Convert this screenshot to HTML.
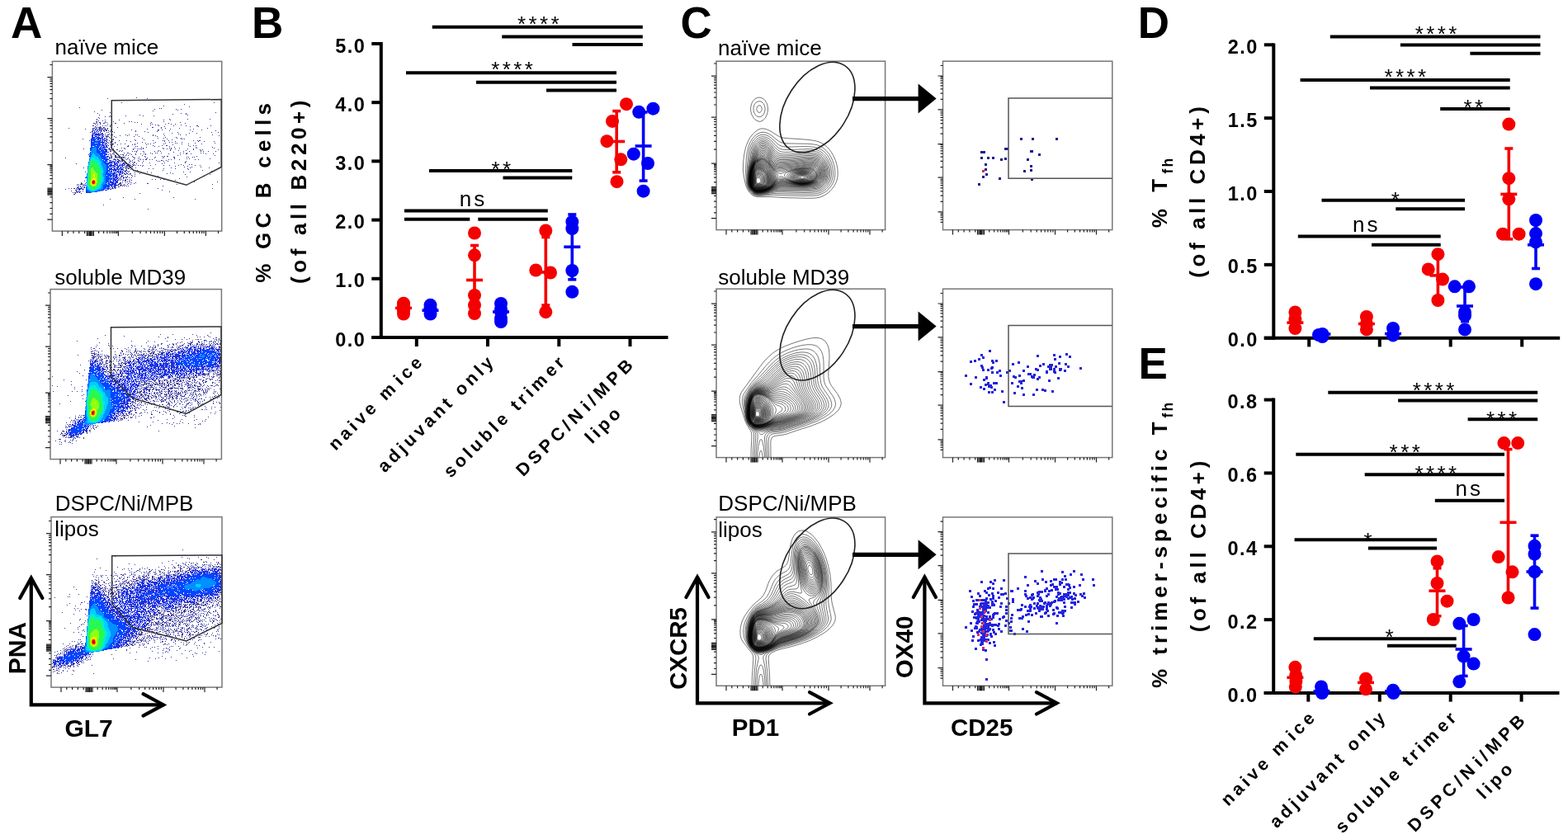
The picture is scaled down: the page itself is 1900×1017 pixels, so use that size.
<!DOCTYPE html>
<html><head><meta charset="utf-8"><title>Figure</title>
<style>
html,body{margin:0;padding:0;background:#fff;}
svg{display:block;font-family:'Liberation Sans', Arial, sans-serif;}
</style></head><body>
<svg width="1900" height="1017" viewBox="0 0 1900 1017">
<rect width="1900" height="1017" fill="#fff"/>
<text x="13.00" y="46.00" font-size="53" font-weight="bold" text-anchor="start" fill="#000">A</text>
<text x="305.00" y="46.00" font-size="53" font-weight="bold" text-anchor="start" fill="#000">B</text>
<text x="824.50" y="46.00" font-size="53" font-weight="bold" text-anchor="start" fill="#000">C</text>
<text x="1378.70" y="46.00" font-size="53" font-weight="bold" text-anchor="start" fill="#000">D</text>
<text x="1379.60" y="459.40" font-size="53" font-weight="bold" text-anchor="start" fill="#000">E</text>
<path fill="#38389c" d="M165 118h1v1h-1zm-35 1h1v1h-1zm48 0h1v1h-1zm-31 5h1v1h-1zm112 0h1v1h-1zm-36 2h1v1h-1zm-25 2h1v1h-1zm31 1h1v1h-1zm-133 1h1v1h-1zm97 1h1v1h-1zm2 0h1v1h-1zm-8 1h1v1h-1zm26 0h1v1h-1zm6 0h1v1h-1zm-96 1h1v1h-1zm92 0h1v1h-1zm-30 1h1v1h-1zm-71 1h1v1h-1zm19 1h1v1h-1zm128 0h1v1h-1zm-143 1h1v1h-1zm101 0h1v1h-1zm6 0h1v1h-1zm-16 1h1v1h-1zm16 0h1v1h-1zm-105 1h1v1h-1zm49 0h1v1h-1zm58 0h1v1h-1zm-94 1h1v1h-1zm19 0h1v1h-1zm21 0h1v1h-1zm13 0h1v1h-1zm-59 1h1v1h-1zm5 0h1v1h-1zm2 0h1v1h-1zm-15 1h1v1h-1zm1 1h1v1h-1zm-3 1h1v1h-1zm88 0h1v1h-1zm22 0h1v1h-1zm27 0h1v1h-1zm-137 1h1v1h-1zm10 0h1v1h-1zm17 0h1v1h-1zm54 0h1v1h-1zm8 0h1v1h-1zm-87 1h1v1h-1zm5 0h1v1h-1zm-8 1h2v1h-2zm11 0h1v1h-1zm10 0h1v1h-1zm19 0h1v1h-1zm3 0h1v1h-1zm39 0h1v1h-1zm-81 1h1v1h-1zm3 0h2v1h-2zm7 0h1v1h-1zm2 0h1v1h-1zm34 0h1v1h-1zm3 0h1v1h-1zm17 0h1v1h-1zm35 0h1v1h-1zm-105 1h2v1h-2zm3 0h1v1h-1zm5 0h1v1h-1zm4 0h2v1h-2zm14 0h2v1h-2zm11 0h1v1h-1zm32 0h1v1h-1zm22 0h1v1h-1zm20 0h1v1h-1zm-109 1h1v1h-1zm3 0h1v1h-1zm3 0h1v1h-1zm9 0h1v1h-1zm41 0h1v1h-1zm13 0h1v1h-1zm16 0h1v1h-1zm7 0h1v1h-1zm5 0h1v1h-1zm-78 1h1v1h-1zm48 0h1v1h-1zm6 0h1v1h-1zm3 0h1v1h-1zm28 0h1v1h-1zm-107 1h2v1h-2zm5 0h1v1h-1zm7 0h1v1h-1zm3 0h1v1h-1zm2 0h1v1h-1zm4 0h1v1h-1zm59 0h1v1h-1zm18 0h1v1h-1zm15 0h1v1h-1zm13 0h2v1h-2zm17 0h1v1h-1zm-140 1h1v1h-1zm6 0h1v1h-1zm12 0h1v1h-1zm66 0h1v1h-1zm31 0h1v1h-1zm10 0h1v1h-1zm-125 1h1v1h-1zm2 0h1v1h-1zm2 0h4v1h-4zm6 0h2v1h-2zm17 0h1v1h-1zm42 0h2v1h-2zm11 0h1v1h-1zm-112 1h1v1h-1zm29 0h3v1h-3zm4 0h2v1h-2zm4 0h2v1h-2zm3 0h1v1h-1zm2 0h1v1h-1zm2 0h1v1h-1zm3 0h1v1h-1zm5 0h1v1h-1zm60 0h1v1h-1zm5 0h1v1h-1zm17 0h1v1h-1zm34 0h1v1h-1zm-148 1h1v1h-1zm9 0h1v1h-1zm7 0h2v1h-2zm3 0h3v1h-3zm4 0h2v1h-2zm4 0h1v1h-1zm48 0h1v1h-1zm28 0h1v1h-1zm28 0h1v1h-1zm-122 1h2v1h-2zm6 0h1v1h-1zm2 0h1v1h-1zm2 0h1v1h-1zm3 0h1v1h-1zm2 0h3v1h-3zm7 0h1v1h-1zm25 0h1v1h-1zm32 0h2v1h-2zm5 0h1v1h-1zm34 0h1v1h-1zm14 0h1v1h-1zm-132 1h1v1h-1zm6 0h1v1h-1zm2 0h1v1h-1zm2 0h2v1h-2zm3 0h2v1h-2zm3 0h2v1h-2zm3 0h1v1h-1zm3 0h1v1h-1zm30 0h1v1h-1zm27 0h1v1h-1zm14 0h1v1h-1zm56 0h1v1h-1zm-150 1h1v1h-1zm15 0h1v1h-1zm7 0h1v1h-1zm2 0h2v1h-2zm29 0h1v1h-1zm11 0h1v1h-1zm15 0h1v1h-1zm43 0h1v1h-1zm-124 1h1v1h-1zm2 0h1v1h-1zm18 0h1v1h-1zm2 0h1v1h-1zm7 0h1v1h-1zm41 0h1v1h-1zm36 0h1v1h-1zm41 0h1v1h-1zm8 0h1v1h-1zm-140 1h1v1h-1zm84 0h1v1h-1zm21 0h1v1h-1zm9 0h1v1h-1zm-111 1h1v1h-1zm5 0h1v1h-1zm66 0h1v1h-1zm18 0h1v1h-1zm-91 1h1v1h-1zm5 0h2v1h-2zm4 0h1v1h-1zm2 0h1v1h-1zm16 0h1v1h-1zm4 0h1v1h-1zm8 0h1v1h-1zm2 0h1v1h-1zm19 0h1v1h-1zm33 0h1v1h-1zm7 0h1v1h-1zm32 0h1v1h-1zm-130 1h1v1h-1zm2 0h1v1h-1zm6 0h1v1h-1zm10 0h1v1h-1zm9 0h1v1h-1zm31 0h1v1h-1zm3 0h1v1h-1zm11 0h1v1h-1zm66 0h1v1h-1zm-137 1h4v1h-4zm10 0h1v1h-1zm24 0h1v1h-1zm6 0h1v1h-1zm22 0h1v1h-1zm-61 1h1v1h-1zm3 0h1v1h-1zm8 0h1v1h-1zm60 0h1v1h-1zm13 0h1v1h-1zm29 0h1v1h-1zm-113 1h1v1h-1zm4 0h1v1h-1zm39 0h1v1h-1zm19 0h1v1h-1zm7 0h1v1h-1zm16 0h1v1h-1zm5 0h1v1h-1zm-119 1h1v1h-1zm37 0h1v1h-1zm65 0h1v1h-1zm17 0h1v1h-1zm2 0h1v1h-1zm2 0h1v1h-1zm-94 1h2v1h-2zm7 0h2v1h-2zm27 0h1v1h-1zm11 0h1v1h-1zm34 0h1v1h-1zm-100 1h1v1h-1zm24 0h1v1h-1zm12 0h1v1h-1zm9 0h1v1h-1zm11 0h1v1h-1zm21 0h1v1h-1zm12 0h1v1h-1zm2 0h1v1h-1zm5 0h1v1h-1zm30 0h1v1h-1zm5 0h1v1h-1zm2 0h2v1h-2zm-107 1h3v1h-3zm24 0h1v1h-1zm41 0h1v1h-1zm13 0h1v1h-1zm28 0h1v1h-1zm7 0h1v1h-1zm12 0h1v1h-1zm-129 1h1v1h-1zm3 0h2v1h-2zm6 0h1v1h-1zm33 0h1v1h-1zm16 0h1v1h-1zm17 0h1v1h-1zm3 0h1v1h-1zm12 0h1v1h-1zm-89 1h1v1h-1zm8 0h1v1h-1zm27 0h1v1h-1zm10 0h1v1h-1zm10 0h1v1h-1zm14 0h1v1h-1zm12 0h1v1h-1zm2 0h1v1h-1zm22 0h1v1h-1zm24 0h1v1h-1zm-127 1h1v1h-1zm3 0h2v1h-2zm10 0h1v1h-1zm5 0h1v1h-1zm12 0h1v1h-1zm16 0h1v1h-1zm3 0h1v1h-1zm16 0h1v1h-1zm22 0h1v1h-1zm8 0h1v1h-1zm16 0h1v1h-1zm-114 1h1v1h-1zm4 0h1v1h-1zm2 0h1v1h-1zm6 0h1v1h-1zm18 0h1v1h-1zm3 0h1v1h-1zm14 0h1v1h-1zm32 0h1v1h-1zm-78 1h1v1h-1zm3 0h1v1h-1zm21 0h1v1h-1zm30 0h1v1h-1zm11 0h1v1h-1zm5 0h2v1h-2zm27 0h1v1h-1zm6 0h1v1h-1zm3 0h1v1h-1zm-99 1h1v1h-1zm16 0h2v1h-2zm10 0h1v1h-1zm2 0h1v1h-1zm21 0h1v1h-1zm5 0h1v1h-1zm13 0h1v1h-1zm25 0h1v1h-1zm-96 1h1v1h-1zm37 0h1v1h-1zm6 0h1v1h-1zm34 0h1v1h-1zm26 0h1v1h-1zm20 0h1v1h-1zm-125 1h1v1h-1zm15 0h1v1h-1zm3 0h1v1h-1zm13 0h1v1h-1zm10 0h1v1h-1zm24 0h1v1h-1zm8 0h1v1h-1zm2 0h1v1h-1zm10 0h1v1h-1zm21 0h1v1h-1zm21 0h1v1h-1zm-158 1h1v1h-1zm30 0h2v1h-2zm4 0h1v1h-1zm2 0h1v1h-1zm14 0h1v1h-1zm10 0h1v1h-1zm5 0h1v1h-1zm2 0h1v1h-1zm2 0h2v1h-2zm3 0h1v1h-1zm25 0h1v1h-1zm4 0h1v1h-1zm5 0h1v1h-1zm5 0h1v1h-1zm15 0h1v1h-1zm7 0h1v1h-1zm-102 1h3v1h-3zm4 0h1v1h-1zm5 0h2v1h-2zm20 0h1v1h-1zm45 0h1v1h-1zm28 0h1v1h-1zm8 0h1v1h-1zm3 0h1v1h-1zm19 0h1v1h-1zm-130 1h1v1h-1zm2 0h1v1h-1zm2 0h1v1h-1zm7 0h1v1h-1zm3 0h1v1h-1zm18 0h1v1h-1zm26 0h1v1h-1zm14 0h1v1h-1zm10 0h1v1h-1zm9 0h1v1h-1zm18 0h1v1h-1zm-110 1h2v1h-2zm11 0h1v1h-1zm3 0h1v1h-1zm13 0h1v1h-1zm3 0h1v1h-1zm2 0h1v1h-1zm8 0h1v1h-1zm14 0h1v1h-1zm4 0h1v1h-1zm3 0h1v1h-1zm28 0h1v1h-1zm7 0h1v1h-1zm14 0h1v1h-1zm3 0h1v1h-1zm6 0h1v1h-1zm9 0h1v1h-1zm-130 1h1v1h-1zm6 0h1v1h-1zm28 0h1v1h-1zm9 0h1v1h-1zm36 0h1v1h-1zm-72 1h1v1h-1zm12 0h1v1h-1zm4 0h2v1h-2zm28 0h1v1h-1zm6 0h1v1h-1zm2 0h1v1h-1zm5 0h1v1h-1zm23 0h1v1h-1zm4 0h1v1h-1zm4 0h1v1h-1zm17 0h1v1h-1zm3 0h1v1h-1zm-113 1h1v1h-1zm3 0h2v1h-2zm5 0h1v1h-1zm16 0h1v1h-1zm7 0h1v1h-1zm6 0h1v1h-1zm4 0h1v1h-1zm2 0h1v1h-1zm8 0h1v1h-1zm20 0h1v1h-1zm21 0h2v1h-2zm6 0h1v1h-1zm18 0h1v1h-1zm9 0h1v1h-1zm-124 1h1v1h-1zm4 0h1v1h-1zm4 0h1v1h-1zm4 0h1v1h-1zm2 0h2v1h-2zm5 0h1v1h-1zm6 0h1v1h-1zm5 0h1v1h-1zm12 0h1v1h-1zm42 0h1v1h-1zm-84 1h1v1h-1zm5 0h2v1h-2zm10 0h1v1h-1zm3 0h1v1h-1zm3 0h1v1h-1zm17 0h1v1h-1zm43 0h1v1h-1zm45 0h1v1h-1zm-126 1h2v1h-2zm5 0h2v1h-2zm21 0h1v1h-1zm15 0h1v1h-1zm21 0h1v1h-1zm3 0h1v1h-1zm3 0h2v1h-2zm36 0h1v1h-1zm-103 1h1v1h-1zm4 0h6v1h-6zm8 0h5v1h-5zm14 0h1v1h-1zm7 0h1v1h-1zm8 0h1v1h-1zm12 0h1v1h-1zm10 0h1v1h-1zm12 0h2v1h-2zm16 0h1v1h-1zm2 0h1v1h-1zm5 0h1v1h-1zm2 0h1v1h-1zm-156 1h1v1h-1zm54 0h3v1h-3zm7 0h1v1h-1zm4 0h1v1h-1zm5 0h1v1h-1zm6 0h1v1h-1zm7 0h2v1h-2zm16 0h1v1h-1zm9 0h1v1h-1zm10 0h1v1h-1zm14 0h1v1h-1zm-73 1h1v1h-1zm4 0h1v1h-1zm4 0h1v1h-1zm2 0h1v1h-1zm3 0h1v1h-1zm3 0h1v1h-1zm13 0h1v1h-1zm2 0h1v1h-1zm8 0h1v1h-1zm34 0h1v1h-1zm15 0h1v1h-1zm3 0h1v1h-1zm25 0h1v1h-1zm-117 1h4v1h-4zm5 0h2v1h-2zm5 0h2v1h-2zm6 0h1v1h-1zm3 0h1v1h-1zm6 0h1v1h-1zm8 0h1v1h-1zm3 0h1v1h-1zm3 0h2v1h-2zm5 0h1v1h-1zm3 0h1v1h-1zm20 0h1v1h-1zm3 0h1v1h-1zm10 0h1v1h-1zm19 0h1v1h-1zm4 0h1v1h-1zm-106 1h1v1h-1zm6 0h1v1h-1zm4 0h2v1h-2zm3 0h2v1h-2zm10 0h1v1h-1zm3 0h1v1h-1zm7 0h1v1h-1zm22 0h1v1h-1zm6 0h2v1h-2zm6 0h1v1h-1zm-56 1h1v1h-1zm2 0h2v1h-2zm3 0h2v1h-2zm8 0h1v1h-1zm10 0h1v1h-1zm5 0h1v1h-1zm18 0h1v1h-1zm2 0h1v1h-1zm5 0h1v1h-1zm5 0h1v1h-1zm22 0h1v1h-1zm-81 1h1v1h-1zm2 0h1v1h-1zm6 0h1v1h-1zm4 0h2v1h-2zm4 0h1v1h-1zm2 0h2v1h-2zm62 0h1v1h-1zm-74 1h2v1h-2zm12 0h1v1h-1zm10 0h1v1h-1zm9 0h1v1h-1zm18 0h1v1h-1zm12 0h1v1h-1zm13 0h1v1h-1zm41 0h1v1h-1zm-173 1h1v1h-1zm53 0h1v1h-1zm7 0h2v1h-2zm3 0h1v1h-1zm2 0h1v1h-1zm4 0h1v1h-1zm4 0h1v1h-1zm31 0h1v1h-1zm-45 1h1v1h-1zm4 0h2v1h-2zm5 0h1v1h-1zm2 0h1v1h-1zm26 0h1v1h-1zm31 0h1v1h-1zm10 0h1v1h-1zm3 0h1v1h-1zm-79 1h3v1h-3zm4 0h2v1h-2zm4 0h2v1h-2zm3 0h1v1h-1zm3 0h1v1h-1zm3 0h1v1h-1zm3 0h1v1h-1zm9 0h1v1h-1zm16 0h1v1h-1zm7 0h1v1h-1zm11 0h1v1h-1zm6 0h1v1h-1zm14 0h1v1h-1zm6 0h1v1h-1zm-90 1h4v1h-4zm7 0h2v1h-2zm13 0h1v1h-1zm40 0h1v1h-1zm15 0h1v1h-1zm-77 1h1v1h-1zm2 0h1v1h-1zm4 0h1v1h-1zm4 0h1v1h-1zm63 0h1v1h-1zm9 0h1v1h-1zm11 0h1v1h-1zm-142 1h1v1h-1zm48 0h1v1h-1zm3 0h4v1h-4zm5 0h1v1h-1zm7 0h1v1h-1zm43 0h1v1h-1zm23 0h1v1h-1zm23 0h1v1h-1zm-101 1h1v1h-1zm3 0h2v1h-2zm25 0h1v1h-1zm5 0h1v1h-1zm13 0h1v1h-1zm14 0h1v1h-1zm15 0h1v1h-1zm-78 1h1v1h-1zm4 0h1v1h-1zm5 0h1v1h-1zm2 0h1v1h-1zm68 0h1v1h-1zm-76 1h2v1h-2zm14 0h1v1h-1zm31 0h1v1h-1zm48 0h1v1h-1zm-94 1h2v1h-2zm3 0h1v1h-1zm2 0h1v1h-1zm100 0h1v1h-1zm-153 1h1v1h-1zm49 0h1v1h-1zm3 0h1v1h-1zm23 0h1v1h-1zm44 0h1v1h-1zm8 0h1v1h-1zm-77 1h1v1h-1zm10 0h1v1h-1zm20 0h1v1h-1zm23 0h1v1h-1zm-56 1h2v1h-2zm3 0h2v1h-2zm4 0h2v1h-2zm12 0h1v1h-1zm8 0h1v1h-1zm25 0h1v1h-1zm7 0h1v1h-1zm-58 1h2v1h-2zm4 0h1v1h-1zm2 0h1v1h-1zm6 0h1v1h-1zm61 0h1v1h-1zm30 0h1v1h-1zm-107 1h1v1h-1zm2 0h1v1h-1zm10 0h1v1h-1zm-15 1h1v1h-1zm3 0h2v1h-2zm7 0h1v1h-1zm6 0h1v1h-1zm3 0h1v1h-1zm28 0h1v1h-1zm56 0h1v1h-1zm-101 1h2v1h-2zm3 0h1v1h-1zm3 0h1v1h-1zm2 0h1v1h-1zm72 0h1v1h-1zm-81 1h1v1h-1zm4 0h2v1h-2zm3 0h2v1h-2zm4 0h1v1h-1zm3 0h1v1h-1zm34 0h1v1h-1zm-49 1h1v1h-1zm2 0h1v1h-1zm3 0h1v1h-1zm68 0h1v1h-1zm-72 1h1v1h-1zm2 0h1v1h-1zm5 0h1v1h-1zm2 0h1v1h-1zm3 0h1v1h-1zm27 0h1v1h-1zm4 0h1v1h-1zm6 0h1v1h-1zm4 0h1v1h-1zm-53 1h1v1h-1zm4 0h1v1h-1zm2 0h2v1h-2zm8 0h1v1h-1zm53 0h1v1h-1zm-110 1h1v1h-1zm46 0h1v1h-1zm3 0h2v1h-2zm5 0h2v1h-2zm-2 1h1v1h-1zm81 0h1v1h-1zm28 0h1v1h-1zm-165 1h1v1h-1zm47 0h2v1h-2zm3 0h1v1h-1zm4 0h1v1h-1zm5 0h1v1h-1zm2 0h1v1h-1zm5 0h1v1h-1zm-66 1h2v1h-2zm46 0h3v1h-3zm11 0h1v1h-1zm7 0h1v1h-1zm16 0h2v1h-2zm-84 1h1v1h-1zm3 0h3v1h-3zm4 0h1v1h-1zm42 0h2v1h-2zm3 0h1v1h-1zm4 0h1v1h-1zm4 0h1v1h-1zm4 0h1v1h-1zm56 0h1v1h-1zm43 0h1v1h-1zm-164 1h1v1h-1zm2 0h1v1h-1zm5 0h1v1h-1zm42 0h2v1h-2zm3 0h3v1h-3zm4 0h1v1h-1zm2 0h1v1h-1zm-54 1h1v1h-1zm49 0h1v1h-1zm2 0h1v1h-1zm2 0h1v1h-1zm3 0h1v1h-1zm2 0h1v1h-1zm42 0h1v1h-1zm-103 1h2v1h-2zm3 0h1v1h-1zm2 0h1v1h-1zm44 0h2v1h-2zm-50 1h1v1h-1zm5 0h1v1h-1zm40 0h3v1h-3zm-55 1h1v1h-1zm3 0h1v1h-1zm3 0h2v1h-2zm3 0h1v1h-1zm6 0h2v1h-2zm37 0h3v1h-3zm4 0h1v1h-1zm52 0h1v1h-1zm66 0h1v1h-1zm-178 1h1v1h-1zm14 0h1v1h-1zm6 0h3v1h-3zm34 0h2v1h-2zm-42 1h2v1h-2zm5 0h1v1h-1zm100 0h1v1h-1zm-110 1h1v1h-1zm6 0h1v1h-1zm8 0h1v1h-1zm-8 1h6v1h-6zm113 0h1v1h-1zm-117 1h1v1h-1zm2 0h2v1h-2zm3 0h1v1h-1zm3 0h1v1h-1zm-5 1h1v1h-1zm7 0h1v1h-1zm71 0h1v1h-1zm-80 1h2v1h-2zm60 4h1v1h-1zm61 0h1v1h-1zm-77 2h1v1h-1zm30 0h1v1h-1zm73 0h1v1h-1zm-111 7h1v1h-1zm54 5h1v1h-1z"/>
<path fill="#1e32e0" d="M115 156h1v1h-1zm6 0h1v1h-1zm-6 1h3v1h-3zm-1 1h1v1h-1zm7 0h1v1h-1zm-9 1h1v1h-1zm2 0h1v1h-1zm2 0h2v1h-2zm3 0h1v1h-1zm3 0h1v1h-1zm-8 1h2v1h-2zm4 0h1v1h-1zm3 0h1v1h-1zm-9 1h3v1h-3zm4 0h1v1h-1zm3 0h1v1h-1zm2 0h1v1h-1zm2 0h1v1h-1zm-11 1h1v1h-1zm2 0h7v1h-7zm8 0h3v1h-3zm-11 1h3v1h-3zm4 0h8v1h-8zm9 0h1v1h-1zm-13 1h2v1h-2zm3 0h2v1h-2zm3 0h1v1h-1zm2 0h2v1h-2zm4 0h2v1h-2zm-12 1h2v1h-2zm4 0h3v1h-3zm4 0h1v1h-1zm3 0h1v1h-1zm2 0h2v1h-2zm-13 1h3v1h-3zm4 0h1v1h-1zm2 0h4v1h-4zm6 0h2v1h-2zm-12 1h1v1h-1zm5 0h9v1h-9zm10 0h2v1h-2zm-16 1h2v1h-2zm8 0h5v1h-5zm6 0h1v1h-1zm2 0h1v1h-1zm2 0h1v1h-1zm-18 1h2v1h-2zm11 0h1v1h-1zm2 0h4v1h-4zm5 0h1v1h-1zm-18 1h1v1h-1zm11 0h2v1h-2zm3 0h1v1h-1zm2 0h3v1h-3zm-16 1h1v1h-1zm11 0h1v1h-1zm2 0h2v1h-2zm3 0h1v1h-1zm2 0h2v1h-2zm-18 1h1v1h-1zm11 0h6v1h-6zm-11 1h1v1h-1zm13 0h3v1h-3zm4 0h3v1h-3zm-17 1h1v1h-1zm14 0h1v1h-1zm2 0h1v1h-1zm2 0h1v1h-1zm-18 1h1v1h-1zm12 0h4v1h-4zm5 0h2v1h-2zm-17 1h1v1h-1zm13 0h4v1h-4zm5 0h2v1h-2zm-5 1h1v1h-1zm2 0h2v1h-2zm3 0h2v1h-2zm-4 1h7v1h-7zm-15 1h1v1h-1zm16 0h2v1h-2zm1 1h3v1h-3zm0 1h4v1h-4zm1 1h3v1h-3zm0 1h3v1h-3zm0 1h4v1h-4zm0 1h1v1h-1zm-19 1h1v1h-1zm19 0h3v1h-3zm-20 1h1v1h-1zm20 0h3v1h-3zm4 0h1v1h-1zm-4 1h1v1h-1zm2 1h3v1h-3zm-1 1h3v1h-3zm4 0h1v1h-1zm0 1h1v1h-1zm-3 1h2v1h-2zm3 0h1v1h-1zm-3 1h3v1h-3zm0 1h1v1h-1zm3 0h2v1h-2zm11 0h1v1h-1zm-13 1h1v1h-1zm3 0h1v1h-1zm2 0h3v1h-3zm4 0h1v1h-1zm3 0h2v1h-2zm-10 1h4v1h-4zm5 0h3v1h-3zm4 0h3v1h-3zm-10 1h6v1h-6zm7 0h2v1h-2zm3 0h1v1h-1zm2 0h1v1h-1zm6 0h1v1h-1zm-17 1h1v1h-1zm2 0h1v1h-1zm4 0h5v1h-5zm10 0h3v1h-3zm-15 1h3v1h-3zm5 0h3v1h-3zm4 0h1v1h-1zm3 0h1v1h-1zm2 0h2v1h-2zm3 0h1v1h-1zm-17 1h6v1h-6zm7 0h3v1h-3zm4 0h7v1h-7zm-11 1h3v1h-3zm4 0h3v1h-3zm5 0h3v1h-3zm6 0h1v1h-1zm-15 1h1v1h-1zm3 0h1v1h-1zm2 0h1v1h-1zm2 0h1v1h-1zm2 0h2v1h-2zm3 0h4v1h-4zm-11 1h2v1h-2zm3 0h2v1h-2zm4 0h3v1h-3zm5 0h1v1h-1zm-13 1h3v1h-3zm5 0h2v1h-2zm3 0h2v1h-2zm3 0h5v1h-5zm-11 1h12v1h-12zm13 0h3v1h-3zm-11 1h1v1h-1zm2 0h4v1h-4zm6 0h1v1h-1zm2 0h1v1h-1zm2 0h1v1h-1zm2 0h1v1h-1zm-15 1h2v1h-2zm3 0h1v1h-1zm2 0h5v1h-5zm6 0h2v1h-2zm3 0h1v1h-1zm2 0h1v1h-1zm-15 1h1v1h-1zm3 0h1v1h-1zm4 0h7v1h-7zm-5 1h5v1h-5zm6 0h1v1h-1zm2 0h2v1h-2zm3 0h2v1h-2zm-12 1h4v1h-4zm8 0h2v1h-2zm3 0h2v1h-2zm-10 1h2v1h-2zm3 0h3v1h-3zm4 0h3v1h-3zm-7 1h5v1h-5zm7 0h1v1h-1zm-7 1h2v1h-2zm3 0h3v1h-3zm-3 1h5v1h-5zm-34 1h1v1h-1zm34 0h1v1h-1zm2 0h5v1h-5zm-3 1h4v1h-4zm5 0h2v1h-2zm-7 1h2v1h-2zm3 0h5v1h-5zm6 0h1v1h-1zm-10 1h1v1h-1zm3 0h5v1h-5zm6 0h2v1h-2zm-9 1h2v1h-2zm4 0h1v1h-1zm2 0h4v1h-4zm-6 1h6v1h-6zm7 0h3v1h-3zm-7 1h5v1h-5zm6 0h4v1h-4zm-36 1h1v1h-1zm32 0h6v1h-6zm-1 1h7v1h-7zm-32 1h2v1h-2zm31 0h4v1h-4zm5 0h4v1h-4zm-37 1h1v1h-1zm31 0h1v1h-1zm2 0h2v1h-2zm3 0h4v1h-4zm-35 1h1v1h-1zm30 0h1v1h-1zm3 0h2v1h-2zm3 0h2v1h-2zm-44 1h1v1h-1zm7 0h2v1h-2zm30 0h1v1h-1zm2 0h1v1h-1zm3 0h1v1h-1zm-42 1h4v1h-4zm35 0h4v1h-4zm-34 1h3v1h-3zm35 0h2v1h-2zm-35 1h1v1h-1zm30 0h1v1h-1zm2 0h3v1h-3zm-4 1h1v1h-1zm-19 1h1v1h-1zm0 1h3v1h-3z"/>
<path fill="#0046ff" d="M114 166h1v1h-1zm-2 1h3v1h-3zm0 1h5v1h-5zm0 1h4v1h-4zm5 0h3v1h-3zm-6 1h5v1h-5zm6 0h1v1h-1zm2 0h2v1h-2zm-8 1h1v1h-1zm2 0h8v1h-8zm-2 1h10v1h-10zm0 1h4v1h-4zm5 0h1v1h-1zm2 0h4v1h-4zm-7 1h11v1h-11zm0 1h11v1h-11zm0 1h5v1h-5zm6 0h5v1h-5zm-7 1h2v1h-2zm4 0h7v1h-7zm8 0h1v1h-1zm-12 1h4v1h-4zm6 0h4v1h-4zm5 0h2v1h-2zm-11 1h2v1h-2zm7 0h8v1h-8zm-8 1h2v1h-2zm8 0h2v1h-2zm3 0h3v1h-3zm4 0h1v1h-1zm-15 1h2v1h-2zm8 0h9v1h-9zm-8 1h1v1h-1zm8 0h4v1h-4zm5 0h4v1h-4zm-5 1h10v1h-10zm-8 1h1v1h-1zm8 0h5v1h-5zm6 0h4v1h-4zm-14 1h1v1h-1zm9 0h9v1h-9zm-9 1h1v1h-1zm11 0h7v1h-7zm-11 1h1v1h-1zm12 0h4v1h-4zm5 0h1v1h-1zm-18 1h2v1h-2zm13 0h6v1h-6zm-13 1h2v1h-2zm14 0h6v1h-6zm-14 1h1v1h-1zm14 0h6v1h-6zm1 1h6v1h-6zm-15 1h1v1h-1zm15 0h6v1h-6zm2 1h4v1h-4zm-1 1h2v1h-2zm3 0h2v1h-2zm-2 1h5v1h-5zm-18 1h1v1h-1zm18 0h4v1h-4zm1 1h5v1h-5zm1 1h5v1h-5zm1 1h4v1h-4zm1 1h2v1h-2zm3 0h1v1h-1zm-3 1h4v1h-4zm0 1h3v1h-3zm0 1h4v1h-4zm0 1h2v1h-2zm3 0h1v1h-1zm-3 1h2v1h-2zm3 0h1v1h-1zm-3 1h5v1h-5zm0 1h4v1h-4zm-1 1h3v1h-3zm4 0h3v1h-3zm-4 1h4v1h-4zm5 0h1v1h-1zm2 0h1v1h-1zm-7 1h8v1h-8zm-1 1h8v1h-8zm9 0h1v1h-1zm-8 1h1v1h-1zm2 0h7v1h-7zm-2 1h8v1h-8zm-24 1h1v1h-1zm24 0h4v1h-4zm5 0h2v1h-2zm3 0h1v1h-1zm-32 1h1v1h-1zm24 0h6v1h-6zm7 0h1v1h-1zm-7 1h8v1h-8zm0 1h6v1h-6zm0 1h4v1h-4zm0 1h5v1h-5zm0 1h4v1h-4zm-24 1h1v1h-1zm24 0h2v1h-2zm3 0h2v1h-2zm-3 1h1v1h-1zm2 0h3v1h-3zm-3 1h3v1h-3zm4 0h3v1h-3zm-27 1h1v1h-1zm21 0h8v1h-8zm0 1h7v1h-7zm-21 1h1v1h-1zm21 0h7v1h-7zm-21 1h1v1h-1zm21 0h4v1h-4zm5 0h1v1h-1zm-26 1h1v1h-1zm21 0h4v1h-4zm-21 1h1v1h-1zm20 0h3v1h-3zm-20 1h2v1h-2zm17 0h4v1h-4zm-17 1h3v1h-3zm14 0h4v1h-4zm-13 1h4v1h-4zm10 0h3v1h-3zm-8 1h4v1h-4z"/>
<path fill="#0090ff" d="M114 178h2v1h-2zm-2 1h5v1h-5zm-1 1h6v1h-6zm0 1h6v1h-6zm-1 1h7v1h-7zm0 1h7v1h-7zm0 1h7v1h-7zm0 1h8v1h-8zm0 1h2v1h-2zm4 0h6v1h-6zm-4 1h2v1h-2zm5 0h6v1h-6zm-5 1h1v1h-1zm6 0h5v1h-5zm-6 1h1v1h-1zm7 0h5v1h-5zm-8 1h1v1h-1zm10 0h3v1h-3zm-10 1h1v1h-1zm10 0h4v1h-4zm1 1h3v1h-3zm-12 1h1v1h-1zm13 0h3v1h-3zm-13 1h1v1h-1zm14 0h2v1h-2zm0 1h3v1h-3zm1 1h2v1h-2zm-16 1h1v1h-1zm16 0h3v1h-3zm-16 1h1v1h-1zm16 0h4v1h-4zm-16 1h1v1h-1zm16 0h5v1h-5zm1 1h5v1h-5zm-18 1h1v1h-1zm18 0h5v1h-5zm-18 1h1v1h-1zm18 0h5v1h-5zm-18 1h1v1h-1zm19 0h4v1h-4zm-19 1h1v1h-1zm19 0h4v1h-4zm-19 1h1v1h-1zm19 0h4v1h-4zm0 1h4v1h-4zm1 1h3v1h-3zm0 1h2v1h-2zm-1 1h3v1h-3zm-20 1h1v1h-1zm20 0h3v1h-3zm-20 1h1v1h-1zm20 0h2v1h-2zm-20 1h1v1h-1zm20 0h3v1h-3zm-20 1h1v1h-1zm20 0h3v1h-3zm-20 1h1v1h-1zm21 0h2v1h-2zm-21 1h1v1h-1zm21 0h2v1h-2zm-21 1h1v1h-1zm21 0h2v1h-2zm-21 1h1v1h-1zm21 0h2v1h-2zm-21 1h1v1h-1zm21 0h2v1h-2zm-21 1h1v1h-1zm21 0h2v1h-2zm-1 1h3v1h-3zm0 1h3v1h-3zm-1 1h4v1h-4zm-1 1h4v1h-4zm0 1h2v1h-2zm0 1h2v1h-2zm-18 1h1v1h-1zm18 0h2v1h-2zm-18 1h1v1h-1zm17 0h3v1h-3zm-17 1h1v1h-1zm17 0h3v1h-3zm-17 1h2v1h-2zm14 0h5v1h-5zm-13 1h2v1h-2zm11 0h4v1h-4zm-10 1h3v1h-3zm8 0h3v1h-3zm-6 1h6v1h-6z"/>
<path fill="#00d0ff" d="M112 186h2v1h-2zm0 1h3v1h-3zm-1 1h5v1h-5zm0 1h6v1h-6zm-1 1h9v1h-9zm0 1h1v1h-1zm5 0h4v1h-4zm-6 1h2v1h-2zm6 0h5v1h-5zm-6 1h1v1h-1zm8 0h4v1h-4zm-8 1h1v1h-1zm10 0h3v1h-3zm-11 1h1v1h-1zm12 0h2v1h-2zm-12 1h1v1h-1zm13 0h2v1h-2zm-13 1h1v1h-1zm13 0h2v1h-2zm0 1h2v1h-2zm0 1h2v1h-2zm-14 1h1v1h-1zm14 0h3v1h-3zm-14 1h1v1h-1zm15 0h2v1h-2zm0 1h2v1h-2zm0 1h3v1h-3zm1 1h2v1h-2zm0 1h2v1h-2zm-17 1h1v1h-1zm18 0h1v1h-1zm-18 1h1v1h-1zm18 0h2v1h-2zm-18 1h1v1h-1zm18 0h2v1h-2zm-18 1h1v1h-1zm18 0h1v1h-1zm-18 1h1v1h-1zm17 0h2v1h-2zm-17 1h1v1h-1zm17 0h2v1h-2zm0 1h2v1h-2zm1 1h1v1h-1zm0 1h2v1h-2zm-18 1h1v1h-1zm18 0h2v1h-2zm-18 1h1v1h-1zm18 0h2v1h-2zm0 1h2v1h-2zm0 1h2v1h-2zm0 1h2v1h-2zm-19 1h1v1h-1zm18 0h2v1h-2zm-18 1h1v1h-1zm18 0h2v1h-2zm-18 1h1v1h-1zm17 0h2v1h-2zm-17 1h1v1h-1zm17 0h1v1h-1zm-17 1h1v1h-1zm16 0h2v1h-2zm-16 1h1v1h-1zm16 0h2v1h-2zm-15 1h1v1h-1zm14 0h3v1h-3zm-14 1h1v1h-1zm14 0h2v1h-2zm-14 1h2v1h-2zm12 0h4v1h-4zm-11 1h2v1h-2zm10 0h2v1h-2zm-9 1h2v1h-2zm7 0h2v1h-2zm-5 1h5v1h-5z"/>
<path fill="#00f0d0" d="M111 191h4v1h-4zm0 1h4v1h-4zm-1 1h7v1h-7zm0 1h1v1h-1zm3 0h6v1h-6zm-4 1h1v1h-1zm5 0h6v1h-6zm-5 1h1v1h-1zm7 0h5v1h-5zm1 1h4v1h-4zm-9 1h1v1h-1zm10 0h3v1h-3zm-10 1h1v1h-1zm11 0h2v1h-2zm-11 1h1v1h-1zm11 0h2v1h-2zm1 1h2v1h-2zm-13 1h1v1h-1zm13 0h2v1h-2zm-13 1h1v1h-1zm14 0h1v1h-1zm-14 1h1v1h-1zm14 0h2v1h-2zm-14 1h1v1h-1zm14 0h2v1h-2zm-14 1h1v1h-1zm15 0h2v1h-2zm0 1h2v1h-2zm0 1h2v1h-2zm0 1h2v1h-2zm0 1h1v1h-1zm0 1h1v1h-1zm-16 1h1v1h-1zm16 0h1v1h-1zm-16 1h1v1h-1zm16 0h2v1h-2zm-16 1h1v1h-1zm16 0h2v1h-2zm1 1h1v1h-1zm0 1h1v1h-1zm-17 1h1v1h-1zm16 0h2v1h-2zm-16 1h1v1h-1zm16 0h2v1h-2zm-16 1h1v1h-1zm16 0h2v1h-2zm-16 1h1v1h-1zm15 0h2v1h-2zm-15 1h1v1h-1zm15 0h2v1h-2zm-15 1h1v1h-1zm15 0h1v1h-1zm-15 1h1v1h-1zm14 0h2v1h-2zm-14 1h1v1h-1zm14 0h1v1h-1zm-14 1h1v1h-1zm13 0h2v1h-2zm-12 1h1v1h-1zm11 0h2v1h-2zm-11 1h2v1h-2zm10 0h3v1h-3zm-9 1h2v1h-2zm8 0h2v1h-2zm-7 1h2v1h-2zm6 0h2v1h-2zm-5 1h5v1h-5z"/>
<path fill="#28f850" d="M111 194h2v1h-2zm-1 1h4v1h-4zm0 1h6v1h-6zm-1 1h8v1h-8zm0 1h9v1h-9zm0 1h10v1h-10zm0 1h10v1h-10zm-1 1h12v1h-12zm0 1h12v1h-12zm0 1h3v1h-3zm5 0h8v1h-8zm-5 1h2v1h-2zm5 0h8v1h-8zm-5 1h2v1h-2zm5 0h8v1h-8zm-5 1h2v1h-2zm6 0h8v1h-8zm-7 1h3v1h-3zm8 0h7v1h-7zm-8 1h3v1h-3zm9 0h6v1h-6zm-9 1h3v1h-3zm10 0h5v1h-5zm-10 1h3v1h-3zm11 0h4v1h-4zm-11 1h3v1h-3zm11 0h4v1h-4zm-11 1h3v1h-3zm11 0h4v1h-4zm-11 1h3v1h-3zm11 0h4v1h-4zm-11 1h3v1h-3zm11 0h4v1h-4zm-11 1h3v1h-3zm11 0h5v1h-5zm-11 1h3v1h-3zm11 0h5v1h-5zm-11 1h3v1h-3zm11 0h4v1h-4zm-11 1h3v1h-3zm11 0h4v1h-4zm-11 1h2v1h-2zm11 0h4v1h-4zm-11 1h2v1h-2zm11 0h3v1h-3zm-11 1h2v1h-2zm11 0h3v1h-3zm-11 1h2v1h-2zm10 0h4v1h-4zm-10 1h2v1h-2zm10 0h3v1h-3zm-10 1h3v1h-3zm10 0h3v1h-3zm-10 1h4v1h-4zm9 0h3v1h-3zm-8 1h10v1h-10zm1 1h8v1h-8zm1 1h6v1h-6zm1 1h4v1h-4z"/>
<path fill="#90ff10" d="M111 203h2v1h-2zm-1 1h3v1h-3zm0 1h3v1h-3zm0 1h4v1h-4zm0 1h5v1h-5zm0 1h6v1h-6zm0 1h7v1h-7zm0 1h8v1h-8zm0 1h3v1h-3zm5 0h3v1h-3zm-5 1h3v1h-3zm5 0h3v1h-3zm-5 1h3v1h-3zm5 0h3v1h-3zm-5 1h4v1h-4zm5 0h3v1h-3zm-5 1h3v1h-3zm5 0h3v1h-3zm-5 1h2v1h-2zm6 0h2v1h-2zm-6 1h2v1h-2zm6 0h2v1h-2zm-6 1h1v1h-1zm6 0h2v1h-2zm-7 1h1v1h-1zm8 0h1v1h-1zm-8 1h1v1h-1zm8 0h1v1h-1zm-8 1h1v1h-1zm8 0h1v1h-1zm-8 1h1v1h-1zm7 0h1v1h-1zm-7 1h2v1h-2zm7 0h1v1h-1zm-6 1h2v1h-2zm5 0h2v1h-2zm-4 1h5v1h-5z"/>
<path fill="#e8ff00" d="M113 211h2v1h-2zm0 1h2v1h-2zm0 1h2v1h-2zm1 1h1v1h-1zm-1 1h2v1h-2zm-1 1h4v1h-4zm0 1h4v1h-4zm-1 1h1v1h-1zm4 0h1v1h-1zm-5 1h1v1h-1zm6 0h1v1h-1zm-6 1h1v1h-1zm6 0h1v1h-1zm-6 1h1v1h-1zm6 0h1v1h-1zm-6 1h1v1h-1zm1 1h1v1h-1zm4 0h1v1h-1zm-3 1h3v1h-3z"/>
<path fill="#ffb000" d="M112 218h1v1h-1zm2 0h1v1h-1zm-3 1h1v1h-1zm4 0h1v1h-1zm0 1h1v1h-1zm0 1h1v1h-1zm-4 1h1v1h-1zm4 0h1v1h-1zm-3 1h3v1h-3z"/>
<path fill="#ff5000" d="M113 218h1v1h-1zm-2 2h1v1h-1zm0 1h1v1h-1zm3 1h1v1h-1z"/>
<path fill="#e00000" d="M112 219h3v1h-3zm0 1h3v1h-3zm0 1h3v1h-3zm0 1h2v1h-2z"/>
<rect x="63.40" y="74.40" width="205.30" height="205.70" fill="none" stroke="#777" stroke-width="1.5"/>
<path d="M57.4 266.1H63.4M57.4 232.1H63.4M57.4 199.6H63.4M57.4 143.6H63.4M57.4 93.6H63.4M60.4 259.3H63.4M60.4 252.5H63.4M60.4 245.7H63.4M60.4 238.9H63.4M60.4 222.3H63.4M60.4 216.6H63.4M60.4 212.5H63.4M60.4 209.4H63.4M60.4 206.8H63.4M60.4 204.6H63.4M60.4 202.7H63.4M60.4 201.1H63.4M60.4 182.7H63.4M60.4 172.9H63.4M60.4 165.9H63.4M60.4 160.5H63.4M60.4 156.0H63.4M60.4 152.3H63.4M60.4 149.0H63.4M60.4 146.2H63.4M60.4 128.5H63.4M60.4 119.7H63.4M60.4 113.5H63.4M60.4 108.7H63.4M60.4 104.7H63.4M60.4 101.3H63.4M60.4 98.4H63.4M60.4 95.9H63.4M57.4 236.1H63.4M57.4 234.6H63.4M57.4 233.1H63.4M57.4 231.1H63.4M57.4 229.6H63.4M57.4 228.1H63.4M60.4 78.5H63.4M75.4 280.1V286.1M109.4 280.1V286.1M143.4 280.1V286.1M199.4 280.1V286.1M249.4 280.1V286.1M82.2 280.1V283.1M89.0 280.1V283.1M95.8 280.1V283.1M102.6 280.1V283.1M119.6 280.1V283.1M125.6 280.1V283.1M129.9 280.1V283.1M133.2 280.1V283.1M135.9 280.1V283.1M138.1 280.1V283.1M140.1 280.1V283.1M141.8 280.1V283.1M160.3 280.1V283.1M170.1 280.1V283.1M177.1 280.1V283.1M182.5 280.1V283.1M187.0 280.1V283.1M190.7 280.1V283.1M194.0 280.1V283.1M196.8 280.1V283.1M214.5 280.1V283.1M223.3 280.1V283.1M229.5 280.1V283.1M234.3 280.1V283.1M238.3 280.1V283.1M241.7 280.1V283.1M244.6 280.1V283.1M247.1 280.1V283.1M105.4 280.1V286.1M106.9 280.1V286.1M108.4 280.1V286.1M110.4 280.1V286.1M111.9 280.1V286.1M113.4 280.1V286.1M264.5 280.1V283.1" stroke="#222" stroke-width="1.2" fill="none"/>
<polyline points="135.3,180 135.3,121.7 268.2,120.5 268.2,202.5 225.8,224.3 162,206.5 135.3,180" fill="none" stroke="#333" stroke-width="1.5"/>
<path fill="#38389c" d="M255 403h1v1h-1zm-61 2h1v1h-1zm15 0h1v1h-1zm24 0h1v1h-1zm-106 1h1v1h-1zm111 0h1v1h-1zm13 0h1v1h-1zm-101 1h1v1h-1zm102 0h1v1h-1zm-60 1h1v1h-1zm11 0h1v1h-1zm36 0h1v1h-1zm3 0h1v1h-1zm5 0h1v1h-1zm7 0h1v1h-1zm-51 1h1v1h-1zm20 0h1v1h-1zm38 0h2v1h-2zm-143 1h1v1h-1zm82 0h1v1h-1zm29 0h1v1h-1zm29 0h1v1h-1zm7 0h1v1h-1zm-53 1h1v1h-1zm8 0h1v1h-1zm6 0h1v1h-1zm11 0h1v1h-1zm2 0h2v1h-2zm4 0h1v1h-1zm17 0h1v1h-1zm2 0h1v1h-1zm3 0h1v1h-1zm-32 1h1v1h-1zm14 0h3v1h-3zm15 0h1v1h-1zm2 0h1v1h-1zm2 0h1v1h-1zm-173 1h1v1h-1zm66 0h1v1h-1zm20 0h1v1h-1zm23 0h1v1h-1zm38 0h1v1h-1zm7 0h1v1h-1zm3 0h1v1h-1zm5 0h2v1h-2zm4 0h1v1h-1zm-72 1h1v1h-1zm33 0h1v1h-1zm10 0h1v1h-1zm2 0h2v1h-2zm8 0h2v1h-2zm4 0h1v1h-1zm9 0h2v1h-2zm5 0h1v1h-1zm2 0h2v1h-2zm4 0h1v1h-1zm3 0h1v1h-1zm-147 1h1v1h-1zm57 0h1v1h-1zm38 0h1v1h-1zm3 0h1v1h-1zm9 0h1v1h-1zm4 0h2v1h-2zm10 0h1v1h-1zm6 0h1v1h-1zm11 0h1v1h-1zm-127 1h1v1h-1zm64 0h2v1h-2zm14 0h1v1h-1zm4 0h1v1h-1zm10 0h1v1h-1zm5 0h4v1h-4zm10 0h2v1h-2zm6 0h2v1h-2zm9 0h1v1h-1zm3 0h1v1h-1zm3 0h1v1h-1zm3 0h2v1h-2zm4 0h2v1h-2zm-75 1h1v1h-1zm4 0h1v1h-1zm10 0h1v1h-1zm4 0h2v1h-2zm4 0h1v1h-1zm9 0h1v1h-1zm8 0h2v1h-2zm3 0h1v1h-1zm5 0h2v1h-2zm3 0h1v1h-1zm2 0h2v1h-2zm3 0h2v1h-2zm4 0h1v1h-1zm4 0h1v1h-1zm4 0h1v1h-1zm2 0h2v1h-2zm3 0h2v1h-2zm3 0h1v1h-1zm-149 1h1v1h-1zm14 0h1v1h-1zm28 0h1v1h-1zm27 0h1v1h-1zm5 0h1v1h-1zm12 0h1v1h-1zm7 0h1v1h-1zm10 0h2v1h-2zm7 0h2v1h-2zm3 0h1v1h-1zm5 0h1v1h-1zm3 0h1v1h-1zm4 0h1v1h-1zm2 0h2v1h-2zm5 0h1v1h-1zm5 0h2v1h-2zm3 0h1v1h-1zm-125 1h1v1h-1zm4 0h1v1h-1zm24 0h1v1h-1zm3 0h1v1h-1zm8 0h1v1h-1zm8 0h1v1h-1zm9 0h1v1h-1zm3 0h1v1h-1zm12 0h1v1h-1zm11 0h1v1h-1zm3 0h3v1h-3zm4 0h1v1h-1zm7 0h1v1h-1zm3 0h1v1h-1zm9 0h1v1h-1zm3 0h1v1h-1zm8 0h1v1h-1zm2 0h2v1h-2zm5 0h3v1h-3zm7 0h1v1h-1zm-149 1h1v1h-1zm66 0h1v1h-1zm3 0h1v1h-1zm3 0h1v1h-1zm16 0h1v1h-1zm4 0h2v1h-2zm8 0h1v1h-1zm8 0h2v1h-2zm3 0h1v1h-1zm38 0h2v1h-2zm-155 1h1v1h-1zm45 0h1v1h-1zm4 0h1v1h-1zm22 0h1v1h-1zm3 0h1v1h-1zm3 0h2v1h-2zm8 0h1v1h-1zm8 0h1v1h-1zm4 0h1v1h-1zm2 0h1v1h-1zm5 0h1v1h-1zm2 0h2v1h-2zm5 0h1v1h-1zm2 0h1v1h-1zm2 0h1v1h-1zm37 0h1v1h-1zm3 0h2v1h-2zm-152 1h2v1h-2zm7 0h1v1h-1zm13 0h1v1h-1zm4 0h1v1h-1zm5 0h1v1h-1zm9 0h1v1h-1zm13 0h1v1h-1zm10 0h1v1h-1zm11 0h1v1h-1zm8 0h1v1h-1zm2 0h1v1h-1zm2 0h2v1h-2zm18 0h1v1h-1zm3 0h2v1h-2zm3 0h1v1h-1zm-111 1h1v1h-1zm43 0h1v1h-1zm11 0h1v1h-1zm11 0h1v1h-1zm5 0h2v1h-2zm4 0h3v1h-3zm5 0h1v1h-1zm10 0h3v1h-3zm4 0h1v1h-1zm4 0h2v1h-2zm4 0h2v1h-2zm4 0h3v1h-3zm-100 1h1v1h-1zm32 0h1v1h-1zm8 0h1v1h-1zm2 0h1v1h-1zm7 0h1v1h-1zm15 0h1v1h-1zm4 0h1v1h-1zm5 0h1v1h-1zm7 0h1v1h-1zm2 0h1v1h-1zm6 0h1v1h-1zm2 0h2v1h-2zm4 0h2v1h-2zm3 0h3v1h-3zm-100 1h1v1h-1zm2 0h1v1h-1zm3 0h1v1h-1zm6 0h1v1h-1zm24 0h2v1h-2zm16 0h2v1h-2zm3 0h1v1h-1zm2 0h1v1h-1zm3 0h1v1h-1zm3 0h1v1h-1zm5 0h1v1h-1zm2 0h1v1h-1zm3 0h2v1h-2zm6 0h1v1h-1zm2 0h1v1h-1zm4 0h1v1h-1zm4 0h1v1h-1zm3 0h1v1h-1zm3 0h3v1h-3zm5 0h2v1h-2zm-101 1h2v1h-2zm9 0h1v1h-1zm20 0h1v1h-1zm9 0h1v1h-1zm5 0h1v1h-1zm2 0h1v1h-1zm2 0h1v1h-1zm6 0h1v1h-1zm2 0h1v1h-1zm4 0h2v1h-2zm5 0h1v1h-1zm2 0h1v1h-1zm3 0h3v1h-3zm7 0h2v1h-2zm7 0h2v1h-2zm4 0h1v1h-1zm11 0h2v1h-2zm-94 1h1v1h-1zm5 0h1v1h-1zm27 0h1v1h-1zm12 0h1v1h-1zm4 0h1v1h-1zm3 0h1v1h-1zm6 0h1v1h-1zm12 0h4v1h-4zm10 0h1v1h-1zm2 0h5v1h-5zm-85 1h5v1h-5zm6 0h1v1h-1zm30 0h1v1h-1zm3 0h1v1h-1zm10 0h1v1h-1zm6 0h1v1h-1zm2 0h1v1h-1zm7 0h1v1h-1zm3 0h1v1h-1zm4 0h3v1h-3zm4 0h2v1h-2zm6 0h1v1h-1zm-77 1h2v1h-2zm4 0h2v1h-2zm3 0h1v1h-1zm2 0h1v1h-1zm11 0h1v1h-1zm5 0h1v1h-1zm10 0h1v1h-1zm3 0h1v1h-1zm3 0h1v1h-1zm3 0h1v1h-1zm2 0h1v1h-1zm3 0h1v1h-1zm6 0h1v1h-1zm2 0h1v1h-1zm2 0h2v1h-2zm6 0h1v1h-1zm3 0h1v1h-1zm3 0h1v1h-1zm2 0h3v1h-3zm4 0h4v1h-4zm-97 1h1v1h-1zm17 0h1v1h-1zm3 0h1v1h-1zm3 0h1v1h-1zm2 0h1v1h-1zm7 0h1v1h-1zm3 0h1v1h-1zm11 0h1v1h-1zm4 0h2v1h-2zm3 0h1v1h-1zm7 0h1v1h-1zm5 0h1v1h-1zm4 0h1v1h-1zm3 0h3v1h-3zm4 0h3v1h-3zm4 0h1v1h-1zm2 0h2v1h-2zm4 0h1v1h-1zm4 0h1v1h-1zm5 0h1v1h-1zm3 0h1v1h-1zm-81 1h3v1h-3zm7 0h1v1h-1zm2 0h1v1h-1zm3 0h1v1h-1zm4 0h1v1h-1zm3 0h2v1h-2zm14 0h2v1h-2zm15 0h1v1h-1zm2 0h1v1h-1zm3 0h1v1h-1zm5 0h1v1h-1zm6 0h2v1h-2zm4 0h7v1h-7zm8 0h1v1h-1zm2 0h3v1h-3zm-76 1h4v1h-4zm6 0h1v1h-1zm2 0h2v1h-2zm6 0h1v1h-1zm2 0h1v1h-1zm2 0h2v1h-2zm6 0h1v1h-1zm2 0h1v1h-1zm2 0h1v1h-1zm10 0h1v1h-1zm5 0h1v1h-1zm3 0h1v1h-1zm6 0h1v1h-1zm10 0h1v1h-1zm4 0h1v1h-1zm6 0h1v1h-1zm2 0h1v1h-1zm-76 1h4v1h-4zm8 0h1v1h-1zm2 0h1v1h-1zm7 0h1v1h-1zm3 0h1v1h-1zm6 0h1v1h-1zm3 0h1v1h-1zm4 0h1v1h-1zm4 0h4v1h-4zm7 0h1v1h-1zm2 0h1v1h-1zm3 0h2v1h-2zm7 0h1v1h-1zm8 0h1v1h-1zm3 0h2v1h-2zm-66 1h2v1h-2zm5 0h1v1h-1zm2 0h1v1h-1zm3 0h1v1h-1zm4 0h1v1h-1zm2 0h1v1h-1zm3 0h1v1h-1zm7 0h1v1h-1zm12 0h2v1h-2zm7 0h1v1h-1zm7 0h2v1h-2zm12 0h2v1h-2zm-67 1h1v1h-1zm2 0h1v1h-1zm6 0h1v1h-1zm6 0h2v1h-2zm15 0h1v1h-1zm3 0h1v1h-1zm4 0h1v1h-1zm4 0h1v1h-1zm2 0h1v1h-1zm7 0h1v1h-1zm4 0h1v1h-1zm3 0h1v1h-1zm-55 1h1v1h-1zm7 0h1v1h-1zm3 0h4v1h-4zm9 0h1v1h-1zm3 0h1v1h-1zm2 0h1v1h-1zm10 0h1v1h-1zm5 0h1v1h-1zm2 0h2v1h-2zm3 0h1v1h-1zm2 0h1v1h-1zm5 0h2v1h-2zm-54 1h1v1h-1zm2 0h1v1h-1zm9 0h1v1h-1zm5 0h1v1h-1zm5 0h3v1h-3zm5 0h1v1h-1zm4 0h1v1h-1zm4 0h1v1h-1zm3 0h1v1h-1zm2 0h1v1h-1zm4 0h1v1h-1zm4 0h1v1h-1zm3 0h2v1h-2zm4 0h2v1h-2zm3 0h1v1h-1zm-55 1h1v1h-1zm9 0h1v1h-1zm2 0h1v1h-1zm2 0h1v1h-1zm2 0h1v1h-1zm4 0h1v1h-1zm4 0h2v1h-2zm3 0h1v1h-1zm8 0h1v1h-1zm8 0h2v1h-2zm9 0h2v1h-2zm3 0h1v1h-1zm2 0h1v1h-1zm-44 1h1v1h-1zm3 0h1v1h-1zm4 0h1v1h-1zm4 0h1v1h-1zm2 0h1v1h-1zm13 0h2v1h-2zm4 0h1v1h-1zm14 0h1v1h-1zm-43 1h1v1h-1zm2 0h1v1h-1zm4 0h3v1h-3zm6 0h1v1h-1zm3 0h1v1h-1zm6 0h2v1h-2zm3 0h2v1h-2zm3 0h4v1h-4zm15 0h1v1h-1zm-41 1h1v1h-1zm4 0h1v1h-1zm7 0h1v1h-1zm3 0h1v1h-1zm7 0h1v1h-1zm7 0h2v1h-2zm14 0h1v1h-1zm-68 1h1v1h-1zm28 0h2v1h-2zm4 0h1v1h-1zm3 0h2v1h-2zm6 0h2v1h-2zm5 0h1v1h-1zm2 0h4v1h-4zm7 0h1v1h-1zm-23 1h1v1h-1zm4 0h2v1h-2zm6 0h1v1h-1zm2 0h1v1h-1zm4 0h2v1h-2zm-20 1h2v1h-2zm3 0h2v1h-2zm4 0h1v1h-1zm2 0h1v1h-1zm4 0h2v1h-2zm8 0h2v1h-2zm3 0h3v1h-3zm-22 1h1v1h-1zm2 0h2v1h-2zm4 0h1v1h-1zm2 0h1v1h-1zm3 0h1v1h-1zm2 0h1v1h-1zm2 0h5v1h-5zm8 0h1v1h-1zm-20 1h1v1h-1zm3 0h1v1h-1zm15 0h1v1h-1zm2 0h1v1h-1zm116 0h1v1h-1zm-139 1h1v1h-1zm3 0h1v1h-1zm7 0h2v1h-2zm6 0h1v1h-1zm5 0h1v1h-1zm-46 1h1v1h-1zm26 0h1v1h-1zm4 0h2v1h-2zm3 0h1v1h-1zm2 0h3v1h-3zm5 0h2v1h-2zm3 0h2v1h-2zm118 0h3v1h-3zm-134 1h1v1h-1zm7 0h1v1h-1zm3 0h1v1h-1zm3 0h1v1h-1zm3 0h1v1h-1zm110 0h1v1h-1zm5 0h2v1h-2zm6 0h1v1h-1zm-173 1h1v1h-1zm34 0h2v1h-2zm3 0h3v1h-3zm10 0h1v1h-1zm5 0h1v1h-1zm101 0h1v1h-1zm7 0h1v1h-1zm3 0h1v1h-1zm2 0h1v1h-1zm5 0h1v1h-1zm3 0h1v1h-1zm-138 1h1v1h-1zm4 0h2v1h-2zm3 0h1v1h-1zm2 0h1v1h-1zm4 0h1v1h-1zm4 0h1v1h-1zm109 0h1v1h-1zm6 0h1v1h-1zm3 0h2v1h-2zm-167 1h1v1h-1zm34 0h1v1h-1zm8 0h1v1h-1zm3 0h1v1h-1zm4 0h1v1h-1zm4 0h1v1h-1zm98 0h1v1h-1zm5 0h2v1h-2zm6 0h1v1h-1zm3 0h1v1h-1zm5 0h1v1h-1zm-135 1h1v1h-1zm11 0h3v1h-3zm6 0h1v1h-1zm80 0h2v1h-2zm10 0h1v1h-1zm10 0h5v1h-5zm11 0h1v1h-1zm3 0h3v1h-3zm4 0h1v1h-1zm-126 1h2v1h-2zm3 0h2v1h-2zm83 0h1v1h-1zm2 0h1v1h-1zm2 0h1v1h-1zm7 0h1v1h-1zm3 0h3v1h-3zm4 0h5v1h-5zm8 0h2v1h-2zm6 0h1v1h-1zm6 0h3v1h-3zm-164 1h1v1h-1zm43 0h1v1h-1zm5 0h1v1h-1zm3 0h1v1h-1zm57 0h1v1h-1zm4 0h1v1h-1zm14 0h1v1h-1zm3 0h1v1h-1zm7 0h3v1h-3zm4 0h1v1h-1zm2 0h1v1h-1zm6 0h1v1h-1zm3 0h1v1h-1zm11 0h2v1h-2zm-199 1h1v1h-1zm78 0h3v1h-3zm4 0h1v1h-1zm2 0h1v1h-1zm2 0h2v1h-2zm59 0h2v1h-2zm4 0h1v1h-1zm2 0h1v1h-1zm13 0h1v1h-1zm2 0h1v1h-1zm2 0h1v1h-1zm2 0h1v1h-1zm2 0h1v1h-1zm3 0h1v1h-1zm7 0h1v1h-1zm8 0h1v1h-1zm3 0h1v1h-1zm2 0h2v1h-2zm8 0h1v1h-1zm-123 1h1v1h-1zm6 0h2v1h-2zm45 0h5v1h-5zm14 0h1v1h-1zm6 0h3v1h-3zm11 0h1v1h-1zm2 0h2v1h-2zm4 0h1v1h-1zm2 0h3v1h-3zm4 0h2v1h-2zm9 0h2v1h-2zm11 0h2v1h-2zm8 0h1v1h-1zm-72 1h1v1h-1zm2 0h1v1h-1zm8 0h3v1h-3zm7 0h1v1h-1zm2 0h1v1h-1zm2 0h1v1h-1zm3 0h2v1h-2zm3 0h1v1h-1zm2 0h2v1h-2zm3 0h1v1h-1zm2 0h4v1h-4zm7 0h1v1h-1zm17 0h1v1h-1zm2 0h1v1h-1zm12 0h1v1h-1zm-76 1h2v1h-2zm3 0h1v1h-1zm6 0h1v1h-1zm10 0h1v1h-1zm3 0h3v1h-3zm6 0h1v1h-1zm3 0h1v1h-1zm9 0h2v1h-2zm6 0h1v1h-1zm6 0h1v1h-1zm2 0h1v1h-1zm6 0h2v1h-2zm5 0h1v1h-1zm2 0h2v1h-2zm-179 1h1v1h-1zm27 0h1v1h-1zm84 0h1v1h-1zm4 0h1v1h-1zm7 0h4v1h-4zm7 0h1v1h-1zm4 0h1v1h-1zm2 0h1v1h-1zm2 0h3v1h-3zm4 0h1v1h-1zm4 0h1v1h-1zm3 0h1v1h-1zm4 0h1v1h-1zm4 0h1v1h-1zm2 0h2v1h-2zm7 0h1v1h-1zm4 0h1v1h-1zm8 0h2v1h-2zm9 0h1v1h-1zm-93 1h1v1h-1zm7 0h3v1h-3zm9 0h3v1h-3zm6 0h3v1h-3zm4 0h1v1h-1zm2 0h2v1h-2zm4 0h1v1h-1zm4 0h2v1h-2zm3 0h3v1h-3zm6 0h2v1h-2zm3 0h2v1h-2zm3 0h2v1h-2zm6 0h1v1h-1zm6 0h1v1h-1zm3 0h1v1h-1zm9 0h2v1h-2zm3 0h1v1h-1zm13 0h1v1h-1zm4 0h2v1h-2zm-179 1h1v1h-1zm83 0h1v1h-1zm2 0h1v1h-1zm6 0h1v1h-1zm3 0h4v1h-4zm7 0h1v1h-1zm5 0h2v1h-2zm4 0h1v1h-1zm6 0h1v1h-1zm2 0h1v1h-1zm2 0h1v1h-1zm4 0h1v1h-1zm3 0h3v1h-3zm4 0h3v1h-3zm8 0h1v1h-1zm3 0h3v1h-3zm7 0h1v1h-1zm4 0h1v1h-1zm6 0h1v1h-1zm4 0h2v1h-2zm-78 1h2v1h-2zm3 0h3v1h-3zm10 0h1v1h-1zm4 0h2v1h-2zm5 0h1v1h-1zm4 0h1v1h-1zm5 0h2v1h-2zm4 0h2v1h-2zm5 0h1v1h-1zm10 0h1v1h-1zm2 0h1v1h-1zm3 0h1v1h-1zm6 0h1v1h-1zm3 0h1v1h-1zm2 0h1v1h-1zm4 0h1v1h-1zm5 0h1v1h-1zm2 0h2v1h-2zm9 0h2v1h-2zm8 0h1v1h-1zm-90 1h1v1h-1zm2 0h5v1h-5zm8 0h2v1h-2zm5 0h1v1h-1zm2 0h3v1h-3zm4 0h2v1h-2zm3 0h1v1h-1zm3 0h2v1h-2zm3 0h1v1h-1zm5 0h1v1h-1zm3 0h4v1h-4zm7 0h1v1h-1zm6 0h3v1h-3zm7 0h1v1h-1zm3 0h1v1h-1zm2 0h1v1h-1zm3 0h1v1h-1zm5 0h1v1h-1zm11 0h1v1h-1zm3 0h1v1h-1zm-90 1h1v1h-1zm4 0h4v1h-4zm6 0h1v1h-1zm3 0h1v1h-1zm4 0h4v1h-4zm6 0h1v1h-1zm2 0h2v1h-2zm3 0h2v1h-2zm6 0h1v1h-1zm2 0h1v1h-1zm2 0h1v1h-1zm3 0h1v1h-1zm3 0h2v1h-2zm3 0h1v1h-1zm2 0h1v1h-1zm5 0h1v1h-1zm2 0h1v1h-1zm2 0h1v1h-1zm3 0h1v1h-1zm10 0h3v1h-3zm-155 1h1v1h-1zm85 0h4v1h-4zm6 0h1v1h-1zm2 0h1v1h-1zm2 0h2v1h-2zm3 0h2v1h-2zm3 0h2v1h-2zm3 0h3v1h-3zm4 0h1v1h-1zm3 0h1v1h-1zm2 0h1v1h-1zm2 0h1v1h-1zm2 0h2v1h-2zm3 0h2v1h-2zm5 0h2v1h-2zm5 0h2v1h-2zm4 0h1v1h-1zm4 0h1v1h-1zm2 0h1v1h-1zm2 0h2v1h-2zm3 0h1v1h-1zm4 0h2v1h-2zm8 0h1v1h-1zm4 0h1v1h-1zm15 0h2v1h-2zm-199 1h1v1h-1zm107 0h1v1h-1zm3 0h1v1h-1zm6 0h1v1h-1zm2 0h4v1h-4zm12 0h1v1h-1zm2 0h2v1h-2zm4 0h1v1h-1zm3 0h3v1h-3zm7 0h1v1h-1zm2 0h2v1h-2zm9 0h1v1h-1zm7 0h2v1h-2zm3 0h1v1h-1zm3 0h1v1h-1zm2 0h2v1h-2zm3 0h1v1h-1zm5 0h1v1h-1zm3 0h1v1h-1zm5 0h1v1h-1zm4 0h3v1h-3zm6 0h1v1h-1zm3 0h1v1h-1zm-195 1h1v1h-1zm30 0h1v1h-1zm70 0h1v1h-1zm2 0h1v1h-1zm6 0h1v1h-1zm2 0h1v1h-1zm4 0h1v1h-1zm4 0h1v1h-1zm8 0h2v1h-2zm6 0h1v1h-1zm3 0h1v1h-1zm5 0h1v1h-1zm7 0h2v1h-2zm4 0h1v1h-1zm3 0h1v1h-1zm4 0h1v1h-1zm3 0h1v1h-1zm2 0h1v1h-1zm4 0h1v1h-1zm3 0h4v1h-4zm6 0h1v1h-1zm7 0h1v1h-1zm7 0h1v1h-1zm-169 1h1v1h-1zm82 0h1v1h-1zm2 0h1v1h-1zm2 0h4v1h-4zm5 0h5v1h-5zm8 0h1v1h-1zm4 0h1v1h-1zm4 0h5v1h-5zm10 0h1v1h-1zm2 0h1v1h-1zm2 0h1v1h-1zm17 0h3v1h-3zm5 0h2v1h-2zm6 0h1v1h-1zm11 0h1v1h-1zm-82 1h1v1h-1zm3 0h1v1h-1zm3 0h1v1h-1zm12 0h1v1h-1zm2 0h1v1h-1zm6 0h1v1h-1zm6 0h1v1h-1zm5 0h5v1h-5zm6 0h6v1h-6zm7 0h4v1h-4zm9 0h3v1h-3zm4 0h1v1h-1zm4 0h1v1h-1zm5 0h1v1h-1zm3 0h1v1h-1zm10 0h1v1h-1zm2 0h1v1h-1zm-165 1h1v1h-1zm76 0h2v1h-2zm4 0h1v1h-1zm3 0h1v1h-1zm5 0h1v1h-1zm3 0h2v1h-2zm4 0h2v1h-2zm4 0h1v1h-1zm7 0h1v1h-1zm2 0h2v1h-2zm3 0h1v1h-1zm2 0h2v1h-2zm3 0h3v1h-3zm13 0h1v1h-1zm2 0h1v1h-1zm15 0h1v1h-1zm3 0h4v1h-4zm6 0h1v1h-1zm3 0h1v1h-1zm3 0h2v1h-2zm15 0h2v1h-2zm-167 1h1v1h-1zm66 0h1v1h-1zm4 0h1v1h-1zm4 0h1v1h-1zm5 0h4v1h-4zm6 0h2v1h-2zm4 0h6v1h-6zm9 0h1v1h-1zm2 0h1v1h-1zm4 0h2v1h-2zm13 0h1v1h-1zm5 0h1v1h-1zm6 0h1v1h-1zm2 0h1v1h-1zm4 0h1v1h-1zm7 0h3v1h-3zm5 0h1v1h-1zm4 0h1v1h-1zm4 0h1v1h-1zm6 0h1v1h-1zm-93 1h1v1h-1zm5 0h1v1h-1zm6 0h1v1h-1zm3 0h2v1h-2zm9 0h1v1h-1zm3 0h1v1h-1zm3 0h1v1h-1zm9 0h2v1h-2zm4 0h1v1h-1zm3 0h1v1h-1zm2 0h1v1h-1zm6 0h1v1h-1zm5 0h2v1h-2zm4 0h2v1h-2zm3 0h1v1h-1zm4 0h3v1h-3zm5 0h1v1h-1zm4 0h1v1h-1zm2 0h1v1h-1zm3 0h1v1h-1zm2 0h1v1h-1zm-187 1h1v1h-1zm23 0h1v1h-1zm6 0h1v1h-1zm6 0h1v1h-1zm67 0h1v1h-1zm3 0h3v1h-3zm11 0h2v1h-2zm4 0h1v1h-1zm9 0h1v1h-1zm2 0h2v1h-2zm4 0h1v1h-1zm2 0h1v1h-1zm2 0h3v1h-3zm4 0h2v1h-2zm5 0h2v1h-2zm8 0h1v1h-1zm3 0h1v1h-1zm3 0h1v1h-1zm9 0h1v1h-1zm2 0h1v1h-1zm2 0h1v1h-1zm2 0h1v1h-1zm5 0h1v1h-1zm3 0h1v1h-1zm2 0h1v1h-1zm8 0h1v1h-1zm2 0h1v1h-1zm-95 1h5v1h-5zm7 0h1v1h-1zm4 0h1v1h-1zm10 0h1v1h-1zm3 0h1v1h-1zm3 0h2v1h-2zm7 0h1v1h-1zm4 0h1v1h-1zm2 0h2v1h-2zm5 0h1v1h-1zm2 0h1v1h-1zm2 0h2v1h-2zm3 0h1v1h-1zm3 0h1v1h-1zm2 0h3v1h-3zm9 0h1v1h-1zm2 0h1v1h-1zm2 0h1v1h-1zm10 0h1v1h-1zm2 0h1v1h-1zm2 0h1v1h-1zm10 0h1v1h-1zm-94 1h1v1h-1zm3 0h1v1h-1zm4 0h1v1h-1zm4 0h2v1h-2zm4 0h1v1h-1zm2 0h1v1h-1zm3 0h2v1h-2zm3 0h2v1h-2zm3 0h1v1h-1zm3 0h2v1h-2zm8 0h2v1h-2zm6 0h1v1h-1zm4 0h1v1h-1zm3 0h1v1h-1zm2 0h1v1h-1zm3 0h1v1h-1zm6 0h1v1h-1zm3 0h1v1h-1zm4 0h1v1h-1zm12 0h3v1h-3zm4 0h1v1h-1zm8 0h1v1h-1zm5 0h1v1h-1zm-95 1h1v1h-1zm2 0h2v1h-2zm5 0h1v1h-1zm5 0h2v1h-2zm7 0h1v1h-1zm3 0h1v1h-1zm4 0h2v1h-2zm5 0h1v1h-1zm2 0h1v1h-1zm3 0h1v1h-1zm2 0h3v1h-3zm5 0h2v1h-2zm3 0h5v1h-5zm10 0h2v1h-2zm7 0h1v1h-1zm2 0h1v1h-1zm3 0h2v1h-2zm5 0h2v1h-2zm18 0h1v1h-1zm-158 1h1v1h-1zm69 0h3v1h-3zm5 0h3v1h-3zm8 0h1v1h-1zm5 0h1v1h-1zm3 0h1v1h-1zm2 0h1v1h-1zm6 0h4v1h-4zm6 0h1v1h-1zm2 0h1v1h-1zm7 0h1v1h-1zm2 0h1v1h-1zm3 0h1v1h-1zm5 0h1v1h-1zm6 0h1v1h-1zm2 0h1v1h-1zm2 0h1v1h-1zm3 0h1v1h-1zm3 0h1v1h-1zm3 0h1v1h-1zm3 0h1v1h-1zm2 0h1v1h-1zm16 0h1v1h-1zm-182 1h1v1h-1zm17 0h1v1h-1zm68 0h1v1h-1zm3 0h2v1h-2zm3 0h1v1h-1zm3 0h1v1h-1zm2 0h3v1h-3zm6 0h2v1h-2zm3 0h1v1h-1zm5 0h1v1h-1zm2 0h1v1h-1zm7 0h1v1h-1zm4 0h2v1h-2zm4 0h1v1h-1zm3 0h3v1h-3zm6 0h2v1h-2zm5 0h1v1h-1zm6 0h1v1h-1zm4 0h1v1h-1zm5 0h1v1h-1zm5 0h1v1h-1zm18 0h1v1h-1zm5 0h1v1h-1zm-100 1h1v1h-1zm2 0h2v1h-2zm4 0h2v1h-2zm3 0h1v1h-1zm4 0h2v1h-2zm3 0h1v1h-1zm4 0h1v1h-1zm2 0h2v1h-2zm4 0h1v1h-1zm2 0h1v1h-1zm5 0h3v1h-3zm4 0h1v1h-1zm2 0h1v1h-1zm2 0h1v1h-1zm2 0h1v1h-1zm2 0h1v1h-1zm3 0h2v1h-2zm6 0h4v1h-4zm12 0h1v1h-1zm3 0h1v1h-1zm3 0h1v1h-1zm3 0h1v1h-1zm18 0h2v1h-2zm-93 1h1v1h-1zm3 0h1v1h-1zm2 0h1v1h-1zm2 0h1v1h-1zm6 0h1v1h-1zm4 0h1v1h-1zm3 0h1v1h-1zm2 0h2v1h-2zm7 0h2v1h-2zm10 0h2v1h-2zm3 0h2v1h-2zm5 0h2v1h-2zm6 0h1v1h-1zm9 0h1v1h-1zm6 0h1v1h-1zm15 0h1v1h-1zm5 0h1v1h-1zm3 0h1v1h-1zm8 0h1v1h-1zm-96 1h1v1h-1zm2 0h1v1h-1zm3 0h2v1h-2zm3 0h4v1h-4zm6 0h2v1h-2zm6 0h1v1h-1zm3 0h1v1h-1zm5 0h2v1h-2zm4 0h2v1h-2zm3 0h1v1h-1zm4 0h2v1h-2zm4 0h1v1h-1zm2 0h1v1h-1zm10 0h1v1h-1zm2 0h1v1h-1zm6 0h1v1h-1zm2 0h1v1h-1zm4 0h1v1h-1zm20 0h1v1h-1zm2 0h1v1h-1zm3 0h1v1h-1zm-163 1h1v1h-1zm65 0h4v1h-4zm5 0h1v1h-1zm5 0h3v1h-3zm5 0h1v1h-1zm8 0h1v1h-1zm8 0h1v1h-1zm8 0h2v1h-2zm5 0h2v1h-2zm4 0h2v1h-2zm4 0h1v1h-1zm2 0h2v1h-2zm4 0h1v1h-1zm2 0h1v1h-1zm5 0h1v1h-1zm3 0h1v1h-1zm3 0h1v1h-1zm5 0h1v1h-1zm2 0h2v1h-2zm12 0h1v1h-1zm3 0h1v1h-1zm-93 1h1v1h-1zm2 0h1v1h-1zm5 0h1v1h-1zm3 0h3v1h-3zm6 0h1v1h-1zm9 0h1v1h-1zm3 0h1v1h-1zm2 0h2v1h-2zm4 0h3v1h-3zm9 0h1v1h-1zm14 0h1v1h-1zm5 0h1v1h-1zm7 0h1v1h-1zm2 0h2v1h-2zm4 0h1v1h-1zm7 0h1v1h-1zm8 0h1v1h-1zm-92 1h2v1h-2zm6 0h1v1h-1zm4 0h1v1h-1zm4 0h2v1h-2zm8 0h2v1h-2zm9 0h1v1h-1zm2 0h1v1h-1zm2 0h1v1h-1zm2 0h1v1h-1zm5 0h1v1h-1zm6 0h1v1h-1zm4 0h1v1h-1zm3 0h1v1h-1zm7 0h1v1h-1zm2 0h1v1h-1zm4 0h1v1h-1zm5 0h1v1h-1zm2 0h1v1h-1zm9 0h1v1h-1zm7 0h1v1h-1zm-169 1h1v1h-1zm75 0h2v1h-2zm4 0h1v1h-1zm2 0h2v1h-2zm9 0h1v1h-1zm7 0h1v1h-1zm4 0h2v1h-2zm3 0h1v1h-1zm2 0h1v1h-1zm4 0h4v1h-4zm11 0h1v1h-1zm5 0h1v1h-1zm8 0h1v1h-1zm6 0h1v1h-1zm11 0h1v1h-1zm3 0h1v1h-1zm3 0h1v1h-1zm3 0h1v1h-1zm13 0h1v1h-1zm-99 1h3v1h-3zm4 0h1v1h-1zm6 0h1v1h-1zm2 0h1v1h-1zm5 0h1v1h-1zm3 0h2v1h-2zm16 0h1v1h-1zm6 0h2v1h-2zm3 0h1v1h-1zm3 0h1v1h-1zm4 0h1v1h-1zm4 0h1v1h-1zm5 0h1v1h-1zm3 0h1v1h-1zm6 0h1v1h-1zm10 0h2v1h-2zm23 0h1v1h-1zm3 0h1v1h-1zm-107 1h1v1h-1zm3 0h1v1h-1zm2 0h1v1h-1zm8 0h1v1h-1zm15 0h1v1h-1zm18 0h1v1h-1zm4 0h1v1h-1zm20 0h1v1h-1zm2 0h1v1h-1zm2 0h1v1h-1zm8 0h1v1h-1zm2 0h1v1h-1zm16 0h1v1h-1zm8 0h1v1h-1zm-194 1h1v1h-1zm85 0h2v1h-2zm3 0h1v1h-1zm4 0h1v1h-1zm3 0h1v1h-1zm2 0h1v1h-1zm6 0h2v1h-2zm6 0h1v1h-1zm2 0h1v1h-1zm2 0h1v1h-1zm2 0h1v1h-1zm16 0h3v1h-3zm10 0h1v1h-1zm4 0h2v1h-2zm9 0h3v1h-3zm13 0h1v1h-1zm2 0h1v1h-1zm4 0h1v1h-1zm13 0h1v1h-1zm8 0h1v1h-1zm-106 1h1v1h-1zm6 0h1v1h-1zm4 0h1v1h-1zm8 0h1v1h-1zm5 0h1v1h-1zm5 0h1v1h-1zm5 0h1v1h-1zm3 0h2v1h-2zm7 0h1v1h-1zm2 0h1v1h-1zm7 0h1v1h-1zm9 0h1v1h-1zm5 0h1v1h-1zm6 0h1v1h-1zm8 0h1v1h-1zm3 0h1v1h-1zm3 0h1v1h-1zm-88 1h2v1h-2zm3 0h2v1h-2zm5 0h1v1h-1zm2 0h1v1h-1zm3 0h1v1h-1zm2 0h1v1h-1zm28 0h1v1h-1zm4 0h1v1h-1zm2 0h1v1h-1zm4 0h1v1h-1zm14 0h1v1h-1zm5 0h1v1h-1zm10 0h1v1h-1zm-82 1h1v1h-1zm4 0h2v1h-2zm32 0h1v1h-1zm4 0h1v1h-1zm4 0h1v1h-1zm8 0h1v1h-1zm4 0h1v1h-1zm11 0h1v1h-1zm23 0h1v1h-1zm-91 1h1v1h-1zm2 0h1v1h-1zm4 0h1v1h-1zm3 0h1v1h-1zm4 0h1v1h-1zm7 0h1v1h-1zm10 0h1v1h-1zm2 0h1v1h-1zm4 0h1v1h-1zm7 0h1v1h-1zm3 0h3v1h-3zm7 0h1v1h-1zm10 0h1v1h-1zm3 0h2v1h-2zm11 0h1v1h-1zm2 0h1v1h-1zm20 0h1v1h-1zm4 0h1v1h-1zm7 0h1v1h-1zm-110 1h1v1h-1zm3 0h1v1h-1zm4 0h2v1h-2zm3 0h1v1h-1zm25 0h1v1h-1zm32 0h1v1h-1zm4 0h1v1h-1zm2 0h1v1h-1zm3 0h1v1h-1zm16 0h1v1h-1zm-92 1h2v1h-2zm3 0h1v1h-1zm2 0h2v1h-2zm6 0h1v1h-1zm32 0h1v1h-1zm21 0h1v1h-1zm11 0h1v1h-1zm2 0h1v1h-1zm22 0h1v1h-1zm-102 1h1v1h-1zm10 0h1v1h-1zm9 0h1v1h-1zm4 0h1v1h-1zm28 0h2v1h-2zm13 0h1v1h-1zm12 0h2v1h-2zm14 0h2v1h-2zm4 0h1v1h-1zm2 0h1v1h-1zm-92 1h1v1h-1zm2 0h1v1h-1zm3 0h2v1h-2zm12 0h1v1h-1zm10 0h1v1h-1zm3 0h1v1h-1zm15 0h1v1h-1zm7 0h1v1h-1zm15 0h1v1h-1zm3 0h1v1h-1zm38 0h1v1h-1zm-115 1h2v1h-2zm3 0h2v1h-2zm3 0h3v1h-3zm33 0h1v1h-1zm8 0h1v1h-1zm7 0h1v1h-1zm16 0h2v1h-2zm4 0h1v1h-1zm-73 1h1v1h-1zm4 0h2v1h-2zm8 0h1v1h-1zm11 0h1v1h-1zm8 0h1v1h-1zm10 0h1v1h-1zm7 0h1v1h-1zm14 0h2v1h-2zm4 0h1v1h-1zm6 0h1v1h-1zm37 0h1v1h-1zm-111 1h1v1h-1zm5 0h3v1h-3zm9 0h2v1h-2zm6 0h2v1h-2zm8 0h1v1h-1zm15 0h1v1h-1zm8 0h1v1h-1zm17 0h2v1h-2zm9 0h1v1h-1zm2 0h1v1h-1zm26 0h1v1h-1zm-106 1h1v1h-1zm3 0h2v1h-2zm4 0h1v1h-1zm3 0h1v1h-1zm10 0h1v1h-1zm14 0h1v1h-1zm23 0h1v1h-1zm11 0h1v1h-1zm43 0h1v1h-1zm-114 1h1v1h-1zm3 0h1v1h-1zm4 0h1v1h-1zm4 0h1v1h-1zm2 0h1v1h-1zm3 0h1v1h-1zm21 0h2v1h-2zm14 0h1v1h-1zm9 0h1v1h-1zm18 0h1v1h-1zm-128 1h1v1h-1zm2 0h1v1h-1zm2 0h1v1h-1zm44 0h2v1h-2zm4 0h4v1h-4zm5 0h3v1h-3zm8 0h1v1h-1zm10 0h1v1h-1zm39 0h1v1h-1zm11 0h1v1h-1zm2 0h1v1h-1zm12 0h1v1h-1zm-144 1h1v1h-1zm52 0h1v1h-1zm4 0h1v1h-1zm4 0h1v1h-1zm13 0h1v1h-1zm4 0h1v1h-1zm56 0h2v1h-2zm-129 1h1v1h-1zm2 0h2v1h-2zm52 0h2v1h-2zm6 0h1v1h-1zm3 0h1v1h-1zm2 0h1v1h-1zm26 0h1v1h-1zm25 0h1v1h-1zm24 0h1v1h-1zm17 0h1v1h-1zm-168 1h1v1h-1zm7 0h1v1h-1zm4 0h1v1h-1zm50 0h1v1h-1zm5 0h2v1h-2zm8 0h2v1h-2zm6 0h1v1h-1zm18 0h2v1h-2zm-91 1h1v1h-1zm51 0h1v1h-1zm4 0h3v1h-3zm4 0h1v1h-1zm3 0h1v1h-1zm56 0h1v1h-1zm-117 1h1v1h-1zm2 0h1v1h-1zm49 0h1v1h-1zm3 0h1v1h-1zm2 0h1v1h-1zm54 0h1v1h-1zm18 0h1v1h-1zm18 0h1v1h-1zm11 0h1v1h-1zm-163 1h1v1h-1zm3 0h2v1h-2zm4 0h1v1h-1zm48 0h1v1h-1zm4 0h1v1h-1zm2 0h1v1h-1zm8 0h1v1h-1zm36 0h1v1h-1zm44 0h1v1h-1zm-147 1h1v1h-1zm3 0h1v1h-1zm47 0h1v1h-1zm5 0h1v1h-1zm75 0h1v1h-1zm27 0h1v1h-1zm3 0h1v1h-1zm-163 1h1v1h-1zm5 0h2v1h-2zm78 0h1v1h-1zm17 0h1v1h-1zm-105 1h1v1h-1zm8 0h1v1h-1zm114 0h1v1h-1zm8 0h1v1h-1zm11 0h1v1h-1zm-25 1h1v1h-1zm9 0h1v1h-1zm9 0h1v1h-1zm3 0h1v1h-1zm11 0h1v1h-1zm14 0h1v1h-1zm-161 1h1v1h-1zm3 0h2v1h-2zm3 0h1v1h-1zm121 0h1v1h-1zm28 0h1v1h-1zm4 0h1v1h-1zm2 0h1v1h-1zm-159 1h1v1h-1zm99 0h1v1h-1zm-103 1h1v1h-1zm4 0h1v1h-1zm2 0h1v1h-1zm33 0h1v1h-1zm93 0h1v1h-1zm-131 1h1v1h-1zm3 0h2v1h-2zm29 0h1v1h-1zm4 0h1v1h-1zm62 0h1v1h-1zm-99 1h1v1h-1zm2 0h1v1h-1zm32 0h1v1h-1zm3 0h1v1h-1zm120 0h1v1h-1zm-126 1h1v1h-1zm3 0h1v1h-1zm-33 1h1v1h-1zm34 0h1v1h-1zm-6 1h2v1h-2zm-39 1h1v1h-1zm6 0h3v1h-3zm5 0h1v1h-1zm25 0h1v1h-1zm3 0h1v1h-1zm84 0h1v1h-1zm-115 1h1v1h-1zm3 0h1v1h-1zm24 0h2v1h-2zm5 0h1v1h-1zm-35 1h1v1h-1zm6 0h1v1h-1zm21 0h1v1h-1zm4 0h1v1h-1zm-31 1h2v1h-2zm4 0h2v1h-2zm27 0h1v1h-1zm-32 1h1v1h-1zm7 0h1v1h-1zm-5 1h6v1h-6zm2 1h2v1h-2zm17 0h1v1h-1zm-18 1h1v1h-1zm4 0h1v1h-1zm12 0h3v1h-3zm-13 1h1v1h-1zm3 0h5v1h-5zm6 0h1v1h-1zm2 0h1v1h-1zm4 0h1v1h-1zm2 0h1v1h-1zm5 0h1v1h-1zm-12 1h1v1h-1zm2 0h1v1h-1zm10 0h1v1h-1zm-30 1h3v1h-3zm17 0h1v1h-1zm-9 1h1v1h-1zm6 0h1v1h-1zm3 0h1v1h-1zm-21 1h1v1h-1zm11 0h1v1h-1zm9 0h1v1h-1zm5 0h1v1h-1zm-20 1h1v1h-1zm7 0h1v1h-1zm5 0h1v1h-1zm-10 1h1v1h-1zm9 0h1v1h-1zm2 0h1v1h-1zm2 1h1v1h-1zm-15 1h1v1h-1zm2 0h1v1h-1z"/>
<path fill="#1e32e0" d="M233 419h2v1h-2zm4 0h1v1h-1zm9 0h2v1h-2zm10 0h1v1h-1zm-25 1h1v1h-1zm2 0h1v1h-1zm2 0h2v1h-2zm3 0h1v1h-1zm2 0h1v1h-1zm3 0h1v1h-1zm2 0h1v1h-1zm3 0h6v1h-6zm8 0h2v1h-2zm-30 1h2v1h-2zm4 0h3v1h-3zm4 0h4v1h-4zm6 0h1v1h-1zm2 0h2v1h-2zm4 0h2v1h-2zm4 0h1v1h-1zm3 0h1v1h-1zm2 0h6v1h-6zm-30 1h1v1h-1zm2 0h1v1h-1zm2 0h3v1h-3zm6 0h1v1h-1zm2 0h1v1h-1zm2 0h5v1h-5zm7 0h2v1h-2zm3 0h1v1h-1zm4 0h6v1h-6zm8 0h1v1h-1zm4 0h1v1h-1zm-46 1h1v1h-1zm2 0h2v1h-2zm4 0h1v1h-1zm2 0h7v1h-7zm8 0h3v1h-3zm4 0h1v1h-1zm3 0h6v1h-6zm8 0h5v1h-5zm6 0h4v1h-4zm5 0h7v1h-7zm-41 1h1v1h-1zm2 0h2v1h-2zm5 0h1v1h-1zm2 0h2v1h-2zm3 0h1v1h-1zm3 0h6v1h-6zm7 0h2v1h-2zm3 0h4v1h-4zm10 0h1v1h-1zm2 0h1v1h-1zm2 0h2v1h-2zm3 0h4v1h-4zm5 0h1v1h-1zm-51 1h1v1h-1zm2 0h4v1h-4zm5 0h8v1h-8zm9 0h2v1h-2zm3 0h2v1h-2zm3 0h4v1h-4zm7 0h1v1h-1zm11 0h4v1h-4zm7 0h2v1h-2zm3 0h2v1h-2zm-64 1h1v1h-1zm2 0h2v1h-2zm3 0h1v1h-1zm9 0h2v1h-2zm3 0h5v1h-5zm6 0h1v1h-1zm3 0h2v1h-2zm3 0h2v1h-2zm3 0h3v1h-3zm4 0h3v1h-3zm22 0h3v1h-3zm4 0h2v1h-2zm-63 1h1v1h-1zm2 0h3v1h-3zm8 0h2v1h-2zm4 0h5v1h-5zm6 0h5v1h-5zm6 0h3v1h-3zm5 0h5v1h-5zm7 0h1v1h-1zm24 0h1v1h-1zm2 0h1v1h-1zm-70 1h3v1h-3zm6 0h4v1h-4zm5 0h1v1h-1zm2 0h3v1h-3zm5 0h1v1h-1zm3 0h3v1h-3zm4 0h3v1h-3zm6 0h4v1h-4zm6 0h1v1h-1zm3 0h4v1h-4zm28 0h4v1h-4zm-68 1h3v1h-3zm4 0h1v1h-1zm2 0h3v1h-3zm4 0h5v1h-5zm6 0h6v1h-6zm9 0h2v1h-2zm3 0h2v1h-2zm3 0h1v1h-1zm3 0h1v1h-1zm35 0h3v1h-3zm-69 1h1v1h-1zm2 0h1v1h-1zm2 0h1v1h-1zm2 0h4v1h-4zm5 0h1v1h-1zm3 0h1v1h-1zm3 0h7v1h-7zm8 0h5v1h-5zm6 0h2v1h-2zm38 0h4v1h-4zm-92 1h2v1h-2zm22 0h1v1h-1zm2 0h1v1h-1zm2 0h2v1h-2zm3 0h1v1h-1zm2 0h2v1h-2zm3 0h2v1h-2zm3 0h13v1h-13zm56 0h1v1h-1zm-94 1h1v1h-1zm2 0h1v1h-1zm16 0h1v1h-1zm2 0h1v1h-1zm3 0h2v1h-2zm5 0h5v1h-5zm6 0h2v1h-2zm3 0h10v1h-10zm12 0h1v1h-1zm43 0h2v1h-2zm3 0h2v1h-2zm-98 1h3v1h-3zm4 0h3v1h-3zm12 0h2v1h-2zm3 0h1v1h-1zm2 0h3v1h-3zm4 0h9v1h-9zm10 0h3v1h-3zm5 0h2v1h-2zm4 0h3v1h-3zm4 0h3v1h-3zm4 0h1v1h-1zm43 0h5v1h-5zm-95 1h2v1h-2zm3 0h2v1h-2zm4 0h1v1h-1zm4 0h1v1h-1zm2 0h3v1h-3zm6 0h1v1h-1zm3 0h2v1h-2zm5 0h5v1h-5zm6 0h1v1h-1zm2 0h1v1h-1zm3 0h1v1h-1zm2 0h3v1h-3zm4 0h4v1h-4zm5 0h4v1h-4zm46 0h5v1h-5zm-150 1h1v1h-1zm53 0h3v1h-3zm4 0h1v1h-1zm2 0h1v1h-1zm2 0h1v1h-1zm4 0h2v1h-2zm4 0h2v1h-2zm3 0h4v1h-4zm5 0h1v1h-1zm2 0h3v1h-3zm4 0h1v1h-1zm2 0h6v1h-6zm7 0h1v1h-1zm3 0h1v1h-1zm3 0h1v1h-1zm2 0h2v1h-2zm3 0h4v1h-4zm45 0h3v1h-3zm4 0h3v1h-3zm-153 1h1v1h-1zm3 0h2v1h-2zm51 0h3v1h-3zm4 0h3v1h-3zm5 0h1v1h-1zm2 0h9v1h-9zm10 0h1v1h-1zm3 0h1v1h-1zm2 0h1v1h-1zm3 0h2v1h-2zm3 0h4v1h-4zm5 0h8v1h-8zm9 0h2v1h-2zm3 0h1v1h-1zm2 0h1v1h-1zm43 0h4v1h-4zm5 0h3v1h-3zm-155 1h1v1h-1zm2 0h1v1h-1zm2 0h3v1h-3zm53 0h2v1h-2zm6 0h8v1h-8zm10 0h3v1h-3zm8 0h3v1h-3zm4 0h11v1h-11zm12 0h3v1h-3zm4 0h2v1h-2zm3 0h2v1h-2zm46 0h3v1h-3zm4 0h4v1h-4zm-153 1h2v1h-2zm3 0h4v1h-4zm39 0h1v1h-1zm2 0h4v1h-4zm11 0h5v1h-5zm6 0h6v1h-6zm7 0h4v1h-4zm5 0h5v1h-5zm6 0h2v1h-2zm4 0h1v1h-1zm2 0h2v1h-2zm3 0h1v1h-1zm2 0h2v1h-2zm5 0h5v1h-5zm6 0h2v1h-2zm47 0h1v1h-1zm2 0h1v1h-1zm2 0h5v1h-5zm-154 1h1v1h-1zm3 0h4v1h-4zm42 0h4v1h-4zm5 0h1v1h-1zm4 0h1v1h-1zm4 0h3v1h-3zm4 0h2v1h-2zm3 0h1v1h-1zm3 0h2v1h-2zm3 0h1v1h-1zm2 0h3v1h-3zm5 0h2v1h-2zm3 0h1v1h-1zm2 0h1v1h-1zm6 0h1v1h-1zm2 0h2v1h-2zm4 0h1v1h-1zm2 0h8v1h-8zm54 0h2v1h-2zm3 0h1v1h-1zm2 0h2v1h-2zm-156 1h5v1h-5zm8 0h2v1h-2zm3 0h2v1h-2zm33 0h1v1h-1zm2 0h3v1h-3zm4 0h1v1h-1zm2 0h3v1h-3zm7 0h4v1h-4zm5 0h1v1h-1zm4 0h1v1h-1zm2 0h3v1h-3zm4 0h2v1h-2zm3 0h5v1h-5zm7 0h3v1h-3zm4 0h9v1h-9zm10 0h5v1h-5zm6 0h2v1h-2zm46 0h4v1h-4zm6 0h2v1h-2zm-156 1h4v1h-4zm5 0h2v1h-2zm4 0h1v1h-1zm2 0h1v1h-1zm2 0h1v1h-1zm35 0h2v1h-2zm3 0h3v1h-3zm7 0h1v1h-1zm3 0h2v1h-2zm3 0h2v1h-2zm3 0h2v1h-2zm5 0h5v1h-5zm6 0h5v1h-5zm6 0h3v1h-3zm4 0h7v1h-7zm10 0h5v1h-5zm6 0h3v1h-3zm46 0h5v1h-5zm6 0h1v1h-1zm-156 1h4v1h-4zm6 0h2v1h-2zm3 0h4v1h-4zm38 0h3v1h-3zm5 0h2v1h-2zm8 0h4v1h-4zm5 0h2v1h-2zm4 0h2v1h-2zm3 0h5v1h-5zm9 0h2v1h-2zm3 0h6v1h-6zm7 0h6v1h-6zm7 0h4v1h-4zm5 0h5v1h-5zm31 0h2v1h-2zm15 0h4v1h-4zm5 0h2v1h-2zm4 0h1v1h-1zm-157 1h6v1h-6zm7 0h3v1h-3zm36 0h7v1h-7zm8 0h1v1h-1zm3 0h2v1h-2zm3 0h1v1h-1zm2 0h1v1h-1zm3 0h2v1h-2zm3 0h2v1h-2zm4 0h7v1h-7zm11 0h2v1h-2zm3 0h10v1h-10zm12 0h7v1h-7zm9 0h2v1h-2zm27 0h1v1h-1zm2 0h3v1h-3zm4 0h2v1h-2zm6 0h6v1h-6zm8 0h7v1h-7zm-152 1h2v1h-2zm3 0h2v1h-2zm3 0h9v1h-9zm37 0h1v1h-1zm5 0h1v1h-1zm2 0h1v1h-1zm2 0h1v1h-1zm2 0h2v1h-2zm3 0h7v1h-7zm8 0h2v1h-2zm4 0h2v1h-2zm4 0h3v1h-3zm7 0h5v1h-5zm6 0h4v1h-4zm5 0h6v1h-6zm7 0h5v1h-5zm6 0h4v1h-4zm5 0h2v1h-2zm9 0h3v1h-3zm14 0h8v1h-8zm9 0h6v1h-6zm7 0h9v1h-9zm10 0h1v1h-1zm-159 1h3v1h-3zm11 0h3v1h-3zm5 0h1v1h-1zm29 0h2v1h-2zm3 0h5v1h-5zm9 0h5v1h-5zm6 0h3v1h-3zm4 0h4v1h-4zm6 0h1v1h-1zm2 0h1v1h-1zm2 0h4v1h-4zm6 0h2v1h-2zm3 0h9v1h-9zm10 0h2v1h-2zm3 0h9v1h-9zm11 0h2v1h-2zm3 0h3v1h-3zm4 0h1v1h-1zm2 0h3v1h-3zm4 0h2v1h-2zm9 0h1v1h-1zm4 0h4v1h-4zm5 0h1v1h-1zm2 0h1v1h-1zm2 0h1v1h-1zm2 0h4v1h-4zm5 0h1v1h-1zm3 0h1v1h-1zm2 0h1v1h-1zm-157 1h2v1h-2zm11 0h3v1h-3zm4 0h3v1h-3zm29 0h1v1h-1zm2 0h2v1h-2zm4 0h2v1h-2zm3 0h2v1h-2zm3 0h4v1h-4zm6 0h4v1h-4zm6 0h5v1h-5zm6 0h3v1h-3zm4 0h4v1h-4zm5 0h2v1h-2zm3 0h1v1h-1zm3 0h3v1h-3zm6 0h2v1h-2zm3 0h3v1h-3zm4 0h2v1h-2zm3 0h7v1h-7zm8 0h5v1h-5zm7 0h2v1h-2zm3 0h2v1h-2zm3 0h1v1h-1zm2 0h6v1h-6zm8 0h3v1h-3zm5 0h1v1h-1zm3 0h2v1h-2zm4 0h2v1h-2zm6 0h3v1h-3zm-153 1h1v1h-1zm10 0h3v1h-3zm4 0h4v1h-4zm29 0h1v1h-1zm3 0h2v1h-2zm3 0h2v1h-2zm3 0h2v1h-2zm5 0h11v1h-11zm12 0h9v1h-9zm10 0h1v1h-1zm2 0h10v1h-10zm11 0h1v1h-1zm2 0h3v1h-3zm4 0h2v1h-2zm3 0h1v1h-1zm2 0h3v1h-3zm4 0h1v1h-1zm3 0h3v1h-3zm4 0h2v1h-2zm4 0h1v1h-1zm2 0h3v1h-3zm4 0h3v1h-3zm4 0h17v1h-17zm18 0h1v1h-1zm5 0h1v1h-1zm2 0h1v1h-1zm-154 1h1v1h-1zm11 0h4v1h-4zm5 0h3v1h-3zm24 0h3v1h-3zm4 0h1v1h-1zm3 0h2v1h-2zm3 0h1v1h-1zm2 0h2v1h-2zm3 0h3v1h-3zm4 0h5v1h-5zm6 0h5v1h-5zm6 0h1v1h-1zm2 0h2v1h-2zm4 0h1v1h-1zm3 0h2v1h-2zm3 0h5v1h-5zm6 0h5v1h-5zm7 0h2v1h-2zm3 0h6v1h-6zm7 0h8v1h-8zm9 0h4v1h-4zm6 0h13v1h-13zm14 0h1v1h-1zm2 0h2v1h-2zm4 0h1v1h-1zm2 0h1v1h-1zm2 0h1v1h-1zm3 0h3v1h-3zm6 0h1v1h-1zm-154 1h1v1h-1zm11 0h3v1h-3zm4 0h2v1h-2zm24 0h1v1h-1zm3 0h6v1h-6zm7 0h6v1h-6zm7 0h1v1h-1zm4 0h2v1h-2zm4 0h6v1h-6zm7 0h9v1h-9zm10 0h4v1h-4zm5 0h1v1h-1zm2 0h1v1h-1zm3 0h4v1h-4zm5 0h2v1h-2zm4 0h4v1h-4zm5 0h2v1h-2zm3 0h1v1h-1zm2 0h6v1h-6zm7 0h1v1h-1zm2 0h2v1h-2zm3 0h3v1h-3zm4 0h2v1h-2zm3 0h2v1h-2zm5 0h1v1h-1zm2 0h1v1h-1zm2 0h1v1h-1zm4 0h2v1h-2zm3 0h2v1h-2zm4 0h3v1h-3zm-149 1h1v1h-1zm12 0h1v1h-1zm2 0h2v1h-2zm3 0h2v1h-2zm21 0h2v1h-2zm3 0h3v1h-3zm4 0h6v1h-6zm7 0h3v1h-3zm5 0h1v1h-1zm3 0h2v1h-2zm3 0h3v1h-3zm4 0h1v1h-1zm3 0h1v1h-1zm2 0h4v1h-4zm7 0h5v1h-5zm6 0h2v1h-2zm3 0h1v1h-1zm2 0h4v1h-4zm5 0h3v1h-3zm5 0h9v1h-9zm10 0h2v1h-2zm4 0h2v1h-2zm3 0h8v1h-8zm9 0h2v1h-2zm3 0h2v1h-2zm5 0h1v1h-1zm2 0h2v1h-2zm8 0h1v1h-1zm-131 1h1v1h-1zm3 0h2v1h-2zm22 0h1v1h-1zm2 0h1v1h-1zm3 0h1v1h-1zm2 0h1v1h-1zm2 0h1v1h-1zm3 0h6v1h-6zm7 0h1v1h-1zm3 0h2v1h-2zm4 0h1v1h-1zm4 0h2v1h-2zm3 0h1v1h-1zm2 0h2v1h-2zm3 0h5v1h-5zm7 0h2v1h-2zm5 0h2v1h-2zm3 0h2v1h-2zm3 0h10v1h-10zm12 0h2v1h-2zm3 0h1v1h-1zm2 0h1v1h-1zm2 0h1v1h-1zm3 0h2v1h-2zm6 0h3v1h-3zm6 0h3v1h-3zm6 0h2v1h-2zm3 0h1v1h-1zm-138 1h1v1h-1zm16 0h3v1h-3zm10 0h2v1h-2zm3 0h2v1h-2zm10 0h1v1h-1zm2 0h1v1h-1zm3 0h10v1h-10zm11 0h1v1h-1zm2 0h3v1h-3zm4 0h4v1h-4zm5 0h4v1h-4zm6 0h2v1h-2zm4 0h5v1h-5zm6 0h1v1h-1zm2 0h1v1h-1zm2 0h4v1h-4zm5 0h4v1h-4zm5 0h1v1h-1zm2 0h1v1h-1zm2 0h5v1h-5zm6 0h3v1h-3zm4 0h3v1h-3zm4 0h3v1h-3zm4 0h2v1h-2zm4 0h3v1h-3zm4 0h2v1h-2zm4 0h7v1h-7zm8 0h2v1h-2zm-138 1h1v1h-1zm18 0h2v1h-2zm9 0h2v1h-2zm12 0h2v1h-2zm7 0h4v1h-4zm5 0h1v1h-1zm2 0h1v1h-1zm2 0h3v1h-3zm4 0h4v1h-4zm5 0h3v1h-3zm4 0h3v1h-3zm6 0h1v1h-1zm3 0h1v1h-1zm3 0h8v1h-8zm9 0h1v1h-1zm2 0h7v1h-7zm8 0h1v1h-1zm3 0h1v1h-1zm2 0h1v1h-1zm2 0h4v1h-4zm5 0h4v1h-4zm5 0h1v1h-1zm2 0h2v1h-2zm7 0h1v1h-1zm2 0h1v1h-1zm6 0h2v1h-2zm3 0h1v1h-1zm2 0h3v1h-3zm-119 1h2v1h-2zm4 0h1v1h-1zm3 0h7v1h-7zm14 0h1v1h-1zm8 0h5v1h-5zm7 0h1v1h-1zm2 0h1v1h-1zm4 0h6v1h-6zm7 0h2v1h-2zm3 0h2v1h-2zm4 0h5v1h-5zm8 0h1v1h-1zm2 0h4v1h-4zm5 0h7v1h-7zm9 0h2v1h-2zm3 0h1v1h-1zm3 0h2v1h-2zm3 0h2v1h-2zm4 0h2v1h-2zm3 0h3v1h-3zm10 0h1v1h-1zm2 0h1v1h-1zm2 0h1v1h-1zm-129 1h1v1h-1zm20 0h3v1h-3zm4 0h8v1h-8zm15 0h2v1h-2zm8 0h2v1h-2zm3 0h1v1h-1zm2 0h1v1h-1zm2 0h2v1h-2zm5 0h3v1h-3zm4 0h4v1h-4zm5 0h3v1h-3zm5 0h1v1h-1zm3 0h2v1h-2zm4 0h3v1h-3zm8 0h5v1h-5zm6 0h1v1h-1zm3 0h2v1h-2zm3 0h1v1h-1zm8 0h1v1h-1zm2 0h3v1h-3zm4 0h1v1h-1zm2 0h2v1h-2zm11 0h1v1h-1zm-106 1h6v1h-6zm8 0h2v1h-2zm3 0h1v1h-1zm7 0h1v1h-1zm6 0h4v1h-4zm6 0h2v1h-2zm4 0h3v1h-3zm4 0h1v1h-1zm2 0h2v1h-2zm3 0h2v1h-2zm4 0h1v1h-1zm2 0h1v1h-1zm2 0h1v1h-1zm3 0h2v1h-2zm4 0h2v1h-2zm3 0h3v1h-3zm4 0h5v1h-5zm10 0h4v1h-4zm14 0h2v1h-2zm5 0h2v1h-2zm-95 1h2v1h-2zm3 0h1v1h-1zm2 0h4v1h-4zm8 0h1v1h-1zm13 0h3v1h-3zm4 0h1v1h-1zm2 0h2v1h-2zm3 0h3v1h-3zm4 0h3v1h-3zm4 0h3v1h-3zm4 0h3v1h-3zm4 0h2v1h-2zm3 0h2v1h-2zm3 0h1v1h-1zm2 0h1v1h-1zm2 0h1v1h-1zm2 0h1v1h-1zm2 0h1v1h-1zm12 0h3v1h-3zm13 0h1v1h-1zm2 0h5v1h-5zm-89 1h3v1h-3zm4 0h6v1h-6zm7 0h2v1h-2zm4 0h1v1h-1zm3 0h1v1h-1zm4 0h6v1h-6zm7 0h2v1h-2zm6 0h1v1h-1zm2 0h1v1h-1zm2 0h9v1h-9zm10 0h1v1h-1zm2 0h1v1h-1zm2 0h1v1h-1zm2 0h2v1h-2zm4 0h2v1h-2zm-59 1h3v1h-3zm4 0h1v1h-1zm2 0h3v1h-3zm4 0h2v1h-2zm5 0h3v1h-3zm4 0h3v1h-3zm5 0h5v1h-5zm6 0h1v1h-1zm3 0h2v1h-2zm3 0h1v1h-1zm2 0h1v1h-1zm2 0h1v1h-1zm2 0h1v1h-1zm2 0h2v1h-2zm4 0h3v1h-3zm4 0h4v1h-4zm5 0h1v1h-1zm-54 1h1v1h-1zm2 0h2v1h-2zm3 0h3v1h-3zm4 0h5v1h-5zm6 0h2v1h-2zm3 0h2v1h-2zm4 0h2v1h-2zm4 0h1v1h-1zm2 0h1v1h-1zm2 0h3v1h-3zm4 0h1v1h-1zm3 0h2v1h-2zm3 0h1v1h-1zm2 0h1v1h-1zm5 0h2v1h-2zm4 0h3v1h-3zm-54 1h2v1h-2zm3 0h4v1h-4zm5 0h1v1h-1zm3 0h2v1h-2zm3 0h2v1h-2zm3 0h2v1h-2zm3 0h3v1h-3zm4 0h2v1h-2zm3 0h1v1h-1zm2 0h1v1h-1zm2 0h2v1h-2zm3 0h1v1h-1zm8 0h3v1h-3zm4 0h1v1h-1zm-45 1h9v1h-9zm10 0h5v1h-5zm6 0h1v1h-1zm3 0h2v1h-2zm3 0h2v1h-2zm3 0h2v1h-2zm3 0h4v1h-4zm5 0h5v1h-5zm10 0h2v1h-2zm-42 1h2v1h-2zm3 0h1v1h-1zm2 0h1v1h-1zm2 0h2v1h-2zm4 0h3v1h-3zm5 0h1v1h-1zm2 0h1v1h-1zm2 0h1v1h-1zm2 0h3v1h-3zm5 0h2v1h-2zm3 0h1v1h-1zm3 0h1v1h-1zm4 0h1v1h-1zm-36 1h3v1h-3zm6 0h4v1h-4zm8 0h1v1h-1zm2 0h4v1h-4zm5 0h1v1h-1zm4 0h1v1h-1zm4 0h2v1h-2zm5 0h3v1h-3zm-34 1h3v1h-3zm4 0h4v1h-4zm6 0h8v1h-8zm10 0h3v1h-3zm4 0h9v1h-9zm11 0h1v1h-1zm-34 1h1v1h-1zm2 0h4v1h-4zm5 0h1v1h-1zm2 0h3v1h-3zm4 0h6v1h-6zm8 0h1v1h-1zm3 0h1v1h-1zm2 0h3v1h-3zm4 0h5v1h-5zm-29 1h1v1h-1zm3 0h1v1h-1zm2 0h1v1h-1zm2 0h4v1h-4zm5 0h2v1h-2zm3 0h2v1h-2zm3 0h3v1h-3zm5 0h4v1h-4zm5 0h6v1h-6zm-27 1h1v1h-1zm2 0h2v1h-2zm4 0h2v1h-2zm3 0h4v1h-4zm5 0h3v1h-3zm6 0h1v1h-1zm2 0h2v1h-2zm3 0h3v1h-3zm5 0h2v1h-2zm-29 1h2v1h-2zm3 0h6v1h-6zm7 0h7v1h-7zm8 0h1v1h-1zm2 0h4v1h-4zm6 0h4v1h-4zm-25 1h8v1h-8zm9 0h1v1h-1zm3 0h3v1h-3zm4 0h2v1h-2zm3 0h2v1h-2zm4 0h1v1h-1zm3 0h1v1h-1zm11 0h3v1h-3zm-36 1h1v1h-1zm2 0h3v1h-3zm6 0h2v1h-2zm3 0h6v1h-6zm7 0h5v1h-5zm7 0h2v1h-2zm11 0h3v1h-3zm-32 1h14v1h-14zm15 0h1v1h-1zm2 0h1v1h-1zm3 0h2v1h-2zm11 0h2v1h-2zm3 0h1v1h-1zm-32 1h10v1h-10zm11 0h4v1h-4zm6 0h2v1h-2zm12 0h1v1h-1zm-28 1h1v1h-1zm2 0h3v1h-3zm4 0h3v1h-3zm4 0h1v1h-1zm2 0h2v1h-2zm3 0h4v1h-4zm13 0h2v1h-2zm-26 1h1v1h-1zm4 0h2v1h-2zm4 0h3v1h-3zm5 0h3v1h-3zm13 0h2v1h-2zm-25 1h4v1h-4zm5 0h1v1h-1zm3 0h1v1h-1zm2 0h3v1h-3zm4 0h1v1h-1zm2 0h1v1h-1zm10 0h1v1h-1zm-25 1h5v1h-5zm6 0h3v1h-3zm4 0h3v1h-3zm4 0h1v1h-1zm-12 1h4v1h-4zm5 0h7v1h-7zm-4 1h5v1h-5zm9 0h1v1h-1zm2 0h2v1h-2zm-11 1h9v1h-9zm10 0h1v1h-1zm-10 1h4v1h-4zm5 0h1v1h-1zm2 0h4v1h-4zm5 0h1v1h-1zm-12 1h3v1h-3zm4 0h1v1h-1zm3 0h3v1h-3zm4 0h1v1h-1zm-11 1h1v1h-1zm2 0h3v1h-3zm5 0h3v1h-3zm-13 1h2v1h-2zm6 0h6v1h-6zm8 0h1v1h-1zm-14 1h1v1h-1zm2 0h3v1h-3zm4 0h5v1h-5zm-7 1h6v1h-6zm7 0h6v1h-6zm-6 1h1v1h-1zm2 0h6v1h-6zm-3 1h6v1h-6zm7 0h3v1h-3zm-7 1h10v1h-10zm1 1h1v1h-1zm2 0h1v1h-1zm2 0h4v1h-4zm-5 1h4v1h-4zm5 0h1v1h-1zm3 0h2v1h-2zm-8 1h4v1h-4zm5 0h2v1h-2zm3 0h3v1h-3zm-8 1h5v1h-5zm6 0h5v1h-5zm-7 1h2v1h-2zm3 0h7v1h-7zm-2 1h1v1h-1zm3 0h2v1h-2zm4 0h2v1h-2zm-9 1h1v1h-1zm2 0h1v1h-1zm2 0h2v1h-2zm4 0h1v1h-1zm-11 1h3v1h-3zm5 0h6v1h-6zm-6 1h11v1h-11zm-1 1h1v1h-1zm3 0h4v1h-4zm5 0h2v1h-2zm-9 1h2v1h-2zm3 0h1v1h-1zm2 0h1v1h-1zm3 0h3v1h-3zm-9 1h3v1h-3zm4 0h3v1h-3zm4 0h1v1h-1zm3 0h1v1h-1zm-10 1h2v1h-2zm5 0h1v1h-1zm-42 1h2v1h-2zm35 0h3v1h-3zm4 0h2v1h-2zm-5 1h1v1h-1zm2 0h1v1h-1zm3 0h3v1h-3zm-39 1h2v1h-2zm34 0h2v1h-2zm3 0h2v1h-2zm3 0h1v1h-1zm-39 1h1v1h-1zm32 0h3v1h-3zm4 0h3v1h-3zm4 0h1v1h-1zm-42 1h2v1h-2zm33 0h1v1h-1zm2 0h6v1h-6zm-38 1h3v1h-3zm4 0h1v1h-1zm31 0h3v1h-3zm5 0h3v1h-3zm4 0h1v1h-1zm-46 1h3v1h-3zm5 0h1v1h-1zm31 0h6v1h-6zm7 0h1v1h-1zm-43 1h2v1h-2zm3 0h3v1h-3zm31 0h2v1h-2zm3 0h2v1h-2zm3 0h1v1h-1zm2 0h1v1h-1zm-44 1h5v1h-5zm6 0h1v1h-1zm27 0h3v1h-3zm5 0h2v1h-2zm-40 1h1v1h-1zm3 0h2v1h-2zm3 0h2v1h-2zm27 0h1v1h-1zm-34 1h3v1h-3zm4 0h1v1h-1zm-6 1h1v1h-1zm3 0h1v1h-1zm-4 1h5v1h-5zm22 0h1v1h-1zm2 0h1v1h-1zm2 0h1v1h-1zm2 0h1v1h-1zm-29 1h1v1h-1zm3 0h3v1h-3zm17 0h2v1h-2zm7 0h1v1h-1zm-24 1h2v1h-2zm15 0h1v1h-1zm2 0h2v1h-2zm3 0h1v1h-1zm-23 1h4v1h-4zm17 0h1v1h-1zm2 0h2v1h-2zm-19 1h2v1h-2zm17 0h4v1h-4zm-20 1h4v1h-4zm18 0h2v1h-2zm3 0h2v1h-2zm-22 1h4v1h-4zm18 0h6v1h-6zm-17 1h2v1h-2zm17 0h2v1h-2zm3 0h2v1h-2zm-21 1h2v1h-2zm3 0h1v1h-1zm13 0h1v1h-1zm2 0h2v1h-2zm-19 1h1v1h-1zm2 0h3v1h-3zm14 0h1v1h-1zm2 0h2v1h-2zm-18 1h2v1h-2zm3 0h3v1h-3zm6 0h4v1h-4zm5 0h5v1h-5zm-14 1h1v1h-1zm2 0h4v1h-4zm5 0h2v1h-2zm3 0h5v1h-5zm6 0h2v1h-2zm-13 1h9v1h-9zm10 0h1v1h-1zm-11 1h1v1h-1zm2 0h5v1h-5zm7 0h1v1h-1zm-7 1h3v1h-3zm4 0h1v1h-1z"/>
<path fill="#0046ff" d="M249 424h5v1h-5zm-7 1h3v1h-3zm4 0h10v1h-10zm-5 1h3v1h-3zm5 0h14v1h-14zm-6 1h1v1h-1zm2 0h7v1h-7zm8 0h12v1h-12zm-17 1h2v1h-2zm6 0h9v1h-9zm10 0h3v1h-3zm4 0h4v1h-4zm5 0h1v1h-1zm2 0h3v1h-3zm-30 1h8v1h-8zm9 0h4v1h-4zm5 0h7v1h-7zm8 0h6v1h-6zm7 0h4v1h-4zm-31 1h5v1h-5zm6 0h2v1h-2zm3 0h8v1h-8zm11 0h6v1h-6zm7 0h1v1h-1zm2 0h4v1h-4zm5 0h2v1h-2zm-40 1h7v1h-7zm8 0h4v1h-4zm5 0h7v1h-7zm8 0h1v1h-1zm5 0h4v1h-4zm5 0h7v1h-7zm8 0h3v1h-3zm-40 1h4v1h-4zm6 0h4v1h-4zm5 0h3v1h-3zm4 0h8v1h-8zm12 0h7v1h-7zm8 0h5v1h-5zm6 0h1v1h-1zm-41 1h2v1h-2zm3 0h9v1h-9zm10 0h11v1h-11zm12 0h4v1h-4zm5 0h12v1h-12zm-29 1h9v1h-9zm10 0h6v1h-6zm7 0h2v1h-2zm3 0h1v1h-1zm2 0h10v1h-10zm11 0h7v1h-7zm-35 1h3v1h-3zm4 0h4v1h-4zm5 0h20v1h-20zm23 0h7v1h-7zm8 0h1v1h-1zm-42 1h1v1h-1zm2 0h1v1h-1zm2 0h3v1h-3zm4 0h3v1h-3zm4 0h9v1h-9zm10 0h6v1h-6zm7 0h4v1h-4zm5 0h1v1h-1zm2 0h6v1h-6zm-38 1h2v1h-2zm3 0h13v1h-13zm14 0h12v1h-12zm13 0h5v1h-5zm7 0h6v1h-6zm-37 1h2v1h-2zm3 0h7v1h-7zm9 0h2v1h-2zm3 0h1v1h-1zm2 0h24v1h-24zm-19 1h7v1h-7zm8 0h8v1h-8zm9 0h4v1h-4zm5 0h5v1h-5zm6 0h5v1h-5zm6 0h11v1h-11zm-33 1h26v1h-26zm27 0h3v1h-3zm4 0h5v1h-5zm6 0h5v1h-5zm-36 1h6v1h-6zm7 0h4v1h-4zm6 0h3v1h-3zm5 0h1v1h-1zm2 0h14v1h-14zm16 0h7v1h-7zm-66 1h4v1h-4zm31 0h1v1h-1zm2 0h3v1h-3zm4 0h11v1h-11zm12 0h5v1h-5zm6 0h2v1h-2zm4 0h2v1h-2zm5 0h8v1h-8zm-64 1h4v1h-4zm32 0h2v1h-2zm3 0h2v1h-2zm3 0h7v1h-7zm8 0h9v1h-9zm17 0h4v1h-4zm-63 1h3v1h-3zm35 0h3v1h-3zm4 0h2v1h-2zm6 0h10v1h-10zm-120 1h4v1h-4zm6 0h2v1h-2zm117 0h2v1h-2zm3 0h2v1h-2zm-127 1h4v1h-4zm5 0h4v1h-4zm-5 1h4v1h-4zm5 0h4v1h-4zm-6 1h10v1h-10zm0 1h7v1h-7zm9 0h1v1h-1zm-9 1h5v1h-5zm7 0h3v1h-3zm-7 1h1v1h-1zm2 0h7v1h-7zm8 0h2v1h-2zm-11 1h9v1h-9zm10 0h5v1h-5zm-10 1h2v1h-2zm6 0h7v1h-7zm8 0h3v1h-3zm-14 1h2v1h-2zm5 0h1v1h-1zm2 0h2v1h-2zm3 0h7v1h-7zm-10 1h1v1h-1zm6 0h4v1h-4zm5 0h7v1h-7zm-12 1h2v1h-2zm9 0h10v1h-10zm-9 1h2v1h-2zm10 0h5v1h-5zm6 0h3v1h-3zm-16 1h2v1h-2zm11 0h10v1h-10zm-11 1h2v1h-2zm11 0h3v1h-3zm4 0h2v1h-2zm4 0h2v1h-2zm3 0h1v1h-1zm-22 1h1v1h-1zm12 0h11v1h-11zm-12 1h2v1h-2zm14 0h7v1h-7zm8 0h1v1h-1zm-22 1h1v1h-1zm13 0h6v1h-6zm7 0h4v1h-4zm-20 1h1v1h-1zm14 0h2v1h-2zm3 0h1v1h-1zm2 0h3v1h-3zm4 0h1v1h-1zm-23 1h1v1h-1zm15 0h10v1h-10zm-16 1h1v1h-1zm17 0h9v1h-9zm-17 1h1v1h-1zm18 0h10v1h-10zm-18 1h1v1h-1zm19 0h10v1h-10zm-19 1h1v1h-1zm20 0h10v1h-10zm1 1h6v1h-6zm7 0h3v1h-3zm-7 1h8v1h-8zm9 0h2v1h-2zm-9 1h12v1h-12zm-22 1h1v1h-1zm23 0h2v1h-2zm5 0h7v1h-7zm8 0h2v1h-2zm-36 1h1v1h-1zm29 0h3v1h-3zm4 0h2v1h-2zm3 0h4v1h-4zm-36 1h1v1h-1zm29 0h2v1h-2zm4 0h2v1h-2zm3 0h5v1h-5zm-7 1h9v1h-9zm10 0h3v1h-3zm-10 1h11v1h-11zm12 0h3v1h-3zm-12 1h16v1h-16zm0 1h6v1h-6zm7 0h2v1h-2zm3 0h1v1h-1zm2 0h5v1h-5zm-12 1h9v1h-9zm10 0h2v1h-2zm3 0h4v1h-4zm-13 1h5v1h-5zm6 0h4v1h-4zm6 0h6v1h-6zm-12 1h14v1h-14zm15 0h4v1h-4zm-45 1h1v1h-1zm30 0h13v1h-13zm14 0h5v1h-5zm-13 1h8v1h-8zm9 0h8v1h-8zm-10 1h5v1h-5zm6 0h7v1h-7zm10 0h2v1h-2zm-16 1h2v1h-2zm3 0h10v1h-10zm-34 1h1v1h-1zm32 0h11v1h-11zm-1 1h11v1h-11zm1 1h9v1h-9zm10 0h1v1h-1zm-10 1h1v1h-1zm2 0h9v1h-9zm-2 1h3v1h-3zm4 0h1v1h-1zm2 0h5v1h-5zm-6 1h1v1h-1zm2 0h4v1h-4zm5 0h3v1h-3zm-6 1h10v1h-10zm-33 1h1v1h-1zm34 0h9v1h-9zm0 1h2v1h-2zm4 0h1v1h-1zm2 0h2v1h-2zm-40 1h1v1h-1zm33 0h9v1h-9zm-2 1h7v1h-7zm8 0h2v1h-2zm-39 1h1v1h-1zm30 0h6v1h-6zm-30 1h1v1h-1zm30 0h6v1h-6zm-30 1h1v1h-1zm30 0h5v1h-5zm-30 1h1v1h-1zm29 0h6v1h-6zm-29 1h1v1h-1zm29 0h3v1h-3zm4 0h1v1h-1zm-33 1h1v1h-1zm29 0h4v1h-4zm-29 1h1v1h-1zm28 0h1v1h-1zm2 0h3v1h-3zm-30 1h1v1h-1zm26 0h6v1h-6zm-26 1h1v1h-1zm26 0h6v1h-6zm-26 1h1v1h-1zm25 0h4v1h-4zm5 0h1v1h-1zm-30 1h2v1h-2zm25 0h5v1h-5zm-26 1h2v1h-2zm25 0h5v1h-5zm-26 1h3v1h-3zm25 0h5v1h-5zm-24 1h1v1h-1zm22 0h5v1h-5zm-24 1h3v1h-3zm22 0h4v1h-4zm-23 1h3v1h-3zm20 0h2v1h-2zm3 0h2v1h-2zm-27 1h6v1h-6zm-2 1h8v1h-8zm9 0h1v1h-1zm4 0h2v1h-2zm3 0h1v1h-1zm2 0h1v1h-1zm-18 1h12v1h-12zm13 0h1v1h-1zm2 0h1v1h-1zm-16 1h2v1h-2zm3 0h5v1h-5zm7 0h4v1h-4zm-11 1h13v1h-13zm-1 1h1v1h-1zm2 0h10v1h-10zm-4 1h7v1h-7zm8 0h4v1h-4zm5 0h1v1h-1zm-14 1h7v1h-7zm8 0h4v1h-4zm5 0h1v1h-1zm-14 1h14v1h-14zm0 1h13v1h-13zm0 1h12v1h-12zm0 1h9v1h-9zm10 0h1v1h-1zm-9 1h2v1h-2z"/>
<path fill="#0090ff" d="M245 430h3v1h-3zm-1 1h4v1h-4zm0 1h4v1h-4zm1 1h1v1h-1zm-135 20h3v1h-3zm0 1h3v1h-3zm-1 1h5v1h-5zm0 1h7v1h-7zm0 1h8v1h-8zm0 1h9v1h-9zm0 1h9v1h-9zm0 1h10v1h-10zm0 1h11v1h-11zm-1 1h12v1h-12zm0 1h2v1h-2zm9 0h4v1h-4zm-9 1h1v1h-1zm10 0h4v1h-4zm-11 1h2v1h-2zm12 0h4v1h-4zm-12 1h2v1h-2zm12 0h5v1h-5zm-12 1h1v1h-1zm13 0h5v1h-5zm-13 1h1v1h-1zm13 0h6v1h-6zm-14 1h2v1h-2zm16 0h4v1h-4zm-16 1h1v1h-1zm17 0h3v1h-3zm-17 1h1v1h-1zm18 0h3v1h-3zm-18 1h1v1h-1zm18 0h4v1h-4zm6 0h3v1h-3zm-24 1h1v1h-1zm18 0h10v1h-10zm1 1h9v1h-9zm-20 1h1v1h-1zm22 0h7v1h-7zm-22 1h1v1h-1zm22 0h7v1h-7zm-22 1h1v1h-1zm23 0h6v1h-6zm-23 1h1v1h-1zm23 0h6v1h-6zm-23 1h1v1h-1zm23 0h6v1h-6zm-23 1h1v1h-1zm24 0h5v1h-5zm1 1h4v1h-4zm1 1h3v1h-3zm0 1h3v1h-3zm-27 1h1v1h-1zm27 0h3v1h-3zm-27 1h1v1h-1zm27 0h3v1h-3zm-27 1h1v1h-1zm27 0h3v1h-3zm-27 1h1v1h-1zm27 0h3v1h-3zm-27 1h1v1h-1zm27 0h4v1h-4zm-27 1h1v1h-1zm27 0h4v1h-4zm-27 1h1v1h-1zm26 0h5v1h-5zm-26 1h1v1h-1zm26 0h5v1h-5zm-26 1h1v1h-1zm25 0h7v1h-7zm-25 1h1v1h-1zm25 0h8v1h-8zm-25 1h1v1h-1zm25 0h8v1h-8zm-25 1h1v1h-1zm25 0h7v1h-7zm-25 1h1v1h-1zm24 0h6v1h-6zm-24 1h1v1h-1zm24 0h5v1h-5zm-24 1h1v1h-1zm23 0h6v1h-6zm-23 1h1v1h-1zm23 0h6v1h-6zm-23 1h1v1h-1zm23 0h5v1h-5zm-23 1h1v1h-1zm22 0h6v1h-6zm-22 1h1v1h-1zm22 0h6v1h-6zm-22 1h1v1h-1zm21 0h6v1h-6zm-21 1h1v1h-1zm21 0h4v1h-4zm-21 1h2v1h-2zm21 0h4v1h-4zm-21 1h2v1h-2zm20 0h4v1h-4zm-19 1h1v1h-1zm18 0h5v1h-5zm-19 1h2v1h-2zm19 0h4v1h-4zm-19 1h2v1h-2zm18 0h3v1h-3zm-19 1h3v1h-3zm18 0h3v1h-3zm-18 1h2v1h-2zm16 0h3v1h-3zm-17 1h4v1h-4zm6 0h1v1h-1zm8 0h3v1h-3zm-14 1h14v1h-14zm1 1h3v1h-3zm-8 5h1v1h-1z"/>
<path fill="#00d0ff" d="M110 463h7v1h-7zm-1 1h9v1h-9zm0 1h10v1h-10zm0 1h10v1h-10zm-1 1h4v1h-4zm7 0h5v1h-5zm-7 1h2v1h-2zm8 0h4v1h-4zm-8 1h1v1h-1zm9 0h5v1h-5zm-10 1h2v1h-2zm11 0h5v1h-5zm-11 1h1v1h-1zm11 0h6v1h-6zm-11 1h1v1h-1zm12 0h5v1h-5zm-12 1h1v1h-1zm14 0h3v1h-3zm-15 1h1v1h-1zm16 0h3v1h-3zm-16 1h1v1h-1zm17 0h4v1h-4zm-17 1h1v1h-1zm18 0h3v1h-3zm-18 1h1v1h-1zm19 0h3v1h-3zm-19 1h1v1h-1zm19 0h3v1h-3zm1 1h2v1h-2zm0 1h3v1h-3zm-21 1h1v1h-1zm20 0h5v1h-5zm-20 1h1v1h-1zm20 0h6v1h-6zm-20 1h1v1h-1zm20 0h6v1h-6zm-20 1h1v1h-1zm20 0h6v1h-6zm-20 1h1v1h-1zm20 0h6v1h-6zm1 1h5v1h-5zm1 1h4v1h-4zm0 1h4v1h-4zm0 1h4v1h-4zm0 1h3v1h-3zm-1 1h4v1h-4zm-21 1h1v1h-1zm21 0h3v1h-3zm-21 1h1v1h-1zm21 0h3v1h-3zm-21 1h1v1h-1zm21 0h3v1h-3zm-21 1h1v1h-1zm21 0h3v1h-3zm-21 1h1v1h-1zm21 0h2v1h-2zm-21 1h1v1h-1zm21 0h2v1h-2zm-21 1h1v1h-1zm21 0h1v1h-1zm-21 1h1v1h-1zm20 0h2v1h-2zm-20 1h1v1h-1zm20 0h2v1h-2zm-20 1h1v1h-1zm19 0h2v1h-2zm-19 1h1v1h-1zm18 0h3v1h-3zm-18 1h1v1h-1zm17 0h3v1h-3zm-17 1h1v1h-1zm17 0h3v1h-3zm-16 1h1v1h-1zm15 0h4v1h-4zm-15 1h1v1h-1zm15 0h3v1h-3zm-15 1h2v1h-2zm14 0h3v1h-3zm-14 1h2v1h-2zm14 0h3v1h-3zm-14 1h2v1h-2zm13 0h3v1h-3zm-13 1h3v1h-3zm12 0h3v1h-3zm-13 1h6v1h-6zm11 0h3v1h-3zm-10 1h2v1h-2zm3 0h7v1h-7z"/>
<path fill="#00f0d0" d="M112 467h3v1h-3zm-2 1h6v1h-6zm-1 1h8v1h-8zm0 1h9v1h-9zm-1 1h4v1h-4zm5 0h5v1h-5zm-5 1h2v1h-2zm7 0h4v1h-4zm-7 1h2v1h-2zm9 0h4v1h-4zm-10 1h2v1h-2zm11 0h4v1h-4zm-11 1h2v1h-2zm12 0h4v1h-4zm-12 1h2v1h-2zm13 0h4v1h-4zm-13 1h1v1h-1zm14 0h4v1h-4zm-14 1h1v1h-1zm15 0h3v1h-3zm-16 1h2v1h-2zm16 0h4v1h-4zm-16 1h1v1h-1zm16 0h4v1h-4zm-16 1h1v1h-1zm17 0h2v1h-2zm-17 1h1v1h-1zm17 0h2v1h-2zm-17 1h1v1h-1zm17 0h2v1h-2zm-17 1h1v1h-1zm17 0h2v1h-2zm0 1h2v1h-2zm-18 1h1v1h-1zm19 0h2v1h-2zm-19 1h1v1h-1zm19 0h3v1h-3zm-19 1h1v1h-1zm19 0h3v1h-3zm-19 1h1v1h-1zm19 0h3v1h-3zm-19 1h1v1h-1zm19 0h3v1h-3zm-19 1h1v1h-1zm19 0h2v1h-2zm-18 1h1v1h-1zm18 0h2v1h-2zm-18 1h1v1h-1zm18 0h2v1h-2zm-18 1h1v1h-1zm18 0h2v1h-2zm-18 1h1v1h-1zm18 0h2v1h-2zm-18 1h1v1h-1zm18 0h2v1h-2zm-18 1h1v1h-1zm18 0h2v1h-2zm-18 1h1v1h-1zm18 0h2v1h-2zm-18 1h1v1h-1zm18 0h1v1h-1zm-18 1h1v1h-1zm17 0h2v1h-2zm-17 1h1v1h-1zm16 0h2v1h-2zm-16 1h1v1h-1zm15 0h2v1h-2zm-15 1h1v1h-1zm14 0h2v1h-2zm-14 1h1v1h-1zm14 0h2v1h-2zm-13 1h1v1h-1zm12 0h2v1h-2zm-12 1h1v1h-1zm12 0h2v1h-2zm-11 1h1v1h-1zm10 0h2v1h-2zm-10 1h2v1h-2zm10 0h2v1h-2zm-10 1h3v1h-3zm9 0h2v1h-2zm-8 1h3v1h-3zm6 0h3v1h-3zm-4 1h5v1h-5z"/>
<path fill="#28f850" d="M112 471h1v1h-1zm-2 1h5v1h-5zm0 1h7v1h-7zm-1 1h9v1h-9zm0 1h10v1h-10zm0 1h11v1h-11zm-1 1h13v1h-13zm0 1h14v1h-14zm0 1h14v1h-14zm-1 1h15v1h-15zm0 1h16v1h-16zm0 1h6v1h-6zm8 0h8v1h-8zm-8 1h5v1h-5zm9 0h7v1h-7zm-9 1h4v1h-4zm10 0h6v1h-6zm-11 1h5v1h-5zm12 0h5v1h-5zm-12 1h5v1h-5zm13 0h5v1h-5zm-13 1h4v1h-4zm13 0h5v1h-5zm-13 1h4v1h-4zm14 0h4v1h-4zm-14 1h4v1h-4zm14 0h4v1h-4zm-14 1h3v1h-3zm14 0h4v1h-4zm-14 1h4v1h-4zm14 0h4v1h-4zm-13 1h3v1h-3zm13 0h4v1h-4zm-13 1h4v1h-4zm13 0h4v1h-4zm-13 1h4v1h-4zm13 0h4v1h-4zm-13 1h4v1h-4zm12 0h5v1h-5zm-12 1h3v1h-3zm11 0h6v1h-6zm-11 1h2v1h-2zm11 0h6v1h-6zm-11 1h2v1h-2zm11 0h6v1h-6zm-11 1h2v1h-2zm11 0h6v1h-6zm-11 1h1v1h-1zm11 0h5v1h-5zm-11 1h2v1h-2zm11 0h4v1h-4zm-11 1h2v1h-2zm10 0h4v1h-4zm-10 1h2v1h-2zm10 0h3v1h-3zm-10 1h3v1h-3zm9 0h4v1h-4zm-8 1h3v1h-3zm7 0h4v1h-4zm-7 1h11v1h-11zm1 1h9v1h-9zm1 1h8v1h-8zm1 1h6v1h-6zm1 1h3v1h-3z"/>
<path fill="#90ff10" d="M113 482h2v1h-2zm-1 1h4v1h-4zm-1 1h6v1h-6zm0 1h7v1h-7zm0 1h8v1h-8zm-1 1h9v1h-9zm0 1h5v1h-5zm6 0h4v1h-4zm-6 1h5v1h-5zm6 0h4v1h-4zm-7 1h11v1h-11zm1 1h10v1h-10zm0 1h10v1h-10zm1 1h9v1h-9zm0 1h9v1h-9zm0 1h2v1h-2zm4 0h4v1h-4zm-5 1h2v1h-2zm6 0h2v1h-2zm-7 1h2v1h-2zm7 0h2v1h-2zm-7 1h1v1h-1zm7 0h2v1h-2zm-7 1h1v1h-1zm7 0h2v1h-2zm-8 1h1v1h-1zm8 0h2v1h-2zm0 1h2v1h-2zm-7 1h1v1h-1zm7 0h1v1h-1zm-7 1h1v1h-1zm6 0h2v1h-2zm-5 1h2v1h-2zm3 0h3v1h-3zm-2 1h4v1h-4z"/>
<path fill="#e8ff00" d="M115 488h1v1h-1zm0 1h1v1h-1zm-2 6h2v1h-2zm-1 1h4v1h-4zm-1 1h1v1h-1zm4 0h1v1h-1zm-5 1h1v1h-1zm5 0h1v1h-1zm0 1h1v1h-1zm-6 1h1v1h-1zm6 0h1v1h-1zm-6 1h1v1h-1zm6 0h1v1h-1zm0 1h1v1h-1zm-5 1h2v1h-2zm4 0h1v1h-1zm-2 1h1v1h-1z"/>
<path fill="#ffb000" d="M112 497h3v1h-3zm-1 1h1v1h-1zm-1 1h1v1h-1zm0 1h1v1h-1zm0 1h1v1h-1zm0 1h1v1h-1zm4 0h1v1h-1zm-2 1h2v1h-2z"/>
<path fill="#ff5000" d="M114 498h1v1h-1zm0 1h1v1h-1zm0 1h1v1h-1zm0 1h1v1h-1zm-3 1h1v1h-1zm2 0h1v1h-1z"/>
<path fill="#e00000" d="M112 498h2v1h-2zm-1 1h3v1h-3zm0 1h3v1h-3zm0 1h3v1h-3zm1 1h1v1h-1z"/>
<rect x="61.00" y="350.60" width="207.40" height="206.00" fill="none" stroke="#777" stroke-width="1.5"/>
<path d="M55.0 542.6H61.0M55.0 508.6H61.0M55.0 476.1H61.0M55.0 420.1H61.0M55.0 370.1H61.0M58.0 535.8H61.0M58.0 529.0H61.0M58.0 522.2H61.0M58.0 515.4H61.0M58.0 498.8H61.0M58.0 493.1H61.0M58.0 489.0H61.0M58.0 485.9H61.0M58.0 483.3H61.0M58.0 481.1H61.0M58.0 479.2H61.0M58.0 477.6H61.0M58.0 459.2H61.0M58.0 449.4H61.0M58.0 442.4H61.0M58.0 437.0H61.0M58.0 432.5H61.0M58.0 428.8H61.0M58.0 425.5H61.0M58.0 422.7H61.0M58.0 405.0H61.0M58.0 396.2H61.0M58.0 390.0H61.0M58.0 385.2H61.0M58.0 381.2H61.0M58.0 377.8H61.0M58.0 374.9H61.0M58.0 372.4H61.0M55.0 512.6H61.0M55.0 511.1H61.0M55.0 509.6H61.0M55.0 507.6H61.0M55.0 506.1H61.0M55.0 504.6H61.0M58.0 355.0H61.0M73.0 556.6V562.6M107.0 556.6V562.6M141.0 556.6V562.6M197.0 556.6V562.6M247.0 556.6V562.6M79.8 556.6V559.6M86.6 556.6V559.6M93.4 556.6V559.6M100.2 556.6V559.6M117.2 556.6V559.6M123.2 556.6V559.6M127.5 556.6V559.6M130.8 556.6V559.6M133.5 556.6V559.6M135.7 556.6V559.6M137.7 556.6V559.6M139.4 556.6V559.6M157.9 556.6V559.6M167.7 556.6V559.6M174.7 556.6V559.6M180.1 556.6V559.6M184.6 556.6V559.6M188.3 556.6V559.6M191.6 556.6V559.6M194.4 556.6V559.6M212.1 556.6V559.6M220.9 556.6V559.6M227.1 556.6V559.6M231.9 556.6V559.6M235.9 556.6V559.6M239.3 556.6V559.6M242.2 556.6V559.6M244.7 556.6V559.6M103.0 556.6V562.6M104.5 556.6V562.6M106.0 556.6V562.6M108.0 556.6V562.6M109.5 556.6V562.6M111.0 556.6V562.6M262.1 556.6V559.6" stroke="#222" stroke-width="1.2" fill="none"/>
<polyline points="134.5,456.3 134.5,396.8 268,395.9 268,478.5 225.7,501.5 160.8,482.9 134.5,456.3" fill="none" stroke="#333" stroke-width="1.5"/>
<path fill="#38389c" d="M221 666h1v1h-1zm-82 8h1v1h-1zm81 1h1v1h-1zm20 0h1v1h-1zm10 0h1v1h-1zm12 0h1v1h-1zm-35 1h1v1h-1zm25 0h1v1h-1zm-135 1h1v1h-1zm112 0h1v1h-1zm14 1h2v1h-2zm16 0h1v1h-1zm-50 1h1v1h-1zm-5 1h1v1h-1zm45 0h1v1h-1zm-24 1h1v1h-1zm4 0h1v1h-1zm17 0h2v1h-2zm4 0h1v1h-1zm12 0h1v1h-1zm2 0h1v1h-1zm-68 1h1v1h-1zm17 0h1v1h-1zm8 0h1v1h-1zm11 0h1v1h-1zm2 0h1v1h-1zm4 0h1v1h-1zm17 0h1v1h-1zm9 0h1v1h-1zm-108 1h1v1h-1zm66 0h1v1h-1zm2 0h1v1h-1zm7 0h1v1h-1zm8 0h1v1h-1zm24 0h1v1h-1zm2 0h1v1h-1zm-102 1h1v1h-1zm45 0h1v1h-1zm8 0h1v1h-1zm8 0h1v1h-1zm4 0h1v1h-1zm8 0h2v1h-2zm9 0h1v1h-1zm2 0h2v1h-2zm3 0h1v1h-1zm3 0h1v1h-1zm2 0h1v1h-1zm5 0h1v1h-1zm3 0h1v1h-1zm4 0h1v1h-1zm-52 1h2v1h-2zm3 0h1v1h-1zm7 0h1v1h-1zm7 0h1v1h-1zm5 0h1v1h-1zm9 0h1v1h-1zm6 0h1v1h-1zm2 0h1v1h-1zm3 0h1v1h-1zm-58 1h1v1h-1zm11 0h1v1h-1zm9 0h1v1h-1zm8 0h1v1h-1zm3 0h1v1h-1zm2 0h1v1h-1zm2 0h1v1h-1zm5 0h1v1h-1zm6 0h1v1h-1zm3 0h1v1h-1zm6 0h1v1h-1zm4 0h1v1h-1zm2 0h1v1h-1zm2 0h1v1h-1zm2 0h2v1h-2zm-122 1h1v1h-1zm50 0h1v1h-1zm19 0h1v1h-1zm5 0h1v1h-1zm2 0h1v1h-1zm4 0h2v1h-2zm6 0h1v1h-1zm5 0h1v1h-1zm2 0h1v1h-1zm2 0h1v1h-1zm3 0h2v1h-2zm3 0h1v1h-1zm9 0h1v1h-1zm2 0h1v1h-1zm4 0h2v1h-2zm4 0h3v1h-3zm4 0h2v1h-2zm-145 1h1v1h-1zm51 0h1v1h-1zm6 0h1v1h-1zm22 0h1v1h-1zm4 0h1v1h-1zm5 0h1v1h-1zm2 0h2v1h-2zm7 0h1v1h-1zm9 0h1v1h-1zm2 0h1v1h-1zm2 0h2v1h-2zm3 0h2v1h-2zm3 0h1v1h-1zm2 0h2v1h-2zm4 0h2v1h-2zm6 0h1v1h-1zm8 0h1v1h-1zm4 0h1v1h-1zm5 0h1v1h-1zm-116 1h1v1h-1zm5 0h1v1h-1zm4 0h1v1h-1zm10 0h1v1h-1zm6 0h1v1h-1zm43 0h3v1h-3zm8 0h1v1h-1zm3 0h2v1h-2zm19 0h1v1h-1zm4 0h3v1h-3zm4 0h1v1h-1zm8 0h1v1h-1zm2 0h1v1h-1zm-151 1h1v1h-1zm33 0h1v1h-1zm21 0h1v1h-1zm11 0h2v1h-2zm4 0h1v1h-1zm4 0h1v1h-1zm7 0h2v1h-2zm3 0h1v1h-1zm20 0h1v1h-1zm11 0h2v1h-2zm3 0h1v1h-1zm18 0h1v1h-1zm16 0h2v1h-2zm-138 1h1v1h-1zm28 0h1v1h-1zm10 0h2v1h-2zm17 0h1v1h-1zm9 0h1v1h-1zm7 0h1v1h-1zm5 0h1v1h-1zm11 0h2v1h-2zm3 0h1v1h-1zm3 0h1v1h-1zm6 0h3v1h-3zm40 0h1v1h-1zm-102 1h1v1h-1zm4 0h1v1h-1zm8 0h1v1h-1zm4 0h2v1h-2zm7 0h1v1h-1zm5 0h2v1h-2zm13 0h1v1h-1zm3 0h1v1h-1zm2 0h2v1h-2zm3 0h3v1h-3zm4 0h2v1h-2zm3 0h1v1h-1zm3 0h3v1h-3zm-110 1h1v1h-1zm24 0h1v1h-1zm19 0h1v1h-1zm2 0h1v1h-1zm4 0h1v1h-1zm11 0h1v1h-1zm6 0h2v1h-2zm6 0h1v1h-1zm7 0h1v1h-1zm4 0h1v1h-1zm6 0h2v1h-2zm3 0h1v1h-1zm5 0h2v1h-2zm3 0h1v1h-1zm6 0h1v1h-1zm4 0h1v1h-1zm-62 1h1v1h-1zm9 0h1v1h-1zm4 0h1v1h-1zm2 0h1v1h-1zm2 0h1v1h-1zm8 0h2v1h-2zm7 0h1v1h-1zm2 0h1v1h-1zm3 0h1v1h-1zm6 0h1v1h-1zm9 0h1v1h-1zm2 0h2v1h-2zm6 0h1v1h-1zm45 0h1v1h-1zm-127 1h1v1h-1zm11 0h1v1h-1zm8 0h1v1h-1zm20 0h1v1h-1zm2 0h1v1h-1zm8 0h1v1h-1zm9 0h1v1h-1zm5 0h2v1h-2zm9 0h1v1h-1zm3 0h2v1h-2zm4 0h1v1h-1zm-107 1h1v1h-1zm34 0h2v1h-2zm3 0h1v1h-1zm2 0h1v1h-1zm8 0h1v1h-1zm2 0h1v1h-1zm2 0h1v1h-1zm11 0h1v1h-1zm5 0h1v1h-1zm8 0h2v1h-2zm6 0h2v1h-2zm6 0h1v1h-1zm2 0h1v1h-1zm4 0h1v1h-1zm2 0h1v1h-1zm2 0h3v1h-3zm4 0h1v1h-1zm-96 1h1v1h-1zm5 0h1v1h-1zm2 0h1v1h-1zm4 0h1v1h-1zm6 0h1v1h-1zm5 0h1v1h-1zm2 0h1v1h-1zm7 0h2v1h-2zm9 0h1v1h-1zm6 0h1v1h-1zm5 0h1v1h-1zm6 0h1v1h-1zm3 0h1v1h-1zm2 0h2v1h-2zm12 0h1v1h-1zm6 0h1v1h-1zm2 0h1v1h-1zm2 0h2v1h-2zm5 0h1v1h-1zm4 0h2v1h-2zm-97 1h1v1h-1zm9 0h1v1h-1zm15 0h1v1h-1zm5 0h1v1h-1zm19 0h1v1h-1zm8 0h1v1h-1zm3 0h2v1h-2zm4 0h2v1h-2zm8 0h2v1h-2zm10 0h2v1h-2zm7 0h1v1h-1zm7 0h1v1h-1zm-92 1h1v1h-1zm7 0h1v1h-1zm24 0h1v1h-1zm3 0h1v1h-1zm4 0h1v1h-1zm2 0h1v1h-1zm5 0h2v1h-2zm6 0h2v1h-2zm6 0h3v1h-3zm5 0h1v1h-1zm2 0h1v1h-1zm4 0h2v1h-2zm3 0h1v1h-1zm5 0h1v1h-1zm2 0h4v1h-4zm-75 1h1v1h-1zm11 0h1v1h-1zm14 0h2v1h-2zm10 0h1v1h-1zm11 0h1v1h-1zm3 0h3v1h-3zm6 0h1v1h-1zm4 0h1v1h-1zm2 0h1v1h-1zm4 0h2v1h-2zm5 0h1v1h-1zm2 0h1v1h-1zm8 0h1v1h-1zm-61 1h1v1h-1zm7 0h1v1h-1zm4 0h2v1h-2zm11 0h1v1h-1zm5 0h1v1h-1zm2 0h1v1h-1zm2 0h1v1h-1zm3 0h2v1h-2zm3 0h1v1h-1zm2 0h1v1h-1zm2 0h1v1h-1zm5 0h1v1h-1zm2 0h2v1h-2zm-71 1h1v1h-1zm4 0h1v1h-1zm12 0h1v1h-1zm11 0h1v1h-1zm6 0h1v1h-1zm6 0h1v1h-1zm7 0h4v1h-4zm8 0h3v1h-3zm5 0h5v1h-5zm10 0h2v1h-2zm3 0h2v1h-2zm-76 1h1v1h-1zm5 0h2v1h-2zm7 0h1v1h-1zm6 0h1v1h-1zm23 0h2v1h-2zm6 0h1v1h-1zm7 0h3v1h-3zm10 0h1v1h-1zm4 0h2v1h-2zm3 0h1v1h-1zm-71 1h1v1h-1zm8 0h1v1h-1zm21 0h2v1h-2zm3 0h2v1h-2zm7 0h2v1h-2zm6 0h1v1h-1zm3 0h1v1h-1zm2 0h2v1h-2zm3 0h3v1h-3zm4 0h1v1h-1zm9 0h1v1h-1zm-64 1h1v1h-1zm6 0h2v1h-2zm6 0h2v1h-2zm11 0h1v1h-1zm3 0h1v1h-1zm9 0h2v1h-2zm4 0h2v1h-2zm3 0h1v1h-1zm5 0h1v1h-1zm3 0h1v1h-1zm-52 1h1v1h-1zm4 0h2v1h-2zm4 0h1v1h-1zm7 0h1v1h-1zm7 0h1v1h-1zm12 0h1v1h-1zm5 0h1v1h-1zm4 0h3v1h-3zm9 0h1v1h-1zm2 0h1v1h-1zm-53 1h1v1h-1zm2 0h2v1h-2zm3 0h1v1h-1zm2 0h1v1h-1zm9 0h1v1h-1zm3 0h1v1h-1zm4 0h2v1h-2zm10 0h1v1h-1zm2 0h3v1h-3zm4 0h1v1h-1zm3 0h1v1h-1zm2 0h1v1h-1zm3 0h2v1h-2zm3 0h1v1h-1zm2 0h1v1h-1zm-49 1h3v1h-3zm5 0h1v1h-1zm4 0h1v1h-1zm16 0h2v1h-2zm5 0h1v1h-1zm2 0h1v1h-1zm3 0h1v1h-1zm7 0h3v1h-3zm4 0h1v1h-1zm2 0h1v1h-1zm-52 1h2v1h-2zm4 0h2v1h-2zm3 0h1v1h-1zm3 0h2v1h-2zm5 0h1v1h-1zm6 0h1v1h-1zm3 0h1v1h-1zm2 0h2v1h-2zm3 0h1v1h-1zm3 0h1v1h-1zm2 0h2v1h-2zm7 0h2v1h-2zm4 0h2v1h-2zm3 0h1v1h-1zm3 0h1v1h-1zm-52 1h2v1h-2zm7 0h1v1h-1zm2 0h1v1h-1zm2 0h1v1h-1zm12 0h1v1h-1zm2 0h1v1h-1zm11 0h1v1h-1zm3 0h1v1h-1zm4 0h2v1h-2zm5 0h1v1h-1zm2 0h1v1h-1zm3 0h1v1h-1zm-74 1h1v1h-1zm29 0h3v1h-3zm9 0h2v1h-2zm13 0h4v1h-4zm5 0h1v1h-1zm4 0h1v1h-1zm3 0h1v1h-1zm3 0h1v1h-1zm2 0h1v1h-1zm-47 1h1v1h-1zm10 0h2v1h-2zm3 0h2v1h-2zm3 0h1v1h-1zm8 0h1v1h-1zm2 0h6v1h-6zm11 0h3v1h-3zm4 0h1v1h-1zm4 0h3v1h-3zm-34 1h3v1h-3zm6 0h2v1h-2zm3 0h1v1h-1zm3 0h1v1h-1zm8 0h1v1h-1zm-49 1h1v1h-1zm18 0h1v1h-1zm15 0h1v1h-1zm2 0h1v1h-1zm6 0h2v1h-2zm3 0h1v1h-1zm6 0h3v1h-3zm4 0h1v1h-1zm-24 1h1v1h-1zm2 0h1v1h-1zm2 0h1v1h-1zm5 0h2v1h-2zm3 0h1v1h-1zm4 0h1v1h-1zm3 0h2v1h-2zm3 0h1v1h-1zm2 0h1v1h-1zm-22 1h2v1h-2zm3 0h2v1h-2zm6 0h1v1h-1zm2 0h1v1h-1zm8 0h1v1h-1zm-18 1h1v1h-1zm4 0h1v1h-1zm2 0h2v1h-2zm5 0h1v1h-1zm2 0h3v1h-3zm4 0h3v1h-3zm-33 1h1v1h-1zm17 0h1v1h-1zm5 0h1v1h-1zm3 0h4v1h-4zm9 0h1v1h-1zm123 0h2v1h-2zm-157 1h1v1h-1zm17 0h1v1h-1zm5 0h1v1h-1zm2 0h5v1h-5zm7 0h2v1h-2zm3 0h2v1h-2zm-59 1h1v1h-1zm11 0h1v1h-1zm33 0h1v1h-1zm3 0h1v1h-1zm2 0h1v1h-1zm3 0h2v1h-2zm4 0h2v1h-2zm3 0h1v1h-1zm122 0h1v1h-1zm2 0h1v1h-1zm-140 1h2v1h-2zm4 0h1v1h-1zm4 0h1v1h-1zm4 0h1v1h-1zm4 0h2v1h-2zm121 0h1v1h-1zm-136 1h1v1h-1zm2 0h1v1h-1zm4 0h2v1h-2zm3 0h3v1h-3zm6 0h2v1h-2zm122 0h1v1h-1zm-183 1h1v1h-1zm2 0h1v1h-1zm21 0h1v1h-1zm24 0h3v1h-3zm4 0h1v1h-1zm4 0h1v1h-1zm3 0h1v1h-1zm3 0h2v1h-2zm117 0h1v1h-1zm3 0h3v1h-3zm-197 1h1v1h-1zm64 0h2v1h-2zm7 0h1v1h-1zm123 0h2v1h-2zm3 0h2v1h-2zm-131 1h1v1h-1zm4 0h1v1h-1zm122 0h1v1h-1zm2 0h2v1h-2zm3 0h1v1h-1zm3 0h1v1h-1zm-131 1h1v1h-1zm112 0h1v1h-1zm15 0h1v1h-1zm4 0h1v1h-1zm-19 1h1v1h-1zm6 0h1v1h-1zm3 0h3v1h-3zm4 0h1v1h-1zm3 0h2v1h-2zm-24 1h1v1h-1zm3 0h3v1h-3zm7 0h1v1h-1zm2 0h2v1h-2zm3 0h1v1h-1zm7 0h1v1h-1zm5 0h1v1h-1zm-164 1h1v1h-1zm124 0h3v1h-3zm12 0h1v1h-1zm2 0h2v1h-2zm3 0h1v1h-1zm3 0h2v1h-2zm4 0h2v1h-2zm3 0h2v1h-2zm4 0h1v1h-1zm2 0h1v1h-1zm3 0h1v1h-1zm3 0h1v1h-1zm2 0h1v1h-1zm-169 1h2v1h-2zm121 0h1v1h-1zm4 0h6v1h-6zm14 0h2v1h-2zm8 0h2v1h-2zm4 0h1v1h-1zm6 0h2v1h-2zm9 0h1v1h-1zm-180 1h1v1h-1zm22 0h1v1h-1zm113 0h1v1h-1zm17 0h1v1h-1zm2 0h3v1h-3zm6 0h1v1h-1zm2 0h1v1h-1zm4 0h2v1h-2zm8 0h1v1h-1zm6 0h1v1h-1zm-167 1h1v1h-1zm46 0h1v1h-1zm75 0h2v1h-2zm4 0h1v1h-1zm2 0h1v1h-1zm3 0h1v1h-1zm2 0h3v1h-3zm4 0h3v1h-3zm4 0h5v1h-5zm6 0h1v1h-1zm5 0h2v1h-2zm3 0h1v1h-1zm2 0h1v1h-1zm9 0h2v1h-2zm-181 1h1v1h-1zm61 0h1v1h-1zm2 0h1v1h-1zm68 0h1v1h-1zm5 0h1v1h-1zm2 0h1v1h-1zm4 0h4v1h-4zm6 0h1v1h-1zm3 0h1v1h-1zm2 0h1v1h-1zm2 0h2v1h-2zm3 0h1v1h-1zm2 0h1v1h-1zm2 0h7v1h-7zm14 0h2v1h-2zm6 0h1v1h-1zm2 0h1v1h-1zm-174 1h1v1h-1zm51 0h1v1h-1zm34 0h1v1h-1zm3 0h2v1h-2zm14 0h2v1h-2zm22 0h1v1h-1zm3 0h1v1h-1zm2 0h1v1h-1zm3 0h2v1h-2zm6 0h1v1h-1zm2 0h1v1h-1zm6 0h1v1h-1zm9 0h1v1h-1zm4 0h1v1h-1zm7 0h1v1h-1zm4 0h1v1h-1zm2 0h1v1h-1zm-87 1h1v1h-1zm3 0h1v1h-1zm2 0h2v1h-2zm11 0h2v1h-2zm3 0h1v1h-1zm17 0h2v1h-2zm4 0h4v1h-4zm6 0h3v1h-3zm4 0h2v1h-2zm4 0h3v1h-3zm4 0h1v1h-1zm3 0h2v1h-2zm3 0h3v1h-3zm12 0h1v1h-1zm3 0h1v1h-1zm2 0h1v1h-1zm9 0h2v1h-2zm-89 1h1v1h-1zm3 0h2v1h-2zm11 0h1v1h-1zm4 0h1v1h-1zm2 0h1v1h-1zm16 0h3v1h-3zm5 0h1v1h-1zm3 0h2v1h-2zm3 0h4v1h-4zm5 0h2v1h-2zm5 0h1v1h-1zm2 0h1v1h-1zm2 0h1v1h-1zm2 0h1v1h-1zm2 0h2v1h-2zm9 0h1v1h-1zm2 0h2v1h-2zm7 0h1v1h-1zm-170 1h1v1h-1zm4 0h1v1h-1zm84 0h3v1h-3zm4 0h1v1h-1zm14 0h1v1h-1zm2 0h1v1h-1zm15 0h1v1h-1zm5 0h1v1h-1zm11 0h1v1h-1zm5 0h1v1h-1zm6 0h1v1h-1zm2 0h1v1h-1zm6 0h1v1h-1zm6 0h1v1h-1zm12 0h1v1h-1zm-168 1h1v1h-1zm5 0h2v1h-2zm79 0h1v1h-1zm8 0h1v1h-1zm7 0h1v1h-1zm16 0h1v1h-1zm3 0h3v1h-3zm4 0h1v1h-1zm4 0h1v1h-1zm3 0h1v1h-1zm5 0h3v1h-3zm8 0h1v1h-1zm4 0h1v1h-1zm2 0h3v1h-3zm6 0h1v1h-1zm-161 1h1v1h-1zm13 0h1v1h-1zm87 0h2v1h-2zm4 0h1v1h-1zm4 0h1v1h-1zm3 0h1v1h-1zm5 0h3v1h-3zm5 0h2v1h-2zm4 0h1v1h-1zm7 0h2v1h-2zm7 0h1v1h-1zm4 0h1v1h-1zm5 0h2v1h-2zm6 0h1v1h-1zm16 0h1v1h-1zm-165 1h1v1h-1zm95 0h3v1h-3zm6 0h1v1h-1zm2 0h2v1h-2zm3 0h1v1h-1zm2 0h1v1h-1zm2 0h1v1h-1zm3 0h2v1h-2zm4 0h2v1h-2zm3 0h1v1h-1zm3 0h2v1h-2zm3 0h3v1h-3zm4 0h1v1h-1zm2 0h1v1h-1zm2 0h2v1h-2zm5 0h1v1h-1zm3 0h1v1h-1zm3 0h2v1h-2zm3 0h1v1h-1zm2 0h1v1h-1zm7 0h1v1h-1zm8 0h1v1h-1zm-78 1h1v1h-1zm2 0h1v1h-1zm10 0h1v1h-1zm4 0h1v1h-1zm3 0h4v1h-4zm7 0h2v1h-2zm3 0h1v1h-1zm5 0h1v1h-1zm5 0h3v1h-3zm6 0h1v1h-1zm3 0h3v1h-3zm5 0h1v1h-1zm11 0h1v1h-1zm2 0h1v1h-1zm3 0h1v1h-1zm6 0h2v1h-2zm3 0h1v1h-1zm-186 1h1v1h-1zm109 0h1v1h-1zm7 0h4v1h-4zm7 0h1v1h-1zm8 0h1v1h-1zm6 0h1v1h-1zm2 0h1v1h-1zm2 0h2v1h-2zm3 0h3v1h-3zm4 0h1v1h-1zm7 0h2v1h-2zm4 0h2v1h-2zm6 0h1v1h-1zm11 0h1v1h-1zm2 0h2v1h-2zm10 0h1v1h-1zm-81 1h1v1h-1zm10 0h3v1h-3zm6 0h1v1h-1zm8 0h2v1h-2zm4 0h1v1h-1zm5 0h1v1h-1zm4 0h2v1h-2zm9 0h1v1h-1zm6 0h1v1h-1zm2 0h1v1h-1zm2 0h1v1h-1zm6 0h1v1h-1zm2 0h1v1h-1zm5 0h1v1h-1zm4 0h1v1h-1zm-166 1h1v1h-1zm14 0h1v1h-1zm78 0h2v1h-2zm4 0h2v1h-2zm4 0h3v1h-3zm4 0h1v1h-1zm2 0h3v1h-3zm8 0h2v1h-2zm4 0h1v1h-1zm2 0h1v1h-1zm4 0h1v1h-1zm9 0h1v1h-1zm4 0h1v1h-1zm4 0h1v1h-1zm2 0h2v1h-2zm4 0h2v1h-2zm6 0h1v1h-1zm5 0h1v1h-1zm3 0h1v1h-1zm13 0h2v1h-2zm-84 1h1v1h-1zm3 0h1v1h-1zm4 0h5v1h-5zm9 0h1v1h-1zm2 0h2v1h-2zm6 0h2v1h-2zm4 0h4v1h-4zm5 0h1v1h-1zm6 0h3v1h-3zm10 0h2v1h-2zm4 0h1v1h-1zm2 0h1v1h-1zm4 0h1v1h-1zm2 0h1v1h-1zm10 0h1v1h-1zm2 0h1v1h-1zm6 0h1v1h-1zm6 0h1v1h-1zm-85 1h2v1h-2zm3 0h4v1h-4zm5 0h1v1h-1zm3 0h1v1h-1zm3 0h1v1h-1zm2 0h1v1h-1zm2 0h1v1h-1zm2 0h4v1h-4zm5 0h2v1h-2zm3 0h2v1h-2zm3 0h1v1h-1zm3 0h2v1h-2zm3 0h2v1h-2zm5 0h2v1h-2zm4 0h1v1h-1zm2 0h1v1h-1zm3 0h1v1h-1zm3 0h1v1h-1zm2 0h1v1h-1zm7 0h2v1h-2zm4 0h1v1h-1zm4 0h1v1h-1zm10 0h2v1h-2zm5 0h1v1h-1zm-84 1h2v1h-2zm3 0h1v1h-1zm2 0h1v1h-1zm10 0h3v1h-3zm7 0h1v1h-1zm3 0h1v1h-1zm5 0h1v1h-1zm3 0h1v1h-1zm6 0h1v1h-1zm3 0h2v1h-2zm3 0h1v1h-1zm5 0h2v1h-2zm3 0h1v1h-1zm6 0h1v1h-1zm6 0h1v1h-1zm19 0h1v1h-1zm-82 1h2v1h-2zm3 0h2v1h-2zm3 0h1v1h-1zm4 0h1v1h-1zm2 0h1v1h-1zm2 0h1v1h-1zm3 0h2v1h-2zm5 0h1v1h-1zm2 0h1v1h-1zm2 0h1v1h-1zm3 0h1v1h-1zm3 0h2v1h-2zm4 0h2v1h-2zm10 0h2v1h-2zm3 0h1v1h-1zm4 0h2v1h-2zm3 0h1v1h-1zm2 0h1v1h-1zm7 0h1v1h-1zm5 0h1v1h-1zm11 0h2v1h-2zm-82 1h1v1h-1zm7 0h2v1h-2zm3 0h1v1h-1zm2 0h2v1h-2zm4 0h1v1h-1zm2 0h3v1h-3zm4 0h1v1h-1zm3 0h1v1h-1zm4 0h1v1h-1zm2 0h1v1h-1zm4 0h2v1h-2zm9 0h1v1h-1zm2 0h2v1h-2zm4 0h1v1h-1zm5 0h2v1h-2zm3 0h2v1h-2zm9 0h1v1h-1zm7 0h1v1h-1zm2 0h2v1h-2zm-161 1h1v1h-1zm86 0h2v1h-2zm3 0h1v1h-1zm3 0h3v1h-3zm4 0h3v1h-3zm4 0h1v1h-1zm8 0h3v1h-3zm4 0h1v1h-1zm2 0h2v1h-2zm3 0h1v1h-1zm4 0h1v1h-1zm4 0h1v1h-1zm5 0h1v1h-1zm9 0h1v1h-1zm2 0h1v1h-1zm16 0h1v1h-1zm7 0h1v1h-1zm6 0h1v1h-1zm-171 1h1v1h-1zm85 0h1v1h-1zm3 0h2v1h-2zm11 0h3v1h-3zm7 0h1v1h-1zm2 0h4v1h-4zm12 0h1v1h-1zm5 0h1v1h-1zm4 0h1v1h-1zm3 0h4v1h-4zm7 0h1v1h-1zm3 0h1v1h-1zm2 0h1v1h-1zm3 0h1v1h-1zm2 0h1v1h-1zm2 0h1v1h-1zm10 0h1v1h-1zm2 0h1v1h-1zm3 0h1v1h-1zm-159 1h1v1h-1zm77 0h4v1h-4zm12 0h1v1h-1zm4 0h1v1h-1zm7 0h1v1h-1zm2 0h2v1h-2zm4 0h1v1h-1zm2 0h3v1h-3zm5 0h1v1h-1zm3 0h1v1h-1zm2 0h1v1h-1zm2 0h1v1h-1zm3 0h2v1h-2zm3 0h1v1h-1zm5 0h1v1h-1zm7 0h1v1h-1zm2 0h1v1h-1zm11 0h1v1h-1zm4 0h1v1h-1zm5 0h1v1h-1zm3 0h1v1h-1zm-86 1h2v1h-2zm7 0h1v1h-1zm4 0h2v1h-2zm6 0h2v1h-2zm4 0h1v1h-1zm7 0h2v1h-2zm7 0h1v1h-1zm2 0h1v1h-1zm2 0h1v1h-1zm2 0h1v1h-1zm4 0h1v1h-1zm4 0h1v1h-1zm2 0h3v1h-3zm7 0h1v1h-1zm3 0h2v1h-2zm4 0h1v1h-1zm4 0h1v1h-1zm6 0h1v1h-1zm3 0h2v1h-2zm-156 1h1v1h-1zm79 0h1v1h-1zm2 0h3v1h-3zm5 0h2v1h-2zm3 0h1v1h-1zm2 0h1v1h-1zm3 0h2v1h-2zm3 0h3v1h-3zm4 0h1v1h-1zm7 0h1v1h-1zm3 0h1v1h-1zm4 0h2v1h-2zm3 0h2v1h-2zm10 0h1v1h-1zm9 0h2v1h-2zm18 0h1v1h-1zm9 0h1v1h-1zm-181 1h1v1h-1zm93 0h3v1h-3zm5 0h1v1h-1zm5 0h5v1h-5zm6 0h2v1h-2zm5 0h1v1h-1zm2 0h1v1h-1zm2 0h1v1h-1zm2 0h2v1h-2zm6 0h2v1h-2zm7 0h1v1h-1zm5 0h1v1h-1zm2 0h1v1h-1zm19 0h1v1h-1zm13 0h1v1h-1zm6 0h1v1h-1zm-164 1h1v1h-1zm2 0h1v1h-1zm72 0h1v1h-1zm4 0h3v1h-3zm6 0h1v1h-1zm2 0h2v1h-2zm4 0h2v1h-2zm4 0h1v1h-1zm3 0h2v1h-2zm5 0h1v1h-1zm4 0h1v1h-1zm4 0h1v1h-1zm2 0h1v1h-1zm2 0h1v1h-1zm3 0h2v1h-2zm6 0h1v1h-1zm2 0h1v1h-1zm3 0h1v1h-1zm2 0h1v1h-1zm11 0h1v1h-1zm3 0h1v1h-1zm4 0h1v1h-1zm5 0h1v1h-1zm12 0h1v1h-1zm-166 1h1v1h-1zm74 0h1v1h-1zm5 0h2v1h-2zm3 0h1v1h-1zm2 0h2v1h-2zm5 0h2v1h-2zm3 0h3v1h-3zm4 0h1v1h-1zm2 0h3v1h-3zm6 0h2v1h-2zm3 0h1v1h-1zm3 0h1v1h-1zm2 0h1v1h-1zm2 0h1v1h-1zm5 0h2v1h-2zm8 0h1v1h-1zm2 0h1v1h-1zm6 0h1v1h-1zm7 0h1v1h-1zm4 0h2v1h-2zm6 0h1v1h-1zm10 0h1v1h-1zm-83 1h1v1h-1zm3 0h1v1h-1zm3 0h1v1h-1zm3 0h1v1h-1zm9 0h2v1h-2zm5 0h2v1h-2zm3 0h1v1h-1zm2 0h1v1h-1zm3 0h3v1h-3zm4 0h1v1h-1zm4 0h1v1h-1zm9 0h2v1h-2zm3 0h1v1h-1zm4 0h1v1h-1zm2 0h1v1h-1zm4 0h1v1h-1zm8 0h1v1h-1zm2 0h1v1h-1zm14 0h1v1h-1zm-166 1h1v1h-1zm86 0h1v1h-1zm10 0h1v1h-1zm5 0h1v1h-1zm3 0h1v1h-1zm2 0h1v1h-1zm2 0h1v1h-1zm2 0h1v1h-1zm3 0h1v1h-1zm4 0h1v1h-1zm3 0h1v1h-1zm10 0h1v1h-1zm7 0h1v1h-1zm6 0h1v1h-1zm3 0h3v1h-3zm6 0h1v1h-1zm8 0h1v1h-1zm9 0h1v1h-1zm-171 1h1v1h-1zm84 0h4v1h-4zm11 0h1v1h-1zm2 0h1v1h-1zm3 0h1v1h-1zm2 0h1v1h-1zm2 0h1v1h-1zm21 0h1v1h-1zm2 0h1v1h-1zm8 0h1v1h-1zm3 0h1v1h-1zm2 0h1v1h-1zm3 0h2v1h-2zm8 0h1v1h-1zm6 0h1v1h-1zm9 0h1v1h-1zm-182 1h1v1h-1zm99 0h1v1h-1zm2 0h1v1h-1zm2 0h1v1h-1zm8 0h2v1h-2zm8 0h1v1h-1zm3 0h1v1h-1zm4 0h1v1h-1zm11 0h2v1h-2zm5 0h2v1h-2zm3 0h1v1h-1zm5 0h2v1h-2zm8 0h1v1h-1zm13 0h2v1h-2zm10 0h1v1h-1zm6 0h1v1h-1zm-171 1h1v1h-1zm82 0h1v1h-1zm2 0h2v1h-2zm3 0h2v1h-2zm3 0h1v1h-1zm2 0h1v1h-1zm4 0h1v1h-1zm2 0h1v1h-1zm2 0h2v1h-2zm3 0h1v1h-1zm9 0h1v1h-1zm5 0h1v1h-1zm2 0h1v1h-1zm7 0h1v1h-1zm6 0h3v1h-3zm4 0h1v1h-1zm7 0h3v1h-3zm5 0h1v1h-1zm6 0h1v1h-1zm7 0h1v1h-1zm-154 1h1v1h-1zm70 0h1v1h-1zm3 0h1v1h-1zm2 0h1v1h-1zm2 0h2v1h-2zm3 0h1v1h-1zm2 0h2v1h-2zm5 0h2v1h-2zm9 0h1v1h-1zm2 0h1v1h-1zm2 0h1v1h-1zm2 0h2v1h-2zm4 0h1v1h-1zm4 0h1v1h-1zm3 0h1v1h-1zm4 0h2v1h-2zm5 0h1v1h-1zm3 0h1v1h-1zm5 0h1v1h-1zm9 0h1v1h-1zm3 0h2v1h-2zm7 0h1v1h-1zm13 0h2v1h-2zm-163 1h1v1h-1zm70 0h1v1h-1zm3 0h1v1h-1zm2 0h1v1h-1zm2 0h1v1h-1zm2 0h1v1h-1zm2 0h1v1h-1zm6 0h1v1h-1zm3 0h1v1h-1zm7 0h1v1h-1zm5 0h2v1h-2zm3 0h1v1h-1zm4 0h1v1h-1zm3 0h3v1h-3zm8 0h1v1h-1zm6 0h2v1h-2zm12 0h1v1h-1zm8 0h1v1h-1zm-144 1h1v1h-1zm67 0h1v1h-1zm2 0h1v1h-1zm4 0h1v1h-1zm2 0h1v1h-1zm2 0h1v1h-1zm4 0h3v1h-3zm10 0h2v1h-2zm6 0h3v1h-3zm5 0h1v1h-1zm6 0h1v1h-1zm2 0h1v1h-1zm2 0h1v1h-1zm2 0h4v1h-4zm7 0h1v1h-1zm5 0h1v1h-1zm4 0h1v1h-1zm2 0h1v1h-1zm3 0h2v1h-2zm25 0h1v1h-1zm2 0h1v1h-1zm-175 1h1v1h-1zm6 0h1v1h-1zm73 0h1v1h-1zm3 0h2v1h-2zm9 0h1v1h-1zm4 0h1v1h-1zm2 0h1v1h-1zm3 0h2v1h-2zm3 0h1v1h-1zm5 0h1v1h-1zm8 0h1v1h-1zm3 0h1v1h-1zm2 0h1v1h-1zm9 0h2v1h-2zm5 0h1v1h-1zm2 0h2v1h-2zm3 0h1v1h-1zm6 0h2v1h-2zm5 0h1v1h-1zm5 0h1v1h-1zm2 0h1v1h-1zm-79 1h1v1h-1zm3 0h2v1h-2zm7 0h1v1h-1zm8 0h1v1h-1zm2 0h1v1h-1zm2 0h1v1h-1zm10 0h3v1h-3zm4 0h1v1h-1zm6 0h1v1h-1zm5 0h2v1h-2zm6 0h1v1h-1zm6 0h1v1h-1zm3 0h1v1h-1zm10 0h1v1h-1zm11 0h1v1h-1zm6 0h1v1h-1zm-90 1h5v1h-5zm9 0h1v1h-1zm7 0h1v1h-1zm7 0h3v1h-3zm16 0h1v1h-1zm14 0h2v1h-2zm9 0h2v1h-2zm10 0h1v1h-1zm8 0h1v1h-1zm4 0h1v1h-1zm12 0h1v1h-1zm-165 1h1v1h-1zm68 0h1v1h-1zm2 0h5v1h-5zm6 0h1v1h-1zm14 0h1v1h-1zm3 0h1v1h-1zm2 0h2v1h-2zm3 0h1v1h-1zm5 0h4v1h-4zm5 0h1v1h-1zm4 0h1v1h-1zm6 0h1v1h-1zm4 0h2v1h-2zm6 0h1v1h-1zm3 0h2v1h-2zm3 0h3v1h-3zm5 0h1v1h-1zm4 0h1v1h-1zm8 0h2v1h-2zm7 0h1v1h-1zm9 0h1v1h-1zm-97 1h1v1h-1zm2 0h1v1h-1zm8 0h1v1h-1zm2 0h2v1h-2zm4 0h1v1h-1zm3 0h1v1h-1zm13 0h2v1h-2zm5 0h1v1h-1zm7 0h1v1h-1zm3 0h1v1h-1zm2 0h1v1h-1zm3 0h1v1h-1zm8 0h1v1h-1zm2 0h1v1h-1zm12 0h1v1h-1zm2 0h1v1h-1zm14 0h1v1h-1zm3 0h1v1h-1zm-161 1h1v1h-1zm65 0h1v1h-1zm2 0h1v1h-1zm8 0h1v1h-1zm4 0h1v1h-1zm2 0h1v1h-1zm3 0h2v1h-2zm10 0h2v1h-2zm6 0h1v1h-1zm6 0h1v1h-1zm2 0h1v1h-1zm4 0h1v1h-1zm8 0h1v1h-1zm4 0h1v1h-1zm6 0h1v1h-1zm19 0h1v1h-1zm4 0h1v1h-1zm8 0h1v1h-1zm-98 1h1v1h-1zm3 0h1v1h-1zm6 0h1v1h-1zm2 0h1v1h-1zm5 0h1v1h-1zm3 0h1v1h-1zm4 0h6v1h-6zm9 0h1v1h-1zm3 0h1v1h-1zm15 0h1v1h-1zm7 0h1v1h-1zm9 0h1v1h-1zm11 0h3v1h-3zm-79 1h2v1h-2zm3 0h3v1h-3zm4 0h1v1h-1zm6 0h1v1h-1zm3 0h2v1h-2zm4 0h1v1h-1zm2 0h1v1h-1zm2 0h1v1h-1zm8 0h2v1h-2zm7 0h1v1h-1zm11 0h1v1h-1zm2 0h1v1h-1zm10 0h1v1h-1zm3 0h1v1h-1zm8 0h2v1h-2zm30 0h2v1h-2zm-99 1h1v1h-1zm6 0h1v1h-1zm2 0h2v1h-2zm10 0h1v1h-1zm7 0h1v1h-1zm7 0h1v1h-1zm2 0h1v1h-1zm2 0h1v1h-1zm7 0h1v1h-1zm15 0h1v1h-1zm7 0h1v1h-1zm31 0h1v1h-1zm6 0h1v1h-1zm-172 1h1v1h-1zm2 0h1v1h-1zm63 0h1v1h-1zm5 0h1v1h-1zm3 0h3v1h-3zm4 0h1v1h-1zm4 0h1v1h-1zm4 0h1v1h-1zm6 0h1v1h-1zm8 0h1v1h-1zm2 0h1v1h-1zm5 0h1v1h-1zm6 0h2v1h-2zm4 0h1v1h-1zm7 0h2v1h-2zm3 0h1v1h-1zm9 0h1v1h-1zm3 0h1v1h-1zm8 0h1v1h-1zm2 0h1v1h-1zm-85 1h1v1h-1zm5 0h1v1h-1zm3 0h2v1h-2zm4 0h3v1h-3zm4 0h1v1h-1zm2 0h1v1h-1zm5 0h1v1h-1zm6 0h1v1h-1zm20 0h1v1h-1zm5 0h1v1h-1zm4 0h1v1h-1zm6 0h2v1h-2zm18 0h1v1h-1zm-153 1h1v1h-1zm3 0h1v1h-1zm8 0h1v1h-1zm60 0h1v1h-1zm2 0h4v1h-4zm11 0h1v1h-1zm3 0h1v1h-1zm2 0h1v1h-1zm3 0h1v1h-1zm17 0h2v1h-2zm4 0h1v1h-1zm12 0h1v1h-1zm-118 1h1v1h-1zm3 0h1v1h-1zm60 0h1v1h-1zm2 0h1v1h-1zm2 0h2v1h-2zm4 0h2v1h-2zm3 0h1v1h-1zm2 0h1v1h-1zm7 0h1v1h-1zm10 0h1v1h-1zm7 0h1v1h-1zm2 0h1v1h-1zm14 0h1v1h-1zm9 0h1v1h-1zm7 0h1v1h-1zm3 0h1v1h-1zm7 0h1v1h-1zm19 0h1v1h-1zm-98 1h1v1h-1zm3 0h2v1h-2zm7 0h1v1h-1zm12 0h1v1h-1zm43 0h1v1h-1zm6 0h1v1h-1zm19 0h1v1h-1zm-171 1h1v1h-1zm8 0h1v1h-1zm10 0h3v1h-3zm4 0h3v1h-3zm56 0h1v1h-1zm3 0h1v1h-1zm2 0h1v1h-1zm4 0h1v1h-1zm9 0h1v1h-1zm2 0h1v1h-1zm5 0h1v1h-1zm20 0h2v1h-2zm5 0h1v1h-1zm8 0h1v1h-1zm14 0h1v1h-1zm9 0h1v1h-1zm12 0h1v1h-1zm-155 1h1v1h-1zm2 0h1v1h-1zm60 0h2v1h-2zm4 0h3v1h-3zm5 0h1v1h-1zm6 0h1v1h-1zm5 0h1v1h-1zm24 0h1v1h-1zm4 0h1v1h-1zm20 0h1v1h-1zm4 0h1v1h-1zm-144 1h1v1h-1zm6 0h1v1h-1zm3 0h2v1h-2zm8 0h1v1h-1zm53 0h2v1h-2zm3 0h2v1h-2zm5 0h2v1h-2zm9 0h1v1h-1zm4 0h1v1h-1zm52 0h1v1h-1zm13 0h1v1h-1zm3 0h1v1h-1zm-161 1h1v1h-1zm5 0h1v1h-1zm2 0h1v1h-1zm4 0h3v1h-3zm4 0h1v1h-1zm2 0h2v1h-2zm51 0h1v1h-1zm2 0h1v1h-1zm2 0h1v1h-1zm2 0h1v1h-1zm37 0h1v1h-1zm16 0h1v1h-1zm2 0h1v1h-1zm7 0h1v1h-1zm-132 1h1v1h-1zm7 0h1v1h-1zm55 0h2v1h-2zm22 0h1v1h-1zm7 0h1v1h-1zm2 0h1v1h-1zm7 0h1v1h-1zm3 0h1v1h-1zm18 0h1v1h-1zm40 0h1v1h-1zm8 0h1v1h-1zm6 0h1v1h-1zm-181 1h1v1h-1zm4 0h1v1h-1zm3 0h2v1h-2zm3 0h1v1h-1zm55 0h1v1h-1zm14 0h1v1h-1zm44 0h1v1h-1zm17 0h1v1h-1zm21 0h1v1h-1zm-163 1h1v1h-1zm4 0h1v1h-1zm102 0h1v1h-1zm9 0h1v1h-1zm7 0h1v1h-1zm4 0h1v1h-1zm2 0h1v1h-1zm13 0h1v1h-1zm-139 1h2v1h-2zm3 0h3v1h-3zm72 0h1v1h-1zm52 0h1v1h-1zm-132 1h1v1h-1zm4 0h1v1h-1zm3 0h2v1h-2zm60 0h1v1h-1zm13 0h1v1h-1zm44 0h1v1h-1zm8 0h1v1h-1zm9 0h1v1h-1zm10 0h1v1h-1zm7 0h1v1h-1zm-162 1h1v1h-1zm9 0h2v1h-2zm106 0h1v1h-1zm17 0h1v1h-1zm28 0h1v1h-1zm36 0h1v1h-1zm-199 1h1v1h-1zm9 0h1v1h-1zm2 0h1v1h-1zm88 0h1v1h-1zm35 0h1v1h-1zm3 0h1v1h-1zm46 0h1v1h-1zm-176 1h1v1h-1zm84 0h1v1h-1zm34 0h1v1h-1zm6 0h1v1h-1zm39 0h1v1h-1zm9 0h1v1h-1zm-175 1h1v1h-1zm3 0h1v1h-1zm2 0h1v1h-1zm145 0h1v1h-1zm18 0h1v1h-1zm-169 1h1v1h-1zm3 0h1v1h-1zm40 0h1v1h-1zm23 0h1v1h-1zm98 0h1v1h-1zm15 0h1v1h-1zm-182 1h1v1h-1zm2 0h1v1h-1zm0 1h1v1h-1zm3 0h1v1h-1zm37 0h1v1h-1zm2 0h1v1h-1zm86 0h1v1h-1zm38 0h1v1h-1zm-165 1h1v1h-1zm35 0h2v1h-2zm3 0h1v1h-1zm100 0h1v1h-1zm-140 1h2v1h-2zm37 0h1v1h-1zm5 0h1v1h-1zm72 0h1v1h-1zm11 0h1v1h-1zm34 0h1v1h-1zm-123 1h1v1h-1zm2 0h1v1h-1zm32 0h1v1h-1zm51 0h1v1h-1zm12 0h1v1h-1zm-136 1h1v1h-1zm2 0h1v1h-1zm32 0h1v1h-1zm3 0h1v1h-1zm2 0h1v1h-1zm4 0h1v1h-1zm2 0h1v1h-1zm55 0h1v1h-1zm-100 1h2v1h-2zm35 0h1v1h-1zm6 0h1v1h-1zm108 0h1v1h-1zm-149 1h1v1h-1zm32 0h3v1h-3zm4 0h1v1h-1zm79 0h1v1h-1zm-115 1h1v1h-1zm28 0h4v1h-4zm6 0h1v1h-1zm-34 1h1v1h-1zm28 0h1v1h-1zm3 0h1v1h-1zm4 0h1v1h-1zm2 0h1v1h-1zm-38 1h1v1h-1zm26 0h2v1h-2zm4 0h2v1h-2zm-28 1h1v1h-1zm22 0h3v1h-3zm8 0h2v1h-2zm-30 1h2v1h-2zm3 0h1v1h-1zm17 0h2v1h-2zm3 0h1v1h-1zm5 0h1v1h-1zm18 0h1v1h-1zm-47 1h1v1h-1zm2 0h1v1h-1zm2 0h1v1h-1zm2 0h1v1h-1zm6 0h1v1h-1zm6 0h4v1h-4zm7 0h1v1h-1zm5 0h1v1h-1zm-31 1h4v1h-4zm5 0h1v1h-1zm4 0h3v1h-3zm7 0h1v1h-1zm2 0h1v1h-1zm4 0h1v1h-1zm4 0h1v1h-1zm-26 1h1v1h-1zm7 0h1v1h-1zm2 0h1v1h-1zm5 0h1v1h-1zm-9 1h1v1h-1zm2 0h1v1h-1zm9 0h1v1h-1zm4 0h1v1h-1zm-19 1h2v1h-2zm7 0h1v1h-1zm-3 1h2v1h-2zm8 0h1v1h-1zm12 0h1v1h-1zm-22 1h1v1h-1zm5 0h1v1h-1zm5 0h1v1h-1zm5 0h1v1h-1zm8 0h1v1h-1zm-25 1h1v1h-1zm5 1h1v1h-1zm5 0h1v1h-1zm-5 1h1v1h-1zm2 0h1v1h-1zm42 0h1v1h-1zm-26 1h1v1h-1z"/>
<path fill="#1e32e0" d="M235 689h1v1h-1zm2 0h1v1h-1zm8 0h2v1h-2zm12 0h6v1h-6zm-23 1h1v1h-1zm2 0h2v1h-2zm7 0h6v1h-6zm9 0h2v1h-2zm3 0h1v1h-1zm2 0h1v1h-1zm2 0h4v1h-4zm5 0h2v1h-2zm-32 1h8v1h-8zm9 0h1v1h-1zm3 0h2v1h-2zm4 0h1v1h-1zm2 0h1v1h-1zm2 0h1v1h-1zm2 0h4v1h-4zm5 0h2v1h-2zm4 0h3v1h-3zm-33 1h2v1h-2zm3 0h2v1h-2zm3 0h1v1h-1zm2 0h4v1h-4zm5 0h1v1h-1zm2 0h8v1h-8zm12 0h8v1h-8zm-31 1h1v1h-1zm2 0h1v1h-1zm2 0h4v1h-4zm5 0h3v1h-3zm5 0h12v1h-12zm13 0h2v1h-2zm5 0h1v1h-1zm2 0h4v1h-4zm5 0h2v1h-2zm-41 1h2v1h-2zm3 0h2v1h-2zm4 0h3v1h-3zm4 0h1v1h-1zm2 0h3v1h-3zm4 0h4v1h-4zm5 0h3v1h-3zm4 0h4v1h-4zm6 0h8v1h-8zm9 0h1v1h-1zm-43 1h2v1h-2zm5 0h1v1h-1zm5 0h1v1h-1zm2 0h4v1h-4zm5 0h6v1h-6zm7 0h4v1h-4zm14 0h8v1h-8zm-45 1h1v1h-1zm3 0h5v1h-5zm6 0h6v1h-6zm8 0h3v1h-3zm4 0h1v1h-1zm2 0h1v1h-1zm23 0h3v1h-3zm4 0h1v1h-1zm-62 1h3v1h-3zm9 0h2v1h-2zm3 0h1v1h-1zm2 0h3v1h-3zm6 0h2v1h-2zm3 0h5v1h-5zm7 0h1v1h-1zm30 0h5v1h-5zm-61 1h3v1h-3zm5 0h1v1h-1zm3 0h1v1h-1zm2 0h1v1h-1zm2 0h11v1h-11zm13 0h5v1h-5zm38 0h3v1h-3zm-64 1h1v1h-1zm2 0h6v1h-6zm8 0h1v1h-1zm3 0h4v1h-4zm5 0h3v1h-3zm4 0h6v1h-6zm43 0h2v1h-2zm-74 1h4v1h-4zm9 0h4v1h-4zm8 0h3v1h-3zm5 0h4v1h-4zm5 0h4v1h-4zm5 0h3v1h-3zm42 0h2v1h-2zm-75 1h4v1h-4zm5 0h2v1h-2zm3 0h2v1h-2zm3 0h1v1h-1zm2 0h11v1h-11zm12 0h2v1h-2zm3 0h2v1h-2zm-46 1h1v1h-1zm17 0h1v1h-1zm2 0h3v1h-3zm6 0h2v1h-2zm4 0h4v1h-4zm5 0h1v1h-1zm2 0h1v1h-1zm2 0h1v1h-1zm2 0h3v1h-3zm4 0h5v1h-5zm50 0h1v1h-1zm-96 1h4v1h-4zm12 0h1v1h-1zm4 0h1v1h-1zm2 0h2v1h-2zm3 0h2v1h-2zm3 0h5v1h-5zm6 0h5v1h-5zm6 0h2v1h-2zm3 0h3v1h-3zm4 0h7v1h-7zm53 0h1v1h-1zm-95 1h3v1h-3zm7 0h4v1h-4zm5 0h1v1h-1zm7 0h4v1h-4zm5 0h5v1h-5zm6 0h1v1h-1zm2 0h2v1h-2zm3 0h6v1h-6zm10 0h2v1h-2zm3 0h1v1h-1zm47 0h1v1h-1zm-98 1h5v1h-5zm6 0h1v1h-1zm5 0h12v1h-12zm13 0h3v1h-3zm4 0h3v1h-3zm4 0h4v1h-4zm5 0h2v1h-2zm3 0h1v1h-1zm58 0h1v1h-1zm-101 1h2v1h-2zm3 0h1v1h-1zm2 0h4v1h-4zm6 0h3v1h-3zm4 0h1v1h-1zm2 0h8v1h-8zm9 0h2v1h-2zm3 0h2v1h-2zm3 0h11v1h-11zm69 0h1v1h-1zm-101 1h3v1h-3zm5 0h4v1h-4zm7 0h3v1h-3zm4 0h1v1h-1zm4 0h8v1h-8zm9 0h3v1h-3zm4 0h1v1h-1zm2 0h4v1h-4zm5 0h2v1h-2zm61 0h1v1h-1zm-100 1h4v1h-4zm5 0h2v1h-2zm3 0h1v1h-1zm4 0h6v1h-6zm7 0h4v1h-4zm5 0h2v1h-2zm3 0h4v1h-4zm8 0h5v1h-5zm65 0h1v1h-1zm-101 1h5v1h-5zm6 0h10v1h-10zm11 0h2v1h-2zm4 0h2v1h-2zm4 0h2v1h-2zm14 0h1v1h-1zm62 0h1v1h-1zm-154 1h1v1h-1zm49 0h1v1h-1zm5 0h1v1h-1zm2 0h8v1h-8zm9 0h9v1h-9zm10 0h5v1h-5zm78 0h2v1h-2zm-154 1h5v1h-5zm48 0h2v1h-2zm5 0h2v1h-2zm4 0h8v1h-8zm9 0h4v1h-4zm8 0h4v1h-4zm5 0h2v1h-2zm74 0h3v1h-3zm-154 1h6v1h-6zm7 0h1v1h-1zm32 0h1v1h-1zm9 0h5v1h-5zm6 0h9v1h-9zm11 0h3v1h-3zm5 0h1v1h-1zm2 0h4v1h-4zm5 0h6v1h-6zm78 0h2v1h-2zm-154 1h3v1h-3zm6 0h2v1h-2zm31 0h5v1h-5zm6 0h1v1h-1zm2 0h2v1h-2zm3 0h2v1h-2zm3 0h1v1h-1zm2 0h2v1h-2zm3 0h1v1h-1zm3 0h2v1h-2zm3 0h8v1h-8zm9 0h1v1h-1zm3 0h10v1h-10zm78 0h2v1h-2zm3 0h1v1h-1zm-156 1h2v1h-2zm3 0h5v1h-5zm6 0h2v1h-2zm28 0h2v1h-2zm4 0h4v1h-4zm7 0h1v1h-1zm4 0h9v1h-9zm10 0h1v1h-1zm2 0h5v1h-5zm6 0h6v1h-6zm8 0h1v1h-1zm2 0h4v1h-4zm71 0h6v1h-6zm-152 1h1v1h-1zm2 0h1v1h-1zm3 0h5v1h-5zm32 0h2v1h-2zm4 0h1v1h-1zm2 0h2v1h-2zm3 0h3v1h-3zm6 0h6v1h-6zm7 0h9v1h-9zm10 0h3v1h-3zm4 0h13v1h-13zm77 0h2v1h-2zm3 0h5v1h-5zm-153 1h3v1h-3zm5 0h2v1h-2zm3 0h3v1h-3zm29 0h1v1h-1zm2 0h3v1h-3zm4 0h2v1h-2zm4 0h5v1h-5zm7 0h1v1h-1zm2 0h11v1h-11zm12 0h9v1h-9zm10 0h3v1h-3zm4 0h2v1h-2zm68 0h7v1h-7zm-150 1h5v1h-5zm9 0h4v1h-4zm26 0h1v1h-1zm2 0h1v1h-1zm2 0h7v1h-7zm8 0h4v1h-4zm5 0h1v1h-1zm2 0h3v1h-3zm4 0h3v1h-3zm7 0h3v1h-3zm4 0h3v1h-3zm6 0h2v1h-2zm3 0h4v1h-4zm70 0h7v1h-7zm9 0h1v1h-1zm-157 1h5v1h-5zm7 0h5v1h-5zm7 0h1v1h-1zm21 0h1v1h-1zm2 0h4v1h-4zm5 0h3v1h-3zm6 0h4v1h-4zm5 0h1v1h-1zm2 0h11v1h-11zm12 0h4v1h-4zm8 0h5v1h-5zm15 0h2v1h-2zm56 0h2v1h-2zm3 0h1v1h-1zm2 0h2v1h-2zm3 0h2v1h-2zm-154 1h12v1h-12zm13 0h1v1h-1zm24 0h4v1h-4zm5 0h4v1h-4zm5 0h7v1h-7zm8 0h2v1h-2zm3 0h1v1h-1zm2 0h1v1h-1zm2 0h2v1h-2zm15 0h1v1h-1zm12 0h4v1h-4zm50 0h11v1h-11zm12 0h1v1h-1zm2 0h1v1h-1zm-153 1h3v1h-3zm4 0h1v1h-1zm3 0h7v1h-7zm8 0h2v1h-2zm22 0h2v1h-2zm3 0h1v1h-1zm2 0h5v1h-5zm6 0h1v1h-1zm3 0h1v1h-1zm4 0h4v1h-4zm5 0h2v1h-2zm10 0h2v1h-2zm5 0h1v1h-1zm14 0h1v1h-1zm3 0h1v1h-1zm18 0h2v1h-2zm28 0h5v1h-5zm6 0h10v1h-10zm-145 1h2v1h-2zm3 0h1v1h-1zm2 0h5v1h-5zm6 0h7v1h-7zm26 0h4v1h-4zm6 0h3v1h-3zm4 0h3v1h-3zm4 0h1v1h-1zm2 0h1v1h-1zm2 0h2v1h-2zm3 0h2v1h-2zm3 0h2v1h-2zm10 0h1v1h-1zm3 0h3v1h-3zm16 0h3v1h-3zm4 0h1v1h-1zm14 0h3v1h-3zm4 0h8v1h-8zm15 0h10v1h-10zm11 0h4v1h-4zm5 0h6v1h-6zm7 0h5v1h-5zm-149 1h2v1h-2zm4 0h5v1h-5zm7 0h2v1h-2zm4 0h1v1h-1zm21 0h1v1h-1zm2 0h3v1h-3zm4 0h1v1h-1zm2 0h1v1h-1zm2 0h3v1h-3zm6 0h1v1h-1zm2 0h4v1h-4zm5 0h2v1h-2zm8 0h3v1h-3zm4 0h1v1h-1zm2 0h1v1h-1zm9 0h2v1h-2zm5 0h3v1h-3zm4 0h10v1h-10zm15 0h1v1h-1zm2 0h2v1h-2zm5 0h7v1h-7zm8 0h5v1h-5zm6 0h11v1h-11zm12 0h1v1h-1zm3 0h1v1h-1zm4 0h3v1h-3zm-147 1h1v1h-1zm2 0h7v1h-7zm10 0h2v1h-2zm4 0h1v1h-1zm20 0h1v1h-1zm2 0h2v1h-2zm3 0h5v1h-5zm6 0h3v1h-3zm4 0h3v1h-3zm4 0h6v1h-6zm14 0h1v1h-1zm2 0h4v1h-4zm10 0h7v1h-7zm10 0h6v1h-6zm7 0h1v1h-1zm2 0h2v1h-2zm6 0h3v1h-3zm5 0h1v1h-1zm2 0h2v1h-2zm3 0h13v1h-13zm14 0h2v1h-2zm3 0h3v1h-3zm7 0h1v1h-1zm2 0h4v1h-4zm7 0h1v1h-1zm-149 1h2v1h-2zm13 0h3v1h-3zm4 0h2v1h-2zm13 0h3v1h-3zm4 0h3v1h-3zm5 0h1v1h-1zm2 0h2v1h-2zm4 0h1v1h-1zm2 0h14v1h-14zm19 0h3v1h-3zm4 0h2v1h-2zm3 0h1v1h-1zm6 0h4v1h-4zm6 0h3v1h-3zm8 0h3v1h-3zm4 0h3v1h-3zm5 0h1v1h-1zm4 0h2v1h-2zm3 0h3v1h-3zm4 0h2v1h-2zm3 0h2v1h-2zm5 0h1v1h-1zm2 0h2v1h-2zm4 0h2v1h-2zm3 0h1v1h-1zm4 0h6v1h-6zm7 0h2v1h-2zm4 0h3v1h-3zm4 0h1v1h-1zm-149 1h1v1h-1zm13 0h6v1h-6zm7 0h1v1h-1zm8 0h6v1h-6zm9 0h3v1h-3zm4 0h1v1h-1zm2 0h6v1h-6zm7 0h1v1h-1zm2 0h1v1h-1zm3 0h1v1h-1zm3 0h5v1h-5zm8 0h1v1h-1zm2 0h6v1h-6zm10 0h1v1h-1zm2 0h1v1h-1zm2 0h2v1h-2zm3 0h5v1h-5zm7 0h4v1h-4zm5 0h7v1h-7zm8 0h4v1h-4zm5 0h1v1h-1zm2 0h1v1h-1zm2 0h4v1h-4zm5 0h2v1h-2zm3 0h2v1h-2zm3 0h1v1h-1zm4 0h3v1h-3zm6 0h2v1h-2zm4 0h1v1h-1zm2 0h1v1h-1zm2 0h5v1h-5zm-143 1h1v1h-1zm13 0h1v1h-1zm3 0h3v1h-3zm6 0h2v1h-2zm6 0h1v1h-1zm4 0h1v1h-1zm3 0h1v1h-1zm3 0h3v1h-3zm4 0h1v1h-1zm3 0h1v1h-1zm2 0h4v1h-4zm5 0h1v1h-1zm3 0h4v1h-4zm5 0h22v1h-22zm23 0h1v1h-1zm2 0h9v1h-9zm10 0h11v1h-11zm13 0h5v1h-5zm6 0h3v1h-3zm5 0h1v1h-1zm2 0h1v1h-1zm3 0h4v1h-4zm6 0h1v1h-1zm3 0h3v1h-3zm8 0h1v1h-1zm2 0h1v1h-1zm2 0h1v1h-1zm2 0h1v1h-1zm-147 1h1v1h-1zm15 0h5v1h-5zm6 0h4v1h-4zm5 0h1v1h-1zm2 0h2v1h-2zm3 0h3v1h-3zm5 0h1v1h-1zm3 0h1v1h-1zm5 0h2v1h-2zm3 0h4v1h-4zm5 0h9v1h-9zm10 0h2v1h-2zm3 0h3v1h-3zm4 0h3v1h-3zm4 0h3v1h-3zm5 0h6v1h-6zm7 0h1v1h-1zm2 0h4v1h-4zm5 0h2v1h-2zm7 0h16v1h-16zm17 0h1v1h-1zm2 0h1v1h-1zm4 0h1v1h-1zm3 0h3v1h-3zm4 0h3v1h-3zm4 0h3v1h-3zm10 0h1v1h-1zm-144 1h1v1h-1zm15 0h3v1h-3zm5 0h1v1h-1zm3 0h1v1h-1zm2 0h1v1h-1zm5 0h1v1h-1zm4 0h1v1h-1zm2 0h5v1h-5zm8 0h7v1h-7zm8 0h2v1h-2zm3 0h2v1h-2zm3 0h4v1h-4zm5 0h7v1h-7zm8 0h2v1h-2zm3 0h2v1h-2zm3 0h3v1h-3zm4 0h6v1h-6zm7 0h3v1h-3zm5 0h7v1h-7zm8 0h3v1h-3zm4 0h1v1h-1zm2 0h1v1h-1zm2 0h1v1h-1zm2 0h2v1h-2zm3 0h2v1h-2zm4 0h2v1h-2zm3 0h3v1h-3zm4 0h1v1h-1zm2 0h1v1h-1zm-127 1h1v1h-1zm16 0h1v1h-1zm3 0h5v1h-5zm7 0h3v1h-3zm4 0h1v1h-1zm2 0h2v1h-2zm3 0h1v1h-1zm2 0h2v1h-2zm3 0h2v1h-2zm3 0h3v1h-3zm4 0h5v1h-5zm6 0h3v1h-3zm4 0h2v1h-2zm3 0h1v1h-1zm2 0h12v1h-12zm13 0h1v1h-1zm3 0h1v1h-1zm2 0h6v1h-6zm8 0h7v1h-7zm9 0h1v1h-1zm2 0h8v1h-8zm9 0h5v1h-5zm7 0h2v1h-2zm6 0h8v1h-8zm-121 1h1v1h-1zm17 0h9v1h-9zm10 0h6v1h-6zm7 0h1v1h-1zm2 0h2v1h-2zm3 0h3v1h-3zm5 0h9v1h-9zm10 0h5v1h-5zm6 0h10v1h-10zm11 0h3v1h-3zm4 0h6v1h-6zm7 0h4v1h-4zm7 0h4v1h-4zm5 0h1v1h-1zm3 0h5v1h-5zm6 0h1v1h-1zm2 0h2v1h-2zm3 0h1v1h-1zm14 0h6v1h-6zm-122 1h1v1h-1zm17 0h3v1h-3zm4 0h2v1h-2zm3 0h2v1h-2zm3 0h4v1h-4zm5 0h1v1h-1zm4 0h2v1h-2zm3 0h1v1h-1zm2 0h4v1h-4zm5 0h1v1h-1zm4 0h1v1h-1zm2 0h3v1h-3zm4 0h1v1h-1zm2 0h1v1h-1zm2 0h7v1h-7zm8 0h1v1h-1zm2 0h7v1h-7zm8 0h4v1h-4zm5 0h6v1h-6zm7 0h1v1h-1zm2 0h4v1h-4zm5 0h3v1h-3zm5 0h1v1h-1zm2 0h1v1h-1zm2 0h1v1h-1zm2 0h2v1h-2zm16 0h1v1h-1zm2 0h2v1h-2zm-126 1h1v1h-1zm19 0h1v1h-1zm2 0h2v1h-2zm3 0h4v1h-4zm6 0h1v1h-1zm7 0h2v1h-2zm3 0h1v1h-1zm2 0h15v1h-15zm16 0h2v1h-2zm3 0h7v1h-7zm8 0h1v1h-1zm2 0h4v1h-4zm5 0h1v1h-1zm3 0h1v1h-1zm2 0h1v1h-1zm2 0h1v1h-1zm2 0h2v1h-2zm4 0h3v1h-3zm4 0h1v1h-1zm2 0h2v1h-2zm3 0h1v1h-1zm2 0h1v1h-1zm3 0h4v1h-4zm5 0h2v1h-2zm-108 1h1v1h-1zm18 0h5v1h-5zm6 0h3v1h-3zm5 0h1v1h-1zm2 0h1v1h-1zm7 0h1v1h-1zm4 0h1v1h-1zm3 0h1v1h-1zm3 0h4v1h-4zm6 0h3v1h-3zm4 0h2v1h-2zm3 0h2v1h-2zm4 0h1v1h-1zm2 0h2v1h-2zm5 0h1v1h-1zm4 0h7v1h-7zm8 0h1v1h-1zm3 0h3v1h-3zm5 0h3v1h-3zm4 0h3v1h-3zm4 0h2v1h-2zm8 0h1v1h-1zm-108 1h1v1h-1zm20 0h2v1h-2zm3 0h2v1h-2zm3 0h2v1h-2zm4 0h1v1h-1zm2 0h2v1h-2zm6 0h7v1h-7zm8 0h1v1h-1zm2 0h1v1h-1zm2 0h5v1h-5zm6 0h4v1h-4zm6 0h1v1h-1zm2 0h4v1h-4zm10 0h7v1h-7zm8 0h2v1h-2zm7 0h4v1h-4zm7 0h7v1h-7zm-76 1h1v1h-1zm2 0h4v1h-4zm5 0h3v1h-3zm4 0h3v1h-3zm6 0h3v1h-3zm6 0h2v1h-2zm3 0h2v1h-2zm3 0h10v1h-10zm11 0h5v1h-5zm7 0h1v1h-1zm9 0h5v1h-5zm6 0h1v1h-1zm8 0h1v1h-1zm3 0h1v1h-1zm2 0h5v1h-5zm6 0h2v1h-2zm-81 1h5v1h-5zm6 0h7v1h-7zm8 0h3v1h-3zm5 0h2v1h-2zm3 0h3v1h-3zm5 0h1v1h-1zm4 0h1v1h-1zm3 0h1v1h-1zm2 0h5v1h-5zm6 0h3v1h-3zm4 0h1v1h-1zm10 0h5v1h-5zm15 0h8v1h-8zm9 0h2v1h-2zm4 0h1v1h-1zm-83 1h3v1h-3zm4 0h2v1h-2zm3 0h1v1h-1zm3 0h7v1h-7zm9 0h1v1h-1zm2 0h2v1h-2zm5 0h7v1h-7zm8 0h4v1h-4zm6 0h1v1h-1zm2 0h4v1h-4zm12 0h1v1h-1zm5 0h2v1h-2zm12 0h2v1h-2zm3 0h1v1h-1zm4 0h6v1h-6zm-78 1h3v1h-3zm5 0h5v1h-5zm6 0h6v1h-6zm9 0h6v1h-6zm7 0h1v1h-1zm2 0h2v1h-2zm5 0h1v1h-1zm3 0h5v1h-5zm7 0h4v1h-4zm10 0h1v1h-1zm2 0h2v1h-2zm4 0h1v1h-1zm11 0h6v1h-6zm7 0h1v1h-1zm-77 1h1v1h-1zm2 0h8v1h-8zm9 0h2v1h-2zm4 0h3v1h-3zm4 0h1v1h-1zm3 0h1v1h-1zm2 0h3v1h-3zm4 0h2v1h-2zm5 0h2v1h-2zm3 0h1v1h-1zm4 0h1v1h-1zm3 0h4v1h-4zm6 0h1v1h-1zm2 0h8v1h-8zm-51 1h9v1h-9zm11 0h1v1h-1zm2 0h6v1h-6zm7 0h4v1h-4zm5 0h2v1h-2zm4 0h1v1h-1zm3 0h2v1h-2zm3 0h5v1h-5zm6 0h3v1h-3zm4 0h2v1h-2zm4 0h2v1h-2zm5 0h2v1h-2zm6 0h1v1h-1zm-58 1h3v1h-3zm4 0h7v1h-7zm8 0h2v1h-2zm3 0h4v1h-4zm7 0h5v1h-5zm6 0h3v1h-3zm5 0h10v1h-10zm11 0h7v1h-7zm10 0h2v1h-2zm4 0h1v1h-1zm-58 1h5v1h-5zm7 0h5v1h-5zm6 0h2v1h-2zm3 0h8v1h-8zm11 0h2v1h-2zm4 0h4v1h-4zm7 0h3v1h-3zm4 0h2v1h-2zm3 0h1v1h-1zm3 0h2v1h-2zm6 0h4v1h-4zm-50 1h3v1h-3zm4 0h4v1h-4zm5 0h9v1h-9zm10 0h1v1h-1zm3 0h1v1h-1zm5 0h1v1h-1zm2 0h3v1h-3zm6 0h1v1h-1zm4 0h1v1h-1zm2 0h2v1h-2zm4 0h1v1h-1zm5 0h3v1h-3zm-50 1h4v1h-4zm5 0h7v1h-7zm9 0h1v1h-1zm5 0h1v1h-1zm2 0h1v1h-1zm4 0h9v1h-9zm10 0h1v1h-1zm2 0h5v1h-5zm14 0h1v1h-1zm-48 1h2v1h-2zm3 0h1v1h-1zm2 0h5v1h-5zm6 0h1v1h-1zm2 0h4v1h-4zm5 0h1v1h-1zm2 0h1v1h-1zm2 0h1v1h-1zm2 0h2v1h-2zm3 0h4v1h-4zm5 0h1v1h-1zm2 0h2v1h-2zm-68 1h1v1h-1zm33 0h2v1h-2zm4 0h5v1h-5zm6 0h10v1h-10zm11 0h5v1h-5zm6 0h1v1h-1zm2 0h3v1h-3zm6 0h1v1h-1zm2 0h4v1h-4zm-37 1h1v1h-1zm2 0h9v1h-9zm10 0h10v1h-10zm11 0h11v1h-11zm12 0h3v1h-3zm6 0h1v1h-1zm-41 1h1v1h-1zm2 0h2v1h-2zm4 0h7v1h-7zm8 0h1v1h-1zm2 0h2v1h-2zm3 0h7v1h-7zm9 0h8v1h-8zm9 0h2v1h-2zm3 0h1v1h-1zm2 0h1v1h-1zm16 0h1v1h-1zm-58 1h1v1h-1zm2 0h4v1h-4zm5 0h1v1h-1zm2 0h2v1h-2zm3 0h5v1h-5zm6 0h5v1h-5zm6 0h7v1h-7zm10 0h2v1h-2zm3 0h2v1h-2zm3 0h3v1h-3zm18 0h1v1h-1zm-55 1h5v1h-5zm6 0h1v1h-1zm2 0h5v1h-5zm6 0h4v1h-4zm6 0h1v1h-1zm2 0h2v1h-2zm3 0h6v1h-6zm11 0h1v1h-1zm2 0h2v1h-2zm-37 1h3v1h-3zm4 0h4v1h-4zm5 0h3v1h-3zm4 0h1v1h-1zm2 0h3v1h-3zm4 0h2v1h-2zm5 0h2v1h-2zm3 0h1v1h-1zm2 0h5v1h-5zm6 0h4v1h-4zm-29 1h1v1h-1zm2 0h4v1h-4zm5 0h6v1h-6zm8 0h5v1h-5zm6 0h2v1h-2zm3 0h1v1h-1zm2 0h3v1h-3zm4 0h2v1h-2zm-27 1h7v1h-7zm9 0h4v1h-4zm5 0h2v1h-2zm4 0h4v1h-4zm5 0h1v1h-1zm3 0h1v1h-1zm-28 1h13v1h-13zm15 0h4v1h-4zm5 0h2v1h-2zm3 0h1v1h-1zm3 0h2v1h-2zm-25 1h3v1h-3zm4 0h2v1h-2zm5 0h1v1h-1zm3 0h1v1h-1zm2 0h1v1h-1zm2 0h2v1h-2zm3 0h1v1h-1zm2 0h1v1h-1zm3 0h3v1h-3zm-23 1h3v1h-3zm7 0h2v1h-2zm4 0h2v1h-2zm3 0h1v1h-1zm3 0h2v1h-2zm6 0h1v1h-1zm2 0h1v1h-1zm-24 1h3v1h-3zm6 0h1v1h-1zm2 0h5v1h-5zm7 0h2v1h-2zm3 0h1v1h-1zm3 0h3v1h-3zm-20 1h2v1h-2zm5 0h4v1h-4zm5 0h1v1h-1zm2 0h2v1h-2zm3 0h2v1h-2zm4 0h1v1h-1zm2 0h3v1h-3zm-16 1h1v1h-1zm2 0h1v1h-1zm3 0h1v1h-1zm2 0h1v1h-1zm2 0h2v1h-2zm3 0h7v1h-7zm-12 1h1v1h-1zm2 0h5v1h-5zm6 0h3v1h-3zm4 0h1v1h-1zm2 0h4v1h-4zm-18 1h8v1h-8zm9 0h3v1h-3zm4 0h1v1h-1zm4 0h2v1h-2zm4 0h2v1h-2zm-21 1h5v1h-5zm6 0h8v1h-8zm9 0h2v1h-2zm3 0h1v1h-1zm3 0h1v1h-1zm-21 1h10v1h-10zm12 0h5v1h-5zm-16 1h1v1h-1zm3 0h1v1h-1zm2 0h3v1h-3zm4 0h1v1h-1zm2 0h4v1h-4zm6 0h1v1h-1zm-17 1h4v1h-4zm6 0h2v1h-2zm4 0h7v1h-7zm-8 1h5v1h-5zm6 0h3v1h-3zm4 0h2v1h-2zm3 0h1v1h-1zm-14 1h5v1h-5zm6 0h5v1h-5zm7 0h2v1h-2zm-12 1h2v1h-2zm3 0h2v1h-2zm3 0h4v1h-4zm6 0h2v1h-2zm-12 1h6v1h-6zm7 0h2v1h-2zm3 0h1v1h-1zm3 0h1v1h-1zm-13 1h2v1h-2zm3 0h3v1h-3zm4 0h6v1h-6zm-7 1h6v1h-6zm7 0h3v1h-3zm4 0h2v1h-2zm-14 1h4v1h-4zm5 0h1v1h-1zm3 0h3v1h-3zm4 0h1v1h-1zm-14 1h1v1h-1zm2 0h4v1h-4zm5 0h4v1h-4zm5 0h1v1h-1zm-13 1h4v1h-4zm6 0h1v1h-1zm2 0h2v1h-2zm3 0h2v1h-2zm-11 1h3v1h-3zm4 0h1v1h-1zm2 0h1v1h-1zm3 0h3v1h-3zm-10 1h3v1h-3zm4 0h8v1h-8zm-5 1h2v1h-2zm3 0h1v1h-1zm2 0h1v1h-1zm3 0h6v1h-6zm-8 1h4v1h-4zm5 0h5v1h-5zm-6 1h3v1h-3zm4 0h3v1h-3zm4 0h3v1h-3zm-9 1h2v1h-2zm3 0h2v1h-2zm4 0h3v1h-3zm4 0h1v1h-1zm-13 1h5v1h-5zm6 0h5v1h-5zm7 0h1v1h-1zm-52 1h1v1h-1zm39 0h8v1h-8zm9 0h1v1h-1zm-11 1h8v1h-8zm9 0h1v1h-1zm-55 1h1v1h-1zm2 0h1v1h-1zm3 0h5v1h-5zm40 0h8v1h-8zm-46 1h2v1h-2zm3 0h1v1h-1zm3 0h1v1h-1zm2 0h2v1h-2zm36 0h6v1h-6zm7 0h1v1h-1zm-56 1h1v1h-1zm2 0h1v1h-1zm2 0h2v1h-2zm4 0h7v1h-7zm38 0h4v1h-4zm-48 1h8v1h-8zm9 0h4v1h-4zm5 0h2v1h-2zm31 0h1v1h-1zm-44 1h1v1h-1zm3 0h3v1h-3zm4 0h5v1h-5zm6 0h2v1h-2zm-18 1h1v1h-1zm2 0h1v1h-1zm2 0h8v1h-8zm9 0h2v1h-2zm3 0h1v1h-1zm2 0h2v1h-2zm-18 1h1v1h-1zm2 0h5v1h-5zm15 0h3v1h-3zm-19 1h1v1h-1zm2 0h6v1h-6zm-3 1h1v1h-1zm3 0h1v1h-1zm2 0h3v1h-3zm17 0h4v1h-4zm8 0h1v1h-1zm2 0h1v1h-1zm-32 1h7v1h-7zm22 0h7v1h-7zm8 0h3v1h-3zm-30 1h3v1h-3zm21 0h1v1h-1zm2 0h1v1h-1zm2 0h3v1h-3zm4 0h1v1h-1zm-33 1h1v1h-1zm2 0h1v1h-1zm2 0h1v1h-1zm19 0h2v1h-2zm3 0h3v1h-3zm4 0h1v1h-1zm-32 1h5v1h-5zm24 0h1v1h-1zm2 0h4v1h-4zm-28 1h7v1h-7zm25 0h7v1h-7zm-25 1h6v1h-6zm24 0h1v1h-1zm2 0h2v1h-2zm3 0h2v1h-2zm-29 1h3v1h-3zm4 0h2v1h-2zm18 0h2v1h-2zm3 0h1v1h-1zm2 0h1v1h-1zm-30 1h2v1h-2zm3 0h1v1h-1zm3 0h6v1h-6zm17 0h7v1h-7zm-23 1h13v1h-13zm21 0h3v1h-3zm4 0h1v1h-1zm2 0h2v1h-2zm-28 1h7v1h-7zm8 0h1v1h-1zm3 0h3v1h-3zm8 0h1v1h-1zm2 0h2v1h-2zm-21 1h3v1h-3zm6 0h7v1h-7zm8 0h5v1h-5zm6 0h5v1h-5zm-20 1h4v1h-4zm6 0h3v1h-3zm4 0h3v1h-3zm4 0h4v1h-4zm7 0h1v1h-1zm2 0h1v1h-1zm-22 1h2v1h-2zm3 0h1v1h-1zm2 0h3v1h-3zm5 0h1v1h-1zm2 0h1v1h-1zm2 0h2v1h-2zm6 0h1v1h-1zm-16 1h2v1h-2zm3 0h3v1h-3zm4 0h3v1h-3zm5 0h1v1h-1zm-10 1h1v1h-1zm2 0h1v1h-1z"/>
<path fill="#0046ff" d="M250 695h2v1h-2zm3 0h7v1h-7zm-14 1h5v1h-5zm6 0h16v1h-16zm-11 1h9v1h-9zm10 0h16v1h-16zm17 0h2v1h-2zm-29 1h32v1h-32zm-3 1h16v1h-16zm19 0h18v1h-18zm-21 1h3v1h-3zm4 0h2v1h-2zm3 0h2v1h-2zm3 0h7v1h-7zm14 0h9v1h-9zm10 0h2v1h-2zm3 0h2v1h-2zm-42 1h2v1h-2zm4 0h3v1h-3zm4 0h13v1h-13zm27 0h10v1h-10zm-35 1h16v1h-16zm19 0h2v1h-2zm16 0h2v1h-2zm3 0h7v1h-7zm-39 1h10v1h-10zm11 0h2v1h-2zm3 0h2v1h-2zm23 0h8v1h-8zm-45 1h3v1h-3zm9 0h14v1h-14zm38 0h5v1h-5zm6 0h1v1h-1zm-56 1h2v1h-2zm3 0h8v1h-8zm9 0h4v1h-4zm5 0h6v1h-6zm35 0h3v1h-3zm4 0h1v1h-1zm-57 1h18v1h-18zm19 0h4v1h-4zm34 0h5v1h-5zm-54 1h17v1h-17zm18 0h5v1h-5zm36 0h5v1h-5zm-64 1h4v1h-4zm9 0h2v1h-2zm3 0h1v1h-1zm2 0h10v1h-10zm11 0h4v1h-4zm38 0h6v1h-6zm-68 1h10v1h-10zm13 0h2v1h-2zm3 0h1v1h-1zm2 0h2v1h-2zm3 0h10v1h-10zm46 0h6v1h-6zm-67 1h19v1h-19zm20 0h5v1h-5zm6 0h4v1h-4zm38 0h1v1h-1zm2 0h7v1h-7zm-66 1h9v1h-9zm10 0h1v1h-1zm2 0h1v1h-1zm2 0h1v1h-1zm2 0h5v1h-5zm6 0h8v1h-8zm41 0h9v1h-9zm-61 1h4v1h-4zm5 0h24v1h-24zm54 0h5v1h-5zm6 0h3v1h-3zm4 0h1v1h-1zm-67 1h6v1h-6zm7 0h4v1h-4zm5 0h1v1h-1zm2 0h4v1h-4zm5 0h6v1h-6zm7 0h1v1h-1zm24 0h10v1h-10zm11 0h6v1h-6zm-61 1h28v1h-28zm32 0h4v1h-4zm17 0h15v1h-15zm-50 1h19v1h-19zm20 0h17v1h-17zm24 0h3v1h-3zm4 0h3v1h-3zm4 0h11v1h-11zm-54 1h6v1h-6zm7 0h16v1h-16zm17 0h18v1h-18zm20 0h6v1h-6zm7 0h14v1h-14zm-63 1h3v1h-3zm10 0h6v1h-6zm7 0h5v1h-5zm6 0h6v1h-6zm7 0h33v1h-33zm34 0h2v1h-2zm3 0h1v1h-1zm2 0h7v1h-7zm-70 1h4v1h-4zm10 0h6v1h-6zm7 0h1v1h-1zm4 0h10v1h-10zm12 0h8v1h-8zm9 0h33v1h-33zm-49 1h11v1h-11zm14 0h4v1h-4zm5 0h6v1h-6zm10 0h11v1h-11zm12 0h7v1h-7zm8 0h4v1h-4zm5 0h2v1h-2zm3 0h10v1h-10zm11 0h7v1h-7zm-69 1h7v1h-7zm9 0h2v1h-2zm5 0h12v1h-12zm16 0h11v1h-11zm12 0h3v1h-3zm7 0h16v1h-16zm17 0h1v1h-1zm2 0h1v1h-1zm2 0h3v1h-3zm4 0h1v1h-1zm-75 1h3v1h-3zm4 0h3v1h-3zm11 0h6v1h-6zm7 0h3v1h-3zm4 0h1v1h-1zm6 0h13v1h-13zm25 0h7v1h-7zm-110 1h1v1h-1zm52 0h6v1h-6zm13 0h8v1h-8zm10 0h1v1h-1zm2 0h1v1h-1zm15 0h5v1h-5zm-92 1h2v1h-2zm51 0h5v1h-5zm14 0h5v1h-5zm28 0h3v1h-3zm-101 1h11v1h-11zm59 0h3v1h-3zm4 0h1v1h-1zm9 0h5v1h-5zm29 0h1v1h-1zm2 0h1v1h-1zm-103 1h6v1h-6zm7 0h4v1h-4zm54 0h3v1h-3zm11 0h4v1h-4zm30 0h1v1h-1zm-103 1h4v1h-4zm5 0h7v1h-7zm-5 1h2v1h-2zm3 0h10v1h-10zm-4 1h5v1h-5zm6 0h6v1h-6zm7 0h1v1h-1zm-13 1h15v1h-15zm0 1h16v1h-16zm0 1h5v1h-5zm6 0h3v1h-3zm4 0h6v1h-6zm-10 1h4v1h-4zm8 0h9v1h-9zm-8 1h3v1h-3zm7 0h3v1h-3zm4 0h1v1h-1zm2 0h4v1h-4zm-13 1h2v1h-2zm8 0h10v1h-10zm-9 1h2v1h-2zm10 0h10v1h-10zm-10 1h2v1h-2zm11 0h9v1h-9zm-11 1h1v1h-1zm11 0h9v1h-9zm-12 1h2v1h-2zm13 0h2v1h-2zm3 0h6v1h-6zm-16 1h1v1h-1zm13 0h2v1h-2zm3 0h7v1h-7zm-16 1h1v1h-1zm14 0h9v1h-9zm-14 1h1v1h-1zm16 0h8v1h-8zm-16 1h1v1h-1zm19 0h6v1h-6zm-19 1h1v1h-1zm18 0h4v1h-4zm5 0h1v1h-1zm2 0h2v1h-2zm-25 1h1v1h-1zm19 0h10v1h-10zm0 1h11v1h-11zm0 1h12v1h-12zm0 1h12v1h-12zm1 1h11v1h-11zm2 1h9v1h-9zm-23 1h1v1h-1zm25 0h4v1h-4zm5 0h2v1h-2zm3 0h1v1h-1zm-7 1h10v1h-10zm0 1h15v1h-15zm2 1h10v1h-10zm11 0h3v1h-3zm-10 1h14v1h-14zm1 1h14v1h-14zm20 0h2v1h-2zm-18 1h10v1h-10zm11 0h2v1h-2zm6 0h3v1h-3zm-14 1h11v1h-11zm14 0h3v1h-3zm-14 1h1v1h-1zm2 0h9v1h-9zm13 0h1v1h-1zm-14 1h11v1h-11zm13 0h3v1h-3zm-13 1h14v1h-14zm15 0h1v1h-1zm-14 1h11v1h-11zm0 1h2v1h-2zm3 0h8v1h-8zm-3 1h4v1h-4zm5 0h5v1h-5zm-5 1h4v1h-4zm6 0h1v1h-1zm5 0h1v1h-1zm-12 1h6v1h-6zm7 0h1v1h-1zm5 0h2v1h-2zm-13 1h10v1h-10zm0 1h1v1h-1zm3 0h5v1h-5zm6 0h1v1h-1zm-10 1h12v1h-12zm0 1h2v1h-2zm3 0h9v1h-9zm-4 1h6v1h-6zm7 0h2v1h-2zm3 0h3v1h-3zm-45 1h1v1h-1zm34 0h6v1h-6zm7 0h3v1h-3zm4 0h2v1h-2zm-45 1h1v1h-1zm34 0h3v1h-3zm4 0h7v1h-7zm-38 1h1v1h-1zm33 0h3v1h-3zm4 0h3v1h-3zm4 0h1v1h-1zm-41 1h1v1h-1zm33 0h9v1h-9zm0 1h2v1h-2zm3 0h3v1h-3zm4 0h2v1h-2zm-7 1h4v1h-4zm5 0h3v1h-3zm-5 1h7v1h-7zm-1 1h3v1h-3zm4 0h1v1h-1zm2 0h2v1h-2zm-39 1h1v1h-1zm32 0h8v1h-8zm-32 1h1v1h-1zm31 0h5v1h-5zm6 0h2v1h-2zm-37 1h1v1h-1zm30 0h3v1h-3zm4 0h3v1h-3zm-34 1h1v1h-1zm29 0h5v1h-5zm6 0h1v1h-1zm-36 1h1v1h-1zm30 0h6v1h-6zm-30 1h1v1h-1zm29 0h5v1h-5zm-30 1h2v1h-2zm28 0h6v1h-6zm-28 1h2v1h-2zm26 0h5v1h-5zm-25 1h1v1h-1zm23 0h4v1h-4zm-25 1h3v1h-3zm24 0h2v1h-2zm-24 1h3v1h-3zm-13 1h3v1h-3zm4 0h2v1h-2zm3 0h3v1h-3zm6 0h4v1h-4zm-14 1h15v1h-15zm17 0h5v1h-5zm8 0h1v1h-1zm-26 1h14v1h-14zm18 0h4v1h-4zm-19 1h4v1h-4zm5 0h10v1h-10zm-8 1h3v1h-3zm4 0h9v1h-9zm10 0h3v1h-3zm-17 1h5v1h-5zm6 0h6v1h-6zm7 0h5v1h-5zm-14 1h18v1h-18zm-1 1h18v1h-18zm-1 1h1v1h-1zm2 0h16v1h-16zm-2 1h4v1h-4zm5 0h10v1h-10zm-1 1h8v1h-8zm9 0h1v1h-1zm-9 1h8v1h-8zm1 1h3v1h-3z"/>
<path fill="#0090ff" d="M245 699h3v1h-3zm-1 1h7v1h-7zm-1 1h14v1h-14zm-5 1h3v1h-3zm5 0h14v1h-14zm-6 1h21v1h-21zm-1 1h24v1h-24zm-3 1h29v1h-29zm-1 1h30v1h-30zm-1 1h31v1h-31zm-4 1h10v1h-10zm16 0h18v1h-18zm-19 1h13v1h-13zm20 0h15v1h-15zm-21 1h14v1h-14zm20 0h14v1h-14zm-20 1h16v1h-16zm19 0h14v1h-14zm-18 1h30v1h-30zm0 1h23v1h-23zm1 1h3v1h-3zm8 0h12v1h-12zm1 1h6v1h-6zm2 1h2v1h-2zm-122 15h1v1h-1zm-1 1h3v1h-3zm-1 1h4v1h-4zm-1 1h6v1h-6zm-1 1h8v1h-8zm0 1h9v1h-9zm-1 1h4v1h-4zm5 0h5v1h-5zm-5 1h2v1h-2zm6 0h5v1h-5zm-7 1h2v1h-2zm7 0h5v1h-5zm-7 1h2v1h-2zm8 0h5v1h-5zm-8 1h1v1h-1zm8 0h7v1h-7zm-8 1h1v1h-1zm8 0h9v1h-9zm-8 1h1v1h-1zm9 0h8v1h-8zm-9 1h1v1h-1zm9 0h9v1h-9zm-10 1h1v1h-1zm13 0h6v1h-6zm-13 1h1v1h-1zm16 0h3v1h-3zm-16 1h1v1h-1zm17 0h2v1h-2zm-17 1h1v1h-1zm17 0h3v1h-3zm-17 1h1v1h-1zm18 0h4v1h-4zm1 1h5v1h-5zm-20 1h1v1h-1zm21 0h4v1h-4zm-21 1h1v1h-1zm22 0h4v1h-4zm-22 1h1v1h-1zm23 0h5v1h-5zm-23 1h1v1h-1zm24 0h5v1h-5zm0 1h6v1h-6zm1 1h7v1h-7zm0 1h10v1h-10zm-1 1h11v1h-11zm-25 1h1v1h-1zm26 0h11v1h-11zm-26 1h1v1h-1zm26 0h11v1h-11zm-26 1h1v1h-1zm27 0h11v1h-11zm-27 1h1v1h-1zm27 0h11v1h-11zm-27 1h1v1h-1zm28 0h10v1h-10zm-28 1h1v1h-1zm28 0h10v1h-10zm-28 1h1v1h-1zm29 0h8v1h-8zm0 1h7v1h-7zm0 1h7v1h-7zm0 1h6v1h-6zm1 1h5v1h-5zm-1 1h5v1h-5zm0 1h4v1h-4zm-1 1h5v1h-5zm-1 1h5v1h-5zm0 1h5v1h-5zm-28 1h1v1h-1zm28 0h5v1h-5zm-28 1h1v1h-1zm27 0h6v1h-6zm-27 1h1v1h-1zm27 0h6v1h-6zm-27 1h1v1h-1zm27 0h5v1h-5zm-27 1h1v1h-1zm26 0h5v1h-5zm-26 1h1v1h-1zm25 0h5v1h-5zm-25 1h1v1h-1zm24 0h5v1h-5zm-24 1h1v1h-1zm24 0h4v1h-4zm-25 1h2v1h-2zm25 0h4v1h-4zm-25 1h1v1h-1zm24 0h4v1h-4zm-24 1h1v1h-1zm23 0h3v1h-3zm-23 1h1v1h-1zm22 0h2v1h-2zm-22 1h1v1h-1zm21 0h1v1h-1zm-21 1h2v1h-2zm19 0h2v1h-2zm-19 1h5v1h-5zm13 0h5v1h-5zm-12 1h10v1h-10z"/>
<path fill="#00d0ff" d="M237 708h6v1h-6zm0 1h7v1h-7zm0 1h6v1h-6zm2 1h3v1h-3zm-126 26h1v1h-1zm-2 1h4v1h-4zm-1 1h5v1h-5zm0 1h6v1h-6zm-1 1h7v1h-7zm0 1h7v1h-7zm0 1h8v1h-8zm0 1h2v1h-2zm4 0h4v1h-4zm-5 1h2v1h-2zm6 0h6v1h-6zm-6 1h1v1h-1zm7 0h8v1h-8zm-7 1h1v1h-1zm8 0h8v1h-8zm-8 1h1v1h-1zm14 0h2v1h-2zm1 1h2v1h-2zm-16 1h1v1h-1zm17 0h2v1h-2zm-17 1h1v1h-1zm18 0h2v1h-2zm-18 1h1v1h-1zm18 0h3v1h-3zm-18 1h1v1h-1zm19 0h3v1h-3zm0 1h4v1h-4zm-20 1h1v1h-1zm20 0h4v1h-4zm-20 1h1v1h-1zm20 0h5v1h-5zm-20 1h1v1h-1zm20 0h5v1h-5zm-20 1h1v1h-1zm20 0h4v1h-4zm-20 1h1v1h-1zm20 0h5v1h-5zm-20 1h1v1h-1zm21 0h4v1h-4zm-21 1h1v1h-1zm21 0h5v1h-5zm-21 1h1v1h-1zm21 0h5v1h-5zm-21 1h1v1h-1zm22 0h5v1h-5zm1 1h4v1h-4zm0 1h5v1h-5zm-24 1h1v1h-1zm25 0h4v1h-4zm-25 1h1v1h-1zm26 0h3v1h-3zm-26 1h1v1h-1zm25 0h4v1h-4zm-25 1h1v1h-1zm25 0h5v1h-5zm-25 1h1v1h-1zm24 0h5v1h-5zm-24 1h1v1h-1zm24 0h5v1h-5zm-24 1h1v1h-1zm23 0h5v1h-5zm-23 1h1v1h-1zm23 0h4v1h-4zm-23 1h1v1h-1zm23 0h4v1h-4zm-23 1h1v1h-1zm23 0h4v1h-4zm-23 1h1v1h-1zm23 0h3v1h-3zm-23 1h1v1h-1zm22 0h4v1h-4zm-22 1h1v1h-1zm22 0h4v1h-4zm-22 1h1v1h-1zm22 0h3v1h-3zm-22 1h1v1h-1zm21 0h3v1h-3zm-21 1h1v1h-1zm21 0h2v1h-2zm-21 1h1v1h-1zm21 0h2v1h-2zm-21 1h1v1h-1zm20 0h3v1h-3zm-21 1h2v1h-2zm21 0h2v1h-2zm-21 1h2v1h-2zm20 0h2v1h-2zm-20 1h3v1h-3zm19 0h2v1h-2zm-19 1h4v1h-4zm18 0h2v1h-2zm-17 1h5v1h-5zm12 0h5v1h-5zm-9 1h8v1h-8z"/>
<path fill="#00f0d0" d="M111 744h2v1h-2zm-1 1h4v1h-4zm-1 1h6v1h-6zm0 1h7v1h-7zm0 1h1v1h-1zm4 0h9v1h-9zm-5 1h2v1h-2zm5 0h10v1h-10zm-5 1h1v1h-1zm6 0h10v1h-10zm-6 1h1v1h-1zm12 0h5v1h-5zm-12 1h1v1h-1zm13 0h4v1h-4zm-13 1h1v1h-1zm14 0h4v1h-4zm-15 1h1v1h-1zm15 0h4v1h-4zm-15 1h1v1h-1zm15 0h4v1h-4zm-15 1h1v1h-1zm15 0h4v1h-4zm-15 1h1v1h-1zm16 0h3v1h-3zm-16 1h1v1h-1zm16 0h3v1h-3zm-16 1h1v1h-1zm16 0h3v1h-3zm-16 1h1v1h-1zm17 0h3v1h-3zm-17 1h1v1h-1zm18 0h2v1h-2zm-18 1h1v1h-1zm18 0h2v1h-2zm0 1h3v1h-3zm-19 1h1v1h-1zm20 0h3v1h-3zm-20 1h1v1h-1zm20 0h3v1h-3zm-20 1h1v1h-1zm21 0h3v1h-3zm0 1h4v1h-4zm0 1h3v1h-3zm0 1h3v1h-3zm-21 1h1v1h-1zm21 0h2v1h-2zm-21 1h1v1h-1zm20 0h3v1h-3zm-20 1h1v1h-1zm20 0h2v1h-2zm-20 1h1v1h-1zm20 0h2v1h-2zm-20 1h1v1h-1zm19 0h3v1h-3zm-19 1h1v1h-1zm19 0h3v1h-3zm-19 1h1v1h-1zm19 0h3v1h-3zm-19 1h1v1h-1zm19 0h2v1h-2zm-19 1h1v1h-1zm18 0h3v1h-3zm-18 1h1v1h-1zm18 0h3v1h-3zm-18 1h1v1h-1zm18 0h2v1h-2zm-18 1h1v1h-1zm18 0h2v1h-2zm-18 1h1v1h-1zm17 0h3v1h-3zm-17 1h1v1h-1zm17 0h2v1h-2zm-17 1h2v1h-2zm17 0h2v1h-2zm-17 1h3v1h-3zm16 0h2v1h-2zm-15 1h2v1h-2zm14 0h2v1h-2zm-13 1h2v1h-2zm9 0h5v1h-5zm-7 1h7v1h-7z"/>
<path fill="#28f850" d="M110 748h3v1h-3zm0 1h3v1h-3zm-1 1h5v1h-5zm0 1h11v1h-11zm0 1h12v1h-12zm0 1h13v1h-13zm-1 1h14v1h-14zm0 1h14v1h-14zm0 1h14v1h-14zm0 1h15v1h-15zm0 1h15v1h-15zm0 1h15v1h-15zm0 1h16v1h-16zm0 1h17v1h-17zm0 1h8v1h-8zm9 0h8v1h-8zm-10 1h7v1h-7zm11 0h7v1h-7zm-11 1h6v1h-6zm12 0h7v1h-7zm-12 1h5v1h-5zm13 0h6v1h-6zm-13 1h4v1h-4zm13 0h7v1h-7zm-14 1h4v1h-4zm14 0h7v1h-7zm-14 1h3v1h-3zm14 0h7v1h-7zm-14 1h3v1h-3zm14 0h7v1h-7zm-13 1h2v1h-2zm13 0h7v1h-7zm-13 1h2v1h-2zm13 0h6v1h-6zm-13 1h2v1h-2zm13 0h6v1h-6zm-13 1h2v1h-2zm13 0h6v1h-6zm-13 1h2v1h-2zm12 0h6v1h-6zm-12 1h2v1h-2zm12 0h6v1h-6zm-12 1h2v1h-2zm12 0h6v1h-6zm-12 1h2v1h-2zm12 0h6v1h-6zm-12 1h2v1h-2zm12 0h5v1h-5zm-12 1h2v1h-2zm12 0h5v1h-5zm-12 1h2v1h-2zm12 0h5v1h-5zm-12 1h2v1h-2zm11 0h6v1h-6zm-11 1h3v1h-3zm11 0h5v1h-5zm-11 1h4v1h-4zm10 0h6v1h-6zm-9 1h5v1h-5zm7 0h8v1h-8zm-6 1h13v1h-13zm0 1h12v1h-12zm1 1h7v1h-7z"/>
<path fill="#90ff10" d="M116 762h1v1h-1zm-2 1h4v1h-4zm-1 1h6v1h-6zm-1 1h8v1h-8zm-1 1h9v1h-9zm-1 1h10v1h-10zm-1 1h11v1h-11zm0 1h11v1h-11zm0 1h11v1h-11zm0 1h11v1h-11zm0 1h4v1h-4zm6 0h5v1h-5zm-6 1h2v1h-2zm8 0h3v1h-3zm-8 1h2v1h-2zm8 0h2v1h-2zm-8 1h1v1h-1zm8 0h2v1h-2zm-8 1h1v1h-1zm8 0h2v1h-2zm-8 1h1v1h-1zm8 0h2v1h-2zm-8 1h1v1h-1zm8 0h2v1h-2zm-8 1h1v1h-1zm8 0h2v1h-2zm-8 1h1v1h-1zm8 0h2v1h-2zm-8 1h2v1h-2zm7 0h2v1h-2zm-6 1h2v1h-2zm5 0h3v1h-3zm-4 1h6v1h-6zm2 1h2v1h-2z"/>
<path fill="#e8ff00" d="M113 772h2v1h-2zm-2 1h6v1h-6zm0 1h1v1h-1zm4 0h2v1h-2zm-5 1h1v1h-1zm6 0h1v1h-1zm-6 1h1v1h-1zm6 0h1v1h-1zm-6 1h1v1h-1zm6 0h1v1h-1zm-6 1h1v1h-1zm6 0h1v1h-1zm-6 1h1v1h-1zm6 0h1v1h-1zm-6 1h1v1h-1zm6 0h1v1h-1zm-5 1h1v1h-1zm4 0h1v1h-1zm-3 1h3v1h-3z"/>
<path fill="#ffb000" d="M112 774h3v1h-3zm-1 1h1v1h-1zm4 0h1v1h-1zm0 1h1v1h-1zm-4 4h1v1h-1zm4 0h1v1h-1zm-3 1h3v1h-3z"/>
<path fill="#ff5000" d="M112 775h3v1h-3zm-1 1h1v1h-1zm0 1h1v1h-1zm4 0h1v1h-1zm0 1h1v1h-1zm-4 1h1v1h-1zm4 0h1v1h-1zm-3 1h1v1h-1zm2 0h1v1h-1z"/>
<path fill="#e00000" d="M112 776h3v1h-3zm0 1h3v1h-3zm-1 1h4v1h-4zm1 1h3v1h-3zm1 1h1v1h-1z"/>
<rect x="62.00" y="626.60" width="207.00" height="206.50" fill="none" stroke="#777" stroke-width="1.5"/>
<path d="M56.0 819.1H62.0M56.0 785.1H62.0M56.0 752.6H62.0M56.0 696.6H62.0M56.0 646.6H62.0M59.0 812.3H62.0M59.0 805.5H62.0M59.0 798.7H62.0M59.0 791.9H62.0M59.0 775.3H62.0M59.0 769.6H62.0M59.0 765.5H62.0M59.0 762.4H62.0M59.0 759.8H62.0M59.0 757.6H62.0M59.0 755.7H62.0M59.0 754.1H62.0M59.0 735.7H62.0M59.0 725.9H62.0M59.0 718.9H62.0M59.0 713.5H62.0M59.0 709.0H62.0M59.0 705.3H62.0M59.0 702.0H62.0M59.0 699.2H62.0M59.0 681.5H62.0M59.0 672.7H62.0M59.0 666.5H62.0M59.0 661.7H62.0M59.0 657.7H62.0M59.0 654.3H62.0M59.0 651.4H62.0M59.0 648.9H62.0M56.0 789.1H62.0M56.0 787.6H62.0M56.0 786.1H62.0M56.0 784.1H62.0M56.0 782.6H62.0M56.0 781.1H62.0M59.0 631.5H62.0M74.0 833.1V839.1M108.0 833.1V839.1M142.0 833.1V839.1M198.0 833.1V839.1M248.0 833.1V839.1M80.8 833.1V836.1M87.6 833.1V836.1M94.4 833.1V836.1M101.2 833.1V836.1M118.2 833.1V836.1M124.2 833.1V836.1M128.5 833.1V836.1M131.8 833.1V836.1M134.5 833.1V836.1M136.7 833.1V836.1M138.7 833.1V836.1M140.4 833.1V836.1M158.9 833.1V836.1M168.7 833.1V836.1M175.7 833.1V836.1M181.1 833.1V836.1M185.6 833.1V836.1M189.3 833.1V836.1M192.6 833.1V836.1M195.4 833.1V836.1M213.1 833.1V836.1M221.9 833.1V836.1M228.1 833.1V836.1M232.9 833.1V836.1M236.9 833.1V836.1M240.3 833.1V836.1M243.2 833.1V836.1M245.7 833.1V836.1M104.0 833.1V839.1M105.5 833.1V839.1M107.0 833.1V839.1M109.0 833.1V839.1M110.5 833.1V839.1M112.0 833.1V839.1M263.1 833.1V836.1" stroke="#222" stroke-width="1.2" fill="none"/>
<polyline points="135.7,731.9 135.7,673.8 269,673 269,755.5 225.7,777 160.8,760.5 135.7,731.9" fill="none" stroke="#333" stroke-width="1.5"/>
<text x="66.50" y="66.40" font-size="26" text-anchor="start" fill="#000">naïve mice</text>
<text x="66.30" y="344.70" font-size="26" text-anchor="start" fill="#000">soluble MD39</text>
<text x="66.80" y="619.00" font-size="26" text-anchor="start" fill="#000">DSPC/Ni/MPB</text>
<text x="66.30" y="650.20" font-size="26" text-anchor="start" fill="#000">lipos</text>
<path d="M37.8 700V854.4H198.5" fill="none" stroke="#000" stroke-width="4.2" stroke-linejoin="miter"/>
<path d="M24.199999999999996 725L37.8 700.5L51.4 725" fill="none" stroke="#000" stroke-width="4.2" stroke-linecap="round" stroke-linejoin="miter"/>
<path d="M173.5 841.1999999999999L198.0 854.4L173.5 867.6" fill="none" stroke="#000" stroke-width="4.2" stroke-linecap="round" stroke-linejoin="miter"/>
<text x="31.40" y="785.50" font-size="30" font-weight="bold" text-anchor="middle" transform="rotate(-90 31.4 785.5)" fill="#000">PNA</text>
<text x="107.60" y="893.40" font-size="30" font-weight="bold" text-anchor="middle" fill="#000">GL7</text>
<path d="M921.0 147.3 919.0 147.1 917.0 146.3 915.0 144.9 913.4 143.2 912.0 141.2 910.6 138.2 909.8 135.2 909.6 133.2 909.7 130.2 910.2 127.2 911.4 124.2 912.6 122.2 914.0 120.7 916.0 119.2 918.0 118.4 920.0 118.1 922.0 118.4 924.0 119.2 925.5 120.2 927.0 121.7 928.6 124.2 929.5 126.2 930.2 129.2 930.5 131.2 930.4 134.2 929.8 137.2 929.2 139.2 928.0 141.7 927.0 143.3 925.0 145.5 923.0 146.8 921.0 147.3M985.0 240.2 978.0 240.3 950.0 239.6 934.0 238.5 923.0 238.7 918.0 238.6 915.0 238.1 912.0 236.7 910.0 235.1 908.1 233.2 905.5 229.2 904.2 226.2 903.3 223.2 901.4 214.2 900.4 206.2 900.5 200.2 900.9 194.2 901.6 188.2 902.5 183.2 903.8 178.2 905.6 173.2 907.5 169.2 909.3 166.2 912.0 162.8 915.0 159.8 918.0 157.6 921.0 156.2 923.0 155.8 926.0 156.0 929.0 156.8 932.0 158.1 935.0 159.8 943.0 164.9 945.6 166.2 948.0 166.9 953.0 167.6 969.0 168.6 979.0 169.4 986.0 170.3 991.0 171.5 994.0 172.6 998.0 174.8 1001.0 177.1 1004.1 180.2 1007.2 184.2 1009.6 188.2 1012.3 194.2 1013.8 199.2 1014.8 204.2 1015.3 210.2 1014.8 215.2 1013.8 219.2 1011.6 224.2 1008.9 228.2 1006.0 231.5 1002.0 234.9 998.0 237.3 994.0 238.9 990.0 239.8 985.0 240.2M922.0 141.4 921.0 141.7 919.0 141.6 918.0 141.3 916.3 140.2 915.0 138.8 914.1 137.2 913.2 134.2 913.0 132.2 913.1 130.2 914.0 127.2 915.0 125.5 916.0 124.3 917.0 123.6 919.0 122.8 921.0 122.8 922.0 123.0 924.0 124.3 925.0 125.5 926.0 127.1 926.9 130.2 927.1 132.2 926.9 134.2 926.0 137.2 925.0 138.9 924.0 140.1 922.0 141.4M986.0 237.2 975.0 237.4 950.0 236.9 937.0 236.2 923.0 237.3 918.0 237.3 916.0 237.1 914.0 236.4 912.0 235.3 910.0 233.6 908.0 231.2 906.3 228.2 905.2 225.2 904.3 221.2 903.6 209.2 904.1 194.2 904.5 189.2 905.3 184.2 907.1 177.2 908.7 173.2 910.3 170.2 912.0 167.7 914.0 165.3 917.0 162.8 920.0 161.2 923.0 160.4 925.0 160.3 927.0 160.5 930.0 161.4 933.0 163.0 936.0 165.1 943.0 170.8 945.4 172.2 948.0 173.1 951.0 173.7 954.0 173.9 979.0 174.3 987.0 175.1 991.0 176.0 995.0 177.8 998.0 179.7 1001.0 182.3 1004.3 186.2 1006.8 190.2 1008.7 194.2 1010.4 199.2 1011.5 204.2 1011.9 209.2 1011.8 213.2 1011.0 217.2 1009.6 221.2 1007.4 225.2 1005.0 228.2 1001.9 231.2 998.0 233.9 994.0 235.7 990.0 236.8 986.0 237.2M921.0 136.2 920.0 136.4 919.0 136.2 917.8 135.2 916.9 133.2 916.9 131.2 917.7 129.2 919.0 128.0 920.0 127.8 921.0 128.0 922.0 128.7 922.9 130.2 923.1 131.2 923.1 133.2 922.8 134.2 922.0 135.5 921.0 136.2M925.0 236.2 921.0 236.5 917.0 236.4 914.0 235.5 912.0 234.3 909.7 232.2 907.6 229.2 906.3 226.2 905.2 221.2 904.9 213.2 905.2 205.2 906.5 189.2 907.7 182.2 909.6 176.2 912.2 171.2 913.6 169.2 915.4 167.2 917.0 165.9 919.0 164.6 921.0 163.7 924.0 163.2 927.0 163.4 930.0 164.4 932.0 165.5 935.0 167.7 943.0 175.1 945.0 176.4 948.0 177.5 951.0 177.9 955.0 178.1 974.0 177.6 980.0 177.7 987.0 178.3 991.0 179.3 995.0 181.1 999.0 184.1 1002.0 187.3 1004.6 191.2 1007.4 197.2 1009.0 203.2 1009.6 209.2 1009.6 212.2 1009.2 215.2 1007.6 220.2 1006.6 222.2 1004.7 225.2 1001.0 229.2 997.0 232.0 994.0 233.4 991.0 234.3 988.0 234.9 984.0 235.2 975.0 235.3 951.0 234.9 940.0 234.5 936.0 234.7 925.0 236.2M926.0 235.3 921.0 235.8 917.0 235.7 914.0 234.8 912.0 233.5 909.7 231.2 907.8 228.2 906.6 225.2 905.9 221.2 905.6 214.2 906.1 206.2 908.4 188.2 909.5 182.2 911.2 177.2 913.2 173.2 916.0 169.6 919.0 167.3 921.0 166.3 924.0 165.7 927.0 166.0 930.0 167.1 932.0 168.3 934.3 170.2 941.0 177.4 943.0 179.1 945.0 180.3 948.0 181.2 951.0 181.5 955.0 181.6 979.0 180.6 985.0 180.9 990.0 181.8 994.0 183.5 997.0 185.6 1000.6 189.2 1003.2 193.2 1005.5 198.2 1006.9 203.2 1007.6 209.2 1007.3 214.2 1005.8 219.2 1003.7 223.2 1002.2 225.2 1000.3 227.2 998.0 229.0 996.0 230.3 993.0 231.7 991.0 232.3 988.0 232.9 984.0 233.3 975.0 233.5 941.0 232.8 937.0 233.2 926.0 235.3M928.0 234.3 923.0 235.0 918.0 235.2 915.0 234.6 913.0 233.6 910.3 231.2 908.3 228.2 907.5 226.2 906.5 222.2 906.2 215.2 906.6 208.2 909.6 189.2 910.8 183.2 912.4 178.2 914.6 174.2 917.0 171.2 920.0 169.0 922.0 168.3 925.0 167.9 928.0 168.5 930.0 169.5 932.0 170.8 934.0 172.6 940.0 179.7 942.0 181.6 944.0 182.9 947.0 184.0 950.0 184.4 955.0 184.4 975.0 183.1 980.0 183.0 986.0 183.4 990.0 184.2 994.0 186.0 997.0 188.3 999.7 191.2 1002.3 195.2 1004.4 200.2 1005.5 205.2 1005.9 210.2 1005.4 215.2 1004.0 219.2 1001.7 223.2 998.9 226.2 995.0 228.9 993.0 229.9 990.0 230.8 984.0 231.7 975.0 231.9 942.0 231.4 937.0 232.1 928.0 234.3M925.0 234.2 921.0 234.7 917.0 234.6 915.0 234.1 913.0 233.0 910.1 230.2 908.3 227.2 907.3 224.2 906.7 220.2 906.7 214.2 907.4 206.2 910.8 189.2 912.2 183.2 913.6 179.2 915.8 175.2 918.0 172.7 921.0 170.7 923.0 170.1 925.0 170.0 928.0 170.6 930.0 171.7 932.0 173.2 933.9 175.2 939.0 181.7 941.0 183.9 943.0 185.3 945.0 186.2 948.0 186.8 952.0 186.9 960.0 186.6 978.0 185.2 983.0 185.3 988.0 185.9 992.0 187.2 994.0 188.3 996.0 189.9 999.0 193.2 1001.4 197.2 1003.3 202.2 1004.1 206.2 1004.4 211.2 1003.8 215.2 1002.3 219.2 1000.5 222.2 997.7 225.2 994.0 227.7 992.0 228.6 989.0 229.5 981.0 230.4 942.0 230.2 938.0 230.9 929.0 233.4 925.0 234.2M921.0 234.2 918.0 234.3 915.0 233.7 913.0 232.6 910.5 230.2 908.7 227.2 907.6 224.2 907.1 221.2 907.0 217.2 907.4 210.2 908.4 203.2 913.3 183.2 914.9 179.2 916.7 176.2 919.0 173.7 921.0 172.5 923.0 171.8 925.0 171.6 928.0 172.4 930.0 173.5 932.0 175.2 933.8 177.2 938.0 183.1 940.0 185.4 942.0 187.0 944.0 188.0 947.0 188.7 951.0 188.9 960.0 188.4 978.0 186.9 983.0 187.0 988.0 187.6 992.0 189.0 995.2 191.2 997.0 192.9 998.7 195.2 1000.9 199.2 1002.3 203.2 1003.1 208.2 1003.0 212.2 1002.2 216.2 1000.4 220.2 998.0 223.2 995.0 225.7 992.0 227.3 990.0 228.0 987.0 228.6 979.0 229.3 943.0 229.1 939.0 229.8 930.0 232.7 927.0 233.4 921.0 234.2M926.0 233.2 922.0 233.8 918.0 233.9 916.0 233.7 914.0 232.8 911.8 231.2 909.5 228.2 908.2 225.2 907.4 221.2 907.4 213.2 908.3 206.2 909.6 200.2 913.4 186.2 915.0 181.6 916.8 178.2 919.0 175.6 921.0 174.1 923.0 173.4 925.0 173.3 927.0 173.7 929.0 174.6 931.0 176.2 932.8 178.2 939.0 186.8 941.0 188.6 944.0 190.0 947.0 190.5 952.0 190.6 961.0 190.1 978.0 188.5 983.0 188.5 987.0 189.0 991.0 190.2 994.0 192.0 997.1 195.2 999.6 199.2 1001.0 203.2 1001.8 207.2 1002.0 211.2 1001.3 215.2 1000.2 218.2 998.0 221.5 995.1 224.2 992.0 226.0 990.0 226.8 987.0 227.5 979.0 228.2 972.0 228.3 947.0 228.0 943.0 228.1 939.0 229.0 931.0 231.9 926.0 233.2M924.0 233.2 920.0 233.6 917.0 233.5 915.0 233.0 913.0 231.8 911.0 229.9 909.3 227.2 908.2 224.2 907.6 220.2 907.7 213.2 908.6 206.2 910.3 199.2 914.0 187.4 915.9 182.2 917.6 179.2 920.0 176.5 922.0 175.3 923.0 175.0 925.0 174.9 927.0 175.3 929.0 176.4 932.0 179.2 937.0 186.6 939.0 189.1 941.0 190.6 943.0 191.6 946.0 192.2 951.0 192.3 961.0 191.7 978.0 190.0 982.0 190.0 986.0 190.4 990.0 191.4 993.3 193.2 996.3 196.2 998.7 200.2 1000.1 204.2 1000.8 208.2 1000.8 212.2 1000.1 215.2 998.9 218.2 996.8 221.2 994.0 223.6 991.1 225.2 989.0 225.9 985.0 226.7 977.0 227.4 948.0 226.9 944.0 227.1 940.0 227.9 930.0 231.8 924.0 233.2M921.0 233.3 918.0 233.3 915.0 232.7 913.0 231.5 911.0 229.5 909.5 227.2 908.4 224.2 907.9 221.2 907.8 217.2 908.2 211.2 908.7 207.2 910.4 200.2 912.4 194.2 915.3 186.2 917.0 182.2 919.0 179.2 920.0 178.2 922.0 176.8 923.0 176.5 925.0 176.3 927.0 176.8 929.0 177.9 932.0 181.1 936.0 187.4 938.0 190.0 940.0 191.8 943.0 193.2 946.0 193.6 951.0 193.7 961.0 193.1 977.0 191.4 982.0 191.3 986.0 191.7 990.0 192.7 993.0 194.5 996.0 197.7 997.5 200.2 998.4 202.2 999.3 205.2 999.9 209.2 999.6 213.2 998.8 216.2 997.1 219.2 995.4 221.2 993.0 223.1 990.0 224.6 984.0 226.0 976.0 226.7 970.0 226.7 950.0 226.1 944.0 226.2 940.0 227.2 932.0 230.7 929.0 231.8 925.0 232.8 921.0 233.3M926.0 232.3 922.0 232.9 918.0 233.1 916.0 232.8 914.0 231.9 911.9 230.2 909.8 227.2 908.6 224.2 908.1 221.2 908.1 215.2 908.5 210.2 909.4 205.2 910.7 200.2 913.0 193.9 917.1 184.2 919.0 181.0 920.7 179.2 922.0 178.3 924.0 177.7 926.0 177.9 928.0 178.8 929.0 179.5 931.4 182.2 935.8 189.2 937.4 191.2 939.6 193.2 942.0 194.4 945.0 195.0 951.0 195.0 962.0 194.3 977.0 192.7 981.0 192.5 985.0 192.8 989.0 193.7 992.0 195.2 995.0 198.1 996.4 200.2 997.3 202.2 998.3 205.2 998.9 209.2 998.8 212.2 998.1 215.2 996.7 218.2 995.0 220.3 992.7 222.2 990.0 223.6 987.0 224.6 984.0 225.2 976.0 226.0 969.0 226.0 951.0 225.2 944.0 225.4 940.0 226.6 931.0 230.8 926.0 232.3M925.0 232.2 921.0 232.8 917.0 232.8 915.0 232.2 913.3 231.2 911.3 229.2 909.5 226.2 908.5 223.2 908.2 220.2 908.2 215.2 908.7 210.2 909.6 205.2 911.4 199.2 914.0 192.8 918.0 184.4 920.3 181.2 922.0 179.9 923.0 179.4 924.0 179.2 926.0 179.4 927.7 180.2 929.0 181.2 931.0 183.5 935.0 190.0 937.0 192.6 939.0 194.4 942.0 195.9 945.0 196.4 951.0 196.3 962.0 195.5 977.0 193.9 981.0 193.7 985.0 194.0 989.0 195.0 992.0 196.7 994.5 199.2 995.8 201.2 996.7 203.2 997.6 206.2 998.0 209.2 997.9 212.2 997.2 215.2 996.0 217.6 994.0 220.0 992.0 221.6 990.0 222.7 987.0 223.7 983.0 224.6 975.0 225.5 969.0 225.5 952.0 224.4 947.0 224.4 944.0 224.6 940.0 225.9 931.0 230.5 928.0 231.5 925.0 232.2M923.0 232.4 920.0 232.7 917.0 232.6 915.0 232.0 912.4 230.2 910.8 228.2 909.3 225.2 908.5 222.2 908.3 218.2 908.6 213.2 909.4 207.2 910.4 203.2 912.0 198.4 915.0 191.9 919.0 184.6 921.0 182.2 923.0 180.9 924.0 180.7 926.0 180.9 928.3 182.2 930.8 185.2 936.0 193.2 938.0 195.2 941.0 197.0 944.0 197.6 949.0 197.6 962.0 196.7 977.0 195.0 981.0 194.9 984.0 195.1 988.0 195.9 991.0 197.3 993.0 199.1 993.9 200.2 995.2 202.2 996.0 204.1 996.8 207.2 997.1 210.2 996.8 213.2 996.2 215.2 995.2 217.2 993.6 219.2 991.1 221.2 989.0 222.3 983.0 224.0 979.0 224.7 974.0 225.0 967.0 224.9 953.0 223.6 945.0 223.7 943.0 224.1 941.0 224.8 934.0 228.7 930.0 230.6 926.0 231.8 923.0 232.4M922.0 232.3 918.0 232.5 916.0 232.1 914.0 231.2 912.0 229.5 910.4 227.2 909.2 224.2 908.6 221.2 908.5 217.2 908.7 213.2 909.6 207.2 910.6 203.2 912.4 198.2 915.0 193.0 919.0 186.5 921.0 183.9 923.0 182.5 925.0 182.2 927.0 182.9 928.0 183.7 930.0 185.9 934.0 192.2 936.0 194.9 938.0 196.7 941.0 198.4 944.0 199.0 948.0 198.9 962.0 197.9 977.0 196.2 983.1 196.2 987.0 196.9 990.2 198.2 991.5 199.2 993.0 200.7 995.0 204.2 995.9 207.2 996.2 210.2 995.9 213.2 995.2 215.2 994.2 217.2 992.4 219.2 990.0 220.9 988.0 221.9 985.0 222.9 981.0 223.8 977.0 224.4 973.0 224.6 967.0 224.4 953.0 222.8 948.0 222.7 945.0 222.8 943.0 223.3 941.0 224.1 934.3 228.2 931.0 229.9 926.0 231.6 922.0 232.3M920.0 232.3 917.0 232.2 915.0 231.6 913.0 230.3 911.2 228.2 909.6 225.2 908.8 222.2 908.6 219.2 908.7 215.2 909.3 210.2 910.3 205.2 911.5 201.2 913.0 197.6 915.0 193.8 919.0 187.9 921.0 185.4 923.0 184.0 924.0 183.7 926.0 183.9 928.0 185.2 930.0 187.6 933.6 193.2 936.0 196.2 938.4 198.2 941.0 199.5 944.0 200.1 947.0 200.1 962.0 198.9 977.0 197.2 983.0 197.2 987.0 198.0 990.0 199.3 992.0 201.0 992.9 202.2 994.5 205.2 995.1 207.2 995.4 210.2 995.1 213.2 994.4 215.2 993.3 217.2 991.4 219.2 989.0 220.8 986.0 222.0 983.0 222.9 979.0 223.8 972.0 224.3 966.0 223.9 953.0 222.1 948.0 221.9 945.0 222.1 943.0 222.6 941.0 223.5 934.0 228.1 930.0 230.1 925.0 231.6 920.0 232.3M925.0 231.4 922.0 231.9 918.0 232.1 916.0 231.8 914.0 230.8 912.0 229.1 910.2 226.2 909.2 223.2 908.8 220.2 908.9 215.2 909.6 209.2 910.4 205.2 912.1 200.2 914.0 196.2 916.0 193.1 921.0 187.0 923.0 185.5 925.0 185.2 926.0 185.5 927.2 186.2 929.0 188.0 933.3 194.2 935.8 197.2 938.0 199.2 941.0 200.8 944.0 201.3 947.0 201.2 962.0 200.0 977.0 198.2 983.0 198.3 987.0 199.1 990.0 200.6 991.0 201.4 992.4 203.2 993.9 206.2 994.3 208.2 994.5 211.2 994.0 214.2 993.0 216.2 991.4 218.2 990.0 219.4 988.0 220.6 985.0 221.8 982.0 222.8 978.0 223.6 971.0 224.0 965.0 223.5 953.0 221.4 948.0 221.1 945.0 221.3 943.0 221.8 941.0 222.9 936.0 226.5 932.0 228.9 928.0 230.6 925.0 231.4M925.0 231.2 922.0 231.8 918.0 232.0 916.0 231.6 914.0 230.7 912.0 228.9 910.3 226.2 909.3 223.2 908.9 220.2 909.0 215.2 909.5 210.2 910.6 205.2 912.3 200.2 914.0 196.8 916.0 193.8 921.0 188.4 923.0 187.0 925.0 186.7 927.0 187.6 929.0 189.6 933.1 195.2 936.0 198.6 939.0 201.0 942.0 202.2 944.0 202.5 947.0 202.4 962.0 201.1 976.0 199.4 982.0 199.3 986.0 200.0 989.0 201.2 991.2 203.2 992.9 206.2 993.4 208.2 993.7 211.2 993.1 214.2 992.1 216.2 990.4 218.2 989.2 219.2 987.0 220.5 984.0 221.7 981.0 222.6 977.0 223.4 971.0 223.7 964.0 222.9 952.0 220.5 948.0 220.3 945.0 220.5 942.0 221.6 935.9 226.2 932.0 228.7 928.0 230.4 925.0 231.2M924.0 231.3 921.0 231.7 918.0 231.8 916.0 231.5 914.0 230.5 912.0 228.7 910.4 226.2 909.4 223.2 909.0 220.2 909.1 215.2 909.7 210.2 910.8 205.2 912.6 200.2 915.0 195.7 917.0 193.3 921.0 189.6 923.0 188.4 925.0 188.1 927.0 189.1 929.0 191.1 933.0 196.2 936.0 199.6 939.0 202.0 942.0 203.4 944.0 203.7 946.0 203.6 961.0 202.2 976.0 200.3 982.0 200.3 986.0 201.1 989.0 202.5 991.0 204.6 992.3 207.2 992.9 210.2 992.8 212.2 992.3 214.2 991.3 216.2 990.0 217.8 988.2 219.2 986.0 220.5 983.0 221.7 980.0 222.6 977.0 223.1 973.0 223.4 970.0 223.4 964.0 222.6 952.0 219.8 948.0 219.4 945.0 219.6 942.0 220.8 935.5 226.2 932.0 228.5 928.0 230.2 924.0 231.3M923.0 231.3 920.0 231.7 917.0 231.6 915.0 231.0 913.0 229.6 911.1 227.2 910.1 225.2 909.3 222.2 909.1 219.2 909.4 213.2 910.2 208.2 911.6 203.2 913.0 199.7 915.0 196.3 917.0 193.9 921.0 190.7 923.0 189.6 925.0 189.5 927.0 190.5 929.0 192.4 934.0 198.4 937.0 201.5 940.0 203.7 942.0 204.6 944.0 204.9 946.0 204.9 960.0 203.3 974.0 201.5 978.0 201.2 981.0 201.3 985.0 202.0 988.0 203.2 990.2 205.2 991.6 208.2 992.0 210.2 992.0 212.2 991.5 214.2 990.5 216.2 989.0 217.9 987.3 219.2 985.0 220.5 982.0 221.7 979.0 222.5 976.0 223.0 973.0 223.2 969.0 223.1 963.0 222.1 952.0 219.0 948.0 218.5 945.0 218.6 943.0 219.3 942.0 220.0 936.4 225.2 932.1 228.2 928.0 230.1 923.0 231.3M922.0 231.3 917.0 231.5 915.0 230.8 912.8 229.2 911.2 227.2 909.9 224.2 909.3 221.2 909.2 217.2 909.6 212.2 910.5 207.2 911.7 203.2 913.5 199.2 915.0 196.7 917.0 194.4 921.0 191.6 923.0 190.8 925.0 190.7 927.0 191.7 929.0 193.5 935.0 200.4 938.0 203.4 941.0 205.5 943.0 206.2 945.0 206.3 947.0 206.2 972.0 202.6 976.0 202.3 980.0 202.3 984.0 202.9 987.2 204.2 988.6 205.2 989.5 206.2 990.9 209.2 991.2 211.2 991.0 213.2 990.3 215.2 989.7 216.2 987.9 218.2 986.5 219.2 984.0 220.6 981.0 221.7 978.0 222.5 975.0 222.9 971.0 223.0 968.0 222.8 962.0 221.5 954.0 218.7 951.0 217.9 948.0 217.4 945.0 217.5 944.0 217.8 942.0 219.0 936.0 225.2 932.0 228.0 928.0 229.9 925.0 230.8 922.0 231.3M921.0 231.3 918.0 231.4 916.0 231.1 914.0 230.1 912.1 228.2 910.8 226.2 909.7 223.2 909.4 221.2 909.3 217.2 909.6 213.2 910.4 208.2 911.5 204.2 913.2 200.2 915.0 197.2 917.0 194.9 920.0 193.0 922.0 192.0 924.0 191.7 925.0 191.8 927.0 192.8 930.0 195.6 938.0 204.4 941.0 206.8 943.0 207.8 945.0 208.1 947.0 207.9 963.0 204.7 969.0 203.8 974.0 203.3 979.0 203.2 983.0 203.7 986.0 204.9 987.9 206.2 988.8 207.2 990.0 209.5 990.4 211.2 990.3 213.2 989.6 215.2 989.0 216.2 987.1 218.2 985.8 219.2 983.0 220.7 981.0 221.4 977.0 222.4 974.0 222.7 970.0 222.7 967.0 222.4 961.0 220.9 951.0 216.8 947.0 216.0 945.0 216.1 944.0 216.4 942.0 217.8 936.7 224.2 934.4 226.2 932.0 227.8 927.0 230.1 924.0 230.9 921.0 231.3M920.0 231.3 917.0 231.2 915.0 230.6 913.0 229.1 911.5 227.2 910.4 225.2 909.6 222.2 909.5 216.2 909.8 212.2 910.5 208.2 911.7 204.2 913.4 200.2 915.0 197.5 917.0 195.4 920.0 193.5 922.0 192.7 924.0 192.5 925.0 192.6 927.0 193.6 928.0 194.4 940.0 207.2 943.0 209.7 945.0 210.6 946.0 210.6 952.7 208.2 962.0 205.6 969.0 204.4 976.0 203.8 981.0 204.2 983.0 204.7 985.0 205.4 987.0 206.7 988.0 207.7 989.4 210.2 989.7 212.2 989.4 214.2 988.4 216.2 986.5 218.2 984.0 219.9 982.0 220.8 979.0 221.8 975.0 222.5 970.0 222.6 964.0 221.6 959.0 219.8 949.0 214.7 946.0 213.8 945.0 214.0 944.0 214.5 942.0 216.6 937.3 223.2 935.3 225.2 933.0 227.0 930.0 228.7 927.0 230.0 924.0 230.8 920.0 231.3M919.0 231.2 916.0 230.9 914.0 229.8 912.3 228.2 911.0 226.2 910.2 224.2 909.5 221.2 909.5 217.2 909.8 213.2 910.6 208.2 911.8 204.2 913.5 200.2 915.0 197.8 917.0 195.7 919.0 194.5 922.0 193.3 924.0 193.1 926.0 193.7 927.0 194.3 929.0 195.9 931.0 198.0 941.6 210.2 942.5 212.2 942.6 213.2 941.9 215.2 938.5 221.2 936.1 224.2 933.9 226.2 930.8 228.2 927.0 229.9 923.0 230.9 919.0 231.2M975.0 222.3 971.0 222.5 967.0 222.1 964.0 221.4 960.0 220.0 955.1 217.2 951.4 214.2 950.7 213.2 950.4 212.2 950.8 211.2 951.9 210.2 953.5 209.2 958.0 207.3 964.0 205.6 969.0 204.8 974.0 204.4 979.0 204.5 983.0 205.4 986.0 206.9 988.0 208.9 989.0 211.2 989.1 212.2 988.9 214.2 987.9 216.2 986.1 218.2 982.9 220.2 979.0 221.6 975.0 222.3M925.0 230.3 922.0 230.9 918.0 231.1 916.0 230.7 914.0 229.7 912.0 227.6 910.6 225.2 909.8 222.2 909.6 220.2 909.7 215.2 910.3 210.2 911.6 205.2 913.2 201.2 915.0 198.2 917.0 196.2 920.0 194.6 923.0 193.9 925.0 194.2 927.0 195.2 929.0 196.8 931.0 198.8 935.7 204.2 938.8 208.2 940.4 211.2 940.8 213.2 940.6 215.2 939.5 218.2 937.4 222.2 935.7 224.2 933.5 226.2 931.0 227.9 928.0 229.3 925.0 230.3M973.0 222.2 969.0 222.1 966.0 221.6 963.0 220.8 959.3 219.2 956.3 217.2 954.4 215.2 953.6 213.2 953.8 212.2 954.3 211.2 956.6 209.2 960.0 207.5 965.0 206.1 970.0 205.3 975.0 205.0 980.0 205.5 983.0 206.4 986.0 208.3 987.6 210.2 988.2 212.2 988.3 213.2 987.8 215.2 986.5 217.2 984.0 219.2 981.0 220.7 977.0 221.8 973.0 222.2M924.0 230.3 921.0 230.8 918.0 230.9 916.0 230.6 914.0 229.5 912.0 227.4 910.8 225.2 910.1 223.2 909.7 220.2 909.9 215.2 910.5 210.2 911.8 205.2 913.5 201.2 915.0 198.8 917.0 196.7 920.0 195.4 923.0 194.8 925.0 195.2 927.0 196.2 929.0 197.8 932.3 201.2 935.6 205.2 937.6 208.2 939.0 211.2 939.5 214.2 939.3 216.2 937.9 220.2 936.9 222.2 935.3 224.2 933.1 226.2 930.0 228.2 927.0 229.5 924.0 230.3M978.0 221.3 974.0 221.9 970.0 221.9 966.0 221.3 962.4 220.2 958.7 218.2 956.6 216.2 955.6 214.2 955.6 213.2 955.9 212.2 956.5 211.2 957.4 210.2 959.0 209.1 962.0 207.7 966.0 206.5 971.0 205.8 975.0 205.7 979.0 206.2 982.0 207.1 984.2 208.2 986.3 210.2 987.2 212.2 987.2 214.2 986.4 216.2 984.7 218.2 982.0 219.9 978.0 221.3M923.0 230.3 920.0 230.7 917.0 230.6 915.0 229.9 914.0 229.3 912.1 227.2 911.0 225.2 910.3 223.2 909.9 220.2 910.0 215.2 910.7 210.2 911.7 206.2 913.2 202.2 915.0 199.3 917.0 197.3 919.0 196.4 922.0 195.8 924.0 195.9 926.0 196.6 929.0 198.8 931.4 201.2 934.7 205.2 936.6 208.2 937.9 211.2 938.5 214.2 938.2 217.2 937.3 220.2 936.3 222.2 934.8 224.2 932.6 226.2 930.0 227.9 926.0 229.6 923.0 230.3M976.0 221.4 973.0 221.7 969.0 221.5 965.0 220.7 962.0 219.6 959.7 218.2 957.7 216.2 957.0 214.2 957.4 212.2 959.1 210.2 961.0 209.0 964.0 207.7 968.0 206.7 972.0 206.4 976.0 206.5 979.0 207.0 982.0 208.0 984.0 209.3 985.7 211.2 986.4 213.2 986.1 215.2 984.9 217.2 982.4 219.2 979.0 220.7 976.0 221.4M922.0 230.2 919.0 230.5 917.0 230.4 915.0 229.7 913.1 228.2 911.6 226.2 910.8 224.2 910.2 222.2 910.0 219.2 910.3 214.2 910.9 210.2 911.9 206.2 913.6 202.2 915.0 200.0 917.0 198.0 920.0 196.9 922.0 196.7 924.0 196.9 927.0 198.3 929.3 200.2 932.1 203.2 934.4 206.2 936.5 210.2 937.4 213.2 937.5 215.2 937.2 218.2 936.3 221.2 935.1 223.2 933.3 225.2 930.6 227.2 928.0 228.6 925.0 229.6 922.0 230.2M974.0 221.3 971.0 221.4 967.0 220.8 964.0 219.9 962.0 219.0 959.6 217.2 958.4 215.2 958.4 213.2 958.8 212.2 960.7 210.2 963.0 208.9 966.0 207.8 970.0 207.1 974.0 207.0 978.0 207.5 981.0 208.5 983.0 209.7 984.5 211.2 985.4 213.2 985.2 215.2 984.0 217.2 982.0 218.9 980.0 219.9 977.0 220.8 974.0 221.3M920.0 230.2 918.0 230.3 916.0 229.9 914.0 228.7 912.5 227.2 911.4 225.2 910.4 222.2 910.2 220.2 910.3 216.2 910.7 212.2 911.6 208.2 912.5 205.2 914.0 202.1 915.0 200.6 917.0 198.7 919.0 197.9 922.0 197.6 924.0 197.9 927.0 199.3 929.3 201.2 932.0 204.2 934.1 207.2 935.6 210.2 936.5 213.2 936.7 216.2 936.3 219.2 935.7 221.2 934.5 223.2 932.0 225.8 930.0 227.2 927.0 228.7 924.0 229.6 920.0 230.2M977.0 220.5 974.0 221.0 970.0 221.0 967.0 220.5 964.0 219.5 961.8 218.2 959.9 216.2 959.4 215.2 959.3 214.2 959.5 213.2 960.9 211.2 962.1 210.2 965.0 208.8 968.0 208.0 971.0 207.6 974.0 207.6 977.0 208.0 980.0 208.9 982.0 210.0 983.3 211.2 984.4 213.2 984.3 215.2 983.2 217.2 982.1 218.2 980.0 219.4 977.0 220.5M924.0 229.3 921.0 229.9 918.0 230.0 916.0 229.6 915.0 229.1 913.8 228.2 912.1 226.2 911.2 224.2 910.5 221.2 910.4 217.2 910.8 213.2 911.6 209.2 912.8 205.2 914.0 202.8 916.0 200.2 918.0 199.0 920.0 198.5 923.0 198.6 925.0 199.3 927.0 200.4 929.2 202.2 931.8 205.2 933.7 208.2 935.0 211.2 935.8 214.2 935.9 216.2 935.6 219.2 935.0 221.2 933.9 223.2 932.1 225.2 930.0 226.8 927.0 228.4 924.0 229.3M976.0 220.3 973.0 220.7 970.0 220.6 967.0 220.0 964.6 219.2 962.8 218.2 961.6 217.2 960.9 216.2 960.4 215.2 960.4 214.2 960.6 213.2 961.2 212.2 963.0 210.5 965.0 209.5 968.0 208.6 972.0 208.1 975.0 208.3 978.0 208.9 980.0 209.7 982.0 211.1 982.9 212.2 983.4 213.2 983.4 215.2 982.3 217.2 981.1 218.2 979.0 219.4 976.0 220.3M923.0 229.3 918.0 229.7 917.0 229.6 915.0 228.8 914.0 228.1 912.4 226.2 911.4 224.2 910.7 221.2 910.7 217.2 911.2 212.2 912.1 208.2 913.2 205.2 914.2 203.2 916.0 200.9 918.0 199.7 920.0 199.4 923.0 199.5 925.0 200.2 927.0 201.4 929.1 203.2 931.6 206.2 933.4 209.2 934.5 212.2 935.1 215.2 935.1 217.2 934.7 220.2 934.0 222.2 932.6 224.2 930.3 226.2 928.0 227.6 925.0 228.8 923.0 229.3M973.0 220.3 971.0 220.3 968.0 219.9 965.8 219.2 963.8 218.2 962.6 217.2 961.8 216.2 961.4 215.2 961.3 214.2 961.6 213.2 962.2 212.2 964.0 210.7 966.0 209.8 969.0 209.0 971.0 208.7 974.0 208.7 977.0 209.3 979.0 210.0 981.0 211.2 982.0 212.4 982.7 214.2 982.6 215.2 982.1 216.2 981.4 217.2 980.0 218.3 978.0 219.3 976.0 219.9 973.0 220.3M921.0 229.3 917.0 229.4 915.0 228.6 914.0 227.8 912.6 226.2 911.6 224.2 911.1 222.2 910.8 220.2 910.9 216.2 911.4 212.2 912.4 208.2 913.5 205.2 915.0 202.7 916.0 201.5 917.0 200.8 918.0 200.4 920.0 200.1 923.0 200.4 925.0 201.1 927.0 202.3 929.1 204.2 931.5 207.2 933.1 210.2 934.1 213.2 934.5 216.2 934.3 219.2 933.9 221.2 932.8 223.2 931.0 225.2 929.0 226.6 927.0 227.7 924.0 228.8 921.0 229.3M976.0 219.5 974.0 219.8 971.0 219.9 968.0 219.4 966.0 218.8 964.0 217.6 962.7 216.2 962.3 215.2 962.2 214.2 962.5 213.2 963.2 212.2 965.0 210.9 967.0 210.0 969.0 209.5 972.0 209.2 974.0 209.3 976.0 209.6 978.0 210.2 979.8 211.2 980.9 212.2 981.6 213.2 981.8 214.2 981.7 215.2 981.3 216.2 980.0 217.6 978.0 218.8 976.0 219.5M924.0 228.4 922.0 228.9 919.0 229.2 917.0 229.1 916.0 228.8 914.0 227.4 912.9 226.2 911.9 224.2 911.3 222.2 911.1 219.2 911.2 215.2 911.7 212.2 912.7 208.2 913.9 205.2 915.0 203.4 916.0 202.2 917.0 201.5 918.0 201.1 921.0 200.8 923.0 201.2 925.0 202.0 927.0 203.3 929.0 205.2 931.2 208.2 932.7 211.2 933.6 214.2 933.8 217.2 933.6 220.2 932.8 222.2 932.2 223.2 930.4 225.2 929.0 226.2 927.0 227.3 924.0 228.4M975.0 219.2 973.0 219.5 970.0 219.4 968.0 219.0 966.0 218.2 964.4 217.2 963.6 216.2 963.1 215.2 963.1 214.2 963.5 213.2 964.3 212.2 966.0 211.0 968.0 210.3 970.0 209.8 974.0 209.8 976.0 210.2 978.0 210.9 979.9 212.2 980.6 213.2 980.9 214.2 980.9 215.2 980.4 216.2 979.0 217.6 977.0 218.7 975.0 219.2M923.0 228.4 919.0 228.9 917.0 228.8 916.0 228.5 914.1 227.2 913.2 226.2 912.1 224.2 911.5 222.2 911.3 220.2 911.4 216.2 911.7 213.2 912.6 209.2 913.8 206.2 915.0 204.0 916.0 202.9 917.0 202.1 918.0 201.8 921.0 201.6 923.0 202.0 925.0 202.8 927.0 204.2 929.0 206.2 930.5 208.2 932.0 211.2 932.9 214.2 933.2 216.2 933.1 219.2 932.7 221.2 931.7 223.2 929.8 225.2 928.0 226.4 926.0 227.4 923.0 228.4M976.0 218.5 974.0 219.0 972.0 219.1 970.0 219.0 968.0 218.5 966.0 217.6 965.0 216.8 964.4 216.2 964.0 215.2 964.0 214.2 964.4 213.2 965.3 212.2 967.0 211.2 969.0 210.5 973.0 210.2 975.0 210.5 977.0 211.1 978.9 212.2 979.7 213.2 980.1 214.2 980.0 215.2 979.6 216.2 978.6 217.2 976.0 218.5M922.0 228.2 918.0 228.6 916.0 228.1 915.0 227.6 914.0 226.7 912.9 225.2 912.0 223.2 911.6 221.2 911.7 215.2 912.2 212.2 913.0 209.1 914.0 206.6 915.0 204.9 916.0 203.7 917.0 202.9 918.0 202.6 921.0 202.4 923.0 202.9 925.0 203.8 927.0 205.3 929.0 207.5 930.7 210.2 931.6 212.2 932.3 215.2 932.5 217.2 932.3 220.2 931.6 222.2 931.0 223.2 929.0 225.2 927.0 226.5 925.0 227.4 922.0 228.2M975.0 218.2 973.0 218.5 971.0 218.5 968.0 217.9 966.6 217.2 965.5 216.2 965.0 215.2 965.1 214.2 965.6 213.2 966.7 212.2 969.0 211.2 971.0 210.8 973.0 210.8 976.0 211.4 977.5 212.2 978.6 213.2 979.0 214.2 979.0 215.2 978.5 216.2 977.4 217.2 975.0 218.2M920.0 228.2 917.0 228.2 915.0 227.3 914.0 226.3 913.0 224.9 912.2 223.2 911.8 221.2 911.7 219.2 911.8 216.2 912.4 212.2 914.0 207.2 915.2 205.2 917.0 203.5 918.0 203.1 920.0 203.0 923.0 203.5 925.0 204.5 927.0 206.1 928.9 208.2 930.1 210.2 931.3 213.2 931.8 215.2 932.0 218.2 931.9 220.2 931.2 222.2 930.5 223.2 929.0 224.8 927.0 226.2 925.0 227.1 923.0 227.8 920.0 228.2M976.0 217.4 973.0 218.1 971.0 218.1 969.0 217.7 967.7 217.2 966.4 216.2 965.8 215.2 965.9 214.2 967.0 212.7 969.0 211.7 972.0 211.3 975.0 211.7 977.0 212.6 977.7 213.2 978.2 214.2 978.2 215.2 977.7 216.2 976.0 217.4M923.0 227.4 919.0 228.0 917.0 227.9 916.0 227.5 915.0 226.9 913.5 225.2 912.2 222.2 912.0 220.2 912.1 216.2 912.5 213.2 913.2 210.2 914.0 208.1 915.0 206.2 916.0 205.0 917.0 204.2 918.0 203.8 920.0 203.7 922.0 204.0 924.0 204.8 926.0 206.2 928.0 208.2 929.3 210.2 930.3 212.2 931.1 215.2 931.4 217.2 931.3 220.2 930.6 222.2 929.9 223.2 929.0 224.2 927.0 225.7 925.0 226.7 923.0 227.4M974.0 217.4 971.0 217.5 969.0 217.0 967.6 216.2 967.0 215.2 967.0 214.2 968.0 213.0 970.0 212.1 973.0 211.9 975.0 212.4 976.4 213.2 977.1 214.2 977.1 215.2 976.0 216.5 974.0 217.4M922.0 227.4 918.0 227.7 916.0 227.2 915.0 226.6 913.7 225.2 912.7 223.2 912.2 221.2 912.4 215.2 913.5 210.2 914.3 208.2 915.5 206.2 917.0 204.8 918.0 204.4 920.0 204.3 922.0 204.7 924.0 205.5 926.0 206.9 928.0 209.2 929.0 210.8 930.1 213.2 930.6 215.2 930.9 217.2 930.8 220.2 930.5 221.2 929.4 223.2 928.0 224.6 926.0 225.9 922.0 227.4M975.0 216.3 973.0 217.0 971.0 217.0 970.0 216.7 968.8 216.2 968.0 215.2 968.1 214.2 969.1 213.2 970.0 212.8 972.0 212.5 974.0 212.8 975.1 213.2 976.0 214.2 976.1 215.2 975.0 216.3M921.0 227.2 919.0 227.4 917.0 227.3 915.0 226.2 913.4 224.2 912.5 221.2 912.4 218.2 912.7 215.2 913.8 210.2 915.0 207.6 916.0 206.2 917.0 205.4 918.0 205.1 920.0 205.0 922.0 205.4 924.0 206.3 926.0 207.8 927.2 209.2 928.5 211.2 929.4 213.2 930.2 216.2 930.2 220.2 929.5 222.2 928.8 223.2 927.9 224.2 926.0 225.5 924.0 226.4 921.0 227.2M972.0 216.2 971.0 216.1 969.6 215.2 969.7 214.2 971.0 213.6 972.0 213.4 973.0 213.5 974.4 214.2 974.5 215.2 973.0 216.1 972.0 216.2M923.0 226.4 919.0 227.1 917.0 226.9 916.0 226.5 915.0 225.8 914.0 224.6 912.9 222.2 912.7 220.2 912.7 217.2 913.1 214.2 913.8 211.2 915.0 208.4 916.0 207.0 917.0 206.2 918.0 205.8 920.0 205.8 922.0 206.2 925.0 207.9 926.3 209.2 927.8 211.2 928.7 213.2 929.4 215.2 929.7 219.2 929.4 221.2 928.9 222.2 927.0 224.3 925.0 225.6 923.0 226.4M921.0 226.4 918.0 226.6 916.0 226.1 915.0 225.3 914.2 224.2 913.6 223.2 913.1 221.2 913.2 216.2 914.3 211.2 915.0 209.5 916.0 208.0 917.0 207.1 918.0 206.7 920.0 206.7 922.0 207.2 923.9 208.2 925.0 209.1 926.0 210.2 927.4 212.2 928.2 214.2 928.8 216.2 928.9 220.2 928.0 222.4 927.0 223.6 925.0 225.0 923.0 225.9 921.0 226.4M923.0 225.4 920.0 226.1 917.0 226.0 916.0 225.6 915.0 224.7 913.7 222.2 913.3 220.2 913.4 218.2 914.1 213.2 915.0 210.6 916.0 208.9 917.0 208.0 918.0 207.6 921.0 207.8 923.0 208.7 924.0 209.4 925.0 210.3 926.4 212.2 927.7 215.2 928.2 218.2 927.9 221.2 927.4 222.2 926.0 223.7 923.0 225.4M921.0 225.3 918.0 225.6 917.0 225.4 916.0 224.9 914.6 223.2 913.9 221.2 913.8 219.2 914.0 216.2 915.0 212.2 916.0 210.2 917.0 209.2 918.0 208.8 921.0 209.1 923.0 210.1 924.0 210.9 926.0 213.6 926.7 215.2 927.1 217.2 927.2 220.2 926.3 222.2 925.4 223.2 924.0 224.2 921.0 225.3M918.0 225.2 917.0 225.0 916.0 224.5 914.9 223.2 914.2 221.2 914.1 218.2 914.7 214.2 915.9 211.2 917.0 210.0 918.0 209.6 919.0 209.5 921.0 209.9 922.0 210.4 924.0 212.0 924.9 213.2 926.2 216.2 926.6 218.2 926.5 220.2 925.7 222.2 924.0 223.7 921.0 224.9 918.0 225.2M921.0 224.4 919.0 224.7 917.0 224.5 915.5 223.2 914.6 221.2 914.5 218.2 915.2 214.2 916.0 212.2 917.0 211.0 918.0 210.5 920.0 210.7 921.0 211.0 923.0 212.3 924.5 214.2 925.6 217.2 925.7 220.2 925.0 221.9 923.6 223.2 921.0 224.4M922.0 223.4 919.0 224.2 917.0 223.9 916.0 223.2 915.0 221.2 914.9 218.2 915.4 215.2 916.0 213.5 916.9 212.2 918.0 211.6 920.0 211.7 922.0 212.7 923.4 214.2 924.4 216.2 924.9 218.2 924.9 220.2 924.5 221.2 923.8 222.2 922.0 223.4M920.0 223.4 918.0 223.6 917.0 223.3 916.0 222.4 915.5 221.2 915.3 218.2 915.9 215.2 917.0 213.2 918.0 212.6 920.0 212.9 922.0 214.1 923.4 216.2 924.0 218.2 924.0 220.2 923.6 221.2 922.0 222.7 920.0 223.4M921.0 222.3 920.0 222.7 918.0 222.9 917.0 222.6 916.0 221.2 915.8 219.2 916.0 217.1 917.0 214.6 918.0 213.9 920.0 214.2 921.0 214.8 922.0 215.9 922.6 217.2 923.0 219.2 922.9 220.2 922.5 221.2 921.0 222.3M919.0 222.2 918.0 222.3 917.0 221.7 916.4 220.2 916.4 218.2 917.0 216.2 918.0 215.2 919.0 215.2 920.7 216.2 921.4 217.2 921.9 219.2 921.9 220.2 921.3 221.2 919.0 222.2" fill="none" stroke="#000" stroke-opacity="0.6" stroke-width="0.9" stroke-linejoin="round"/>
<rect x="868.00" y="74.20" width="204.60" height="204.40" fill="none" stroke="#777" stroke-width="1.5"/>
<path d="M862.0 264.6H868.0M862.0 230.6H868.0M862.0 198.1H868.0M862.0 142.1H868.0M862.0 92.1H868.0M865.0 257.8H868.0M865.0 251.0H868.0M865.0 244.2H868.0M865.0 237.4H868.0M865.0 220.8H868.0M865.0 215.1H868.0M865.0 211.0H868.0M865.0 207.9H868.0M865.0 205.3H868.0M865.0 203.1H868.0M865.0 201.2H868.0M865.0 199.6H868.0M865.0 181.2H868.0M865.0 171.4H868.0M865.0 164.4H868.0M865.0 159.0H868.0M865.0 154.5H868.0M865.0 150.8H868.0M865.0 147.5H868.0M865.0 144.7H868.0M865.0 127.0H868.0M865.0 118.2H868.0M865.0 112.0H868.0M865.0 107.2H868.0M865.0 103.2H868.0M865.0 99.8H868.0M865.0 96.9H868.0M865.0 94.4H868.0M862.0 234.6H868.0M862.0 233.1H868.0M862.0 231.6H868.0M862.0 229.6H868.0M862.0 228.1H868.0M862.0 226.6H868.0M865.0 77.0H868.0M880.0 278.6V284.6M914.0 278.6V284.6M948.0 278.6V284.6M1004.0 278.6V284.6M1054.0 278.6V284.6M886.8 278.6V281.6M893.6 278.6V281.6M900.4 278.6V281.6M907.2 278.6V281.6M924.2 278.6V281.6M930.2 278.6V281.6M934.5 278.6V281.6M937.8 278.6V281.6M940.5 278.6V281.6M942.7 278.6V281.6M944.7 278.6V281.6M946.4 278.6V281.6M964.9 278.6V281.6M974.7 278.6V281.6M981.7 278.6V281.6M987.1 278.6V281.6M991.6 278.6V281.6M995.3 278.6V281.6M998.6 278.6V281.6M1001.4 278.6V281.6M1019.1 278.6V281.6M1027.9 278.6V281.6M1034.1 278.6V281.6M1038.9 278.6V281.6M1042.9 278.6V281.6M1046.3 278.6V281.6M1049.2 278.6V281.6M1051.7 278.6V281.6M910.0 278.6V284.6M911.5 278.6V284.6M913.0 278.6V284.6M915.0 278.6V284.6M916.5 278.6V284.6M918.0 278.6V284.6M1069.1 278.6V281.6" stroke="#222" stroke-width="1.2" fill="none"/>
<ellipse cx="990.4" cy="130.15" rx="60.5" ry="37.5" transform="rotate(-57 990.4 130.15)" fill="none" stroke="#222" stroke-width="1.6"/>
<line x1="1033" y1="119.6" x2="1114" y2="119.6" stroke="#000" stroke-width="5.2"/><path d="M1112.6 101.6L1134.6 119.6L1112.6 137.6z" fill="#000"/>
<path d="M910.0 554.6 910.2 545.2 910.9 530.2 910.8 526.2 910.4 524.2 909.6 522.2 905.2 515.2 903.3 511.2 897.3 492.2 896.3 487.2 896.2 483.2 896.9 479.2 898.5 475.2 921.0 444.4 925.0 439.2 928.5 435.2 932.0 431.8 936.0 428.4 940.0 425.5 947.0 421.5 954.0 418.5 964.0 414.9 975.0 411.6 982.0 410.1 987.0 409.5 992.0 409.7 996.0 410.8 999.0 412.8 1001.0 415.0 1002.8 418.2 1003.9 421.2 1004.6 425.2 1005.0 430.2 1004.9 436.2 1003.8 452.2 1003.8 456.2 1004.4 460.2 1005.6 464.2 1007.2 467.2 1014.6 477.2 1017.5 482.2 1018.6 485.2 1019.2 488.2 1019.1 490.2 1018.2 493.2 1016.5 496.2 1014.8 498.2 1010.0 502.6 1003.0 507.3 994.0 511.9 982.0 516.6 964.3 522.2 954.0 525.8 949.0 527.1 939.0 528.4 937.0 529.2 936.0 529.9 935.0 531.1 934.5 532.2 934.0 534.0 933.8 536.2 934.0 554.6M912.3 554.6 912.6 545.2 913.6 530.2 913.5 526.2 913.0 524.2 911.9 522.2 907.9 517.2 905.4 513.2 904.4 511.2 903.2 507.2 899.8 491.2 899.3 487.2 899.7 482.2 900.5 479.2 901.4 477.2 910.4 464.2 918.3 455.2 928.0 443.5 935.0 436.2 938.0 433.5 942.0 430.5 947.0 427.4 953.0 424.5 960.0 421.8 967.0 419.7 973.0 418.4 979.0 417.7 984.0 417.8 988.0 418.8 990.7 420.2 992.9 422.2 995.0 425.2 996.3 428.2 997.3 432.2 997.9 437.2 998.1 443.2 998.0 456.2 998.3 460.2 998.9 463.2 999.9 466.2 1001.5 469.2 1008.6 479.2 1010.9 483.2 1011.9 486.2 1012.5 489.2 1012.4 491.2 1011.8 493.2 1010.8 495.2 1009.5 497.2 1007.0 499.9 1004.3 502.2 998.0 506.4 989.0 510.9 977.0 515.5 952.0 523.5 947.0 524.7 937.0 525.8 935.0 526.5 933.8 527.2 932.8 528.2 932.0 529.6 931.2 533.2 931.1 537.2 931.7 554.6M914.2 554.6 914.6 544.2 915.8 530.2 915.7 526.2 915.1 524.2 914.5 523.2 910.0 518.5 907.3 515.2 905.6 512.2 904.2 508.2 903.3 504.2 901.6 492.2 901.3 488.2 901.7 483.2 902.5 480.2 903.4 478.2 908.3 470.2 912.0 465.3 920.3 457.2 935.0 441.0 939.2 437.2 944.0 433.6 949.0 430.5 954.0 428.1 960.0 425.8 965.0 424.4 971.0 423.3 976.0 422.9 980.0 423.2 983.5 424.2 986.0 425.6 988.7 428.2 990.6 431.2 991.8 434.2 992.8 438.2 993.4 442.2 993.8 458.2 994.7 464.2 995.7 467.2 997.1 470.2 1004.1 480.2 1006.3 484.2 1007.3 487.2 1007.8 490.2 1007.6 492.2 1006.9 494.2 1005.8 496.2 1004.2 498.2 1002.2 500.2 999.0 502.8 993.0 506.6 985.0 510.5 974.0 514.6 952.0 521.6 946.0 523.0 935.0 524.1 932.3 525.2 931.0 526.2 929.7 528.2 929.1 530.2 928.8 532.2 929.8 554.6M915.9 554.6 916.4 545.2 918.2 530.2 918.2 527.2 917.7 525.2 916.5 523.2 911.0 518.6 908.0 515.2 906.2 512.2 904.7 508.2 903.6 502.2 902.5 489.2 902.7 486.2 903.2 483.2 904.5 479.2 908.4 472.2 910.5 469.2 913.0 466.3 922.5 458.2 934.0 445.9 938.0 441.9 942.0 438.5 945.0 436.3 949.0 433.8 954.0 431.3 959.0 429.4 964.0 427.9 969.0 427.1 973.0 426.9 977.0 427.3 980.0 428.1 983.0 429.9 985.0 431.8 986.7 434.2 988.1 437.2 989.2 441.2 989.9 445.2 990.6 460.2 991.4 465.2 992.4 468.2 993.8 471.2 1000.7 481.2 1002.8 485.2 1003.5 487.2 1004.1 490.2 1004.0 492.2 1003.4 494.2 1002.3 496.2 1000.8 498.2 998.8 500.2 996.4 502.2 990.0 506.2 982.0 510.0 972.0 513.7 951.0 520.4 945.0 521.7 934.0 522.7 931.0 523.7 928.8 525.2 927.9 526.2 926.9 528.2 926.4 531.2 927.7 547.2 928.1 554.6M924.0 526.3 923.0 527.0 922.0 526.8 918.5 523.2 913.0 519.6 911.0 518.0 909.3 516.2 907.8 514.2 906.6 512.2 905.3 509.2 904.6 506.2 904.1 503.2 903.4 494.2 903.4 488.2 903.7 485.2 904.4 482.2 905.5 479.2 907.6 475.2 910.1 471.2 913.0 467.7 915.0 465.9 920.5 462.2 923.0 460.2 926.1 457.2 935.0 447.7 939.0 443.8 943.3 440.2 948.0 436.9 952.0 434.7 956.0 432.9 960.0 431.6 965.0 430.4 969.0 429.9 973.0 430.0 976.0 430.6 979.0 431.9 981.0 433.3 983.0 435.5 984.7 438.2 985.9 441.2 986.7 444.2 987.3 448.2 988.0 461.2 988.9 466.2 989.9 469.2 991.4 472.2 997.6 481.2 999.4 484.2 1000.3 486.2 1001.1 489.2 1001.2 492.2 1000.7 494.2 999.7 496.2 998.1 498.2 996.1 500.2 992.0 503.4 986.0 506.8 978.0 510.4 969.0 513.6 949.0 519.8 944.0 520.7 935.0 521.4 931.0 522.2 926.8 524.2 924.0 526.3M917.5 554.6 918.0 547.8 919.0 540.4 920.0 536.3 921.0 533.6 922.0 532.4 923.0 533.2 924.0 535.9 925.0 540.3 926.0 547.7 926.5 554.6M923.0 523.3 921.0 522.9 916.0 520.7 913.0 519.0 911.0 517.5 909.0 515.3 907.5 513.2 906.5 511.2 905.4 508.2 904.5 504.2 904.1 498.2 903.9 491.2 904.2 486.2 904.9 483.2 905.9 480.2 907.3 477.2 909.5 473.2 912.0 469.9 914.0 467.9 916.0 466.5 921.5 463.2 924.2 461.2 927.5 458.2 940.0 445.4 945.0 441.3 950.0 438.1 953.0 436.5 957.0 434.9 961.0 433.6 965.0 432.8 969.0 432.6 972.0 432.9 975.0 433.6 977.0 434.6 979.1 436.2 981.0 438.4 982.6 441.2 983.7 444.2 984.9 450.2 986.0 464.2 987.3 469.2 989.9 474.2 996.1 483.2 997.9 487.2 998.6 490.2 998.7 492.2 998.2 494.2 997.2 496.2 995.8 498.2 993.8 500.2 989.0 503.7 982.0 507.5 974.0 510.8 965.0 513.9 949.0 518.8 944.0 519.7 933.0 520.7 930.6 521.2 925.0 523.0 923.0 523.3M919.7 554.6 920.0 552.2 920.6 549.2 921.0 547.4 922.0 546.1 923.0 547.4 923.4 549.2 924.0 552.2 924.3 554.6M926.0 521.3 923.0 521.7 921.0 521.5 917.0 520.4 914.0 519.1 912.0 517.8 909.3 515.2 907.3 512.2 906.4 510.2 905.4 507.2 904.8 503.2 904.4 496.2 904.5 490.2 904.7 487.2 905.5 483.2 906.6 480.2 908.5 476.2 911.1 472.2 914.0 469.1 916.0 467.7 922.7 464.2 925.6 462.2 929.1 459.2 941.0 447.2 945.0 443.9 950.0 440.6 956.0 437.8 960.0 436.5 963.0 435.8 966.0 435.5 969.0 435.6 972.0 436.2 974.3 437.2 976.0 438.3 978.0 440.4 979.8 443.2 981.0 446.0 981.8 449.2 982.3 452.2 983.3 464.2 984.5 469.2 986.9 474.2 993.7 484.2 995.4 488.2 995.8 490.2 996.0 492.2 995.6 494.2 994.7 496.2 993.2 498.2 991.2 500.2 986.0 503.9 979.0 507.6 971.0 510.8 962.0 513.8 948.0 518.0 943.0 518.8 933.0 519.7 926.0 521.3M926.0 520.2 923.0 520.6 921.0 520.5 917.0 519.8 914.0 518.6 912.0 517.3 909.8 515.2 907.7 512.2 906.3 509.2 905.5 506.2 905.1 503.2 904.8 495.2 905.1 489.2 905.5 486.2 906.5 482.2 907.7 479.2 909.2 476.2 911.2 473.2 914.0 470.2 916.0 468.8 924.0 465.2 927.1 463.2 930.7 460.2 942.0 449.1 946.0 445.9 950.0 443.2 956.0 440.3 959.0 439.4 962.0 438.8 967.0 438.6 970.0 439.2 972.0 440.1 974.0 441.5 975.7 443.2 977.0 445.2 978.3 448.2 979.2 451.2 979.7 454.2 980.7 465.2 982.0 470.2 984.5 475.2 990.8 484.2 992.6 488.2 993.2 491.2 993.2 493.2 992.1 496.2 990.6 498.2 988.6 500.2 984.0 503.5 978.0 506.7 969.0 510.4 959.0 513.7 948.0 517.0 943.0 517.8 934.0 518.6 926.0 520.2M927.0 519.3 924.0 519.8 921.0 519.9 918.0 519.5 915.0 518.6 913.0 517.6 911.0 516.0 909.3 514.2 907.4 511.2 906.3 508.2 905.5 504.2 905.2 498.2 905.2 492.2 905.6 488.2 906.4 484.2 907.3 481.2 909.2 477.2 911.9 473.2 914.0 471.0 916.0 469.7 925.0 466.2 928.3 464.2 931.9 461.2 943.0 450.6 947.0 447.5 951.0 445.0 956.0 442.7 961.0 441.4 964.0 441.2 966.0 441.4 968.0 441.8 970.0 442.6 972.0 444.0 973.1 445.2 974.6 447.2 976.0 450.2 977.2 455.2 978.6 467.2 980.2 472.2 982.5 476.2 988.2 484.2 990.1 488.2 990.8 491.2 990.8 493.2 990.6 494.2 989.8 496.2 988.4 498.2 987.0 499.6 982.2 503.2 976.0 506.5 968.0 509.8 959.0 512.8 948.0 516.1 943.0 517.0 934.0 517.8 927.0 519.3M923.0 519.2 921.0 519.3 917.0 518.8 915.0 518.2 913.0 517.2 911.0 515.7 908.9 513.2 907.7 511.2 906.5 508.2 905.7 504.2 905.5 501.2 905.4 495.2 905.7 490.2 906.3 486.2 907.4 482.2 908.7 479.2 910.3 476.2 913.0 472.7 916.0 470.5 926.0 467.2 929.6 465.2 933.3 462.2 944.0 452.3 948.0 449.3 951.0 447.4 956.0 445.2 960.0 444.2 964.0 444.1 966.0 444.5 968.0 445.3 970.0 446.8 971.3 448.2 972.6 450.2 973.5 452.2 974.7 457.2 976.0 467.2 977.6 472.2 979.8 476.2 985.5 484.2 987.6 488.2 988.4 491.2 988.4 493.2 988.3 494.2 987.6 496.2 986.2 498.2 984.1 500.2 979.9 503.2 974.0 506.3 966.0 509.5 953.0 513.8 947.0 515.4 943.0 516.1 934.0 517.1 926.0 518.9 923.0 519.2M926.0 518.3 923.0 518.8 920.0 518.8 917.0 518.4 915.0 517.9 913.0 516.9 910.9 515.2 909.2 513.2 907.5 510.2 906.4 507.2 905.9 503.2 905.8 493.2 906.3 488.2 907.2 484.2 908.2 481.2 909.6 478.2 912.0 474.6 915.0 471.8 918.0 470.5 926.7 468.2 930.0 466.6 933.3 464.2 945.0 453.8 948.0 451.6 951.0 449.7 955.0 447.9 959.0 446.9 963.0 446.9 966.0 447.8 967.9 449.2 969.0 450.3 970.3 452.2 971.2 454.2 972.3 458.2 973.9 468.2 975.7 473.2 978.0 477.2 983.2 484.2 985.3 488.2 986.0 490.2 986.3 492.2 986.2 494.2 985.5 496.2 983.2 499.2 979.4 502.2 974.0 505.3 966.0 508.7 957.0 511.7 948.0 514.4 943.0 515.3 935.0 516.3 926.0 518.3M924.0 518.3 921.0 518.5 917.0 518.1 915.0 517.6 913.0 516.6 911.0 515.0 909.4 513.2 907.3 509.2 906.4 506.2 906.1 503.2 905.9 496.2 906.3 490.2 906.8 487.2 907.8 483.2 908.6 481.2 910.6 477.2 913.0 474.1 914.0 473.1 916.0 471.8 919.0 470.9 927.2 469.2 929.8 468.2 931.6 467.2 935.0 464.6 945.0 456.0 949.0 453.1 952.0 451.5 956.0 450.0 959.0 449.4 962.0 449.6 963.8 450.2 965.0 450.9 967.3 453.2 969.0 456.3 970.0 459.8 971.6 468.2 973.4 473.2 975.7 477.2 981.6 485.2 983.2 488.2 984.1 491.2 984.3 493.2 984.0 495.2 983.0 497.2 980.2 500.2 975.9 503.2 969.9 506.2 963.0 508.9 954.0 511.9 948.0 513.6 944.0 514.5 935.0 515.7 927.0 517.7 924.0 518.3M927.0 517.3 924.0 517.9 921.0 518.1 917.0 517.9 915.0 517.3 913.0 516.3 910.5 514.2 908.4 511.2 907.4 509.2 906.6 506.2 906.2 503.2 906.1 496.2 906.4 491.2 907.8 484.2 908.9 481.2 910.4 478.2 913.0 474.6 914.0 473.7 916.0 472.4 919.0 471.5 928.0 470.1 930.5 469.2 932.4 468.2 935.3 466.2 946.0 457.4 949.0 455.4 952.0 453.8 955.0 452.7 958.0 452.2 960.0 452.3 962.6 453.2 964.9 455.2 966.7 458.2 967.6 461.2 969.5 469.2 971.6 474.2 974.2 478.2 979.5 485.2 981.2 488.2 981.9 490.2 982.3 492.2 982.3 494.2 981.7 496.2 979.5 499.2 975.7 502.2 970.2 505.2 964.0 507.8 956.0 510.6 949.0 512.7 944.0 513.8 935.0 515.2 927.0 517.3M925.0 517.4 922.0 517.8 919.0 517.8 916.0 517.4 914.0 516.7 912.0 515.4 910.0 513.4 908.5 511.2 907.6 509.2 906.7 506.2 906.4 503.2 906.3 497.2 906.5 492.2 907.8 485.2 908.7 482.2 910.7 478.2 913.0 475.1 915.0 473.4 916.0 472.9 920.0 471.9 929.0 470.9 931.0 470.3 933.0 469.3 936.3 467.2 946.0 459.7 949.0 457.8 952.0 456.3 955.0 455.4 957.0 455.1 959.0 455.4 960.9 456.2 963.0 458.1 964.3 460.2 965.1 462.2 967.5 470.2 969.3 474.2 972.0 478.2 977.4 485.2 979.2 488.2 980.2 491.2 980.4 493.2 980.3 495.2 979.4 497.2 977.0 499.9 973.9 502.2 968.3 505.2 962.0 507.8 950.0 511.8 944.0 513.1 936.0 514.4 925.0 517.4M924.0 517.3 921.0 517.6 918.0 517.5 916.0 517.2 914.0 516.4 912.0 515.1 910.1 513.2 908.7 511.2 907.4 508.2 906.5 503.2 906.4 497.2 906.7 492.2 907.3 488.2 908.3 484.2 909.4 481.2 911.0 478.3 912.5 476.2 914.0 474.6 915.0 473.9 917.0 473.0 921.0 472.3 929.0 471.9 931.0 471.4 933.0 470.7 936.0 469.1 946.0 462.0 951.0 459.3 953.0 458.7 955.0 458.4 957.0 458.5 959.0 459.4 961.0 461.2 962.0 462.8 965.5 471.2 967.6 475.2 969.7 478.2 975.3 485.2 977.2 488.2 978.3 491.2 978.6 493.2 978.4 495.2 977.6 497.2 975.0 500.1 972.1 502.2 967.0 504.9 961.0 507.4 950.0 511.1 936.0 513.9 927.0 516.6 924.0 517.3M922.0 517.2 919.0 517.3 916.0 517.0 913.0 515.7 911.0 514.0 909.5 512.2 908.4 510.2 907.3 507.2 906.7 504.2 906.6 500.2 906.7 495.2 907.2 490.2 908.5 484.2 909.7 481.2 911.4 478.2 914.0 475.1 916.0 473.8 918.0 473.3 921.0 472.9 929.0 472.8 932.0 472.3 936.0 470.7 945.0 464.9 949.0 462.9 951.0 462.2 953.0 461.8 955.0 462.0 957.0 462.8 958.0 463.5 959.5 465.2 965.3 475.2 973.3 485.2 975.2 488.2 976.4 491.2 976.7 493.2 976.6 495.2 975.9 497.2 974.3 499.2 970.4 502.2 966.0 504.6 959.7 507.2 950.0 510.5 937.0 513.2 926.0 516.6 922.0 517.2M926.0 516.3 923.0 516.9 920.0 517.1 917.0 517.0 915.0 516.5 913.0 515.5 911.0 513.8 909.7 512.2 908.1 509.2 907.2 506.2 906.8 503.2 906.7 497.2 907.1 492.2 907.5 489.2 908.4 485.2 909.5 482.2 911.0 479.3 912.4 477.2 914.0 475.5 915.0 474.7 917.0 473.9 921.0 473.3 930.0 473.6 933.0 473.2 936.0 472.1 944.0 467.7 948.0 465.9 950.0 465.4 952.0 465.2 954.0 465.5 955.4 466.2 958.0 468.4 963.7 476.2 971.0 484.8 973.4 488.2 974.7 491.2 975.0 493.2 974.9 495.2 974.2 497.2 972.6 499.2 969.0 502.0 965.0 504.2 960.5 506.2 951.0 509.6 937.0 512.7 926.0 516.3M925.0 516.3 922.0 516.8 919.0 516.9 916.0 516.6 914.0 515.8 912.0 514.5 910.7 513.2 909.2 511.2 908.2 509.2 907.3 506.2 907.0 503.2 906.9 498.2 907.2 492.2 907.7 489.2 908.6 485.2 909.7 482.2 911.3 479.2 914.0 475.9 916.0 474.7 917.0 474.3 922.0 473.8 930.0 474.5 934.0 474.3 937.0 473.3 945.0 469.8 949.0 468.9 952.0 469.1 955.0 470.5 958.0 473.2 967.0 482.9 969.8 486.2 971.2 488.2 972.6 491.2 973.0 493.2 972.7 496.2 971.6 498.2 969.6 500.2 966.8 502.2 963.0 504.2 958.4 506.2 950.0 509.1 937.0 512.2 928.0 515.5 925.0 516.3M924.0 516.3 921.0 516.7 917.0 516.6 915.0 516.1 913.0 515.1 911.0 513.4 909.4 511.2 908.4 509.2 907.4 506.2 907.1 503.2 907.1 496.2 907.5 491.2 908.3 487.2 909.5 483.2 911.0 480.2 913.0 477.3 915.0 475.6 917.0 474.7 921.0 474.3 924.0 474.5 931.0 475.5 934.0 475.5 937.0 474.9 945.0 472.1 948.0 471.7 951.0 472.1 954.0 473.4 958.0 476.5 965.9 484.2 969.1 488.2 970.2 490.2 970.9 492.2 971.1 494.2 970.8 496.2 970.4 497.2 969.0 499.2 965.0 502.2 959.0 505.2 952.0 507.8 948.0 509.0 939.0 511.1 929.0 514.9 924.0 516.3M922.0 516.3 917.0 516.3 915.0 515.9 913.0 514.9 911.0 513.1 909.5 511.2 908.1 508.2 907.4 505.2 907.2 501.2 907.3 495.2 907.7 491.2 908.5 487.2 909.8 483.2 911.3 480.2 913.0 477.8 915.0 476.0 916.0 475.5 918.0 475.0 922.0 474.8 926.0 475.4 932.0 476.7 935.0 476.8 937.0 476.6 945.0 474.7 948.0 474.8 950.0 475.1 952.0 475.8 954.0 476.8 958.0 479.7 964.0 485.1 967.2 489.2 968.2 491.2 968.7 493.2 968.8 495.2 968.2 497.2 966.8 499.2 962.8 502.2 958.0 504.6 951.4 507.2 940.0 510.1 928.0 514.9 925.0 515.8 922.0 516.3M920.0 516.2 917.0 516.1 915.0 515.7 913.0 514.7 912.0 513.9 910.4 512.2 908.7 509.2 907.7 506.2 907.4 504.2 907.4 495.2 907.9 491.2 908.7 487.2 909.6 484.2 911.6 480.2 913.0 478.2 915.0 476.4 917.0 475.6 921.0 475.3 925.0 475.8 932.0 477.7 935.0 478.2 938.0 478.1 945.0 477.2 949.0 477.6 953.0 479.1 958.0 482.4 962.3 486.2 964.0 488.2 965.3 490.2 966.2 492.2 966.5 494.2 966.0 497.2 964.6 499.2 963.6 500.2 960.6 502.2 956.7 504.2 951.0 506.5 942.0 508.7 939.0 509.8 928.0 514.6 924.0 515.8 920.0 516.2M925.0 515.3 922.0 515.9 919.0 516.0 916.0 515.8 914.0 515.0 912.0 513.7 910.6 512.2 909.3 510.2 908.1 507.2 907.5 504.2 907.4 498.2 907.8 493.2 908.6 488.2 909.8 484.2 911.3 481.2 913.0 478.6 915.0 476.8 916.0 476.3 918.0 475.9 922.0 475.8 926.0 476.6 933.0 479.1 936.0 479.8 939.0 479.9 945.0 479.5 949.0 480.2 952.0 481.4 956.0 483.7 959.2 486.2 961.9 489.2 963.2 491.2 963.8 493.2 963.8 496.2 963.0 498.2 962.2 499.2 959.8 501.2 956.4 503.2 951.8 505.2 949.0 506.2 941.0 508.2 930.0 513.5 925.0 515.3M924.0 515.3 921.0 515.8 918.0 515.8 916.0 515.6 914.0 514.9 912.0 513.5 910.8 512.2 909.5 510.2 908.3 507.2 907.7 504.2 907.6 499.2 907.9 494.2 908.6 489.2 909.7 485.2 911.0 482.2 913.0 479.1 915.0 477.3 916.0 476.7 918.0 476.3 920.0 476.2 923.0 476.4 927.0 477.6 934.0 480.6 937.0 481.5 939.0 481.8 945.0 481.8 948.0 482.4 951.0 483.5 954.2 485.2 957.0 487.3 959.7 490.2 961.1 493.2 961.3 495.2 961.2 496.2 960.4 498.2 959.7 499.2 957.3 501.2 953.8 503.2 950.0 504.8 941.0 507.3 931.0 512.7 927.0 514.4 924.0 515.3M923.0 515.2 918.0 515.6 916.0 515.4 914.0 514.7 912.0 513.2 910.3 511.2 909.1 509.2 908.2 506.2 907.7 503.2 907.7 498.2 908.1 493.2 908.8 489.2 909.6 486.2 911.2 482.2 913.0 479.5 915.0 477.6 916.0 477.1 918.0 476.7 920.0 476.6 923.0 476.9 928.0 478.6 937.0 483.2 940.0 483.9 945.0 484.2 948.0 484.9 951.0 486.1 953.0 487.3 955.3 489.2 957.1 491.2 958.0 493.2 958.3 495.2 958.2 496.2 957.5 498.2 956.8 499.2 954.5 501.2 950.9 503.2 949.0 504.0 941.0 506.4 930.0 512.9 926.0 514.5 923.0 515.2M922.0 515.2 917.0 515.4 915.0 514.9 913.0 513.9 911.2 512.2 909.8 510.2 908.3 506.2 907.9 503.2 907.9 497.2 908.4 492.2 909.2 488.2 910.1 485.2 911.5 482.2 913.0 479.9 915.0 478.0 917.0 477.2 919.0 477.0 922.0 477.2 925.0 478.0 929.0 479.8 936.0 484.2 938.0 485.2 940.0 485.8 946.0 486.7 949.0 487.8 952.0 489.7 954.0 491.7 955.2 494.2 955.2 496.2 955.0 497.2 953.8 499.2 951.6 501.2 948.0 503.0 943.0 504.5 941.0 505.3 934.1 510.2 929.0 513.1 925.0 514.6 922.0 515.2M920.0 515.2 916.0 515.0 914.0 514.3 912.4 513.2 910.6 511.2 909.4 509.2 908.2 505.2 908.0 501.2 908.1 496.2 908.5 492.2 909.3 488.2 910.3 485.2 911.7 482.2 913.0 480.3 915.0 478.4 917.0 477.6 920.0 477.4 923.0 477.8 926.0 478.8 930.2 481.2 938.0 486.9 941.0 488.2 945.0 489.0 947.0 489.7 949.4 491.2 951.0 492.9 951.9 495.2 951.6 497.2 950.5 499.2 949.0 500.6 948.0 501.2 943.0 503.0 941.0 504.1 933.5 510.2 929.0 512.8 924.0 514.6 920.0 515.2M924.0 514.4 921.0 515.0 918.0 515.1 916.0 514.9 914.0 514.1 912.0 512.7 910.1 510.2 909.1 508.2 908.3 505.2 908.1 501.2 908.3 495.2 908.9 491.2 909.8 487.2 911.4 483.2 913.0 480.7 915.0 478.7 917.0 477.9 919.0 477.8 922.0 478.0 925.0 478.9 927.6 480.2 931.9 483.2 939.0 489.5 941.0 490.8 944.5 492.2 946.3 493.2 947.2 494.2 947.7 495.2 947.8 496.2 947.6 497.2 946.9 498.2 941.0 502.3 936.5 507.2 934.3 509.2 931.4 511.2 929.0 512.6 924.0 514.4M923.0 514.4 920.0 514.8 917.0 514.8 914.0 513.9 912.0 512.4 910.3 510.2 909.3 508.2 908.5 505.2 908.2 501.2 908.5 495.2 909.3 490.2 910.4 486.2 911.7 483.2 913.0 481.2 915.0 479.2 917.0 478.4 920.0 478.3 923.0 478.8 926.0 480.0 929.5 482.2 932.8 485.2 936.3 489.2 939.1 493.2 939.7 494.2 940.3 496.2 940.3 498.2 939.3 501.2 937.9 504.2 935.7 507.2 933.6 509.2 930.0 511.7 926.0 513.6 923.0 514.4M921.0 514.3 918.0 514.4 916.0 514.2 914.0 513.5 913.0 512.8 911.4 511.2 910.1 509.2 909.3 507.2 908.6 504.2 908.5 500.2 908.8 495.2 909.4 491.2 910.5 487.2 911.7 484.2 913.0 482.1 915.0 480.1 917.0 479.3 920.0 479.2 923.0 479.8 926.0 481.2 929.0 483.4 931.8 486.2 934.5 490.2 936.3 494.2 936.9 497.2 936.9 500.2 936.5 503.2 935.7 505.2 933.4 508.2 930.0 511.0 927.0 512.6 924.0 513.7 921.0 514.3M923.0 513.4 920.0 513.9 917.0 513.9 916.0 513.8 914.0 513.0 912.0 511.3 911.0 510.0 909.6 507.2 909.1 505.2 908.9 501.2 909.1 496.2 909.7 492.2 910.6 488.2 912.0 484.9 913.8 482.2 915.0 481.1 917.0 480.3 920.0 480.3 923.0 481.0 926.0 482.6 928.0 484.2 930.7 487.2 932.6 490.2 933.9 493.2 934.8 496.2 935.1 499.2 935.0 502.2 934.6 504.2 933.7 506.2 932.2 508.2 929.0 510.8 926.0 512.4 923.0 513.4M920.0 513.3 916.0 513.2 914.0 512.4 913.0 511.7 911.6 510.2 910.4 508.2 909.7 506.2 909.4 504.2 909.3 500.2 909.6 495.2 910.3 491.2 911.2 488.2 912.5 485.2 914.0 483.1 916.0 481.6 917.0 481.3 920.0 481.4 922.0 481.9 925.0 483.3 927.3 485.2 929.9 488.2 931.6 491.2 932.8 494.2 933.6 498.2 933.7 501.2 933.4 504.2 932.5 506.2 931.0 508.2 928.6 510.2 926.0 511.7 923.0 512.8 920.0 513.3M922.0 512.5 920.0 512.8 917.0 512.9 915.0 512.4 914.0 511.9 913.0 511.1 911.4 509.2 910.4 507.2 909.9 505.2 909.6 502.2 909.8 497.2 910.4 493.2 911.4 489.2 912.6 486.2 914.0 484.2 915.0 483.2 916.0 482.6 917.0 482.4 920.0 482.5 922.0 483.0 924.3 484.2 926.7 486.2 928.5 488.2 930.3 491.2 931.5 494.2 932.2 497.2 932.6 500.2 932.5 503.2 931.4 506.2 929.9 508.2 927.4 510.2 925.0 511.5 922.0 512.5M920.0 512.3 918.0 512.4 916.0 512.3 913.8 511.2 912.7 510.2 911.3 508.2 910.5 506.2 910.1 504.2 910.0 500.2 910.3 496.2 911.5 490.2 912.7 487.2 914.0 485.2 915.0 484.2 916.0 483.6 917.0 483.3 920.0 483.5 922.0 484.1 924.0 485.2 926.3 487.2 928.0 489.3 929.7 492.2 930.8 495.2 931.5 499.2 931.6 502.2 931.4 504.2 930.5 506.2 929.8 507.2 928.0 509.0 926.0 510.4 923.0 511.7 920.0 512.3M922.0 511.4 918.0 511.9 916.0 511.8 915.0 511.4 914.0 510.8 912.4 509.2 911.2 507.2 910.6 505.2 910.4 503.2 910.5 498.2 910.8 495.2 911.7 491.2 912.8 488.2 914.0 486.3 915.0 485.2 916.0 484.6 917.0 484.3 919.0 484.3 921.0 484.8 923.0 485.7 925.0 487.3 926.8 489.2 928.1 491.2 929.4 494.2 930.3 497.2 930.7 500.2 930.6 503.2 930.5 504.2 929.6 506.2 928.0 508.2 926.8 509.2 924.0 510.7 922.0 511.4M920.0 511.3 918.0 511.4 916.0 511.3 914.0 510.3 912.9 509.2 912.0 507.9 911.3 506.2 910.8 504.2 910.7 501.2 911.0 497.2 911.4 494.2 912.2 491.2 913.0 489.2 914.2 487.2 916.0 485.6 917.0 485.3 919.0 485.4 921.0 485.9 923.0 486.9 925.0 488.6 927.0 491.2 928.0 493.2 929.1 496.2 929.7 499.2 929.8 502.2 929.6 504.2 928.7 506.2 928.0 507.2 927.0 508.2 925.0 509.6 923.0 510.5 920.0 511.3M922.0 510.4 918.0 511.0 916.0 510.8 915.0 510.4 914.0 509.8 912.6 508.2 911.3 505.2 911.1 503.2 911.2 498.2 911.6 495.2 912.3 492.2 913.1 490.2 914.2 488.2 915.0 487.2 916.0 486.5 917.0 486.2 919.0 486.3 921.0 486.8 924.0 488.8 925.3 490.2 926.6 492.2 927.6 494.2 928.6 497.2 928.9 499.2 929.1 502.2 928.9 504.2 928.5 505.2 927.2 507.2 926.1 508.2 924.0 509.6 922.0 510.4M920.0 510.3 918.0 510.5 916.0 510.3 914.0 509.2 912.5 507.2 911.5 504.2 911.6 498.2 912.1 495.2 912.9 492.2 914.0 489.6 915.0 488.3 916.0 487.5 917.0 487.2 919.0 487.3 921.0 488.0 923.0 489.2 924.0 490.2 925.6 492.2 926.7 494.2 927.4 496.2 928.1 499.2 928.2 503.2 927.7 505.2 927.1 506.2 926.0 507.4 924.0 508.9 922.0 509.8 920.0 510.3M922.0 509.3 919.0 510.0 916.0 509.9 915.0 509.4 913.6 508.2 912.9 507.2 912.1 505.2 911.8 503.2 911.9 499.2 912.3 496.2 913.0 493.2 914.0 490.7 915.0 489.2 916.0 488.4 917.0 488.1 920.0 488.5 921.5 489.2 923.0 490.3 924.7 492.2 925.8 494.2 927.2 498.2 927.6 502.2 927.4 504.2 927.0 505.2 926.3 506.2 925.0 507.6 922.0 509.3M920.0 509.4 917.0 509.7 915.0 509.0 913.2 507.2 912.7 506.2 912.1 504.2 912.2 499.2 913.0 494.2 914.0 491.6 915.0 490.1 916.0 489.2 917.0 488.8 919.0 489.0 920.0 489.3 921.7 490.2 923.0 491.2 924.6 493.2 925.6 495.2 926.8 499.2 927.0 503.2 926.8 504.2 926.0 505.8 924.7 507.2 923.3 508.2 920.0 509.4M922.0 508.3 919.0 509.1 917.0 509.2 916.0 509.0 915.0 508.5 914.0 507.5 912.8 505.2 912.4 503.2 912.5 500.2 913.2 495.2 914.0 492.9 915.0 491.2 916.0 490.2 917.0 489.8 919.0 490.0 920.0 490.3 922.0 491.6 924.2 494.2 925.2 496.2 925.8 498.2 926.2 501.2 926.0 504.2 924.9 506.2 923.8 507.2 922.0 508.3M920.0 508.4 917.0 508.7 916.0 508.5 915.0 508.0 913.6 506.2 912.9 504.2 912.9 499.2 913.7 495.2 915.0 492.2 916.0 491.1 917.0 490.7 919.0 490.9 920.0 491.3 922.0 492.7 924.0 495.3 924.8 497.2 925.3 499.2 925.5 503.2 924.8 505.2 924.1 506.2 922.9 507.2 920.0 508.4M919.0 508.2 917.0 508.3 916.0 508.1 915.0 507.5 914.0 506.3 913.5 505.2 913.1 503.2 913.2 499.2 914.0 495.4 915.0 493.1 916.0 492.0 917.0 491.6 919.0 491.7 920.0 492.1 922.0 493.7 923.2 495.2 924.0 496.9 924.9 500.2 925.0 503.2 924.2 505.2 923.4 506.2 922.0 507.2 919.0 508.2M920.0 507.5 918.0 507.8 916.0 507.6 914.4 506.2 913.6 504.2 913.5 501.2 914.0 497.1 915.0 494.3 916.0 493.0 917.0 492.6 919.0 492.8 921.0 493.9 922.8 496.2 923.9 499.2 924.3 502.2 924.0 504.2 923.4 505.2 922.4 506.2 920.0 507.5M918.0 507.3 916.0 507.1 915.0 506.3 914.3 505.2 913.8 503.2 914.0 499.2 914.8 496.2 916.0 494.0 917.0 493.5 919.0 493.8 920.0 494.2 921.1 495.2 922.0 496.3 922.9 498.2 923.5 501.2 923.5 503.2 923.3 504.2 922.6 505.2 921.0 506.5 918.0 507.3M920.0 506.5 918.0 506.9 916.0 506.6 915.0 505.7 914.3 504.2 914.1 501.2 914.8 497.2 916.0 494.9 917.0 494.3 919.0 494.6 920.1 495.2 921.8 497.2 922.6 499.2 923.0 502.2 922.7 504.2 922.0 505.2 920.0 506.5M918.0 506.3 917.0 506.3 916.0 506.0 915.0 504.8 914.6 503.2 914.6 501.2 915.0 498.5 916.0 496.2 917.0 495.5 918.0 495.5 919.0 495.8 920.0 496.5 921.2 498.2 922.1 501.2 922.1 503.2 921.8 504.2 920.9 505.2 920.0 505.8 918.0 506.3M919.0 505.4 917.0 505.7 916.0 505.3 915.3 504.2 915.0 503.2 915.1 501.2 915.4 499.2 916.0 497.7 917.0 496.8 918.0 496.8 919.0 497.2 920.1 498.2 921.0 500.2 921.2 503.2 920.8 504.2 920.0 504.9 919.0 505.4M919.0 504.6 917.0 505.0 915.9 504.2 915.6 502.2 915.8 500.2 916.0 499.4 917.0 498.2 918.0 498.2 919.0 498.8 920.0 500.3 920.3 502.2 920.3 503.2 919.7 504.2 919.0 504.6" fill="none" stroke="#000" stroke-opacity="0.6" stroke-width="0.9" stroke-linejoin="round"/>
<rect x="868.00" y="350.20" width="204.60" height="204.40" fill="none" stroke="#777" stroke-width="1.5"/>
<path d="M862.0 540.6H868.0M862.0 506.6H868.0M862.0 474.1H868.0M862.0 418.1H868.0M862.0 368.1H868.0M865.0 533.8H868.0M865.0 527.0H868.0M865.0 520.2H868.0M865.0 513.4H868.0M865.0 496.8H868.0M865.0 491.1H868.0M865.0 487.0H868.0M865.0 483.9H868.0M865.0 481.3H868.0M865.0 479.1H868.0M865.0 477.2H868.0M865.0 475.6H868.0M865.0 457.2H868.0M865.0 447.4H868.0M865.0 440.4H868.0M865.0 435.0H868.0M865.0 430.5H868.0M865.0 426.8H868.0M865.0 423.5H868.0M865.0 420.7H868.0M865.0 403.0H868.0M865.0 394.2H868.0M865.0 388.0H868.0M865.0 383.2H868.0M865.0 379.2H868.0M865.0 375.8H868.0M865.0 372.9H868.0M865.0 370.4H868.0M862.0 510.6H868.0M862.0 509.1H868.0M862.0 507.6H868.0M862.0 505.6H868.0M862.0 504.1H868.0M862.0 502.6H868.0M865.0 353.0H868.0M880.0 554.6V560.6M914.0 554.6V560.6M948.0 554.6V560.6M1004.0 554.6V560.6M1054.0 554.6V560.6M886.8 554.6V557.6M893.6 554.6V557.6M900.4 554.6V557.6M907.2 554.6V557.6M924.2 554.6V557.6M930.2 554.6V557.6M934.5 554.6V557.6M937.8 554.6V557.6M940.5 554.6V557.6M942.7 554.6V557.6M944.7 554.6V557.6M946.4 554.6V557.6M964.9 554.6V557.6M974.7 554.6V557.6M981.7 554.6V557.6M987.1 554.6V557.6M991.6 554.6V557.6M995.3 554.6V557.6M998.6 554.6V557.6M1001.4 554.6V557.6M1019.1 554.6V557.6M1027.9 554.6V557.6M1034.1 554.6V557.6M1038.9 554.6V557.6M1042.9 554.6V557.6M1046.3 554.6V557.6M1049.2 554.6V557.6M1051.7 554.6V557.6M910.0 554.6V560.6M911.5 554.6V560.6M913.0 554.6V560.6M915.0 554.6V560.6M916.5 554.6V560.6M918.0 554.6V560.6M1069.1 554.6V557.6" stroke="#222" stroke-width="1.2" fill="none"/>
<ellipse cx="990.4" cy="406.15" rx="60.5" ry="37.5" transform="rotate(-57 990.4 406.15)" fill="none" stroke="#222" stroke-width="1.6"/>
<line x1="1033" y1="395.59999999999997" x2="1114" y2="395.59999999999997" stroke="#000" stroke-width="5.2"/><path d="M1112.6 377.59999999999997L1134.6 395.59999999999997L1112.6 413.59999999999997z" fill="#000"/>
<path d="M911.1 831.3 911.4 819.9 912.8 799.9 912.7 795.9 912.2 793.9 911.1 791.9 900.3 777.9 899.0 775.9 898.0 773.9 897.1 769.9 896.9 764.9 897.4 759.9 898.6 754.9 900.2 750.9 902.3 746.9 904.9 742.9 907.8 738.9 913.0 733.0 922.2 724.9 925.4 720.9 927.9 715.9 930.7 707.9 932.4 703.9 934.0 700.9 936.0 697.8 938.5 694.9 941.0 692.7 944.0 690.6 950.4 686.9 952.0 685.6 953.4 683.9 954.7 680.9 955.5 677.9 957.4 663.9 958.6 657.9 960.2 652.9 962.3 648.9 965.0 645.7 968.0 643.8 971.0 643.0 973.0 642.9 975.0 643.3 978.0 644.3 982.0 646.8 986.0 650.4 989.7 654.9 993.1 659.9 996.4 665.9 998.7 670.9 1001.4 677.9 1003.7 685.9 1005.8 695.9 1006.9 705.9 1007.3 722.9 1007.7 727.9 1008.6 732.9 1011.8 744.9 1012.3 747.9 1012.2 750.9 1011.7 752.9 1010.2 755.9 1008.1 758.9 1005.2 761.9 1001.7 764.9 998.0 767.5 990.0 772.2 981.0 776.5 971.0 780.2 961.0 783.2 946.1 786.9 940.0 788.8 935.6 790.9 933.0 792.9 931.7 794.9 931.2 796.9 931.2 798.9 932.5 817.9 932.9 831.3M913.4 831.3 914.0 817.9 914.6 809.9 915.9 798.9 915.8 795.9 915.5 794.9 914.3 792.9 909.9 787.9 906.3 782.9 903.6 777.9 901.6 772.9 900.8 767.9 900.7 763.9 901.4 758.9 902.4 754.9 904.4 749.9 906.5 745.9 909.7 740.9 912.0 737.9 916.0 734.1 922.1 729.9 925.9 726.9 927.9 724.9 929.5 722.9 932.0 718.4 936.7 706.9 938.3 703.9 940.0 701.5 942.0 699.3 944.0 697.5 947.0 695.5 953.0 692.2 954.6 690.9 956.0 689.2 957.1 686.9 958.0 683.4 959.5 668.9 960.5 662.9 961.6 658.9 963.0 655.3 964.4 652.9 966.0 650.9 967.1 649.9 969.0 648.6 972.0 647.7 974.0 647.7 976.0 648.1 979.0 649.3 983.0 652.0 986.9 655.9 990.0 659.9 992.6 663.9 995.7 669.9 998.6 676.9 1000.6 682.9 1002.8 691.9 1004.2 701.9 1004.5 710.9 1003.8 724.9 1003.8 729.9 1004.4 734.9 1006.9 746.9 1007.2 749.9 1006.9 751.9 1006.3 753.9 1004.7 756.9 1002.4 759.9 1000.4 761.9 997.0 764.7 993.9 766.9 986.0 771.6 978.0 775.3 970.0 778.3 960.0 781.4 946.4 784.9 940.5 786.9 934.0 789.9 930.9 791.9 929.8 792.9 928.5 794.9 928.0 797.9 929.9 815.9 930.6 831.3M915.3 831.3 915.5 823.9 916.3 814.9 917.0 808.9 919.1 798.9 919.3 796.9 918.5 794.9 917.6 793.9 912.0 789.0 908.6 784.9 906.3 780.9 904.3 775.9 903.2 770.9 902.9 764.9 903.6 758.9 905.2 752.9 908.4 745.9 910.8 741.9 913.2 738.9 915.0 737.1 917.0 735.5 923.3 731.9 927.7 728.9 930.0 726.9 932.0 724.6 934.9 719.9 939.7 708.9 941.6 705.9 943.1 703.9 945.0 702.0 947.0 700.4 955.0 696.1 957.4 693.9 958.9 690.9 959.7 687.9 961.6 667.9 962.6 662.9 964.0 658.9 966.0 655.3 967.1 653.9 969.0 652.3 972.0 651.0 974.0 650.9 976.0 651.1 979.0 652.2 983.0 654.9 986.0 657.9 989.2 661.9 992.3 666.9 995.3 672.9 997.7 678.9 999.6 684.9 1001.6 693.9 1002.6 702.9 1002.8 707.9 1002.6 712.9 1001.0 726.9 1000.8 730.9 1001.2 735.9 1003.5 747.9 1003.7 750.9 1003.3 752.9 1002.6 754.9 1001.5 756.9 999.1 759.9 997.1 761.9 992.0 766.0 985.0 770.3 977.0 774.1 969.0 777.2 962.0 779.4 948.8 782.9 942.7 784.9 938.0 786.9 931.8 789.9 928.5 791.9 926.1 793.9 924.9 795.9 924.7 797.9 926.6 806.9 927.6 813.9 928.4 822.9 928.7 831.3M924.0 793.0 922.0 793.5 920.0 793.2 918.0 792.5 915.0 790.7 912.0 788.2 910.0 785.9 908.5 783.9 906.5 779.9 905.4 776.9 904.5 772.9 904.2 765.9 904.4 761.9 905.1 757.9 907.2 750.9 908.5 747.9 910.7 743.9 912.8 740.9 915.0 738.6 918.0 736.4 924.9 732.9 928.2 730.9 931.0 728.8 933.9 725.9 935.4 723.9 937.3 720.9 941.0 712.9 942.6 709.9 945.7 705.9 949.4 702.9 957.0 699.0 959.0 697.1 960.2 694.9 961.0 691.9 961.5 687.9 962.6 670.9 963.5 665.9 965.1 660.9 966.7 657.9 968.0 656.2 969.5 654.9 971.0 654.0 974.0 653.3 976.0 653.4 978.0 654.0 981.0 655.6 984.0 658.0 987.0 661.3 990.3 665.9 993.6 671.9 995.8 676.9 997.5 681.9 999.5 688.9 1000.4 693.9 1001.1 698.9 1001.5 707.9 1000.8 715.9 998.7 727.9 998.3 732.9 998.7 736.9 1000.4 744.9 1000.9 748.9 1001.0 751.9 1000.5 753.9 999.6 755.9 998.3 757.9 994.7 761.9 989.0 766.4 982.0 770.5 976.0 773.3 968.0 776.4 961.0 778.7 948.9 781.9 943.0 783.9 924.0 793.0M916.9 831.3 917.4 822.9 918.5 813.9 920.0 808.3 921.0 806.5 922.0 805.9 923.0 806.5 924.0 808.3 925.5 813.9 926.6 822.9 927.1 831.3M922.0 792.0 918.0 791.5 916.0 790.6 913.0 788.5 911.0 786.5 909.1 783.9 907.4 780.9 906.3 777.9 905.5 774.9 905.2 771.9 905.1 763.9 905.6 759.9 906.5 755.9 908.5 749.9 911.6 743.9 914.0 740.9 916.0 739.0 918.0 737.7 926.1 733.9 929.6 731.9 932.4 729.9 935.6 726.9 937.3 724.9 939.3 721.9 944.6 711.9 946.1 709.9 947.9 707.9 951.0 705.6 958.0 702.4 959.9 700.9 960.7 699.9 962.0 696.9 962.5 693.9 963.6 672.9 964.6 666.9 965.9 662.9 968.0 659.1 969.0 657.9 971.0 656.3 973.0 655.6 975.0 655.4 977.0 655.7 979.0 656.4 982.0 658.3 985.0 661.0 988.2 664.9 991.3 669.9 993.8 674.9 995.8 679.9 997.7 685.9 999.1 691.9 1000.2 700.9 1000.4 705.9 1000.2 709.9 999.2 716.9 996.2 728.9 995.7 732.9 996.1 736.9 998.0 744.9 998.6 748.9 998.7 751.9 998.0 754.9 996.9 756.9 995.5 758.9 991.6 762.9 985.0 767.6 978.0 771.4 971.0 774.4 965.0 776.5 946.0 782.0 941.3 783.9 927.0 790.7 924.0 791.7 922.0 792.0M918.9 831.3 919.2 826.9 920.0 821.2 921.0 818.1 922.0 817.1 923.0 818.1 924.0 821.2 924.8 826.9 925.1 831.3M923.0 791.0 921.0 791.2 918.0 790.7 916.0 790.0 914.0 788.7 911.9 786.9 909.5 783.9 908.3 781.9 907.1 778.9 906.3 775.9 905.7 771.9 905.8 764.9 906.7 757.9 907.8 753.9 909.2 749.9 910.6 746.9 912.5 743.9 914.0 742.0 916.0 740.1 919.0 738.3 924.9 735.9 930.0 733.4 933.7 730.9 937.3 727.9 940.6 723.9 946.7 713.9 948.0 712.3 950.0 710.3 953.0 708.4 960.0 705.6 962.0 703.9 963.1 701.9 964.0 697.9 964.4 675.9 965.2 669.9 966.6 664.9 967.5 662.9 969.0 660.6 970.0 659.5 972.0 658.1 973.0 657.7 975.0 657.4 977.0 657.6 979.0 658.3 982.0 660.1 985.0 662.9 988.0 666.6 990.7 670.9 993.2 675.9 995.5 681.9 997.2 687.9 998.3 692.9 999.0 697.9 999.3 702.9 999.2 707.9 998.8 711.9 997.2 718.9 993.6 728.9 992.9 732.9 993.4 736.9 995.6 744.9 996.4 748.9 996.6 751.9 995.9 754.9 994.9 756.9 993.6 758.9 989.6 762.9 984.1 766.9 978.0 770.3 973.0 772.6 966.0 775.3 959.0 777.5 950.0 779.9 945.0 781.6 929.0 789.2 926.0 790.3 923.0 791.0M925.0 789.9 923.0 790.4 920.0 790.5 918.0 790.2 916.0 789.5 914.0 788.2 911.4 785.9 909.3 782.9 908.3 780.9 907.2 777.9 906.5 774.9 906.2 770.9 906.2 766.9 906.5 762.9 907.3 757.9 908.4 753.9 909.4 750.9 910.8 747.9 912.6 744.9 914.0 743.1 916.0 741.1 919.0 739.4 925.6 736.9 930.0 734.9 935.0 731.9 937.7 729.9 940.8 726.9 943.3 723.9 948.0 717.1 951.0 713.9 954.0 711.9 956.0 711.1 962.0 709.5 963.0 709.0 964.0 708.1 965.0 706.2 965.6 702.9 965.7 698.9 965.3 684.9 965.4 678.9 965.9 672.9 967.0 667.9 968.0 665.3 969.0 663.5 970.2 661.9 972.0 660.4 973.0 659.9 975.0 659.4 977.0 659.5 979.0 660.1 982.0 661.9 985.0 664.7 988.0 668.5 990.6 672.9 993.0 677.9 994.9 682.9 996.5 688.9 997.5 693.9 998.1 698.9 998.3 703.9 998.0 708.9 997.3 712.9 995.6 718.9 994.0 722.3 990.2 728.9 989.5 731.9 989.7 733.9 990.2 735.9 993.0 744.0 994.2 748.9 994.4 752.9 993.6 755.9 991.7 758.9 987.8 762.9 982.2 766.9 976.0 770.3 971.0 772.5 964.0 775.1 949.0 779.5 945.0 780.9 932.0 787.4 927.0 789.4 925.0 789.9M922.0 789.9 919.0 789.9 917.0 789.5 915.0 788.5 913.0 787.0 911.0 784.9 909.6 782.9 908.6 780.9 907.5 777.9 906.6 771.9 906.6 767.9 906.9 763.9 907.4 759.9 908.3 755.9 910.4 749.9 913.0 745.2 916.0 741.9 919.0 740.2 925.6 737.9 930.5 735.9 934.2 733.9 937.3 731.9 942.2 727.9 950.0 718.9 953.0 716.3 955.0 715.2 957.0 714.5 959.0 714.2 964.0 713.9 965.0 713.7 966.4 712.9 967.0 712.1 967.4 710.9 967.7 707.9 966.2 683.9 966.4 676.9 967.3 670.9 968.2 667.9 969.1 665.9 970.4 663.9 972.0 662.4 973.0 661.7 975.0 661.1 977.0 661.1 979.0 661.7 982.0 663.5 985.0 666.3 987.8 669.9 990.2 673.9 992.5 678.9 994.4 683.9 995.7 688.9 996.8 694.9 997.3 700.9 997.3 705.9 996.6 710.9 995.6 714.9 994.4 717.9 993.0 720.6 991.0 723.3 986.5 727.9 985.7 729.9 985.8 731.9 986.4 733.9 990.5 742.9 992.2 747.9 992.7 750.9 992.7 752.9 991.9 755.9 990.1 758.9 988.4 760.9 986.2 762.9 981.0 766.7 975.0 770.0 970.0 772.2 964.0 774.5 946.0 779.9 943.0 781.2 935.0 785.5 931.0 787.4 926.0 789.2 922.0 789.9M925.0 789.2 922.0 789.6 919.0 789.6 917.0 789.1 915.0 788.2 913.0 786.7 911.2 784.9 909.9 782.9 908.4 779.9 907.5 776.9 907.0 773.9 906.8 769.9 907.1 764.9 907.5 760.9 908.3 756.9 910.3 750.9 913.0 745.9 914.6 743.9 916.0 742.5 919.0 740.8 930.3 736.9 934.3 734.9 937.7 732.9 943.0 728.9 951.0 720.9 954.0 718.7 957.0 717.5 960.0 717.2 963.0 717.6 969.0 719.0 970.0 719.1 971.0 718.9 971.4 717.9 971.4 716.9 968.7 702.9 967.3 690.9 966.9 681.9 967.4 674.9 967.9 671.9 968.8 668.9 970.0 666.4 971.1 664.9 973.0 663.2 975.0 662.4 977.0 662.4 979.0 662.9 982.0 664.7 985.0 667.5 987.6 670.9 990.0 674.9 991.9 678.9 993.7 683.9 995.3 689.9 996.2 694.9 996.7 700.9 996.4 706.9 995.5 711.9 993.7 716.9 992.0 719.6 989.0 722.6 986.0 724.2 981.0 725.8 980.2 726.9 980.4 727.9 981.3 729.9 987.4 739.9 990.0 745.6 990.9 748.9 991.4 751.9 991.3 753.9 990.7 755.9 989.0 758.9 987.2 760.9 985.1 762.9 980.0 766.5 975.0 769.3 970.0 771.6 965.0 773.6 946.0 779.4 943.0 780.7 932.0 786.7 928.0 788.3 925.0 789.2M986.0 722.1 983.0 722.3 980.0 721.5 978.0 720.3 975.5 717.9 973.6 714.9 972.0 711.4 970.6 706.9 969.4 701.9 968.3 694.9 967.6 686.9 967.5 680.9 968.0 674.9 969.0 670.6 970.7 666.9 972.0 665.3 973.0 664.4 975.0 663.5 976.0 663.4 978.0 663.6 981.0 664.9 984.0 667.4 987.0 671.0 989.9 675.9 992.1 680.9 993.8 685.9 995.2 691.9 996.0 697.9 996.1 702.9 995.7 707.9 994.8 711.9 993.0 716.3 991.0 719.1 989.0 720.8 986.0 722.1M924.0 789.1 921.0 789.4 918.0 789.2 916.0 788.5 914.0 787.3 912.0 785.5 910.0 782.9 908.5 779.9 907.6 776.9 907.1 772.9 907.1 767.9 907.5 762.9 908.3 757.9 909.4 753.9 910.6 750.9 912.1 747.9 914.0 745.0 916.0 743.0 918.0 741.7 929.5 737.9 934.0 735.9 937.5 733.9 943.4 729.9 952.0 722.4 954.0 721.0 956.0 720.2 958.0 719.7 960.0 719.7 964.0 720.5 969.0 722.9 974.0 726.4 979.0 731.1 983.0 735.8 986.0 740.1 988.5 744.9 989.8 748.9 990.4 752.9 989.8 755.9 988.0 758.9 985.3 761.9 981.6 764.9 977.0 767.7 972.0 770.3 967.0 772.4 962.0 774.2 946.0 779.0 942.0 780.9 936.0 784.4 932.0 786.4 927.0 788.4 924.0 789.1M986.0 720.0 984.0 720.0 981.0 719.2 978.0 717.1 976.0 714.9 974.0 711.8 972.2 707.9 970.7 702.9 969.6 697.9 968.6 690.9 968.2 684.9 968.2 679.9 968.8 674.9 969.8 670.9 971.3 667.9 973.1 665.9 974.0 665.3 976.0 664.7 978.0 664.8 981.0 666.1 984.0 668.6 987.0 672.3 989.2 675.9 991.5 680.9 993.2 685.9 994.6 691.9 995.3 696.9 995.5 701.9 995.1 706.9 994.2 710.9 993.0 713.9 991.0 717.0 989.0 718.8 988.0 719.4 986.0 720.0M923.0 789.0 920.0 789.1 917.0 788.7 915.0 787.7 913.0 786.3 911.0 784.0 909.7 781.9 908.4 778.9 907.6 775.9 907.3 771.9 907.4 766.9 907.7 762.9 908.6 757.9 909.7 753.9 911.3 749.9 913.8 745.9 916.0 743.5 919.0 741.8 928.9 738.9 935.0 736.3 942.6 731.9 953.0 724.2 955.0 723.2 958.0 722.5 960.0 722.4 963.0 723.1 968.0 725.5 975.0 730.5 981.0 736.1 984.0 739.8 986.5 743.9 988.2 747.9 989.0 751.9 989.1 753.9 988.1 756.9 986.9 758.9 984.2 761.9 981.8 763.9 978.0 766.5 974.0 768.7 970.0 770.6 962.0 773.7 946.0 778.6 943.0 779.9 935.0 784.6 931.0 786.6 926.0 788.4 923.0 789.0M986.0 718.1 984.0 718.1 981.0 717.0 979.0 715.6 976.5 712.9 974.5 709.9 972.7 705.9 971.4 701.9 970.2 696.9 969.4 691.9 968.9 685.9 968.9 680.9 969.4 675.9 970.4 671.9 971.9 668.9 974.0 666.8 976.0 666.0 978.0 666.0 981.0 667.3 984.0 669.8 986.0 672.2 988.4 675.9 990.8 680.9 992.6 685.9 993.8 690.9 994.6 695.9 994.8 700.9 994.6 704.9 993.8 708.9 992.8 711.9 991.0 715.0 989.0 716.9 988.0 717.5 986.0 718.1M926.0 788.1 923.0 788.7 919.0 788.8 917.0 788.4 915.0 787.5 913.0 786.0 911.1 783.9 909.4 780.9 908.3 777.9 907.7 774.9 907.5 769.9 907.8 764.9 908.7 758.9 909.7 754.9 911.7 749.9 913.4 746.9 916.0 744.0 917.0 743.3 919.0 742.3 928.0 739.9 933.6 737.9 941.3 733.9 953.0 726.5 956.0 725.3 958.0 724.9 960.0 724.9 962.0 725.3 965.0 726.3 967.0 727.3 970.0 729.2 974.0 732.0 978.0 735.4 980.5 737.9 983.7 741.9 985.5 744.9 986.8 747.9 987.8 751.9 987.7 754.9 987.0 756.9 985.8 758.9 983.1 761.9 980.7 763.9 977.8 765.9 971.0 769.6 962.0 773.2 949.4 776.9 946.0 778.1 943.0 779.5 933.0 785.4 929.0 787.2 926.0 788.1M986.0 716.1 984.0 716.1 981.0 714.9 979.0 713.3 977.0 711.1 975.0 708.0 973.6 704.9 972.2 700.9 970.9 695.9 970.1 690.9 969.7 685.9 969.7 680.9 970.1 676.9 971.0 673.4 972.1 670.9 974.0 668.6 976.0 667.6 978.0 667.5 981.0 668.6 983.7 670.9 986.0 673.6 988.1 676.9 990.4 681.9 991.8 685.9 993.1 690.9 993.8 695.9 994.0 699.9 993.8 703.9 993.0 708.2 992.0 710.9 990.0 713.9 988.0 715.5 986.0 716.1M925.0 788.1 922.0 788.5 919.0 788.5 917.0 788.1 915.0 787.2 913.0 785.7 910.7 782.9 909.2 779.9 908.2 776.9 907.8 772.9 907.8 767.9 908.4 761.9 909.4 756.9 910.7 752.9 912.6 748.9 914.0 746.7 916.0 744.6 918.0 743.3 919.0 742.9 929.0 740.4 933.4 738.9 941.8 734.9 952.0 729.2 955.0 727.9 958.0 727.4 960.0 727.4 963.0 728.0 968.0 730.2 971.0 732.1 975.0 735.0 978.0 737.6 981.0 740.8 983.2 743.9 984.9 746.9 986.2 750.9 986.5 753.9 986.1 755.9 985.2 757.9 983.8 759.9 980.7 762.9 976.0 766.2 970.0 769.4 962.0 772.6 946.0 777.6 943.0 779.1 933.0 785.1 928.0 787.2 925.0 788.1M987.0 714.0 985.0 714.3 984.0 714.2 982.0 713.5 980.0 712.2 978.0 710.1 976.4 707.9 974.8 704.9 973.2 700.9 972.0 696.9 971.2 692.9 970.6 687.9 970.4 682.9 970.7 678.9 971.6 674.9 972.9 671.9 974.0 670.5 976.0 669.2 978.0 668.9 980.0 669.5 983.0 671.5 985.0 673.7 987.0 676.6 989.0 680.4 990.8 684.9 991.9 688.9 992.7 692.9 993.2 696.9 993.2 700.9 992.8 704.9 992.0 707.9 990.6 710.9 989.0 712.8 987.0 714.0M924.0 788.0 921.0 788.3 918.0 788.2 916.0 787.5 914.0 786.3 912.0 784.4 910.3 781.9 909.3 779.9 908.4 776.9 908.0 771.9 908.1 766.9 908.5 762.9 909.4 757.9 910.6 753.9 912.4 749.9 914.0 747.3 916.0 745.1 917.0 744.4 919.0 743.4 929.0 741.1 933.1 739.9 940.1 736.9 952.0 731.0 955.0 729.9 958.0 729.5 960.0 729.5 963.0 730.1 968.0 732.2 972.0 734.7 975.0 737.0 978.0 739.7 980.0 741.9 982.2 744.9 983.8 747.9 984.7 750.9 985.2 753.9 984.9 755.9 984.0 757.9 982.6 759.9 979.5 762.9 975.0 766.1 969.0 769.2 961.0 772.4 949.3 775.9 946.0 777.1 943.0 778.6 936.0 783.1 932.0 785.3 927.0 787.3 924.0 788.0M987.0 712.2 985.0 712.5 983.0 712.1 981.0 711.1 979.0 709.3 977.0 706.7 975.4 703.9 973.8 699.9 972.7 695.9 971.7 690.9 971.3 686.9 971.2 682.9 971.6 678.9 972.3 675.9 973.7 672.9 975.0 671.4 977.0 670.5 979.0 670.5 981.0 671.4 983.0 672.9 985.0 675.1 987.0 678.1 988.4 680.9 990.1 684.9 991.2 688.9 992.0 692.9 992.4 696.9 992.4 700.9 992.0 703.9 991.2 706.9 990.0 709.5 988.8 710.9 987.0 712.2M922.0 788.0 919.0 788.0 917.0 787.7 915.0 786.7 913.0 785.2 910.5 781.9 909.2 778.9 908.4 775.9 908.1 771.9 908.3 766.9 908.7 762.9 909.7 757.9 910.5 754.9 912.2 750.9 914.0 747.8 916.0 745.6 918.0 744.3 920.0 743.6 928.8 741.9 933.0 740.8 937.8 738.9 952.0 732.6 955.0 731.7 958.0 731.3 961.0 731.4 963.0 731.9 966.0 733.0 969.0 734.5 972.0 736.4 975.0 738.7 978.0 741.6 979.9 743.9 981.3 745.9 982.7 748.9 983.6 751.9 983.8 754.9 983.3 756.9 982.2 758.9 979.5 761.9 977.1 763.9 972.0 767.1 965.0 770.4 959.0 772.5 948.0 775.8 945.0 777.1 942.0 778.7 935.0 783.4 931.0 785.5 926.0 787.3 922.0 788.0M987.0 710.2 985.0 710.7 983.0 710.4 981.0 709.3 979.0 707.4 977.2 704.9 976.0 702.7 974.8 699.9 973.5 695.9 972.7 691.9 972.2 687.9 972.0 683.9 972.4 679.9 973.0 677.1 974.0 674.8 975.0 673.4 976.0 672.6 977.0 672.1 978.0 672.0 980.0 672.3 982.0 673.5 984.0 675.4 986.0 678.1 987.6 680.9 989.0 684.2 990.2 687.9 991.0 691.3 991.5 694.9 991.6 698.9 991.4 701.9 991.0 704.1 990.0 706.9 988.7 708.9 987.0 710.2M926.0 787.1 923.0 787.7 919.0 787.8 917.0 787.5 915.0 786.5 913.0 784.9 911.3 782.9 909.7 779.9 908.8 776.9 908.4 773.9 908.4 768.9 908.8 763.9 909.6 758.9 910.8 754.9 912.5 750.9 914.0 748.3 916.0 746.1 917.0 745.3 919.0 744.4 933.0 741.6 937.7 739.9 951.0 734.4 955.0 733.2 958.0 732.9 961.0 733.1 963.0 733.6 968.0 735.6 971.0 737.4 974.0 739.6 978.0 743.6 979.7 745.9 981.3 748.9 982.2 751.9 982.6 754.9 982.1 756.9 981.0 758.9 979.4 760.9 977.2 762.9 972.0 766.4 966.0 769.4 960.0 771.7 949.0 775.0 945.0 776.6 942.0 778.3 936.0 782.5 933.0 784.3 929.0 786.1 926.0 787.1M987.0 708.1 986.0 708.6 984.0 708.7 982.0 708.0 980.0 706.4 978.0 703.9 976.8 701.9 975.5 698.9 974.2 694.9 973.1 687.9 973.0 683.9 973.3 680.9 974.0 677.9 975.0 675.8 976.0 674.7 977.0 674.0 978.0 673.7 979.0 673.7 981.0 674.4 983.0 676.0 984.7 677.9 986.0 679.9 987.6 682.9 989.6 688.9 990.6 694.9 990.8 697.9 990.5 700.9 990.0 703.4 989.0 705.9 988.0 707.3 987.0 708.1M925.0 787.1 922.0 787.5 919.0 787.6 917.0 787.2 915.0 786.3 913.0 784.7 911.5 782.9 910.3 780.9 909.2 777.9 908.6 774.9 908.5 769.9 908.8 765.9 909.7 759.9 910.7 755.9 912.3 751.9 914.0 748.9 916.0 746.6 918.0 745.3 920.0 744.6 930.0 743.1 934.0 742.1 950.0 736.1 954.0 735.0 957.0 734.6 960.0 734.6 962.0 735.0 964.0 735.5 967.0 736.8 972.1 739.9 975.0 742.4 977.0 744.5 978.7 746.9 980.2 749.9 981.0 752.9 981.2 754.9 980.8 756.9 979.8 758.9 978.2 760.9 976.0 762.9 971.0 766.2 965.0 769.2 959.0 771.4 948.0 774.8 945.0 776.1 942.0 777.8 936.5 781.9 933.0 784.0 930.0 785.5 925.0 787.1M985.0 706.9 984.0 706.9 982.0 706.2 980.4 704.9 979.0 703.3 976.5 698.9 974.7 692.9 973.9 686.9 973.9 683.9 974.3 680.9 975.0 678.6 976.0 676.9 977.0 676.0 978.0 675.5 979.0 675.4 981.0 676.0 982.3 676.9 984.0 678.7 985.5 680.9 987.0 683.7 988.2 686.9 989.1 689.9 989.9 695.9 989.8 698.9 989.3 701.9 987.9 704.9 987.0 706.0 986.0 706.6 985.0 706.9M924.0 787.1 919.0 787.4 917.0 787.0 915.0 786.1 913.0 784.4 911.7 782.9 910.1 779.9 909.1 776.9 908.7 773.9 908.7 768.9 909.3 762.9 910.1 758.9 911.3 754.9 912.5 751.9 914.0 749.4 916.0 747.0 917.0 746.2 919.0 745.3 923.0 744.5 930.0 743.7 933.9 742.9 950.0 737.2 954.0 736.3 957.0 735.9 960.0 736.0 962.0 736.4 967.0 738.2 972.0 741.4 974.0 743.1 976.0 745.3 977.8 747.9 978.8 749.9 979.5 751.9 980.0 754.9 979.6 756.9 978.6 758.9 977.0 760.9 974.8 762.9 970.4 765.9 964.3 768.9 958.0 771.3 948.0 774.3 945.0 775.6 942.0 777.4 937.0 781.2 933.0 783.8 929.0 785.7 924.0 787.1M986.0 704.3 985.0 704.7 984.0 704.8 983.0 704.6 981.0 703.4 979.6 701.9 978.0 699.4 976.2 694.9 975.0 688.9 975.0 683.9 975.3 681.9 976.0 679.9 977.0 678.4 978.0 677.6 979.0 677.4 980.0 677.5 981.0 677.8 983.0 679.4 985.5 682.9 987.6 687.9 988.7 692.9 988.8 697.9 988.5 699.9 987.8 701.9 987.0 703.3 986.0 704.3M923.0 787.0 920.0 787.2 918.0 787.1 916.0 786.4 914.0 785.1 912.7 783.9 911.3 781.9 910.2 779.9 909.3 776.9 908.9 773.9 908.9 768.9 909.3 763.9 910.3 758.9 911.5 754.9 912.8 751.9 914.0 749.9 916.0 747.5 917.0 746.7 919.0 745.8 923.0 745.0 933.0 743.9 936.7 742.9 950.0 738.4 954.0 737.5 957.0 737.3 960.0 737.4 962.0 737.8 964.0 738.4 967.0 739.7 971.0 742.2 973.0 743.9 975.0 746.1 976.9 748.9 977.8 750.9 978.5 753.9 978.6 755.9 978.4 756.9 977.4 758.9 975.8 760.9 973.6 762.9 969.1 765.9 964.0 768.4 958.0 770.7 948.0 773.8 945.0 775.1 942.0 776.9 936.0 781.6 933.0 783.5 928.0 785.8 923.0 787.0M985.0 702.5 984.0 702.8 983.0 702.6 981.0 701.4 979.0 698.8 978.0 696.9 976.9 693.9 976.0 688.9 976.0 684.8 976.4 682.9 977.0 681.2 978.0 679.9 979.0 679.4 980.0 679.3 981.0 679.6 983.0 681.2 985.0 684.0 986.0 686.2 987.0 689.1 987.8 693.9 987.6 697.9 986.6 700.9 986.0 701.8 985.0 702.5M922.0 786.9 919.0 787.0 917.0 786.6 915.0 785.7 914.0 784.9 912.1 782.9 910.9 780.9 909.7 777.9 909.2 775.9 909.0 771.9 909.2 766.9 909.7 762.9 910.5 758.9 911.7 754.9 913.1 751.9 915.0 748.9 917.0 747.1 919.0 746.2 922.0 745.6 930.3 744.9 934.0 744.3 950.0 739.4 954.0 738.7 957.0 738.4 960.0 738.7 962.0 739.0 966.0 740.5 968.5 741.9 971.0 743.7 974.2 746.9 975.5 748.9 976.5 750.9 977.3 753.9 977.5 755.9 977.3 756.9 976.3 758.9 974.8 760.9 972.6 762.9 968.0 765.9 963.0 768.3 957.0 770.6 948.0 773.4 945.0 774.6 942.0 776.5 935.2 781.9 931.0 784.4 926.0 786.2 922.0 786.9M984.0 700.1 983.0 700.1 982.0 699.7 980.2 697.9 979.0 695.8 977.7 691.9 977.2 687.9 977.5 684.9 978.4 682.9 979.0 682.2 980.0 681.8 981.0 682.0 982.0 682.6 983.2 683.9 985.0 686.9 986.0 690.0 986.5 693.9 986.3 696.9 985.5 698.9 985.0 699.5 984.0 700.1M926.0 786.0 923.0 786.6 919.0 786.8 917.0 786.4 915.0 785.5 913.0 783.7 911.6 781.9 910.5 779.9 909.6 776.9 909.2 773.9 909.2 768.9 909.5 764.9 910.4 759.9 911.6 755.9 912.8 752.9 914.6 749.9 916.0 748.3 918.0 746.9 920.0 746.3 924.0 745.8 931.0 745.5 934.0 745.1 938.0 744.1 950.0 740.5 956.0 739.7 961.0 740.1 965.0 741.4 969.0 743.7 972.5 746.9 974.0 748.9 975.1 750.9 976.0 753.9 976.2 755.9 976.0 756.9 975.2 758.9 972.6 761.9 968.5 764.9 963.0 767.7 958.0 769.7 948.0 772.8 945.0 774.1 942.0 776.0 937.5 779.9 934.0 782.4 930.0 784.6 926.0 786.0M983.0 696.9 982.0 696.6 981.0 695.7 979.9 693.9 979.0 690.9 978.9 688.9 979.1 686.9 980.0 685.3 981.0 685.0 982.0 685.5 983.0 686.6 984.0 688.5 984.7 690.9 984.9 692.9 984.7 694.9 984.0 696.4 983.0 696.9M925.0 786.1 922.0 786.6 919.0 786.6 917.0 786.3 915.0 785.3 913.3 783.9 911.7 781.9 910.7 779.9 909.7 776.9 909.3 773.9 909.3 768.9 909.7 764.9 910.6 759.9 912.5 753.9 914.0 751.2 916.0 748.7 918.0 747.3 920.0 746.7 924.0 746.2 934.0 745.8 938.0 744.9 950.0 741.5 953.0 741.0 956.0 740.8 961.0 741.3 965.0 742.7 968.6 744.9 971.8 747.9 973.2 749.9 974.1 751.9 974.7 753.9 974.9 755.9 974.8 756.9 974.0 758.9 972.5 760.9 970.3 762.9 966.0 765.6 961.3 767.9 956.0 769.9 948.0 772.4 945.0 773.6 942.0 775.5 937.1 779.9 934.0 782.2 930.0 784.4 925.0 786.1M924.0 786.1 919.0 786.4 917.0 786.0 915.0 785.0 913.0 783.3 911.3 780.9 910.4 778.9 909.7 775.9 909.4 771.9 909.7 766.9 910.4 761.9 911.3 757.9 912.4 754.9 913.9 751.9 915.0 750.2 917.0 748.3 919.0 747.4 922.0 746.9 932.0 746.7 935.0 746.5 938.0 745.9 950.0 742.8 953.0 742.3 956.0 742.2 960.0 742.6 964.0 743.9 967.4 745.9 970.5 748.9 971.9 750.9 972.8 752.9 973.2 754.9 973.3 756.9 973.0 757.9 971.9 759.9 968.8 762.9 965.8 764.9 961.0 767.3 956.0 769.2 948.0 771.7 945.0 773.0 942.0 774.9 936.6 779.9 933.0 782.6 929.0 784.6 924.0 786.1M923.0 785.9 920.0 786.2 918.0 786.0 916.0 785.4 915.0 784.7 913.0 782.9 911.6 780.9 910.7 778.9 909.9 775.9 909.7 771.9 909.8 767.9 910.4 762.9 911.3 758.9 912.3 755.9 913.7 752.9 915.0 750.9 917.0 748.9 919.0 748.0 922.0 747.5 925.0 747.4 933.0 747.7 936.0 747.5 949.0 744.7 955.0 744.1 959.0 744.5 963.0 745.7 966.0 747.5 968.5 749.9 970.3 752.9 970.9 754.9 971.1 756.9 970.9 757.9 969.8 759.9 966.7 762.9 963.6 764.9 959.5 766.9 948.0 770.9 945.0 772.1 942.0 774.1 937.2 778.9 933.0 782.2 928.0 784.7 925.0 785.6 923.0 785.9M926.0 785.0 923.0 785.7 920.0 785.9 918.0 785.8 916.0 785.1 914.0 783.7 912.4 781.9 911.3 779.9 910.3 776.9 909.9 773.9 910.0 768.9 910.5 763.9 911.3 759.9 912.2 756.9 913.5 753.9 915.0 751.4 917.0 749.4 919.0 748.5 923.0 748.0 933.0 748.6 937.0 748.5 949.0 746.2 952.0 745.8 955.0 745.7 959.0 746.3 962.0 747.4 964.6 748.9 966.7 750.9 968.4 753.9 969.0 756.9 968.6 758.9 968.0 759.9 966.1 761.9 963.3 763.9 959.6 765.9 955.0 767.8 947.0 770.5 944.0 771.9 942.0 773.3 936.7 778.9 934.0 781.1 930.0 783.5 926.0 785.0M925.0 785.0 922.0 785.6 919.0 785.7 917.0 785.3 916.0 784.8 914.0 783.4 912.7 781.9 911.5 779.9 910.5 776.9 910.1 773.9 910.2 768.9 910.6 764.9 911.3 760.9 912.5 756.9 913.8 753.9 915.1 751.9 917.0 750.0 919.0 749.1 923.0 748.6 926.0 748.7 934.0 749.7 937.0 749.7 940.0 749.4 949.0 747.8 954.0 747.5 957.0 747.9 960.0 748.8 962.2 749.9 964.5 751.9 965.2 752.9 966.2 754.9 966.6 757.9 965.8 759.9 964.0 761.9 961.1 763.9 957.1 765.9 947.0 769.6 944.0 771.0 941.0 773.3 937.1 777.9 933.8 780.9 930.0 783.2 925.0 785.0M924.0 785.0 919.0 785.4 918.0 785.3 916.0 784.6 914.0 783.1 912.9 781.9 911.7 779.9 910.6 776.9 910.3 773.9 910.3 768.9 910.8 764.9 911.5 760.9 912.7 756.9 914.0 754.2 915.5 751.9 917.0 750.5 919.0 749.5 922.0 749.2 926.0 749.3 934.0 750.6 937.0 750.9 941.0 750.6 949.0 749.5 953.0 749.3 956.0 749.7 958.0 750.3 960.0 751.2 962.2 752.9 963.5 754.9 964.0 756.2 964.2 757.9 964.1 758.9 963.6 759.9 961.8 761.9 959.0 763.8 956.9 764.9 947.0 768.6 944.0 770.1 941.0 772.5 936.7 777.9 933.4 780.9 929.0 783.4 924.0 785.0M923.0 785.0 920.0 785.2 918.0 785.1 916.0 784.4 915.0 783.7 914.0 782.9 912.4 780.9 911.4 778.9 910.6 775.9 910.4 772.9 910.5 768.9 911.1 763.9 911.7 760.9 912.6 757.9 914.0 754.7 915.1 752.9 917.0 750.9 919.0 750.0 923.0 749.6 927.0 750.0 935.0 751.7 938.0 752.1 942.0 752.0 949.0 751.2 953.0 751.3 955.0 751.6 957.0 752.3 959.0 753.4 960.5 754.9 961.4 756.9 961.6 758.9 961.2 759.9 959.4 761.9 957.0 763.5 954.2 764.9 947.0 767.7 944.0 769.2 941.0 771.6 936.2 777.9 933.0 780.8 931.0 782.2 928.0 783.6 926.0 784.3 923.0 785.0M921.0 785.0 919.0 785.0 917.0 784.6 915.0 783.5 914.0 782.7 912.6 780.9 911.6 778.9 910.6 774.9 910.8 767.9 911.3 763.9 912.2 759.9 914.1 754.9 915.4 752.9 917.0 751.3 919.0 750.4 921.0 750.1 924.0 750.1 928.0 750.7 936.0 752.8 939.0 753.3 943.0 753.3 949.0 753.0 952.0 753.1 955.1 753.9 956.8 754.9 957.8 755.9 958.4 756.9 958.9 758.9 958.7 759.9 958.0 760.9 957.0 761.9 953.7 763.9 946.0 767.2 943.0 769.0 940.0 771.9 935.9 777.9 933.8 779.9 932.0 781.3 930.0 782.5 927.0 783.8 924.0 784.6 921.0 785.0M925.0 784.2 920.0 784.8 917.0 784.4 915.0 783.3 913.5 781.9 912.2 779.9 911.4 777.9 910.8 774.9 910.7 771.9 911.4 763.9 912.4 759.9 913.4 756.9 914.4 754.9 916.0 752.7 917.0 751.8 919.0 750.8 922.0 750.5 925.0 750.7 929.0 751.5 938.0 754.4 942.0 755.0 950.0 755.4 952.0 755.9 954.0 757.1 955.0 758.7 955.1 759.9 954.7 760.9 953.7 761.9 952.2 762.9 945.0 766.5 943.0 767.9 940.0 771.0 936.3 776.9 934.0 779.4 930.0 782.2 928.0 783.2 925.0 784.2M925.0 784.0 923.0 784.4 920.0 784.7 917.0 784.3 915.0 783.1 913.7 781.9 912.4 779.9 911.5 777.9 910.9 774.9 910.9 771.9 911.1 767.9 911.6 763.9 913.2 757.9 914.7 754.9 916.0 753.1 917.0 752.1 919.0 751.2 922.0 750.9 926.0 751.3 930.0 752.4 939.0 755.9 946.8 757.9 949.1 758.9 950.0 760.2 950.1 760.9 949.5 761.9 944.0 765.9 942.0 767.6 940.0 770.0 936.6 775.9 934.2 778.9 932.0 780.7 930.0 782.0 927.0 783.4 925.0 784.0M924.0 784.0 922.0 784.3 919.0 784.4 918.0 784.3 916.0 783.6 914.0 781.9 913.0 780.6 911.7 777.9 911.2 775.9 911.0 771.9 911.3 766.9 912.2 761.9 913.1 758.9 914.4 755.9 916.0 753.6 918.0 752.0 920.0 751.5 922.0 751.4 925.0 751.7 928.0 752.4 931.0 753.5 935.8 755.9 940.8 758.9 942.9 760.9 943.4 761.9 943.5 762.9 943.2 763.9 940.0 768.6 936.7 774.9 934.7 777.9 932.6 779.9 930.0 781.7 927.0 783.1 924.0 784.0M921.0 784.0 919.0 784.0 917.0 783.6 915.0 782.4 913.6 780.9 912.4 778.9 911.7 776.9 911.4 774.9 911.3 770.9 911.7 766.9 912.6 761.9 913.5 758.9 915.0 755.9 916.0 754.5 918.0 752.8 920.0 752.4 922.0 752.3 925.0 752.6 928.0 753.5 931.0 754.9 934.1 756.9 936.5 758.9 938.2 760.9 939.2 762.9 939.5 764.9 938.7 767.9 935.9 774.9 934.7 776.9 933.0 778.9 930.5 780.9 928.0 782.2 925.0 783.3 921.0 784.0M924.0 783.1 922.0 783.5 919.0 783.6 917.0 783.2 916.0 782.7 915.0 781.9 913.4 779.9 912.4 777.9 911.9 775.9 911.7 772.9 911.8 768.9 912.3 764.9 913.3 760.9 914.5 757.9 916.0 755.5 917.0 754.4 919.0 753.4 922.0 753.3 925.0 753.7 928.0 754.8 930.1 755.9 932.9 757.9 934.8 759.9 936.6 762.9 937.2 764.9 937.2 766.9 936.4 770.9 935.0 774.9 933.9 776.9 932.1 778.9 930.0 780.6 927.0 782.2 924.0 783.1M922.0 783.0 918.0 783.0 915.7 781.9 914.6 780.9 913.3 778.9 912.5 776.9 912.1 774.9 912.1 770.9 912.4 766.9 913.2 762.9 914.2 759.9 915.8 756.9 917.0 755.5 918.0 754.8 920.0 754.4 923.0 754.5 926.0 755.2 928.0 756.1 930.6 757.9 932.7 759.9 934.1 761.9 935.4 764.9 935.7 766.9 935.4 769.9 934.5 773.9 933.6 775.9 932.2 777.9 930.0 779.9 928.0 781.1 925.0 782.3 922.0 783.0M924.0 782.0 920.0 782.6 918.0 782.5 917.0 782.1 916.0 781.6 914.4 779.9 913.2 777.9 912.7 775.9 912.4 772.9 912.6 768.9 913.2 764.9 914.0 762.0 915.0 759.5 916.0 757.8 917.0 756.6 918.0 755.9 919.0 755.6 922.0 755.5 924.0 755.8 926.0 756.5 928.4 757.9 930.7 759.9 932.3 761.9 933.4 763.9 934.0 765.9 934.3 767.9 934.1 770.9 933.5 773.9 932.7 775.9 931.3 777.9 929.0 779.8 927.0 781.0 924.0 782.0M922.0 781.9 920.0 782.1 918.0 782.0 916.0 781.0 914.9 779.9 914.0 778.6 913.3 776.9 912.9 774.9 912.8 771.9 913.1 767.9 913.7 764.9 914.5 761.9 916.0 758.9 917.0 757.7 918.0 756.9 920.0 756.5 923.0 756.7 925.0 757.3 927.0 758.4 929.0 759.9 930.8 761.9 932.0 763.9 932.8 765.9 933.1 767.9 933.1 770.9 932.6 773.9 931.9 775.9 931.2 776.9 929.3 778.9 927.0 780.4 925.0 781.2 922.0 781.9M924.0 781.0 920.0 781.6 918.0 781.5 917.0 781.1 916.0 780.5 914.6 778.9 913.4 775.9 913.2 773.9 913.3 769.9 913.7 766.9 914.4 763.9 916.1 759.9 917.0 758.7 918.0 757.9 919.0 757.5 921.0 757.4 923.0 757.8 925.0 758.5 927.0 759.6 928.5 760.9 930.1 762.9 931.2 764.9 931.9 766.9 932.2 768.9 932.1 771.9 931.8 773.9 931.0 775.9 930.0 777.4 928.3 778.9 926.0 780.3 924.0 781.0M921.0 781.0 918.0 781.0 916.0 779.8 915.0 778.7 914.1 776.9 913.6 773.9 914.0 767.9 915.3 762.9 916.0 761.3 917.0 759.9 918.0 759.0 920.0 758.6 922.0 758.7 924.0 759.3 926.0 760.4 927.8 761.9 929.3 763.9 930.4 765.9 930.9 767.9 931.2 769.9 931.0 772.9 930.6 774.9 929.0 777.4 927.2 778.9 925.4 779.9 923.0 780.7 921.0 781.0M924.0 779.9 921.0 780.6 918.0 780.5 917.0 780.1 915.7 778.9 915.0 777.9 914.2 775.9 913.9 773.9 914.0 770.9 914.3 767.9 915.0 765.0 916.0 762.5 917.0 760.9 918.0 760.0 919.0 759.6 921.0 759.6 923.0 760.0 926.0 761.6 927.4 762.9 928.8 764.9 930.0 767.9 930.3 771.9 930.1 773.9 929.4 775.9 928.6 776.9 927.0 778.4 924.0 779.9M922.0 779.9 919.0 780.2 917.0 779.5 915.5 777.9 914.9 776.9 914.4 774.9 914.5 769.9 915.6 764.9 917.0 762.0 918.0 761.0 919.0 760.6 921.0 760.6 923.0 761.1 924.6 761.9 925.9 762.9 927.0 764.1 928.2 765.9 929.2 768.9 929.4 772.9 929.0 774.9 928.5 775.9 927.8 776.9 926.0 778.3 924.0 779.3 922.0 779.9M923.0 779.1 920.0 779.7 918.0 779.5 917.0 779.0 916.0 778.0 915.0 775.9 914.7 773.9 914.7 771.9 915.4 766.9 916.0 765.1 917.0 763.1 918.0 762.0 919.0 761.6 922.0 761.8 924.0 762.7 925.0 763.4 927.1 765.9 928.3 768.9 928.6 770.9 928.6 772.9 928.2 774.9 927.7 775.9 925.7 777.9 923.0 779.1M921.0 779.1 919.0 779.2 918.0 779.0 917.0 778.4 915.8 776.9 915.1 774.9 915.1 770.9 916.0 766.5 917.0 764.2 918.0 763.0 919.0 762.6 921.0 762.6 922.0 762.8 924.0 763.8 925.0 764.7 926.0 765.9 927.0 767.6 927.8 770.9 927.7 773.9 926.9 775.9 926.0 776.9 924.6 777.9 923.0 778.6 921.0 779.1M923.0 778.0 920.0 778.7 918.0 778.5 917.0 777.8 915.8 775.9 915.4 772.9 916.0 768.1 917.0 765.4 918.0 764.1 919.0 763.6 921.0 763.6 922.0 763.9 923.7 764.9 925.6 766.9 926.5 768.9 927.0 771.9 926.6 774.9 926.1 775.9 925.1 776.9 923.0 778.0M921.0 777.9 919.0 778.1 918.0 777.8 916.9 776.9 916.0 774.9 916.0 770.9 916.7 767.9 917.0 766.9 918.0 765.4 919.0 764.8 921.0 764.9 923.1 765.9 924.9 767.9 925.9 770.9 925.9 773.9 925.7 774.9 925.0 775.9 923.0 777.3 921.0 777.9M922.0 777.1 920.0 777.5 919.0 777.5 918.0 777.2 917.0 776.3 916.4 774.9 916.4 771.9 916.9 768.9 918.0 766.6 919.0 765.9 921.0 766.1 923.0 767.2 924.3 768.9 925.0 770.9 925.2 772.9 924.8 774.9 924.0 775.9 922.0 777.1M922.0 776.3 921.0 776.7 919.0 776.9 918.0 776.5 916.9 774.9 916.8 771.9 917.2 769.9 918.0 767.9 919.0 767.2 921.0 767.4 922.0 767.9 923.0 768.9 923.9 770.9 924.2 772.9 924.0 774.2 923.7 774.9 923.0 775.7 922.0 776.3M920.0 776.1 919.0 776.1 918.0 775.6 917.4 773.9 917.5 771.9 917.9 769.9 919.0 768.7 920.0 768.7 921.0 769.0 922.0 769.9 922.9 771.9 922.9 773.9 922.4 774.9 921.0 775.9 920.0 776.1" fill="none" stroke="#000" stroke-opacity="0.6" stroke-width="0.9" stroke-linejoin="round"/>
<rect x="868.00" y="626.90" width="204.60" height="204.40" fill="none" stroke="#777" stroke-width="1.5"/>
<path d="M862.0 817.3H868.0M862.0 783.3H868.0M862.0 750.8H868.0M862.0 694.8H868.0M862.0 644.8H868.0M865.0 810.5H868.0M865.0 803.7H868.0M865.0 796.9H868.0M865.0 790.1H868.0M865.0 773.5H868.0M865.0 767.8H868.0M865.0 763.7H868.0M865.0 760.6H868.0M865.0 758.0H868.0M865.0 755.8H868.0M865.0 753.9H868.0M865.0 752.3H868.0M865.0 733.9H868.0M865.0 724.1H868.0M865.0 717.1H868.0M865.0 711.7H868.0M865.0 707.2H868.0M865.0 703.5H868.0M865.0 700.2H868.0M865.0 697.4H868.0M865.0 679.7H868.0M865.0 670.9H868.0M865.0 664.7H868.0M865.0 659.9H868.0M865.0 655.9H868.0M865.0 652.5H868.0M865.0 649.6H868.0M865.0 647.1H868.0M862.0 787.3H868.0M862.0 785.8H868.0M862.0 784.3H868.0M862.0 782.3H868.0M862.0 780.8H868.0M862.0 779.3H868.0M865.0 629.7H868.0M880.0 831.3V837.3M914.0 831.3V837.3M948.0 831.3V837.3M1004.0 831.3V837.3M1054.0 831.3V837.3M886.8 831.3V834.3M893.6 831.3V834.3M900.4 831.3V834.3M907.2 831.3V834.3M924.2 831.3V834.3M930.2 831.3V834.3M934.5 831.3V834.3M937.8 831.3V834.3M940.5 831.3V834.3M942.7 831.3V834.3M944.7 831.3V834.3M946.4 831.3V834.3M964.9 831.3V834.3M974.7 831.3V834.3M981.7 831.3V834.3M987.1 831.3V834.3M991.6 831.3V834.3M995.3 831.3V834.3M998.6 831.3V834.3M1001.4 831.3V834.3M1019.1 831.3V834.3M1027.9 831.3V834.3M1034.1 831.3V834.3M1038.9 831.3V834.3M1042.9 831.3V834.3M1046.3 831.3V834.3M1049.2 831.3V834.3M1051.7 831.3V834.3M910.0 831.3V837.3M911.5 831.3V837.3M913.0 831.3V837.3M915.0 831.3V837.3M916.5 831.3V837.3M918.0 831.3V837.3M1069.1 831.3V834.3" stroke="#222" stroke-width="1.2" fill="none"/>
<ellipse cx="990.4" cy="682.85" rx="60.5" ry="37.5" transform="rotate(-57 990.4 682.85)" fill="none" stroke="#222" stroke-width="1.6"/>
<line x1="1033" y1="672.3" x2="1114" y2="672.3" stroke="#000" stroke-width="5.2"/><path d="M1112.6 654.3L1134.6 672.3L1112.6 690.3z" fill="#000"/>
<path fill="#1a1a8c" d="M1185 222h3v3h-3zm3 -39h3v3h-3zm3 0h3v3h-3zm-3 7h3v3h-3zm8 0h3v3h-3zm6 0h3v3h-3zm10 2h3v3h-3zm5 -1h3v3h-3zm0 -12h3v3h-3zm2 0h3v3h-3zm-26 19h3v3h-3zm0 6h3v3h-3zm-3 9h3v3h-3zm4 -3h3v3h-3zm16 5h3v3h-3zm26 -48h3v3h-3zm14 0h3v3h-3zm29 0h3v3h-3zm-31 15h3v3h-3zm1 0h3v3h-3zm9 4h3v3h-3zm-14 6h3v3h-3zm4 8h3v3h-3zm-8 6h3v3h-3zm8 -1h3v3h-3zm1 11h3v3h-3z"/>
<path fill="#d03050" d="M1190 206h3v3h-3z"/>
<path fill="#2323d8" d="M1201 444h3v3h-3zm-8 21h3v3h-3zm11 6h3v3h-3zm9 2h3v3h-3zm-3 -25h3v3h-3zm-30 -12h3v3h-3zm11 23h3v3h-3zm-3 -17h3v3h-3zm2 5h3v3h-3zm12 -9h3v3h-3zm-13 6h3v3h-3zm-4 -10h3v3h-3zm15 11h3v3h-3zm6 -9h3v3h-3zm-16 -4h3v3h-3zm7 42h3v3h-3zm-16 -18h3v3h-3zm22 7h3v3h-3zm12 23h3v3h-3zm-15 -18h3v3h-3zm-6 -12h3v3h-3zm-19 -19h3v3h-3zm16 33h3v3h-3zm-16 -6h3v3h-3zm26 10h3v3h-3zm10 -20h3v3h-3zm-4 -4h3v3h-3zm-8 16h3v3h-3zm-11 -37h3v3h-3zm8 18h3v3h-3zm0 17h3v3h-3zm-2 -7h3v3h-3zm-25 -3h3v3h-3zm27 9h3v3h-3zm2 -39h3v3h-3zm61 18h3v3h-3zm31 -2h3v3h-3zm-1 8h3v3h-3zm-70 2h3v3h-3zm64 -3h3v3h-3zm-14 -4h3v3h-3zm-35 11h3v3h-3zm-6 21h3v3h-3zm28 -17h3v3h-3zm35 -30h3v3h-3zm-20 18h3v3h-3zm-32 31h3v3h-3zm26 -5h3v3h-3zm18 -41h3v3h-3zm-25 25h3v3h-3zm-11 -4h3v3h-3zm-41 11h3v3h-3zm68 10h3v3h-3zm-52 -25h3v3h-3zm34 -1h3v3h-3zm14 13h3v3h-3zm-16 -14h3v3h-3zm-15 2h3v3h-3zm11 8h3v3h-3zm26 -27h3v3h-3zm-51 34h3v3h-3zm8 -25h3v3h-3zm34 12h3v3h-3zm14 7h3v3h-3zm-19 14h3v3h-3zm-18 -28h3v3h-3zm33 7h3v3h-3zm-28 5h3v3h-3zm44 -12h3v3h-3zm15 2h3v3h-3zm-72 16h3v3h-3zm15 16h3v3h-3zm1 -24h3v3h-3zm-25 2h3v3h-3zm18 -3h3v3h-3zm38 -6h3v3h-3zm-49 15h3v3h-3zm21 10h3v3h-3zm40 -40h3v3h-3zm-28 18h3v3h-3zm-11 -19h3v3h-3zm21 4h3v3h-3zm-14 6h3v3h-3zm15 3h3v3h-3zm6 3h3v3h-3zm-13 -5h3v3h-3zm1 5h3v3h-3zm4 1h3v3h-3zm-3 -6h3v3h-3zm3 5h3v3h-3zm-4 -3h3v3h-3zm10 -4h3v3h-3zm-4 4h3v3h-3zm-2 6h3v3h-3zm-44 18h3v3h-3zm-6 -27h3v3h-3zm13 20h3v3h-3zm-2 9h3v3h-3zm-8 -13h3v3h-3zm-32 11h3v3h-3zm-10 1h3v3h-3zm14 -32h3v3h-3zm50 20h3v3h-3zm-15 7h3v3h-3zm-35 -13h3v3h-3z"/>
<path fill="#2323e0" d="M1186 743h3v3h-3zm0 -9h3v3h-3zm-10 29h3v3h-3zm20 -8h3v3h-3zm-16 5h3v3h-3zm1 -18h3v3h-3zm6 38h3v3h-3zm9 -21h3v3h-3zm-11 -18h3v3h-3zm19 40h3v3h-3zm-14 -44h3v3h-3zm-2 38h3v3h-3zm6 -29h3v3h-3zm-4 -5h3v3h-3zm-7 -2h3v3h-3zm4 -5h3v3h-3zm5 2h3v3h-3zm10 20h3v3h-3zm-10 -7h3v3h-3zm2 -25h3v3h-3zm-19 30h3v3h-3zm14 -28h3v3h-3zm1 33h3v3h-3zm13 -16h3v3h-3zm-1 4h3v3h-3zm-11 23h3v3h-3zm3 -53h3v3h-3zm-4 69h3v3h-3zm1 -18h3v3h-3zm-3 -8h3v3h-3zm5 -21h3v3h-3zm2 29h3v3h-3zm-6 -21h3v3h-3zm9 -1h3v3h-3zm-15 -8h3v3h-3zm8 35h3v3h-3zm1 -9h3v3h-3zm-14 -37h3v3h-3zm17 22h3v3h-3zm1 -20h3v3h-3zm7 36h3v3h-3zm-13 -29h3v3h-3zm5 13h3v3h-3zm0 11h3v3h-3zm-16 -13h3v3h-3zm14 -17h3v3h-3zm-13 13h3v3h-3zm13 -14h3v3h-3zm3 45h3v3h-3zm-4 -8h3v3h-3zm-16 -44h3v3h-3zm25 10h3v3h-3zm-8 55h3v3h-3zm5 -26h3v3h-3zm-12 -16h3v3h-3zm2 21h3v3h-3zm17 -10h3v3h-3zm-16 7h3v3h-3zm-1 -19h3v3h-3zm0 33h3v3h-3zm10 -22h3v3h-3zm-19 -24h3v3h-3zm9 19h3v3h-3zm-4 -5h3v3h-3zm24 12h3v3h-3zm-10 -2h3v3h-3zm-7 -3h3v3h-3zm1 -15h3v3h-3zm-3 17h3v3h-3zm-2 -13h3v3h-3zm2 36h3v3h-3zm14 -45h3v3h-3zm-15 14h3v3h-3zm1 -4h3v3h-3zm4 -8h3v3h-3zm8 23h3v3h-3zm-7 -2h3v3h-3zm-11 -1h3v3h-3zm8 21h3v3h-3zm0 -34h3v3h-3zm-10 17h3v3h-3zm4 -6h3v3h-3zm8 3h3v3h-3zm-5 -25h3v3h-3zm14 1h3v3h-3zm-9 33h3v3h-3zm-6 -33h3v3h-3zm3 38h3v3h-3zm-6 6h3v3h-3zm2 -34h3v3h-3zm10 15h3v3h-3zm-6 -2h3v3h-3zm-13 21h3v3h-3zm4 10h3v3h-3zm14 -21h3v3h-3zm-12 1h3v3h-3zm5 6h3v3h-3zm10 -36h3v3h-3zm-9 15h3v3h-3zm0 15h3v3h-3zm-1 -22h3v3h-3zm10 35h3v3h-3zm-12 -42h3v3h-3zm-4 12h3v3h-3zm9 4h3v3h-3zm11 10h3v3h-3zm-9 -26h3v3h-3zm9 8h3v3h-3zm-3 12h3v3h-3zm-16 -4h3v3h-3zm8 8h3v3h-3zm-1 -23h3v3h-3zm1 -5h3v3h-3zm8 -28h3v3h-3zm2 24h3v3h-3zm-5 13h3v3h-3zm3 -16h3v3h-3zm-12 17h3v3h-3zm10 20h3v3h-3zm-13 -22h3v3h-3zm5 23h3v3h-3zm-7 -3h3v3h-3zm18 -11h3v3h-3zm-12 11h3v3h-3zm8 3h3v3h-3zm-14 -37h3v3h-3zm11 49h3v3h-3zm4 -55h3v3h-3zm-5 33h3v3h-3zm0 -14h3v3h-3zm0 1h3v3h-3zm-1 12h3v3h-3zm-2 -9h3v3h-3zm-4 3h3v3h-3zm13 2h3v3h-3zm-7 -13h3v3h-3zm1 18h3v3h-3zm2 -21h3v3h-3zm-12 27h3v3h-3zm0 -28h3v3h-3zm0 23h3v3h-3zm22 -12h3v3h-3zm-15 32h3v3h-3zm7 -39h3v3h-3zm-18 35h3v3h-3zm10 -25h3v3h-3zm4 -19h3v3h-3zm-5 48h3v3h-3zm12 -6h3v3h-3zm-10 11h3v3h-3zm2 -34h3v3h-3zm8 22h3v3h-3zm4 10h3v3h-3zm-9 -21h3v3h-3zm-5 -6h3v3h-3zm11 20h3v3h-3zm-16 -30h3v3h-3zm0 3h3v3h-3zm0 6h3v3h-3zm14 5h3v3h-3zm-4 5h3v3h-3zm-9 5h3v3h-3zm1 -43h3v3h-3zm5 36h3v3h-3zm-4 -11h3v3h-3zm-4 -20h3v3h-3zm2 17h3v3h-3zm4 22h3v3h-3zm-3 -3h3v3h-3zm5 -32h3v3h-3zm-3 14h3v3h-3zm-2 1h3v3h-3zm8 29h3v3h-3zm0 -26h3v3h-3zm-17 -8h3v3h-3zm16 11h3v3h-3zm-24 8h3v3h-3zm36 8h3v3h-3zm12 -49h3v3h-3zm-8 37h3v3h-3zm-31 -21h3v3h-3zm59 14h3v3h-3zm-25 -18h3v3h-3zm-10 -9h3v3h-3zm0 -15h3v3h-3zm13 -4h3v3h-3zm-14 29h3v3h-3zm0 -2h3v3h-3zm11 -17h3v3h-3zm-24 -8h3v3h-3zm26 15h3v3h-3zm-24 21h3v3h-3zm20 9h3v3h-3zm8 2h3v3h-3zm-7 -17h3v3h-3zm4 12h3v3h-3zm-17 -35h3v3h-3zm-6 50h3v3h-3zm26 -27h3v3h-3zm-17 -16h3v3h-3zm-9 -3h3v3h-3zm4 -3h3v3h-3zm-3 14h3v3h-3zm21 21h3v3h-3zm-2 -28h3v3h-3zm12 29h3v3h-3zm-36 -14h3v3h-3zm16 -32h3v3h-3zm-2 10h3v3h-3zm-28 3h3v3h-3zm28 9h3v3h-3zm10 40h3v3h-3zm-20 10h3v3h-3zm-6 -38h3v3h-3zm50 1h3v3h-3zm-52 -19h3v3h-3zm40 34h3v3h-3zm-16 -35h3v3h-3zm1 6h3v3h-3zm-13 10h3v3h-3zm-6 14h3v3h-3zm88 -34h3v3h-3zm-44 35h3v3h-3zm53 -7h3v3h-3zm-25 -40h3v3h-3zm18 12h3v3h-3zm16 -18h3v3h-3zm-50 39h3v3h-3zm33 -12h3v3h-3zm12 -15h3v3h-3zm-44 25h3v3h-3zm58 -4h3v3h-3zm-29 -27h3v3h-3zm-18 15h3v3h-3zm25 2h3v3h-3zm8 4h3v3h-3zm-30 5h3v3h-3zm8 18h3v3h-3zm-10 -18h3v3h-3zm19 -16h3v3h-3zm1 -1h3v3h-3zm7 -18h3v3h-3zm-5 25h3v3h-3zm-12 12h3v3h-3zm3 -21h3v3h-3zm-11 28h3v3h-3zm29 -35h3v3h-3zm-31 33h3v3h-3zm0 -11h3v3h-3zm23 18h3v3h-3zm-41 -7h3v3h-3zm44 -12h3v3h-3zm15 -12h3v3h-3zm-15 -5h3v3h-3zm3 5h3v3h-3zm-5 -3h3v3h-3zm-11 -4h3v3h-3zm8 33h3v3h-3zm-22 3h3v3h-3zm27 -13h3v3h-3zm10 -3h3v3h-3zm14 -28h3v3h-3zm-48 -4h3v3h-3zm25 34h3v3h-3zm2 0h3v3h-3zm-17 5h3v3h-3zm0 3h3v3h-3zm0 -2h3v3h-3zm-1 -16h3v3h-3zm40 6h3v3h-3zm-63 16h3v3h-3zm13 9h3v3h-3zm-8 -10h3v3h-3zm32 -13h3v3h-3zm4 -2h3v3h-3zm-32 -4h3v3h-3zm37 -4h3v3h-3zm-33 24h3v3h-3zm40 -46h3v3h-3zm-24 19h3v3h-3zm22 15h3v3h-3zm-49 -5h3v3h-3zm40 -23h3v3h-3zm-8 29h3v3h-3zm-13 5h3v3h-3zm-20 3h3v3h-3zm45 -14h3v3h-3zm-7 -19h3v3h-3zm-7 53h3v3h-3zm14 -47h3v3h-3zm1 1h3v3h-3zm7 16h3v3h-3zm-41 10h3v3h-3zm31 -15h3v3h-3zm-9 5h3v3h-3zm-15 9h3v3h-3zm15 -7h3v3h-3zm-17 -11h3v3h-3zm35 3h3v3h-3zm-23 9h3v3h-3zm10 -3h3v3h-3zm8 -7h3v3h-3zm16 -16h3v3h-3zm-18 23h3v3h-3zm-36 12h3v3h-3zm51 -17h3v3h-3zm-30 -18h3v3h-3zm24 19h3v3h-3zm-16 19h3v3h-3zm-13 -10h3v3h-3zm-23 -5h3v3h-3zm32 1h3v3h-3zm11 -8h3v3h-3zm-26 4h3v3h-3zm2 10h3v3h-3zm-4 -2h3v3h-3zm8 -15h3v3h-3zm13 28h3v3h-3zm11 -13h3v3h-3zm-31 -25h3v3h-3zm15 15h3v3h-3zm-23 7h3v3h-3zm16 -19h3v3h-3zm-20 35h3v3h-3zm5 -16h3v3h-3zm17 2h3v3h-3zm24 -10h3v3h-3zm-21 4h3v3h-3zm28 -14h3v3h-3zm-24 -4h3v3h-3zm-27 2h3v3h-3zm5 10h3v3h-3zm52 7h3v3h-3zm-46 14h3v3h-3zm-1 4h3v3h-3zm-6 -16h3v3h-3zm-10 -6h3v3h-3zm47 16h3v3h-3zm1 -6h3v3h-3zm-39 4h3v3h-3zm53 -15h3v3h-3zm-17 -7h3v3h-3zm-20 27h3v3h-3zm-31 -30h3v3h-3zm25 11h3v3h-3zm3 12h3v3h-3zm19 -12h3v3h-3zm-16 24h3v3h-3zm22 -21h3v3h-3zm26 -21h3v3h-3zm-62 15h3v3h-3zm-67 53h3v3h-3zm94 -50h3v3h-3zm-27 27h3v3h-3zm15 -4h3v3h-3zm-52 21h3v3h-3zm-5 -39h3v3h-3zm46 -10h3v3h-3zm-28 18h3v3h-3zm12 -7h3v3h-3zm52 6h3v3h-3zm-34 4h3v3h-3zm1 4h3v3h-3zm-5 -5h3v3h-3zm-21 10h3v3h-3zm37 -9h3v3h-3zm-17 -1h3v3h-3zm62 -26h3v3h-3zm-44 37h3v3h-3zm-73 -3h3v3h-3zm34 -27h3v3h-3zm-17 0h3v3h-3zm77 14h3v3h-3zm-49 1h3v3h-3zm-34 8h3v3h-3zm23 -19h3v3h-3zm47 10h3v3h-3zm-5 12h3v3h-3zm-21 -4h3v3h-3zm-5 -18h3v3h-3zm-39 23h3v3h-3zm26 -3h3v3h-3zm3 -16h3v3h-3zm-21 2h3v3h-3zm30 -8h3v3h-3zm-28 50h3v3h-3zm59 -22h3v3h-3zm-55 -7h3v3h-3zm-7 6h3v3h-3zm-2 15h3v3h-3zm22 -7h3v3h-3zm20 -10h3v3h-3zm-9 -21h3v3h-3zm-30 7h3v3h-3zm29 5h3v3h-3zm-34 21h3v3h-3zm28 -10h3v3h-3zm15 -14h3v3h-3zm-14 -6h3v3h-3zm-12 37h3v3h-3zm-17 -31h3v3h-3zm35 5h3v3h-3zm-9 4h3v3h-3zm-51 18h3v3h-3zm27 6h3v3h-3zm9 -51h3v3h-3zm9 -14h3v3h-3zm4 45h3v3h-3zm44 -4h3v3h-3zm-72 18h3v3h-3zm72 -23h3v3h-3zm-54 4h3v3h-3zm21 -8h3v3h-3zm-13 34h3v3h-3zm8 -41h3v3h-3zm-42 38h3v3h-3zm80 -41h3v3h-3zm-55 18h3v3h-3zm8 -17h3v3h-3zm-60 26h3v3h-3zm62 -23h3v3h-3zm-19 -9h3v3h-3zm42 -3h3v3h-3zm-14 -9h3v3h-3zm-15 43h3v3h-3zm-33 -19h3v3h-3zm-11 71h3v3h-3zm0 24h3v3h-3z"/>
<path fill="#d83060" d="M1188 746h3v3h-3zm2 8h3v3h-3zm-2 4h3v3h-3zm4 -18h3v3h-3zm-2 24h3v3h-3zm4 4h3v3h-3zm-8 -32h3v3h-3zm12 14h3v3h-3zm-12 -24h3v3h-3zm8 50h3v3h-3zm-4 8h3v3h-3zm-6 -16h3v3h-3z"/>
<rect x="1142.50" y="74.20" width="205.30" height="204.40" fill="none" stroke="#777" stroke-width="1.5"/>
<path d="M1136.5 256.9H1142.5M1136.5 215.1H1142.5M1136.5 174.6H1142.5M1136.5 132.9H1142.5M1136.5 92.0H1142.5M1139.5 244.4H1142.5M1139.5 237.1H1142.5M1139.5 231.9H1142.5M1139.5 227.9H1142.5M1139.5 224.6H1142.5M1139.5 221.8H1142.5M1139.5 219.4H1142.5M1139.5 217.3H1142.5M1139.5 202.6H1142.5M1139.5 195.3H1142.5M1139.5 190.1H1142.5M1139.5 186.1H1142.5M1139.5 182.8H1142.5M1139.5 180.0H1142.5M1139.5 177.6H1142.5M1139.5 175.5H1142.5M1139.5 162.1H1142.5M1139.5 154.8H1142.5M1139.5 149.6H1142.5M1139.5 145.6H1142.5M1139.5 142.3H1142.5M1139.5 139.5H1142.5M1139.5 137.1H1142.5M1139.5 135.0H1142.5M1139.5 120.4H1142.5M1139.5 113.1H1142.5M1139.5 107.9H1142.5M1139.5 103.9H1142.5M1139.5 100.6H1142.5M1139.5 97.8H1142.5M1139.5 95.4H1142.5M1139.5 93.3H1142.5M1139.5 79.5H1142.5M1139.5 269.4H1142.5M1139.5 266.1H1142.5M1139.5 263.3H1142.5M1139.5 260.9H1142.5M1139.5 258.8H1142.5M1154.5 278.6V284.6M1188.5 278.6V284.6M1222.5 278.6V284.6M1278.5 278.6V284.6M1328.5 278.6V284.6M1161.3 278.6V281.6M1168.1 278.6V281.6M1174.9 278.6V281.6M1181.7 278.6V281.6M1198.7 278.6V281.6M1204.7 278.6V281.6M1209.0 278.6V281.6M1212.3 278.6V281.6M1215.0 278.6V281.6M1217.2 278.6V281.6M1219.2 278.6V281.6M1220.9 278.6V281.6M1239.4 278.6V281.6M1249.2 278.6V281.6M1256.2 278.6V281.6M1261.6 278.6V281.6M1266.1 278.6V281.6M1269.8 278.6V281.6M1273.1 278.6V281.6M1275.9 278.6V281.6M1293.6 278.6V281.6M1302.4 278.6V281.6M1308.6 278.6V281.6M1313.4 278.6V281.6M1317.4 278.6V281.6M1320.8 278.6V281.6M1323.7 278.6V281.6M1326.2 278.6V281.6M1184.5 278.6V284.6M1186.0 278.6V284.6M1187.5 278.6V284.6M1189.5 278.6V284.6M1191.0 278.6V284.6M1192.5 278.6V284.6M1343.6 278.6V281.6" stroke="#222" stroke-width="1.2" fill="none"/>
<path d="M1347.8 119H1222V216.3H1347.8" fill="none" stroke="#555" stroke-width="1.5"/>
<rect x="1142.50" y="350.20" width="205.30" height="204.40" fill="none" stroke="#777" stroke-width="1.5"/>
<path d="M1136.5 532.9H1142.5M1136.5 491.1H1142.5M1136.5 450.6H1142.5M1136.5 408.9H1142.5M1136.5 368.0H1142.5M1139.5 520.4H1142.5M1139.5 513.1H1142.5M1139.5 507.9H1142.5M1139.5 503.9H1142.5M1139.5 500.6H1142.5M1139.5 497.8H1142.5M1139.5 495.4H1142.5M1139.5 493.3H1142.5M1139.5 478.6H1142.5M1139.5 471.3H1142.5M1139.5 466.1H1142.5M1139.5 462.1H1142.5M1139.5 458.8H1142.5M1139.5 456.0H1142.5M1139.5 453.6H1142.5M1139.5 451.5H1142.5M1139.5 438.1H1142.5M1139.5 430.8H1142.5M1139.5 425.6H1142.5M1139.5 421.6H1142.5M1139.5 418.3H1142.5M1139.5 415.5H1142.5M1139.5 413.1H1142.5M1139.5 411.0H1142.5M1139.5 396.4H1142.5M1139.5 389.1H1142.5M1139.5 383.9H1142.5M1139.5 379.9H1142.5M1139.5 376.6H1142.5M1139.5 373.8H1142.5M1139.5 371.4H1142.5M1139.5 369.3H1142.5M1139.5 355.5H1142.5M1139.5 545.4H1142.5M1139.5 542.1H1142.5M1139.5 539.3H1142.5M1139.5 536.9H1142.5M1139.5 534.8H1142.5M1154.5 554.6V560.6M1188.5 554.6V560.6M1222.5 554.6V560.6M1278.5 554.6V560.6M1328.5 554.6V560.6M1161.3 554.6V557.6M1168.1 554.6V557.6M1174.9 554.6V557.6M1181.7 554.6V557.6M1198.7 554.6V557.6M1204.7 554.6V557.6M1209.0 554.6V557.6M1212.3 554.6V557.6M1215.0 554.6V557.6M1217.2 554.6V557.6M1219.2 554.6V557.6M1220.9 554.6V557.6M1239.4 554.6V557.6M1249.2 554.6V557.6M1256.2 554.6V557.6M1261.6 554.6V557.6M1266.1 554.6V557.6M1269.8 554.6V557.6M1273.1 554.6V557.6M1275.9 554.6V557.6M1293.6 554.6V557.6M1302.4 554.6V557.6M1308.6 554.6V557.6M1313.4 554.6V557.6M1317.4 554.6V557.6M1320.8 554.6V557.6M1323.7 554.6V557.6M1326.2 554.6V557.6M1184.5 554.6V560.6M1186.0 554.6V560.6M1187.5 554.6V560.6M1189.5 554.6V560.6M1191.0 554.6V560.6M1192.5 554.6V560.6M1343.6 554.6V557.6" stroke="#222" stroke-width="1.2" fill="none"/>
<path d="M1347.8 394.4H1222V492.4H1347.8" fill="none" stroke="#555" stroke-width="1.5"/>
<rect x="1142.50" y="626.90" width="205.30" height="204.40" fill="none" stroke="#777" stroke-width="1.5"/>
<path d="M1136.5 809.6H1142.5M1136.5 767.8H1142.5M1136.5 727.3H1142.5M1136.5 685.6H1142.5M1136.5 644.7H1142.5M1139.5 797.1H1142.5M1139.5 789.8H1142.5M1139.5 784.6H1142.5M1139.5 780.6H1142.5M1139.5 777.3H1142.5M1139.5 774.5H1142.5M1139.5 772.1H1142.5M1139.5 770.0H1142.5M1139.5 755.3H1142.5M1139.5 748.0H1142.5M1139.5 742.8H1142.5M1139.5 738.8H1142.5M1139.5 735.5H1142.5M1139.5 732.7H1142.5M1139.5 730.3H1142.5M1139.5 728.2H1142.5M1139.5 714.8H1142.5M1139.5 707.5H1142.5M1139.5 702.3H1142.5M1139.5 698.3H1142.5M1139.5 695.0H1142.5M1139.5 692.2H1142.5M1139.5 689.8H1142.5M1139.5 687.7H1142.5M1139.5 673.1H1142.5M1139.5 665.8H1142.5M1139.5 660.6H1142.5M1139.5 656.6H1142.5M1139.5 653.3H1142.5M1139.5 650.5H1142.5M1139.5 648.1H1142.5M1139.5 646.0H1142.5M1139.5 632.2H1142.5M1139.5 822.1H1142.5M1139.5 818.8H1142.5M1139.5 816.0H1142.5M1139.5 813.6H1142.5M1139.5 811.5H1142.5M1154.5 831.3V837.3M1188.5 831.3V837.3M1222.5 831.3V837.3M1278.5 831.3V837.3M1328.5 831.3V837.3M1161.3 831.3V834.3M1168.1 831.3V834.3M1174.9 831.3V834.3M1181.7 831.3V834.3M1198.7 831.3V834.3M1204.7 831.3V834.3M1209.0 831.3V834.3M1212.3 831.3V834.3M1215.0 831.3V834.3M1217.2 831.3V834.3M1219.2 831.3V834.3M1220.9 831.3V834.3M1239.4 831.3V834.3M1249.2 831.3V834.3M1256.2 831.3V834.3M1261.6 831.3V834.3M1266.1 831.3V834.3M1269.8 831.3V834.3M1273.1 831.3V834.3M1275.9 831.3V834.3M1293.6 831.3V834.3M1302.4 831.3V834.3M1308.6 831.3V834.3M1313.4 831.3V834.3M1317.4 831.3V834.3M1320.8 831.3V834.3M1323.7 831.3V834.3M1326.2 831.3V834.3M1184.5 831.3V837.3M1186.0 831.3V837.3M1187.5 831.3V837.3M1189.5 831.3V837.3M1191.0 831.3V837.3M1192.5 831.3V837.3M1343.6 831.3V834.3" stroke="#222" stroke-width="1.2" fill="none"/>
<path d="M1347.8 671.1H1222V768.5H1347.8" fill="none" stroke="#555" stroke-width="1.5"/>
<text x="870.00" y="66.80" font-size="26" text-anchor="start" fill="#000">naïve mice</text>
<text x="870.30" y="344.50" font-size="26" text-anchor="start" fill="#000">soluble MD39</text>
<text x="870.30" y="618.80" font-size="26" text-anchor="start" fill="#000">DSPC/Ni/MPB</text>
<text x="870.30" y="650.50" font-size="26" text-anchor="start" fill="#000">lipos</text>
<path d="M845 699V852.3H1006" fill="none" stroke="#000" stroke-width="4.2" stroke-linejoin="miter"/>
<path d="M831.4 724L845 699.5L858.6 724" fill="none" stroke="#000" stroke-width="4.2" stroke-linecap="round" stroke-linejoin="miter"/>
<path d="M981 839.0999999999999L1005.5 852.3L981 865.5" fill="none" stroke="#000" stroke-width="4.2" stroke-linecap="round" stroke-linejoin="miter"/>
<path d="M1120.4 699V852.3H1281" fill="none" stroke="#000" stroke-width="4.2" stroke-linejoin="miter"/>
<path d="M1106.8000000000002 724L1120.4 699.5L1134.0 724" fill="none" stroke="#000" stroke-width="4.2" stroke-linecap="round" stroke-linejoin="miter"/>
<path d="M1256 839.0999999999999L1280.5 852.3L1256 865.5" fill="none" stroke="#000" stroke-width="4.2" stroke-linecap="round" stroke-linejoin="miter"/>
<text x="832.40" y="786.00" font-size="29.5" font-weight="bold" text-anchor="middle" transform="rotate(-90 832.4 786)" fill="#000">CXCR5</text>
<text x="915.40" y="892.30" font-size="29.5" font-weight="bold" text-anchor="middle" fill="#000">PD1</text>
<text x="1106.40" y="784.40" font-size="29.5" font-weight="bold" text-anchor="middle" transform="rotate(-90 1106.4 784.4)" fill="#000">OX40</text>
<text x="1189.70" y="892.30" font-size="29.5" font-weight="bold" text-anchor="middle" fill="#000">CD25</text>
<line x1="461.80" y1="51.00" x2="461.80" y2="411.00" stroke="#000" stroke-width="4" stroke-linecap="butt"/>
<line x1="450.30" y1="409.00" x2="809.50" y2="409.00" stroke="#000" stroke-width="4" stroke-linecap="butt"/>
<line x1="450.30" y1="409.00" x2="461.80" y2="409.00" stroke="#000" stroke-width="4" stroke-linecap="butt"/>
<text x="443.30" y="419.50" font-size="23.5" font-weight="bold" text-anchor="end" letter-spacing="1.5" fill="#000">0.0</text>
<line x1="450.30" y1="337.80" x2="461.80" y2="337.80" stroke="#000" stroke-width="4" stroke-linecap="butt"/>
<text x="443.30" y="348.30" font-size="23.5" font-weight="bold" text-anchor="end" letter-spacing="1.5" fill="#000">1.0</text>
<line x1="450.30" y1="266.60" x2="461.80" y2="266.60" stroke="#000" stroke-width="4" stroke-linecap="butt"/>
<text x="443.30" y="277.10" font-size="23.5" font-weight="bold" text-anchor="end" letter-spacing="1.5" fill="#000">2.0</text>
<line x1="450.30" y1="195.40" x2="461.80" y2="195.40" stroke="#000" stroke-width="4" stroke-linecap="butt"/>
<text x="443.30" y="205.90" font-size="23.5" font-weight="bold" text-anchor="end" letter-spacing="1.5" fill="#000">3.0</text>
<line x1="450.30" y1="124.20" x2="461.80" y2="124.20" stroke="#000" stroke-width="4" stroke-linecap="butt"/>
<text x="443.30" y="134.70" font-size="23.5" font-weight="bold" text-anchor="end" letter-spacing="1.5" fill="#000">4.0</text>
<line x1="450.30" y1="53.00" x2="461.80" y2="53.00" stroke="#000" stroke-width="4" stroke-linecap="butt"/>
<text x="443.30" y="63.50" font-size="23.5" font-weight="bold" text-anchor="end" letter-spacing="1.5" fill="#000">5.0</text>
<line x1="504.80" y1="409.00" x2="504.80" y2="420.00" stroke="#000" stroke-width="4" stroke-linecap="butt"/>
<line x1="591.00" y1="409.00" x2="591.00" y2="420.00" stroke="#000" stroke-width="4" stroke-linecap="butt"/>
<line x1="677.30" y1="409.00" x2="677.30" y2="420.00" stroke="#000" stroke-width="4" stroke-linecap="butt"/>
<line x1="763.50" y1="409.00" x2="763.50" y2="420.00" stroke="#000" stroke-width="4" stroke-linecap="butt"/>
<line x1="523.75" y1="32.70" x2="778.80" y2="32.70" stroke="#000" stroke-width="4" stroke-linecap="butt"/>
<line x1="608.25" y1="44.40" x2="778.80" y2="44.40" stroke="#000" stroke-width="4" stroke-linecap="butt"/>
<line x1="693.50" y1="54.00" x2="778.80" y2="54.00" stroke="#000" stroke-width="4" stroke-linecap="butt"/>
<line x1="492.00" y1="88.20" x2="747.00" y2="88.20" stroke="#000" stroke-width="4" stroke-linecap="butt"/>
<line x1="577.00" y1="99.70" x2="747.00" y2="99.70" stroke="#000" stroke-width="4" stroke-linecap="butt"/>
<line x1="662.00" y1="109.40" x2="747.00" y2="109.40" stroke="#000" stroke-width="4" stroke-linecap="butt"/>
<line x1="520.00" y1="207.00" x2="693.30" y2="207.00" stroke="#000" stroke-width="4" stroke-linecap="butt"/>
<line x1="609.50" y1="215.50" x2="693.30" y2="215.50" stroke="#000" stroke-width="4" stroke-linecap="butt"/>
<line x1="490.00" y1="255.50" x2="663.80" y2="255.50" stroke="#000" stroke-width="4" stroke-linecap="butt"/>
<line x1="490.00" y1="265.80" x2="569.30" y2="265.80" stroke="#000" stroke-width="4" stroke-linecap="butt"/>
<line x1="579.30" y1="265.80" x2="663.80" y2="265.80" stroke="#000" stroke-width="4" stroke-linecap="butt"/>
<text x="653.95" y="37.90" font-size="26" text-anchor="middle" letter-spacing="3.4" fill="#000">****</text>
<text x="622.25" y="93.10" font-size="26" text-anchor="middle" letter-spacing="3.4" fill="#000">****</text>
<text x="609.00" y="214.05" font-size="26" text-anchor="middle" letter-spacing="3.4" fill="#000">**</text>
<text x="573.55" y="250.40" font-size="26" text-anchor="middle" letter-spacing="3" fill="#000">ns</text>
<line x1="489.00" y1="369.13" x2="489.00" y2="377.67" stroke="#f50000" stroke-width="3.6" stroke-linecap="butt"/>
<line x1="484.00" y1="369.13" x2="494.00" y2="369.13" stroke="#f50000" stroke-width="3.6" stroke-linecap="butt"/>
<line x1="484.00" y1="377.67" x2="494.00" y2="377.67" stroke="#f50000" stroke-width="3.6" stroke-linecap="butt"/>
<line x1="479.00" y1="373.40" x2="499.00" y2="373.40" stroke="#f50000" stroke-width="3.6" stroke-linecap="butt"/>
<circle cx="489.00" cy="369.84" r="8" fill="#f50000"/>
<circle cx="489.00" cy="373.40" r="8" fill="#f50000"/>
<circle cx="489.00" cy="376.96" r="8" fill="#f50000"/>
<circle cx="489.00" cy="380.52" r="8" fill="#f50000"/>
<circle cx="489.00" cy="367.70" r="8" fill="#f50000"/>
<line x1="521.50" y1="373.40" x2="521.50" y2="379.10" stroke="#0000f5" stroke-width="3.6" stroke-linecap="butt"/>
<line x1="516.50" y1="373.40" x2="526.50" y2="373.40" stroke="#0000f5" stroke-width="3.6" stroke-linecap="butt"/>
<line x1="516.50" y1="379.10" x2="526.50" y2="379.10" stroke="#0000f5" stroke-width="3.6" stroke-linecap="butt"/>
<line x1="511.50" y1="376.25" x2="531.50" y2="376.25" stroke="#0000f5" stroke-width="3.6" stroke-linecap="butt"/>
<circle cx="521.50" cy="369.84" r="8" fill="#0000f5"/>
<circle cx="521.50" cy="373.40" r="8" fill="#0000f5"/>
<circle cx="521.50" cy="376.96" r="8" fill="#0000f5"/>
<circle cx="521.50" cy="380.52" r="8" fill="#0000f5"/>
<circle cx="521.50" cy="374.82" r="8" fill="#0000f5"/>
<line x1="575.00" y1="297.50" x2="575.00" y2="381.00" stroke="#f50000" stroke-width="3.6" stroke-linecap="butt"/>
<line x1="570.00" y1="297.50" x2="580.00" y2="297.50" stroke="#f50000" stroke-width="3.6" stroke-linecap="butt"/>
<line x1="570.00" y1="381.00" x2="580.00" y2="381.00" stroke="#f50000" stroke-width="3.6" stroke-linecap="butt"/>
<line x1="565.00" y1="339.50" x2="585.00" y2="339.50" stroke="#f50000" stroke-width="3.6" stroke-linecap="butt"/>
<circle cx="575.00" cy="282.50" r="8" fill="#f50000"/>
<circle cx="575.00" cy="309.30" r="8" fill="#f50000"/>
<circle cx="575.00" cy="358.00" r="8" fill="#f50000"/>
<circle cx="575.00" cy="370.00" r="8" fill="#f50000"/>
<circle cx="575.00" cy="380.00" r="8" fill="#f50000"/>
<line x1="607.00" y1="372.00" x2="607.00" y2="386.00" stroke="#0000f5" stroke-width="3.6" stroke-linecap="butt"/>
<line x1="602.00" y1="372.00" x2="612.00" y2="372.00" stroke="#0000f5" stroke-width="3.6" stroke-linecap="butt"/>
<line x1="602.00" y1="386.00" x2="612.00" y2="386.00" stroke="#0000f5" stroke-width="3.6" stroke-linecap="butt"/>
<line x1="597.00" y1="378.00" x2="617.00" y2="378.00" stroke="#0000f5" stroke-width="3.6" stroke-linecap="butt"/>
<circle cx="607.00" cy="368.00" r="8" fill="#0000f5"/>
<circle cx="607.00" cy="378.00" r="8" fill="#0000f5"/>
<circle cx="607.00" cy="386.00" r="8" fill="#0000f5"/>
<circle cx="607.00" cy="390.00" r="8" fill="#0000f5"/>
<circle cx="607.00" cy="375.00" r="8" fill="#0000f5"/>
<line x1="661.30" y1="287.50" x2="661.30" y2="370.00" stroke="#f50000" stroke-width="3.6" stroke-linecap="butt"/>
<line x1="656.30" y1="287.50" x2="666.30" y2="287.50" stroke="#f50000" stroke-width="3.6" stroke-linecap="butt"/>
<line x1="656.30" y1="370.00" x2="666.30" y2="370.00" stroke="#f50000" stroke-width="3.6" stroke-linecap="butt"/>
<line x1="651.30" y1="330.00" x2="671.30" y2="330.00" stroke="#f50000" stroke-width="3.6" stroke-linecap="butt"/>
<circle cx="649.30" cy="327.50" r="8" fill="#f50000"/>
<circle cx="667.00" cy="330.50" r="8" fill="#f50000"/>
<circle cx="661.30" cy="279.50" r="8" fill="#f50000"/>
<circle cx="661.30" cy="378.20" r="8" fill="#f50000"/>
<line x1="693.30" y1="260.00" x2="693.30" y2="338.80" stroke="#0000f5" stroke-width="3.6" stroke-linecap="butt"/>
<line x1="688.30" y1="260.00" x2="698.30" y2="260.00" stroke="#0000f5" stroke-width="3.6" stroke-linecap="butt"/>
<line x1="688.30" y1="338.80" x2="698.30" y2="338.80" stroke="#0000f5" stroke-width="3.6" stroke-linecap="butt"/>
<line x1="683.30" y1="299.30" x2="703.30" y2="299.30" stroke="#0000f5" stroke-width="3.6" stroke-linecap="butt"/>
<circle cx="693.30" cy="268.80" r="8" fill="#0000f5"/>
<circle cx="693.30" cy="277.00" r="8" fill="#0000f5"/>
<circle cx="693.30" cy="328.00" r="8" fill="#0000f5"/>
<circle cx="693.30" cy="353.80" r="8" fill="#0000f5"/>
<line x1="747.20" y1="134.60" x2="747.20" y2="208.80" stroke="#f50000" stroke-width="3.6" stroke-linecap="butt"/>
<line x1="742.20" y1="134.60" x2="752.20" y2="134.60" stroke="#f50000" stroke-width="3.6" stroke-linecap="butt"/>
<line x1="742.20" y1="208.80" x2="752.20" y2="208.80" stroke="#f50000" stroke-width="3.6" stroke-linecap="butt"/>
<line x1="737.20" y1="171.50" x2="757.20" y2="171.50" stroke="#f50000" stroke-width="3.6" stroke-linecap="butt"/>
<circle cx="759.00" cy="126.20" r="8" fill="#f50000"/>
<circle cx="742.00" cy="146.90" r="8" fill="#f50000"/>
<circle cx="735.40" cy="171.20" r="8" fill="#f50000"/>
<circle cx="752.30" cy="193.30" r="8" fill="#f50000"/>
<circle cx="747.50" cy="220.20" r="8" fill="#f50000"/>
<line x1="779.60" y1="136.00" x2="779.60" y2="219.10" stroke="#0000f5" stroke-width="3.6" stroke-linecap="butt"/>
<line x1="774.60" y1="136.00" x2="784.60" y2="136.00" stroke="#0000f5" stroke-width="3.6" stroke-linecap="butt"/>
<line x1="774.60" y1="219.10" x2="784.60" y2="219.10" stroke="#0000f5" stroke-width="3.6" stroke-linecap="butt"/>
<line x1="769.60" y1="177.00" x2="789.60" y2="177.00" stroke="#0000f5" stroke-width="3.6" stroke-linecap="butt"/>
<circle cx="774.20" cy="135.80" r="8" fill="#0000f5"/>
<circle cx="791.40" cy="131.70" r="8" fill="#0000f5"/>
<circle cx="767.80" cy="186.70" r="8" fill="#0000f5"/>
<circle cx="785.00" cy="198.00" r="8" fill="#0000f5"/>
<circle cx="779.60" cy="231.70" r="8" fill="#0000f5"/>
<line x1="1543.30" y1="52.40" x2="1543.30" y2="411.70" stroke="#000" stroke-width="4" stroke-linecap="butt"/>
<line x1="1531.80" y1="409.70" x2="1890.20" y2="409.70" stroke="#000" stroke-width="4" stroke-linecap="butt"/>
<line x1="1531.80" y1="409.70" x2="1543.30" y2="409.70" stroke="#000" stroke-width="4" stroke-linecap="butt"/>
<text x="1524.80" y="420.20" font-size="23.5" font-weight="bold" text-anchor="end" letter-spacing="1.5" fill="#000">0.0</text>
<line x1="1531.80" y1="320.85" x2="1543.30" y2="320.85" stroke="#000" stroke-width="4" stroke-linecap="butt"/>
<text x="1524.80" y="331.35" font-size="23.5" font-weight="bold" text-anchor="end" letter-spacing="1.5" fill="#000">0.5</text>
<line x1="1531.80" y1="232.00" x2="1543.30" y2="232.00" stroke="#000" stroke-width="4" stroke-linecap="butt"/>
<text x="1524.80" y="242.50" font-size="23.5" font-weight="bold" text-anchor="end" letter-spacing="1.5" fill="#000">1.0</text>
<line x1="1531.80" y1="143.15" x2="1543.30" y2="143.15" stroke="#000" stroke-width="4" stroke-linecap="butt"/>
<text x="1524.80" y="153.65" font-size="23.5" font-weight="bold" text-anchor="end" letter-spacing="1.5" fill="#000">1.5</text>
<line x1="1531.80" y1="54.30" x2="1543.30" y2="54.30" stroke="#000" stroke-width="4" stroke-linecap="butt"/>
<text x="1524.80" y="64.80" font-size="23.5" font-weight="bold" text-anchor="end" letter-spacing="1.5" fill="#000">2.0</text>
<line x1="1586.20" y1="409.70" x2="1586.20" y2="420.40" stroke="#000" stroke-width="4" stroke-linecap="butt"/>
<line x1="1671.80" y1="409.70" x2="1671.80" y2="420.40" stroke="#000" stroke-width="4" stroke-linecap="butt"/>
<line x1="1757.70" y1="409.70" x2="1757.70" y2="420.40" stroke="#000" stroke-width="4" stroke-linecap="butt"/>
<line x1="1844.20" y1="409.70" x2="1844.20" y2="420.40" stroke="#000" stroke-width="4" stroke-linecap="butt"/>
<line x1="1611.80" y1="44.60" x2="1866.50" y2="44.60" stroke="#000" stroke-width="4" stroke-linecap="butt"/>
<line x1="1696.90" y1="54.40" x2="1866.50" y2="54.40" stroke="#000" stroke-width="4" stroke-linecap="butt"/>
<line x1="1781.40" y1="64.70" x2="1866.50" y2="64.70" stroke="#000" stroke-width="4" stroke-linecap="butt"/>
<line x1="1575.60" y1="97.10" x2="1829.70" y2="97.10" stroke="#000" stroke-width="4" stroke-linecap="butt"/>
<line x1="1660.00" y1="106.60" x2="1829.70" y2="106.60" stroke="#000" stroke-width="4" stroke-linecap="butt"/>
<line x1="1745.20" y1="132.00" x2="1829.70" y2="132.00" stroke="#000" stroke-width="4" stroke-linecap="butt"/>
<line x1="1601.50" y1="242.70" x2="1775.00" y2="242.70" stroke="#000" stroke-width="4" stroke-linecap="butt"/>
<line x1="1691.30" y1="253.30" x2="1775.00" y2="253.30" stroke="#000" stroke-width="4" stroke-linecap="butt"/>
<line x1="1572.80" y1="286.50" x2="1745.70" y2="286.50" stroke="#000" stroke-width="4" stroke-linecap="butt"/>
<line x1="1662.00" y1="296.80" x2="1745.70" y2="296.80" stroke="#000" stroke-width="4" stroke-linecap="butt"/>
<text x="1741.80" y="50.30" font-size="26" text-anchor="middle" letter-spacing="3.4" fill="#000">****</text>
<text x="1704.60" y="102.20" font-size="26" text-anchor="middle" letter-spacing="3.4" fill="#000">****</text>
<text x="1787.00" y="139.10" font-size="26" text-anchor="middle" letter-spacing="3.4" fill="#000">**</text>
<text x="1692.55" y="250.80" font-size="26" text-anchor="middle" letter-spacing="3.4" fill="#000">*</text>
<text x="1655.75" y="280.90" font-size="26" text-anchor="middle" letter-spacing="3" fill="#000">ns</text>
<line x1="1569.40" y1="386.00" x2="1569.40" y2="396.00" stroke="#f50000" stroke-width="3.6" stroke-linecap="butt"/>
<line x1="1564.40" y1="386.00" x2="1574.40" y2="386.00" stroke="#f50000" stroke-width="3.6" stroke-linecap="butt"/>
<line x1="1564.40" y1="396.00" x2="1574.40" y2="396.00" stroke="#f50000" stroke-width="3.6" stroke-linecap="butt"/>
<line x1="1559.40" y1="391.10" x2="1579.40" y2="391.10" stroke="#f50000" stroke-width="3.6" stroke-linecap="butt"/>
<circle cx="1569.40" cy="378.50" r="8" fill="#f50000"/>
<circle cx="1569.40" cy="386.90" r="8" fill="#f50000"/>
<circle cx="1569.40" cy="398.00" r="8" fill="#f50000"/>
<line x1="1602.40" y1="403.00" x2="1602.40" y2="407.00" stroke="#0000f5" stroke-width="3.6" stroke-linecap="butt"/>
<line x1="1597.40" y1="403.00" x2="1607.40" y2="403.00" stroke="#0000f5" stroke-width="3.6" stroke-linecap="butt"/>
<line x1="1597.40" y1="407.00" x2="1607.40" y2="407.00" stroke="#0000f5" stroke-width="3.6" stroke-linecap="butt"/>
<line x1="1592.40" y1="405.00" x2="1612.40" y2="405.00" stroke="#0000f5" stroke-width="3.6" stroke-linecap="butt"/>
<circle cx="1602.40" cy="405.00" r="8" fill="#0000f5"/>
<circle cx="1602.40" cy="408.00" r="8" fill="#0000f5"/>
<circle cx="1598.00" cy="406.00" r="8" fill="#0000f5"/>
<line x1="1655.90" y1="388.00" x2="1655.90" y2="397.00" stroke="#f50000" stroke-width="3.6" stroke-linecap="butt"/>
<line x1="1650.90" y1="388.00" x2="1660.90" y2="388.00" stroke="#f50000" stroke-width="3.6" stroke-linecap="butt"/>
<line x1="1650.90" y1="397.00" x2="1660.90" y2="397.00" stroke="#f50000" stroke-width="3.6" stroke-linecap="butt"/>
<line x1="1645.90" y1="392.50" x2="1665.90" y2="392.50" stroke="#f50000" stroke-width="3.6" stroke-linecap="butt"/>
<circle cx="1655.90" cy="384.00" r="8" fill="#f50000"/>
<circle cx="1655.90" cy="392.50" r="8" fill="#f50000"/>
<circle cx="1655.90" cy="399.40" r="8" fill="#f50000"/>
<line x1="1688.00" y1="400.00" x2="1688.00" y2="408.00" stroke="#0000f5" stroke-width="3.6" stroke-linecap="butt"/>
<line x1="1683.00" y1="400.00" x2="1693.00" y2="400.00" stroke="#0000f5" stroke-width="3.6" stroke-linecap="butt"/>
<line x1="1683.00" y1="408.00" x2="1693.00" y2="408.00" stroke="#0000f5" stroke-width="3.6" stroke-linecap="butt"/>
<line x1="1678.00" y1="404.50" x2="1698.00" y2="404.50" stroke="#0000f5" stroke-width="3.6" stroke-linecap="butt"/>
<circle cx="1688.00" cy="398.00" r="8" fill="#0000f5"/>
<circle cx="1688.00" cy="406.40" r="8" fill="#0000f5"/>
<line x1="1742.40" y1="310.00" x2="1742.40" y2="362.00" stroke="#f50000" stroke-width="3.6" stroke-linecap="butt"/>
<line x1="1737.40" y1="310.00" x2="1747.40" y2="310.00" stroke="#f50000" stroke-width="3.6" stroke-linecap="butt"/>
<line x1="1737.40" y1="362.00" x2="1747.40" y2="362.00" stroke="#f50000" stroke-width="3.6" stroke-linecap="butt"/>
<line x1="1732.40" y1="333.90" x2="1752.40" y2="333.90" stroke="#f50000" stroke-width="3.6" stroke-linecap="butt"/>
<circle cx="1742.40" cy="308.20" r="8" fill="#f50000"/>
<circle cx="1730.70" cy="326.40" r="8" fill="#f50000"/>
<circle cx="1748.00" cy="338.60" r="8" fill="#f50000"/>
<circle cx="1742.40" cy="364.00" r="8" fill="#f50000"/>
<line x1="1775.00" y1="348.00" x2="1775.00" y2="389.70" stroke="#0000f5" stroke-width="3.6" stroke-linecap="butt"/>
<line x1="1770.00" y1="348.00" x2="1780.00" y2="348.00" stroke="#0000f5" stroke-width="3.6" stroke-linecap="butt"/>
<line x1="1770.00" y1="389.70" x2="1780.00" y2="389.70" stroke="#0000f5" stroke-width="3.6" stroke-linecap="butt"/>
<line x1="1765.00" y1="371.00" x2="1785.00" y2="371.00" stroke="#0000f5" stroke-width="3.6" stroke-linecap="butt"/>
<circle cx="1762.70" cy="347.30" r="8" fill="#0000f5"/>
<circle cx="1780.00" cy="347.30" r="8" fill="#0000f5"/>
<circle cx="1775.00" cy="382.70" r="8" fill="#0000f5"/>
<circle cx="1775.00" cy="399.40" r="8" fill="#0000f5"/>
<circle cx="1775.00" cy="378.50" r="8" fill="#0000f5"/>
<line x1="1828.30" y1="180.00" x2="1828.30" y2="289.80" stroke="#f50000" stroke-width="3.6" stroke-linecap="butt"/>
<line x1="1823.30" y1="180.00" x2="1833.30" y2="180.00" stroke="#f50000" stroke-width="3.6" stroke-linecap="butt"/>
<line x1="1823.30" y1="289.80" x2="1833.30" y2="289.80" stroke="#f50000" stroke-width="3.6" stroke-linecap="butt"/>
<line x1="1818.30" y1="235.40" x2="1838.30" y2="235.40" stroke="#f50000" stroke-width="3.6" stroke-linecap="butt"/>
<circle cx="1828.30" cy="150.60" r="8" fill="#f50000"/>
<circle cx="1828.30" cy="216.20" r="8" fill="#f50000"/>
<circle cx="1828.30" cy="241.30" r="8" fill="#f50000"/>
<circle cx="1821.00" cy="283.70" r="8" fill="#f50000"/>
<circle cx="1840.60" cy="283.70" r="8" fill="#f50000"/>
<line x1="1861.00" y1="268.00" x2="1861.00" y2="325.50" stroke="#0000f5" stroke-width="3.6" stroke-linecap="butt"/>
<line x1="1856.00" y1="268.00" x2="1866.00" y2="268.00" stroke="#0000f5" stroke-width="3.6" stroke-linecap="butt"/>
<line x1="1856.00" y1="325.50" x2="1866.00" y2="325.50" stroke="#0000f5" stroke-width="3.6" stroke-linecap="butt"/>
<line x1="1851.00" y1="296.80" x2="1871.00" y2="296.80" stroke="#0000f5" stroke-width="3.6" stroke-linecap="butt"/>
<circle cx="1861.00" cy="267.00" r="8" fill="#0000f5"/>
<circle cx="1861.00" cy="283.10" r="8" fill="#0000f5"/>
<circle cx="1861.00" cy="293.40" r="8" fill="#0000f5"/>
<circle cx="1861.00" cy="344.20" r="8" fill="#0000f5"/>
<line x1="1543.20" y1="482.40" x2="1543.20" y2="842.00" stroke="#000" stroke-width="4" stroke-linecap="butt"/>
<line x1="1531.70" y1="840.00" x2="1889.50" y2="840.00" stroke="#000" stroke-width="4" stroke-linecap="butt"/>
<line x1="1531.70" y1="840.00" x2="1543.20" y2="840.00" stroke="#000" stroke-width="4" stroke-linecap="butt"/>
<text x="1524.70" y="850.50" font-size="23.5" font-weight="bold" text-anchor="end" letter-spacing="1.5" fill="#000">0.0</text>
<line x1="1531.70" y1="751.15" x2="1543.20" y2="751.15" stroke="#000" stroke-width="4" stroke-linecap="butt"/>
<text x="1524.70" y="761.65" font-size="23.5" font-weight="bold" text-anchor="end" letter-spacing="1.5" fill="#000">0.2</text>
<line x1="1531.70" y1="662.30" x2="1543.20" y2="662.30" stroke="#000" stroke-width="4" stroke-linecap="butt"/>
<text x="1524.70" y="672.80" font-size="23.5" font-weight="bold" text-anchor="end" letter-spacing="1.5" fill="#000">0.4</text>
<line x1="1531.70" y1="573.45" x2="1543.20" y2="573.45" stroke="#000" stroke-width="4" stroke-linecap="butt"/>
<text x="1524.70" y="583.95" font-size="23.5" font-weight="bold" text-anchor="end" letter-spacing="1.5" fill="#000">0.6</text>
<line x1="1531.70" y1="484.60" x2="1543.20" y2="484.60" stroke="#000" stroke-width="4" stroke-linecap="butt"/>
<text x="1524.70" y="495.10" font-size="23.5" font-weight="bold" text-anchor="end" letter-spacing="1.5" fill="#000">0.8</text>
<line x1="1585.30" y1="840.00" x2="1585.30" y2="850.60" stroke="#000" stroke-width="4" stroke-linecap="butt"/>
<line x1="1671.80" y1="840.00" x2="1671.80" y2="850.60" stroke="#000" stroke-width="4" stroke-linecap="butt"/>
<line x1="1757.70" y1="840.00" x2="1757.70" y2="850.60" stroke="#000" stroke-width="4" stroke-linecap="butt"/>
<line x1="1843.60" y1="840.00" x2="1843.60" y2="850.60" stroke="#000" stroke-width="4" stroke-linecap="butt"/>
<line x1="1609.30" y1="475.70" x2="1863.20" y2="475.70" stroke="#000" stroke-width="4" stroke-linecap="butt"/>
<line x1="1694.10" y1="485.50" x2="1863.20" y2="485.50" stroke="#000" stroke-width="4" stroke-linecap="butt"/>
<line x1="1778.60" y1="508.30" x2="1863.20" y2="508.30" stroke="#000" stroke-width="4" stroke-linecap="butt"/>
<line x1="1570.30" y1="550.70" x2="1823.00" y2="550.70" stroke="#000" stroke-width="4" stroke-linecap="butt"/>
<line x1="1653.70" y1="575.30" x2="1823.00" y2="575.30" stroke="#000" stroke-width="4" stroke-linecap="butt"/>
<line x1="1738.80" y1="606.80" x2="1823.00" y2="606.80" stroke="#000" stroke-width="4" stroke-linecap="butt"/>
<line x1="1568.60" y1="654.20" x2="1741.00" y2="654.20" stroke="#000" stroke-width="4" stroke-linecap="butt"/>
<line x1="1657.90" y1="664.50" x2="1741.00" y2="664.50" stroke="#000" stroke-width="4" stroke-linecap="butt"/>
<line x1="1591.80" y1="774.20" x2="1764.70" y2="774.20" stroke="#000" stroke-width="4" stroke-linecap="butt"/>
<line x1="1681.00" y1="782.80" x2="1764.70" y2="782.80" stroke="#000" stroke-width="4" stroke-linecap="butt"/>
<text x="1738.70" y="481.65" font-size="26" text-anchor="middle" letter-spacing="3.4" fill="#000">****</text>
<text x="1821.20" y="517.00" font-size="26" text-anchor="middle" letter-spacing="3.4" fill="#000">***</text>
<text x="1703.90" y="557.20" font-size="26" text-anchor="middle" letter-spacing="3.4" fill="#000">***</text>
<text x="1741.50" y="582.80" font-size="26" text-anchor="middle" letter-spacing="3.4" fill="#000">****</text>
<text x="1780.25" y="600.50" font-size="26" text-anchor="middle" letter-spacing="3" fill="#000">ns</text>
<text x="1659.20" y="663.90" font-size="26" text-anchor="middle" letter-spacing="3.4" fill="#000">*</text>
<text x="1685.30" y="781.20" font-size="26" text-anchor="middle" letter-spacing="3.4" fill="#000">*</text>
<line x1="1569.40" y1="815.00" x2="1569.40" y2="828.00" stroke="#f50000" stroke-width="3.6" stroke-linecap="butt"/>
<line x1="1564.40" y1="815.00" x2="1574.40" y2="815.00" stroke="#f50000" stroke-width="3.6" stroke-linecap="butt"/>
<line x1="1564.40" y1="828.00" x2="1574.40" y2="828.00" stroke="#f50000" stroke-width="3.6" stroke-linecap="butt"/>
<line x1="1559.40" y1="821.30" x2="1579.40" y2="821.30" stroke="#f50000" stroke-width="3.6" stroke-linecap="butt"/>
<circle cx="1569.40" cy="808.80" r="8" fill="#f50000"/>
<circle cx="1570.20" cy="818.50" r="8" fill="#f50000"/>
<circle cx="1570.40" cy="826.00" r="8" fill="#f50000"/>
<circle cx="1569.80" cy="832.50" r="8" fill="#f50000"/>
<line x1="1601.50" y1="836.00" x2="1601.50" y2="840.00" stroke="#0000f5" stroke-width="3.6" stroke-linecap="butt"/>
<line x1="1596.50" y1="836.00" x2="1606.50" y2="836.00" stroke="#0000f5" stroke-width="3.6" stroke-linecap="butt"/>
<line x1="1596.50" y1="840.00" x2="1606.50" y2="840.00" stroke="#0000f5" stroke-width="3.6" stroke-linecap="butt"/>
<line x1="1591.50" y1="838.00" x2="1611.50" y2="838.00" stroke="#0000f5" stroke-width="3.6" stroke-linecap="butt"/>
<circle cx="1601.00" cy="832.50" r="8" fill="#0000f5"/>
<circle cx="1602.00" cy="838.00" r="8" fill="#0000f5"/>
<circle cx="1602.00" cy="840.00" r="8" fill="#0000f5"/>
<line x1="1655.00" y1="824.00" x2="1655.00" y2="832.00" stroke="#f50000" stroke-width="3.6" stroke-linecap="butt"/>
<line x1="1650.00" y1="824.00" x2="1660.00" y2="824.00" stroke="#f50000" stroke-width="3.6" stroke-linecap="butt"/>
<line x1="1650.00" y1="832.00" x2="1660.00" y2="832.00" stroke="#f50000" stroke-width="3.6" stroke-linecap="butt"/>
<line x1="1645.00" y1="827.40" x2="1665.00" y2="827.40" stroke="#f50000" stroke-width="3.6" stroke-linecap="butt"/>
<circle cx="1655.00" cy="822.70" r="8" fill="#f50000"/>
<circle cx="1655.00" cy="835.30" r="8" fill="#f50000"/>
<line x1="1688.00" y1="836.00" x2="1688.00" y2="840.00" stroke="#0000f5" stroke-width="3.6" stroke-linecap="butt"/>
<line x1="1683.00" y1="836.00" x2="1693.00" y2="836.00" stroke="#0000f5" stroke-width="3.6" stroke-linecap="butt"/>
<line x1="1683.00" y1="840.00" x2="1693.00" y2="840.00" stroke="#0000f5" stroke-width="3.6" stroke-linecap="butt"/>
<line x1="1678.00" y1="838.00" x2="1698.00" y2="838.00" stroke="#0000f5" stroke-width="3.6" stroke-linecap="butt"/>
<circle cx="1688.00" cy="836.70" r="8" fill="#0000f5"/>
<circle cx="1688.00" cy="839.00" r="8" fill="#0000f5"/>
<circle cx="1688.50" cy="840.00" r="8" fill="#0000f5"/>
<line x1="1741.50" y1="688.80" x2="1741.50" y2="746.80" stroke="#f50000" stroke-width="3.6" stroke-linecap="butt"/>
<line x1="1736.50" y1="688.80" x2="1746.50" y2="688.80" stroke="#f50000" stroke-width="3.6" stroke-linecap="butt"/>
<line x1="1736.50" y1="746.80" x2="1746.50" y2="746.80" stroke="#f50000" stroke-width="3.6" stroke-linecap="butt"/>
<line x1="1731.50" y1="716.20" x2="1751.50" y2="716.20" stroke="#f50000" stroke-width="3.6" stroke-linecap="butt"/>
<circle cx="1741.50" cy="680.40" r="8" fill="#f50000"/>
<circle cx="1741.50" cy="707.00" r="8" fill="#f50000"/>
<circle cx="1753.50" cy="728.70" r="8" fill="#f50000"/>
<circle cx="1736.80" cy="751.00" r="8" fill="#f50000"/>
<line x1="1773.60" y1="758.50" x2="1773.60" y2="819.40" stroke="#0000f5" stroke-width="3.6" stroke-linecap="butt"/>
<line x1="1768.60" y1="758.50" x2="1778.60" y2="758.50" stroke="#0000f5" stroke-width="3.6" stroke-linecap="butt"/>
<line x1="1768.60" y1="819.40" x2="1778.60" y2="819.40" stroke="#0000f5" stroke-width="3.6" stroke-linecap="butt"/>
<line x1="1763.60" y1="787.00" x2="1783.60" y2="787.00" stroke="#0000f5" stroke-width="3.6" stroke-linecap="butt"/>
<circle cx="1768.30" cy="755.80" r="8" fill="#0000f5"/>
<circle cx="1785.60" cy="751.00" r="8" fill="#0000f5"/>
<circle cx="1773.60" cy="795.60" r="8" fill="#0000f5"/>
<circle cx="1785.60" cy="804.60" r="8" fill="#0000f5"/>
<circle cx="1768.30" cy="826.30" r="8" fill="#0000f5"/>
<line x1="1827.50" y1="544.60" x2="1827.50" y2="724.50" stroke="#f50000" stroke-width="3.6" stroke-linecap="butt"/>
<line x1="1822.50" y1="544.60" x2="1832.50" y2="544.60" stroke="#f50000" stroke-width="3.6" stroke-linecap="butt"/>
<line x1="1822.50" y1="724.50" x2="1832.50" y2="724.50" stroke="#f50000" stroke-width="3.6" stroke-linecap="butt"/>
<line x1="1817.50" y1="633.30" x2="1837.50" y2="633.30" stroke="#f50000" stroke-width="3.6" stroke-linecap="butt"/>
<circle cx="1822.40" cy="537.10" r="8" fill="#f50000"/>
<circle cx="1839.20" cy="537.10" r="8" fill="#f50000"/>
<circle cx="1815.70" cy="675.10" r="8" fill="#f50000"/>
<circle cx="1832.50" cy="693.30" r="8" fill="#f50000"/>
<circle cx="1827.50" cy="724.50" r="8" fill="#f50000"/>
<line x1="1859.50" y1="649.20" x2="1859.50" y2="737.10" stroke="#0000f5" stroke-width="3.6" stroke-linecap="butt"/>
<line x1="1854.50" y1="649.20" x2="1864.50" y2="649.20" stroke="#0000f5" stroke-width="3.6" stroke-linecap="butt"/>
<line x1="1854.50" y1="737.10" x2="1864.50" y2="737.10" stroke="#0000f5" stroke-width="3.6" stroke-linecap="butt"/>
<line x1="1849.50" y1="693.00" x2="1869.50" y2="693.00" stroke="#0000f5" stroke-width="3.6" stroke-linecap="butt"/>
<circle cx="1859.50" cy="661.80" r="8" fill="#0000f5"/>
<circle cx="1859.50" cy="671.50" r="8" fill="#0000f5"/>
<circle cx="1859.50" cy="693.00" r="8" fill="#0000f5"/>
<circle cx="1859.50" cy="769.10" r="8" fill="#0000f5"/>
<text x="327.60" y="231.30" font-size="26" font-weight="bold" text-anchor="middle" letter-spacing="5.2" transform="rotate(-90 327.6 231.3)" fill="#000">% GC B cells</text>
<text x="371.30" y="230.40" font-size="26" font-weight="bold" text-anchor="middle" letter-spacing="4.6" transform="rotate(-90 371.3 230.39999999999998)" fill="#000">(of all B220+)</text>
<text x="1414.2" y="233" font-size="26" font-weight="bold" text-anchor="middle" letter-spacing="6.5" transform="rotate(-90 1414.2 233)">% T<tspan font-size="17.5" dy="7" letter-spacing="2">fh</tspan></text>
<text x="1459.60" y="230.70" font-size="26" font-weight="bold" text-anchor="middle" letter-spacing="4.6" transform="rotate(-90 1459.6 230.7)" fill="#000">(of all CD4+)</text>
<text x="1414.2" y="660" font-size="26" font-weight="bold" text-anchor="middle" letter-spacing="5.0" transform="rotate(-90 1414.2 660)">% trimer-specific T<tspan font-size="17.5" dy="7" letter-spacing="2">fh</tspan></text>
<text x="1461.50" y="660.20" font-size="26" font-weight="bold" text-anchor="middle" letter-spacing="4.6" transform="rotate(-90 1461.5 660.2)" fill="#000">(of all CD4+)</text>
<text x="515.70" y="438.10" font-size="21.5" font-weight="bold" text-anchor="end" letter-spacing="4.1" transform="rotate(-45 515.6991378028648 438.10086219713514)" fill="#000">naive m<tspan dx="3">ice</tspan></text>
<text x="601.90" y="438.10" font-size="21.5" font-weight="bold" text-anchor="end" letter-spacing="4.1" transform="rotate(-45 601.8991378028649 438.10086219713514)" fill="#000">adjuvant only</text>
<text x="688.20" y="438.10" font-size="21.5" font-weight="bold" text-anchor="end" letter-spacing="4.1" transform="rotate(-45 688.1991378028648 438.10086219713514)" fill="#000">soluble trim<tspan dx="1">er</tspan></text>
<text font-size="21.5" font-weight="bold" letter-spacing="4.1" transform="translate(774.40 438.10) rotate(-45)"><tspan x="-4" y="0" text-anchor="end" letter-spacing="4.7">DSPC/N<tspan dx="2">i/MPB</tspan></tspan><tspan x="-84" y="31" text-anchor="middle">lipo</tspan></text>
<text x="1597.10" y="869.10" font-size="21.5" font-weight="bold" text-anchor="end" letter-spacing="4.1" transform="rotate(-45 1597.0991378028648 869.1008621971351)" fill="#000">naive m<tspan dx="3">ice</tspan></text>
<text x="1682.70" y="869.10" font-size="21.5" font-weight="bold" text-anchor="end" letter-spacing="4.1" transform="rotate(-45 1682.6991378028647 869.1008621971351)" fill="#000">adjuvant only</text>
<text x="1768.60" y="869.10" font-size="21.5" font-weight="bold" text-anchor="end" letter-spacing="4.1" transform="rotate(-45 1768.5991378028648 869.1008621971351)" fill="#000">soluble trim<tspan dx="1">er</tspan></text>
<text font-size="21.5" font-weight="bold" letter-spacing="4.1" transform="translate(1855.10 869.10) rotate(-45)"><tspan x="-4" y="0" text-anchor="end" letter-spacing="4.7">DSPC/N<tspan dx="2">i/MPB</tspan></tspan><tspan x="-84" y="31" text-anchor="middle">lipo</tspan></text>
</svg>
</body></html>
